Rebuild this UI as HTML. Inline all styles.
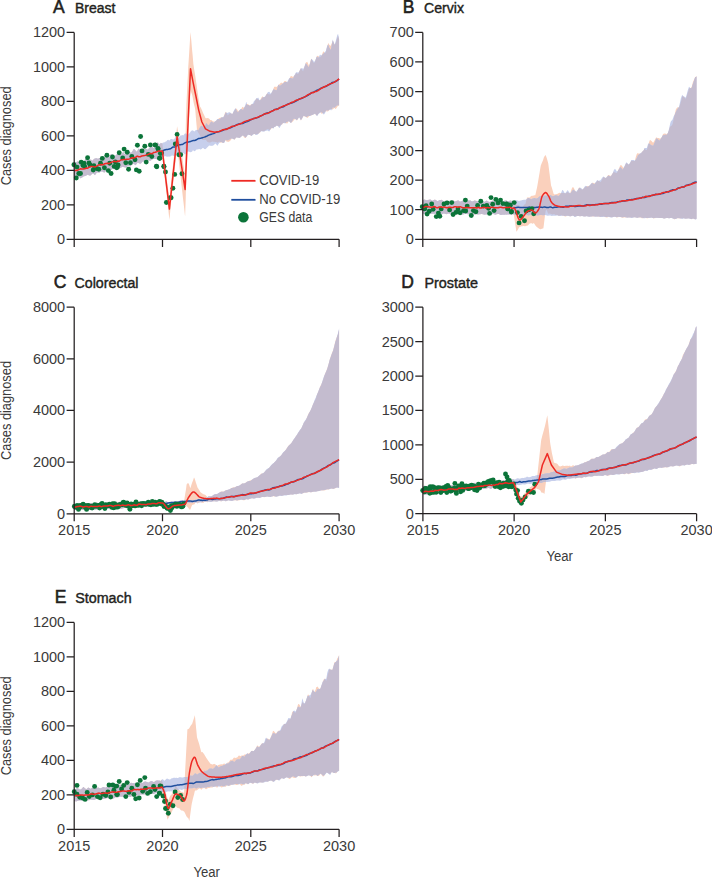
<!DOCTYPE html>
<html><head><meta charset="utf-8"><style>
html,body{margin:0;padding:0;background:#fff;}
svg{display:block;}
</style></head><body>
<svg width="712" height="878" viewBox="0 0 712 878">
<rect width="712" height="878" fill="#fff"/>
<clipPath id="cs0"><path d="M74.2,162.7 74.9,161.9 75.2,162.1 75.8,162.6 76.2,162.5 77.2,161.6 78.2,161.3 78.3,161.4 78.5,161.5 79.2,161.8 80.2,162.0 80.8,161.8 80.9,161.8 81.2,161.9 82.2,162.2 83.2,162.4 83.3,162.4 84.2,161.9 84.2,161.9 85.2,158.8 86.0,158.6 86.2,158.5 86.4,158.5 87.2,159.7 87.9,160.2 88.2,160.4 88.2,160.5 89.2,159.7 90.2,159.7 90.7,159.4 90.7,159.3 91.2,159.7 92.2,160.4 92.9,160.4 92.9,160.3 93.2,159.8 94.2,158.7 95.0,158.5 95.2,158.5 96.1,158.1 96.2,158.1 97.0,158.4 97.2,158.4 98.2,158.7 98.3,158.8 99.0,158.0 99.2,158.0 100.2,158.0 101.2,157.9 101.3,157.8 101.4,157.8 102.2,158.4 103.2,158.3 103.8,158.1 104.2,157.2 104.4,156.8 105.2,154.8 105.9,153.0 106.2,153.2 106.8,153.6 107.2,153.9 108.2,155.0 109.0,156.8 109.2,156.8 110.1,155.6 110.2,155.4 110.9,154.1 111.2,154.2 112.2,154.4 112.2,154.4 113.2,154.4 114.2,156.4 114.2,156.4 115.2,155.7 116.2,154.8 116.9,154.2 117.2,154.0 117.6,153.6 118.2,153.6 119.2,153.9 120.2,154.6 120.2,154.6 121.0,155.0 121.2,154.6 122.2,153.0 122.4,152.8 123.2,152.2 123.5,152.1 124.2,153.6 125.1,154.3 125.2,154.4 125.4,154.4 126.2,153.7 127.2,152.1 127.6,151.3 128.2,150.2 128.8,149.6 129.2,150.7 130.2,152.5 130.3,152.5 131.2,152.8 131.2,152.8 132.2,151.5 133.1,149.9 133.2,149.6 134.2,149.1 134.2,149.1 135.2,150.1 135.6,150.5 136.2,151.2 136.6,151.7 137.2,151.1 137.5,150.5 138.2,149.1 138.5,148.5 139.2,148.9 140.2,149.6 140.8,149.7 141.2,149.8 141.8,149.7 142.2,149.2 142.8,148.5 143.2,148.5 144.2,148.6 144.7,148.7 145.2,148.8 146.0,149.1 146.2,149.1 147.2,149.5 147.8,149.6 148.2,149.1 148.3,149.0 149.2,148.0 150.2,146.8 150.5,146.3 150.6,146.3 151.2,146.5 152.2,147.0 153.2,147.7 153.6,147.9 153.8,147.9 154.2,147.2 155.2,145.5 156.2,144.1 156.9,143.0 157.2,142.4 157.2,142.5 158.2,142.8 159.0,144.6 159.2,144.5 160.2,143.6 160.4,143.4 160.9,142.7 161.2,142.9 162.2,143.5 162.4,143.3 162.9,148.5 163.1,149.9 163.2,150.5 164.2,158.2 165.1,165.7 165.2,166.2 166.1,173.3 166.2,174.2 167.2,181.9 168.1,189.0 168.2,189.5 169.1,196.8 169.2,197.4 169.4,199.1 170.2,191.9 170.6,188.1 171.2,182.1 171.7,176.5 172.2,172.1 173.2,162.9 173.9,156.4 174.2,153.6 174.4,152.0 175.2,144.0 176.0,136.3 176.2,134.6 177.1,126.2 177.2,126.8 177.8,130.3 178.2,133.2 178.6,135.4 179.2,139.3 180.2,145.3 180.4,146.3 180.8,148.6 181.2,150.5 182.2,156.3 182.9,161.5 183.2,163.8 183.4,165.0 184.2,170.1 184.9,174.1 185.1,175.1 185.2,167.5 185.7,129.9 185.9,120.8 186.2,111.6 186.4,104.3 187.0,92.2 187.2,88.2 187.4,83.6 188.0,72.9 188.2,68.3 188.3,66.3 188.5,63.3 189.2,52.4 190.2,36.6 190.5,31.9 190.5,32.0 191.2,39.6 191.3,40.6 192.2,50.9 192.7,56.1 193.0,59.8 193.2,62.0 193.4,64.3 194.2,69.7 194.7,72.4 195.0,74.6 195.2,75.7 195.3,76.3 196.2,82.4 196.6,85.1 197.0,88.2 197.2,89.2 197.2,89.5 198.2,95.9 198.4,97.4 199.2,102.0 200.0,106.4 200.2,106.7 200.5,107.3 201.0,108.1 201.2,108.6 201.9,110.1 202.2,110.7 203.0,112.8 203.2,113.3 203.8,114.5 204.2,115.3 205.2,117.5 206.0,118.4 206.0,118.4 206.2,118.3 206.2,118.3 207.2,117.9 208.2,118.3 209.1,118.6 209.2,118.7 209.2,118.8 210.1,119.7 210.2,119.9 211.2,120.0 211.3,120.0 212.1,120.7 212.2,120.8 213.2,121.4 213.9,121.6 214.2,121.7 214.6,121.8 215.1,121.4 215.2,121.3 216.2,120.5 216.7,120.1 217.2,119.8 217.6,119.5 218.2,119.1 219.2,118.1 219.3,118.1 220.2,117.7 220.3,117.7 221.2,117.3 221.3,117.3 222.0,117.2 222.2,117.0 222.9,117.8 223.2,117.6 223.4,117.4 224.2,115.1 225.2,112.4 225.5,111.7 225.6,111.8 226.2,112.4 227.2,114.2 227.8,115.4 228.2,114.9 228.4,114.7 229.2,113.8 230.0,113.1 230.2,113.2 231.2,113.5 231.7,113.7 232.2,113.8 232.7,113.7 233.2,112.6 234.2,110.9 234.5,110.5 235.2,109.4 235.5,108.5 236.2,108.4 236.3,108.4 237.2,109.5 238.0,111.0 238.2,110.9 239.2,110.5 239.3,110.5 240.2,109.8 240.4,109.7 241.2,109.0 242.2,107.2 242.7,106.8 243.1,107.5 243.2,107.5 244.2,107.5 245.2,106.3 245.8,105.2 246.2,104.4 246.4,103.9 247.2,104.0 248.1,104.3 248.2,104.4 249.2,105.0 249.6,105.3 250.2,105.1 251.2,104.4 251.5,104.1 251.6,103.9 252.2,103.9 253.2,103.9 254.0,103.4 254.2,102.8 254.7,101.3 255.2,100.3 256.2,98.9 256.5,98.5 257.2,98.9 257.9,98.8 258.2,99.2 259.2,100.4 259.4,100.7 260.2,99.7 261.0,98.4 261.2,97.9 262.2,96.4 262.4,96.3 263.2,96.9 264.2,97.1 264.3,97.1 265.0,97.2 265.2,96.8 266.2,94.4 267.2,93.3 267.5,93.4 267.6,93.7 268.2,94.2 269.2,94.3 269.7,94.4 270.2,94.4 270.7,94.3 271.2,93.4 272.1,92.0 272.2,91.9 273.2,89.5 273.4,88.8 274.2,86.8 274.3,86.8 275.2,86.8 276.2,86.8 276.7,87.1 276.7,87.1 277.2,86.4 278.2,85.2 278.6,84.7 279.2,84.6 279.7,83.9 280.2,83.4 281.1,82.5 281.2,82.5 282.2,83.2 282.8,83.0 283.2,82.7 284.2,81.5 284.5,81.1 285.2,81.1 285.4,81.1 286.2,81.5 287.2,82.3 287.5,82.6 288.2,81.3 288.5,80.6 289.2,78.9 290.2,76.9 290.7,76.2 290.8,75.9 291.2,76.0 292.2,76.4 293.1,76.9 293.2,76.7 294.0,75.7 294.2,75.6 295.2,74.7 296.1,73.1 296.2,73.1 296.8,73.3 297.2,73.7 298.2,74.1 298.2,74.1 299.1,71.8 299.2,71.6 300.2,69.3 300.9,68.2 301.0,68.2 301.2,68.6 302.2,70.2 303.1,71.2 303.2,71.0 303.6,69.6 304.2,67.9 305.2,64.4 305.7,62.7 306.2,62.4 306.4,62.2 307.2,61.7 308.2,63.9 308.4,64.6 308.9,65.7 309.2,65.3 310.2,62.1 311.2,58.6 311.2,58.6 311.6,59.3 312.2,60.4 313.2,62.1 314.0,63.3 314.2,62.9 315.0,61.4 315.2,61.0 316.2,58.1 316.6,56.8 317.1,56.0 317.2,55.8 318.2,56.1 319.2,57.1 319.9,57.6 320.2,57.3 320.3,57.1 321.2,56.2 322.2,53.9 322.9,52.2 323.2,51.6 323.6,51.5 324.2,52.4 325.2,52.7 325.8,52.4 325.9,52.0 326.2,50.8 327.2,46.8 328.2,43.1 328.2,43.1 329.2,44.6 329.4,44.9 330.2,45.5 330.9,45.7 331.2,44.6 332.2,42.2 332.2,42.1 332.7,40.6 333.2,41.6 334.2,43.7 334.6,44.5 334.7,44.8 335.2,44.0 336.2,41.6 337.2,38.3 338.1,35.7 338.2,36.2 339.1,39.4 339.1,106.0 338.2,105.8 338.1,105.9 337.2,106.7 336.2,108.6 335.2,108.9 334.7,108.1 334.6,108.0 334.2,107.9 333.2,109.0 332.7,109.5 332.2,109.6 332.2,109.5 331.2,109.0 330.9,108.9 330.2,109.0 329.4,110.2 329.2,110.3 328.2,111.3 328.2,111.3 327.2,111.4 326.2,111.2 325.9,111.1 325.8,111.3 325.2,111.8 324.2,112.8 323.6,113.3 323.2,112.8 322.9,112.9 322.2,113.8 321.2,113.4 320.3,112.1 320.2,112.1 319.9,112.3 319.2,113.0 318.2,114.1 317.2,115.4 317.1,115.6 316.6,115.3 316.2,115.1 315.2,114.0 315.0,113.7 314.2,114.2 314.0,114.3 313.2,114.6 312.2,114.9 311.6,115.4 311.2,115.4 311.2,115.4 310.2,115.6 309.2,116.2 308.9,116.5 308.4,116.9 308.2,117.3 307.2,117.9 306.4,117.3 306.2,117.2 305.7,117.0 305.2,116.8 304.2,116.3 303.6,115.9 303.2,116.6 303.1,116.7 302.2,118.4 301.2,120.0 301.0,120.4 300.9,120.4 300.2,119.1 299.2,117.1 299.1,116.9 298.2,118.4 298.2,118.5 297.2,120.3 296.8,120.5 296.2,119.9 296.1,119.8 295.2,119.1 294.2,119.8 294.0,120.0 293.2,121.0 293.1,121.2 292.2,122.0 291.2,122.8 290.8,123.0 290.7,123.1 290.2,122.3 289.2,121.3 288.5,121.4 288.2,122.0 287.5,123.3 287.2,123.4 286.2,123.2 285.4,123.2 285.2,123.0 284.5,122.6 284.2,122.5 283.2,123.2 282.8,123.5 282.2,124.4 281.2,124.7 281.1,124.8 280.2,125.6 279.7,126.3 279.2,126.2 278.6,126.2 278.2,126.2 277.2,125.9 276.7,125.6 276.7,125.6 276.2,125.9 275.2,126.4 274.3,126.9 274.2,127.0 273.4,127.9 273.2,128.0 272.2,128.0 272.1,128.0 271.2,128.7 270.7,129.3 270.2,129.8 269.7,130.0 269.2,129.7 268.2,129.2 267.6,129.0 267.5,129.1 267.2,129.2 266.2,129.8 265.2,130.3 265.0,130.4 264.3,131.0 264.2,131.0 263.2,131.3 262.4,131.1 262.2,131.1 261.2,131.0 261.0,131.2 260.2,132.4 259.4,133.1 259.2,133.2 258.2,133.8 257.9,134.1 257.2,133.9 256.5,134.1 256.2,134.2 255.2,134.5 254.7,134.0 254.2,134.1 254.0,134.1 253.2,134.3 252.2,135.1 251.6,135.7 251.5,135.8 251.2,135.7 250.2,135.3 249.6,135.1 249.2,135.0 248.2,134.4 248.1,134.4 247.2,135.5 246.4,136.9 246.2,137.3 245.8,138.0 245.2,138.1 244.2,137.4 243.2,136.0 243.1,135.9 242.7,135.6 242.2,135.9 241.2,136.6 240.4,137.2 240.2,137.4 239.3,138.0 239.2,138.0 238.2,137.8 238.0,137.8 237.2,137.5 236.3,137.2 236.2,137.4 235.5,138.6 235.2,139.0 234.5,139.8 234.2,139.6 233.2,139.0 232.7,138.8 232.2,138.6 231.7,138.8 231.2,139.4 230.2,140.8 230.0,141.1 229.2,141.5 228.4,141.9 228.2,141.8 227.8,141.8 227.2,141.8 226.2,141.2 225.6,140.2 225.5,140.2 225.2,140.7 224.2,142.2 223.4,142.9 223.2,143.0 222.9,143.1 222.2,142.5 222.0,142.0 221.3,142.8 221.2,142.9 220.3,142.6 220.2,142.6 219.3,141.6 219.2,141.6 218.2,142.2 217.6,142.9 217.2,142.6 216.7,142.2 216.2,142.1 215.2,141.9 215.1,141.9 214.6,141.8 214.2,141.8 213.9,141.7 213.2,141.7 212.2,141.6 212.1,141.6 211.3,141.9 211.2,141.9 210.2,142.5 210.1,142.5 209.2,142.6 209.2,142.6 209.1,142.5 208.2,142.2 207.2,141.8 206.2,140.3 206.2,140.2 206.0,140.0 206.0,139.9 205.2,139.8 204.2,139.9 203.8,139.9 203.2,140.0 203.0,140.0 202.2,139.6 201.9,139.3 201.2,137.6 201.0,137.3 200.5,136.6 200.2,136.1 200.0,135.7 199.2,134.1 198.4,132.9 198.2,132.5 197.2,130.8 197.2,130.7 197.0,130.3 196.6,125.5 196.2,121.3 195.3,110.2 195.2,109.6 195.0,108.5 194.7,107.0 194.2,105.2 193.4,101.4 193.2,100.3 193.0,99.2 192.7,97.5 192.2,95.1 191.3,92.6 191.2,92.4 190.5,89.5 190.5,89.4 190.2,95.4 189.2,115.4 188.5,129.7 188.3,133.7 188.2,135.7 188.0,140.4 187.4,151.3 187.2,155.9 187.0,160.0 186.4,177.9 186.2,183.9 185.9,191.4 185.7,198.9 185.2,213.7 185.1,216.6 184.9,215.1 184.2,208.6 183.4,201.4 183.2,200.0 182.9,197.4 182.2,191.3 181.2,182.2 180.8,178.9 180.4,175.0 180.2,173.4 179.2,164.7 178.6,159.0 178.2,156.0 177.8,152.2 177.2,147.8 177.1,147.0 176.2,155.7 176.0,157.5 175.2,164.8 174.4,172.6 174.2,174.1 173.9,176.8 173.2,183.4 172.2,192.6 171.7,196.9 171.2,202.0 170.6,207.5 170.2,211.8 169.4,220.0 169.2,218.0 169.1,217.3 168.2,208.2 168.1,207.5 167.2,199.3 166.2,190.7 166.1,189.7 165.2,182.1 165.1,181.6 164.2,173.7 163.2,164.9 163.1,164.1 162.9,162.4 162.4,157.6 162.2,157.6 161.2,157.6 160.9,157.6 160.4,157.7 160.2,157.8 159.2,158.6 159.0,158.8 158.2,159.2 157.2,159.3 157.2,159.3 156.9,159.3 156.2,158.9 155.2,158.9 154.2,158.8 153.8,158.7 153.6,158.7 153.2,158.9 152.2,159.6 151.2,160.2 150.6,160.7 150.5,160.7 150.2,160.7 149.2,160.6 148.3,160.3 148.2,160.4 147.8,160.7 147.2,161.2 146.2,161.8 146.0,162.0 145.2,161.8 144.7,161.7 144.2,161.6 143.2,161.4 142.8,161.4 142.2,162.0 141.8,162.6 141.2,163.2 140.8,163.7 140.2,163.6 139.2,163.4 138.5,163.0 138.2,162.9 137.5,162.8 137.2,163.3 136.6,164.0 136.2,164.5 135.6,165.2 135.2,164.9 134.2,164.3 134.2,164.3 133.2,163.8 133.1,163.7 132.2,164.5 131.2,165.4 131.2,165.5 130.3,166.4 130.2,166.4 129.2,166.3 128.8,166.0 128.2,165.8 127.6,166.3 127.2,167.1 126.2,167.5 125.4,167.5 125.2,167.5 125.1,167.6 124.2,167.3 123.5,167.1 123.2,167.0 122.4,166.8 122.2,166.9 121.2,167.5 121.0,167.6 120.2,167.9 120.2,167.9 119.2,168.4 118.2,169.1 117.6,168.9 117.2,168.8 116.9,168.7 116.2,168.8 115.2,168.7 114.2,169.1 114.2,169.1 113.2,168.9 112.2,168.8 112.2,168.8 111.2,170.1 110.9,170.6 110.2,171.7 110.1,171.9 109.2,171.4 109.0,171.3 108.2,170.8 107.2,170.4 106.8,170.3 106.2,170.7 105.9,171.0 105.2,171.8 104.4,172.7 104.2,172.6 103.8,172.4 103.2,172.1 102.2,171.6 101.4,171.5 101.3,171.5 101.2,171.6 100.2,172.1 99.2,172.7 99.0,172.7 98.3,172.6 98.2,172.6 97.2,172.5 97.0,172.5 96.2,173.5 96.1,173.6 95.2,174.9 95.0,175.3 94.2,174.6 93.2,173.6 92.9,173.4 92.9,173.3 92.2,173.9 91.2,174.8 90.7,175.4 90.7,175.5 90.2,175.5 89.2,175.5 88.2,175.0 88.2,175.0 87.9,174.8 87.2,175.0 86.4,175.5 86.2,175.6 86.0,175.8 85.2,175.9 84.2,176.2 84.2,176.2 83.3,176.6 83.2,176.7 82.2,177.4 81.2,178.1 80.9,178.3 80.8,178.4 80.2,177.9 79.2,177.1 78.5,176.7 78.3,176.8 78.2,177.0 77.2,178.0 76.2,178.9 75.8,179.2 75.2,179.1 74.9,179.1 74.2,179.1Z"/></clipPath>
<path d="M74.2,162.7 74.9,161.9 75.2,162.1 75.8,162.6 76.2,162.5 77.2,161.6 78.2,161.3 78.3,161.4 78.5,161.5 79.2,161.8 80.2,162.0 80.8,161.8 80.9,161.8 81.2,161.9 82.2,162.2 83.2,162.4 83.3,162.4 84.2,161.9 84.2,161.9 85.2,158.8 86.0,158.6 86.2,158.5 86.4,158.5 87.2,159.7 87.9,160.2 88.2,160.4 88.2,160.5 89.2,159.7 90.2,159.7 90.7,159.4 90.7,159.3 91.2,159.7 92.2,160.4 92.9,160.4 92.9,160.3 93.2,159.8 94.2,158.7 95.0,158.5 95.2,158.5 96.1,158.1 96.2,158.1 97.0,158.4 97.2,158.4 98.2,158.7 98.3,158.8 99.0,158.0 99.2,158.0 100.2,158.0 101.2,157.9 101.3,157.8 101.4,157.8 102.2,158.4 103.2,158.3 103.8,158.1 104.2,157.2 104.4,156.8 105.2,154.8 105.9,153.0 106.2,153.2 106.8,153.6 107.2,153.9 108.2,155.0 109.0,156.8 109.2,156.8 110.1,155.6 110.2,155.4 110.9,154.1 111.2,154.2 112.2,154.4 112.2,154.4 113.2,154.4 114.2,156.4 114.2,156.4 115.2,155.7 116.2,154.8 116.9,154.2 117.2,154.0 117.6,153.6 118.2,153.6 119.2,153.9 120.2,154.6 120.2,154.6 121.0,155.0 121.2,154.6 122.2,153.0 122.4,152.8 123.2,152.2 123.5,152.1 124.2,153.6 125.1,154.3 125.2,154.4 125.4,154.4 126.2,153.7 127.2,152.1 127.6,151.3 128.2,150.2 128.8,149.6 129.2,150.7 130.2,152.5 130.3,152.5 131.2,152.8 131.2,152.8 132.2,151.5 133.1,149.9 133.2,149.6 134.2,149.1 134.2,149.1 135.2,150.1 135.6,150.5 136.2,151.2 136.6,151.7 137.2,151.1 137.5,150.5 138.2,149.1 138.5,148.5 139.2,148.9 140.2,149.6 140.8,149.7 141.2,149.8 141.8,149.7 142.2,149.2 142.8,148.5 143.2,148.5 144.2,148.6 144.7,148.7 145.2,148.8 146.0,149.1 146.2,149.1 147.2,149.5 147.8,149.6 148.2,149.1 148.3,149.0 149.2,148.0 150.2,146.8 150.5,146.3 150.6,146.3 151.2,146.5 152.2,147.0 153.2,147.7 153.6,147.9 153.8,147.9 154.2,147.2 155.2,145.5 156.2,144.1 156.9,143.0 157.2,142.4 157.2,142.5 158.2,142.8 159.0,144.6 159.2,144.5 160.2,143.6 160.4,143.4 160.9,142.7 161.2,142.9 162.2,143.5 162.4,143.3 162.9,148.5 163.1,149.9 163.2,150.5 164.2,158.2 165.1,165.7 165.2,166.2 166.1,173.3 166.2,174.2 167.2,181.9 168.1,189.0 168.2,189.5 169.1,196.8 169.2,197.4 169.4,199.1 170.2,191.9 170.6,188.1 171.2,182.1 171.7,176.5 172.2,172.1 173.2,162.9 173.9,156.4 174.2,153.6 174.4,152.0 175.2,144.0 176.0,136.3 176.2,134.6 177.1,126.2 177.2,126.8 177.8,130.3 178.2,133.2 178.6,135.4 179.2,139.3 180.2,145.3 180.4,146.3 180.8,148.6 181.2,150.5 182.2,156.3 182.9,161.5 183.2,163.8 183.4,165.0 184.2,170.1 184.9,174.1 185.1,175.1 185.2,167.5 185.7,129.9 185.9,120.8 186.2,111.6 186.4,104.3 187.0,92.2 187.2,88.2 187.4,83.6 188.0,72.9 188.2,68.3 188.3,66.3 188.5,63.3 189.2,52.4 190.2,36.6 190.5,31.9 190.5,32.0 191.2,39.6 191.3,40.6 192.2,50.9 192.7,56.1 193.0,59.8 193.2,62.0 193.4,64.3 194.2,69.7 194.7,72.4 195.0,74.6 195.2,75.7 195.3,76.3 196.2,82.4 196.6,85.1 197.0,88.2 197.2,89.2 197.2,89.5 198.2,95.9 198.4,97.4 199.2,102.0 200.0,106.4 200.2,106.7 200.5,107.3 201.0,108.1 201.2,108.6 201.9,110.1 202.2,110.7 203.0,112.8 203.2,113.3 203.8,114.5 204.2,115.3 205.2,117.5 206.0,118.4 206.0,118.4 206.2,118.3 206.2,118.3 207.2,117.9 208.2,118.3 209.1,118.6 209.2,118.7 209.2,118.8 210.1,119.7 210.2,119.9 211.2,120.0 211.3,120.0 212.1,120.7 212.2,120.8 213.2,121.4 213.9,121.6 214.2,121.7 214.6,121.8 215.1,121.4 215.2,121.3 216.2,120.5 216.7,120.1 217.2,119.8 217.6,119.5 218.2,119.1 219.2,118.1 219.3,118.1 220.2,117.7 220.3,117.7 221.2,117.3 221.3,117.3 222.0,117.2 222.2,117.0 222.9,117.8 223.2,117.6 223.4,117.4 224.2,115.1 225.2,112.4 225.5,111.7 225.6,111.8 226.2,112.4 227.2,114.2 227.8,115.4 228.2,114.9 228.4,114.7 229.2,113.8 230.0,113.1 230.2,113.2 231.2,113.5 231.7,113.7 232.2,113.8 232.7,113.7 233.2,112.6 234.2,110.9 234.5,110.5 235.2,109.4 235.5,108.5 236.2,108.4 236.3,108.4 237.2,109.5 238.0,111.0 238.2,110.9 239.2,110.5 239.3,110.5 240.2,109.8 240.4,109.7 241.2,109.0 242.2,107.2 242.7,106.8 243.1,107.5 243.2,107.5 244.2,107.5 245.2,106.3 245.8,105.2 246.2,104.4 246.4,103.9 247.2,104.0 248.1,104.3 248.2,104.4 249.2,105.0 249.6,105.3 250.2,105.1 251.2,104.4 251.5,104.1 251.6,103.9 252.2,103.9 253.2,103.9 254.0,103.4 254.2,102.8 254.7,101.3 255.2,100.3 256.2,98.9 256.5,98.5 257.2,98.9 257.9,98.8 258.2,99.2 259.2,100.4 259.4,100.7 260.2,99.7 261.0,98.4 261.2,97.9 262.2,96.4 262.4,96.3 263.2,96.9 264.2,97.1 264.3,97.1 265.0,97.2 265.2,96.8 266.2,94.4 267.2,93.3 267.5,93.4 267.6,93.7 268.2,94.2 269.2,94.3 269.7,94.4 270.2,94.4 270.7,94.3 271.2,93.4 272.1,92.0 272.2,91.9 273.2,89.5 273.4,88.8 274.2,86.8 274.3,86.8 275.2,86.8 276.2,86.8 276.7,87.1 276.7,87.1 277.2,86.4 278.2,85.2 278.6,84.7 279.2,84.6 279.7,83.9 280.2,83.4 281.1,82.5 281.2,82.5 282.2,83.2 282.8,83.0 283.2,82.7 284.2,81.5 284.5,81.1 285.2,81.1 285.4,81.1 286.2,81.5 287.2,82.3 287.5,82.6 288.2,81.3 288.5,80.6 289.2,78.9 290.2,76.9 290.7,76.2 290.8,75.9 291.2,76.0 292.2,76.4 293.1,76.9 293.2,76.7 294.0,75.7 294.2,75.6 295.2,74.7 296.1,73.1 296.2,73.1 296.8,73.3 297.2,73.7 298.2,74.1 298.2,74.1 299.1,71.8 299.2,71.6 300.2,69.3 300.9,68.2 301.0,68.2 301.2,68.6 302.2,70.2 303.1,71.2 303.2,71.0 303.6,69.6 304.2,67.9 305.2,64.4 305.7,62.7 306.2,62.4 306.4,62.2 307.2,61.7 308.2,63.9 308.4,64.6 308.9,65.7 309.2,65.3 310.2,62.1 311.2,58.6 311.2,58.6 311.6,59.3 312.2,60.4 313.2,62.1 314.0,63.3 314.2,62.9 315.0,61.4 315.2,61.0 316.2,58.1 316.6,56.8 317.1,56.0 317.2,55.8 318.2,56.1 319.2,57.1 319.9,57.6 320.2,57.3 320.3,57.1 321.2,56.2 322.2,53.9 322.9,52.2 323.2,51.6 323.6,51.5 324.2,52.4 325.2,52.7 325.8,52.4 325.9,52.0 326.2,50.8 327.2,46.8 328.2,43.1 328.2,43.1 329.2,44.6 329.4,44.9 330.2,45.5 330.9,45.7 331.2,44.6 332.2,42.2 332.2,42.1 332.7,40.6 333.2,41.6 334.2,43.7 334.6,44.5 334.7,44.8 335.2,44.0 336.2,41.6 337.2,38.3 338.1,35.7 338.2,36.2 339.1,39.4 339.1,106.0 338.2,105.8 338.1,105.9 337.2,106.7 336.2,108.6 335.2,108.9 334.7,108.1 334.6,108.0 334.2,107.9 333.2,109.0 332.7,109.5 332.2,109.6 332.2,109.5 331.2,109.0 330.9,108.9 330.2,109.0 329.4,110.2 329.2,110.3 328.2,111.3 328.2,111.3 327.2,111.4 326.2,111.2 325.9,111.1 325.8,111.3 325.2,111.8 324.2,112.8 323.6,113.3 323.2,112.8 322.9,112.9 322.2,113.8 321.2,113.4 320.3,112.1 320.2,112.1 319.9,112.3 319.2,113.0 318.2,114.1 317.2,115.4 317.1,115.6 316.6,115.3 316.2,115.1 315.2,114.0 315.0,113.7 314.2,114.2 314.0,114.3 313.2,114.6 312.2,114.9 311.6,115.4 311.2,115.4 311.2,115.4 310.2,115.6 309.2,116.2 308.9,116.5 308.4,116.9 308.2,117.3 307.2,117.9 306.4,117.3 306.2,117.2 305.7,117.0 305.2,116.8 304.2,116.3 303.6,115.9 303.2,116.6 303.1,116.7 302.2,118.4 301.2,120.0 301.0,120.4 300.9,120.4 300.2,119.1 299.2,117.1 299.1,116.9 298.2,118.4 298.2,118.5 297.2,120.3 296.8,120.5 296.2,119.9 296.1,119.8 295.2,119.1 294.2,119.8 294.0,120.0 293.2,121.0 293.1,121.2 292.2,122.0 291.2,122.8 290.8,123.0 290.7,123.1 290.2,122.3 289.2,121.3 288.5,121.4 288.2,122.0 287.5,123.3 287.2,123.4 286.2,123.2 285.4,123.2 285.2,123.0 284.5,122.6 284.2,122.5 283.2,123.2 282.8,123.5 282.2,124.4 281.2,124.7 281.1,124.8 280.2,125.6 279.7,126.3 279.2,126.2 278.6,126.2 278.2,126.2 277.2,125.9 276.7,125.6 276.7,125.6 276.2,125.9 275.2,126.4 274.3,126.9 274.2,127.0 273.4,127.9 273.2,128.0 272.2,128.0 272.1,128.0 271.2,128.7 270.7,129.3 270.2,129.8 269.7,130.0 269.2,129.7 268.2,129.2 267.6,129.0 267.5,129.1 267.2,129.2 266.2,129.8 265.2,130.3 265.0,130.4 264.3,131.0 264.2,131.0 263.2,131.3 262.4,131.1 262.2,131.1 261.2,131.0 261.0,131.2 260.2,132.4 259.4,133.1 259.2,133.2 258.2,133.8 257.9,134.1 257.2,133.9 256.5,134.1 256.2,134.2 255.2,134.5 254.7,134.0 254.2,134.1 254.0,134.1 253.2,134.3 252.2,135.1 251.6,135.7 251.5,135.8 251.2,135.7 250.2,135.3 249.6,135.1 249.2,135.0 248.2,134.4 248.1,134.4 247.2,135.5 246.4,136.9 246.2,137.3 245.8,138.0 245.2,138.1 244.2,137.4 243.2,136.0 243.1,135.9 242.7,135.6 242.2,135.9 241.2,136.6 240.4,137.2 240.2,137.4 239.3,138.0 239.2,138.0 238.2,137.8 238.0,137.8 237.2,137.5 236.3,137.2 236.2,137.4 235.5,138.6 235.2,139.0 234.5,139.8 234.2,139.6 233.2,139.0 232.7,138.8 232.2,138.6 231.7,138.8 231.2,139.4 230.2,140.8 230.0,141.1 229.2,141.5 228.4,141.9 228.2,141.8 227.8,141.8 227.2,141.8 226.2,141.2 225.6,140.2 225.5,140.2 225.2,140.7 224.2,142.2 223.4,142.9 223.2,143.0 222.9,143.1 222.2,142.5 222.0,142.0 221.3,142.8 221.2,142.9 220.3,142.6 220.2,142.6 219.3,141.6 219.2,141.6 218.2,142.2 217.6,142.9 217.2,142.6 216.7,142.2 216.2,142.1 215.2,141.9 215.1,141.9 214.6,141.8 214.2,141.8 213.9,141.7 213.2,141.7 212.2,141.6 212.1,141.6 211.3,141.9 211.2,141.9 210.2,142.5 210.1,142.5 209.2,142.6 209.2,142.6 209.1,142.5 208.2,142.2 207.2,141.8 206.2,140.3 206.2,140.2 206.0,140.0 206.0,139.9 205.2,139.8 204.2,139.9 203.8,139.9 203.2,140.0 203.0,140.0 202.2,139.6 201.9,139.3 201.2,137.6 201.0,137.3 200.5,136.6 200.2,136.1 200.0,135.7 199.2,134.1 198.4,132.9 198.2,132.5 197.2,130.8 197.2,130.7 197.0,130.3 196.6,125.5 196.2,121.3 195.3,110.2 195.2,109.6 195.0,108.5 194.7,107.0 194.2,105.2 193.4,101.4 193.2,100.3 193.0,99.2 192.7,97.5 192.2,95.1 191.3,92.6 191.2,92.4 190.5,89.5 190.5,89.4 190.2,95.4 189.2,115.4 188.5,129.7 188.3,133.7 188.2,135.7 188.0,140.4 187.4,151.3 187.2,155.9 187.0,160.0 186.4,177.9 186.2,183.9 185.9,191.4 185.7,198.9 185.2,213.7 185.1,216.6 184.9,215.1 184.2,208.6 183.4,201.4 183.2,200.0 182.9,197.4 182.2,191.3 181.2,182.2 180.8,178.9 180.4,175.0 180.2,173.4 179.2,164.7 178.6,159.0 178.2,156.0 177.8,152.2 177.2,147.8 177.1,147.0 176.2,155.7 176.0,157.5 175.2,164.8 174.4,172.6 174.2,174.1 173.9,176.8 173.2,183.4 172.2,192.6 171.7,196.9 171.2,202.0 170.6,207.5 170.2,211.8 169.4,220.0 169.2,218.0 169.1,217.3 168.2,208.2 168.1,207.5 167.2,199.3 166.2,190.7 166.1,189.7 165.2,182.1 165.1,181.6 164.2,173.7 163.2,164.9 163.1,164.1 162.9,162.4 162.4,157.6 162.2,157.6 161.2,157.6 160.9,157.6 160.4,157.7 160.2,157.8 159.2,158.6 159.0,158.8 158.2,159.2 157.2,159.3 157.2,159.3 156.9,159.3 156.2,158.9 155.2,158.9 154.2,158.8 153.8,158.7 153.6,158.7 153.2,158.9 152.2,159.6 151.2,160.2 150.6,160.7 150.5,160.7 150.2,160.7 149.2,160.6 148.3,160.3 148.2,160.4 147.8,160.7 147.2,161.2 146.2,161.8 146.0,162.0 145.2,161.8 144.7,161.7 144.2,161.6 143.2,161.4 142.8,161.4 142.2,162.0 141.8,162.6 141.2,163.2 140.8,163.7 140.2,163.6 139.2,163.4 138.5,163.0 138.2,162.9 137.5,162.8 137.2,163.3 136.6,164.0 136.2,164.5 135.6,165.2 135.2,164.9 134.2,164.3 134.2,164.3 133.2,163.8 133.1,163.7 132.2,164.5 131.2,165.4 131.2,165.5 130.3,166.4 130.2,166.4 129.2,166.3 128.8,166.0 128.2,165.8 127.6,166.3 127.2,167.1 126.2,167.5 125.4,167.5 125.2,167.5 125.1,167.6 124.2,167.3 123.5,167.1 123.2,167.0 122.4,166.8 122.2,166.9 121.2,167.5 121.0,167.6 120.2,167.9 120.2,167.9 119.2,168.4 118.2,169.1 117.6,168.9 117.2,168.8 116.9,168.7 116.2,168.8 115.2,168.7 114.2,169.1 114.2,169.1 113.2,168.9 112.2,168.8 112.2,168.8 111.2,170.1 110.9,170.6 110.2,171.7 110.1,171.9 109.2,171.4 109.0,171.3 108.2,170.8 107.2,170.4 106.8,170.3 106.2,170.7 105.9,171.0 105.2,171.8 104.4,172.7 104.2,172.6 103.8,172.4 103.2,172.1 102.2,171.6 101.4,171.5 101.3,171.5 101.2,171.6 100.2,172.1 99.2,172.7 99.0,172.7 98.3,172.6 98.2,172.6 97.2,172.5 97.0,172.5 96.2,173.5 96.1,173.6 95.2,174.9 95.0,175.3 94.2,174.6 93.2,173.6 92.9,173.4 92.9,173.3 92.2,173.9 91.2,174.8 90.7,175.4 90.7,175.5 90.2,175.5 89.2,175.5 88.2,175.0 88.2,175.0 87.9,174.8 87.2,175.0 86.4,175.5 86.2,175.6 86.0,175.8 85.2,175.9 84.2,176.2 84.2,176.2 83.3,176.6 83.2,176.7 82.2,177.4 81.2,178.1 80.9,178.3 80.8,178.4 80.2,177.9 79.2,177.1 78.5,176.7 78.3,176.8 78.2,177.0 77.2,178.0 76.2,178.9 75.8,179.2 75.2,179.1 74.9,179.1 74.2,179.1Z" fill="#fad0bc"/>
<path d="M74.2,162.7 74.9,161.9 75.2,162.1 75.8,162.6 76.2,162.5 77.2,161.6 78.2,161.3 78.3,161.4 78.5,161.5 79.2,161.8 80.2,162.0 80.8,161.8 80.9,161.8 81.2,161.9 82.2,162.2 83.2,162.4 83.3,162.4 84.2,161.9 84.2,161.9 85.2,158.8 86.0,158.6 86.2,158.5 86.4,158.5 87.2,159.7 87.9,160.2 88.2,160.4 88.2,160.5 89.2,159.7 90.2,159.7 90.7,159.4 90.7,159.3 91.2,159.7 92.2,160.4 92.9,160.4 92.9,160.3 93.2,159.8 94.2,158.7 95.0,158.5 95.2,158.5 96.1,158.1 96.2,158.1 97.0,158.4 97.2,158.4 98.2,158.7 98.3,158.8 99.0,158.0 99.2,158.0 100.2,158.0 101.2,157.9 101.3,157.8 101.4,157.8 102.2,158.4 103.2,158.3 103.8,158.1 104.2,157.2 104.4,156.8 105.2,154.8 105.9,153.0 106.2,153.2 106.8,153.6 107.2,153.9 108.2,155.0 109.0,156.8 109.2,156.8 110.1,155.6 110.2,155.4 110.9,154.1 111.2,154.2 112.2,154.4 112.2,154.4 113.2,154.4 114.2,156.4 114.2,156.4 115.2,155.7 116.2,154.8 116.9,154.2 117.2,154.0 117.6,153.6 118.2,153.6 119.2,153.9 120.2,154.6 120.2,154.6 121.0,155.0 121.2,154.6 122.2,153.0 122.4,152.8 123.2,152.2 123.5,152.1 124.2,153.6 125.1,154.3 125.2,154.4 125.4,154.4 126.2,153.7 127.2,152.1 127.6,151.3 128.2,150.2 128.8,149.6 129.2,150.7 130.2,152.5 130.3,152.5 131.2,152.8 131.2,152.8 132.2,151.5 133.1,149.9 133.2,149.6 134.2,149.1 134.2,149.1 135.2,150.1 135.6,150.5 136.2,151.2 136.6,151.7 137.2,151.1 137.5,150.5 138.2,149.1 138.5,148.5 139.2,148.9 140.2,149.6 140.8,149.7 141.2,149.8 141.8,149.7 142.2,149.2 142.8,148.5 143.2,148.5 144.2,148.6 144.7,148.7 145.2,148.8 146.0,149.1 146.2,149.1 147.2,149.5 147.8,149.6 148.2,149.1 148.3,149.0 149.2,148.0 150.2,146.8 150.5,146.3 150.6,146.3 151.2,146.5 152.2,147.0 153.2,147.7 153.6,147.9 153.8,147.9 154.2,147.2 155.2,145.5 156.2,144.1 156.9,143.0 157.2,142.4 157.2,142.5 158.2,142.8 159.0,144.6 159.2,144.5 160.2,143.6 160.4,143.4 160.9,142.7 161.2,142.9 162.2,143.5 162.4,143.3 162.9,142.6 163.1,142.4 163.2,142.4 164.2,142.4 165.1,141.7 165.2,141.7 166.1,141.6 166.2,141.5 167.2,140.3 168.1,139.8 168.2,139.8 169.1,140.4 169.2,140.5 169.4,140.6 170.2,139.8 170.6,139.1 171.2,138.9 171.7,139.1 172.2,139.3 173.2,139.5 173.9,139.3 174.2,138.9 174.4,138.7 175.2,137.5 176.0,136.5 176.2,136.7 177.1,137.2 177.2,137.2 177.8,137.5 178.2,137.7 178.6,137.9 179.2,137.0 180.2,135.7 180.4,135.5 180.8,135.5 181.2,135.4 182.2,134.9 182.9,135.2 183.2,135.3 183.4,135.4 184.2,134.3 184.9,133.4 185.1,133.4 185.2,133.4 185.7,133.4 185.9,133.5 186.2,133.7 186.4,133.9 187.0,134.4 187.2,134.5 187.4,134.6 188.0,134.7 188.2,134.5 188.3,134.5 188.5,134.3 189.2,133.6 190.2,132.2 190.5,131.7 190.5,131.7 191.2,130.8 191.3,130.7 192.2,130.4 192.7,130.2 193.0,130.5 193.2,130.6 193.4,130.8 194.2,131.4 194.7,131.2 195.0,130.8 195.2,130.6 195.3,130.5 196.2,130.0 196.6,129.8 197.0,129.9 197.2,130.0 197.2,130.0 198.2,130.2 198.4,130.2 199.2,128.6 200.0,127.2 200.2,126.9 200.5,126.4 201.0,125.7 201.2,125.7 201.9,126.0 202.2,126.2 203.0,126.6 203.2,126.6 203.8,127.4 204.2,127.2 205.2,125.7 206.0,123.4 206.0,123.3 206.2,122.9 206.2,122.9 207.2,124.2 208.2,125.3 209.1,125.3 209.2,125.1 209.2,125.0 210.1,123.0 210.2,122.9 211.2,121.4 211.3,121.4 212.1,122.0 212.2,122.1 213.2,122.8 213.9,122.7 214.2,122.3 214.6,121.7 215.1,121.2 215.2,121.2 216.2,121.0 216.7,119.8 217.2,119.0 217.6,118.9 218.2,118.9 219.2,119.4 219.3,119.4 220.2,118.8 220.3,118.8 221.2,117.7 221.3,117.6 222.0,117.6 222.2,117.5 222.9,117.1 223.2,117.0 223.4,117.0 224.2,115.7 225.2,113.8 225.5,112.8 225.6,112.7 226.2,112.6 227.2,112.8 227.8,113.1 228.2,112.4 228.4,112.4 229.2,112.3 230.0,112.2 230.2,112.4 231.2,113.4 231.7,113.8 232.2,114.0 232.7,113.5 233.2,112.1 234.2,109.9 234.5,109.5 235.2,108.5 235.5,108.3 236.2,109.8 236.3,110.0 237.2,111.6 238.0,112.4 238.2,112.2 239.2,110.8 239.3,110.6 240.2,109.2 240.4,108.9 241.2,109.1 242.2,109.6 242.7,109.9 243.1,109.9 243.2,109.8 244.2,107.7 245.2,105.5 245.8,103.5 246.2,102.1 246.4,102.0 247.2,104.9 248.1,104.9 248.2,104.8 249.2,105.5 249.6,106.1 250.2,105.9 251.2,104.8 251.5,104.4 251.6,104.2 252.2,104.1 253.2,102.9 254.0,101.0 254.2,100.7 254.7,100.4 255.2,100.2 256.2,98.4 256.5,97.9 257.2,98.3 257.9,97.7 258.2,97.5 259.2,99.5 259.4,100.1 260.2,100.3 261.0,99.4 261.2,99.2 262.2,97.9 262.4,97.6 263.2,97.4 264.2,97.0 264.3,96.9 265.0,96.6 265.2,96.3 266.2,95.1 267.2,93.5 267.5,92.7 267.6,92.5 268.2,92.1 269.2,91.8 269.7,92.2 270.2,93.0 270.7,93.7 271.2,93.2 272.1,91.5 272.2,91.3 273.2,89.6 273.4,89.4 274.2,89.5 274.3,89.6 275.2,90.0 276.2,90.2 276.7,90.2 276.7,90.2 277.2,88.9 278.2,85.0 278.6,84.6 279.2,85.5 279.7,85.8 280.2,85.6 281.1,85.2 281.2,85.0 282.2,84.0 282.8,83.8 283.2,83.5 284.2,82.4 284.5,82.0 285.2,82.0 285.4,82.0 286.2,82.1 287.2,81.8 287.5,81.6 288.2,80.0 288.5,79.4 289.2,78.3 290.2,78.0 290.7,77.9 290.8,77.8 291.2,78.2 292.2,78.4 293.1,78.6 293.2,78.4 294.0,76.3 294.2,75.8 295.2,73.8 296.1,72.2 296.2,72.2 296.8,72.2 297.2,72.3 298.2,72.8 298.2,72.8 299.1,71.7 299.2,71.6 300.2,69.7 300.9,68.2 301.0,68.3 301.2,68.5 302.2,67.9 303.1,69.2 303.2,69.1 303.6,68.2 304.2,67.0 305.2,64.6 305.7,63.2 306.2,63.8 306.4,64.1 307.2,65.2 308.2,66.5 308.4,66.7 308.9,67.2 309.2,66.1 310.2,63.0 311.2,58.9 311.2,58.9 311.6,58.9 312.2,59.4 313.2,60.6 314.0,62.0 314.2,61.8 315.0,60.9 315.2,60.6 316.2,57.9 316.6,56.8 317.1,56.7 317.2,56.8 318.2,58.0 319.2,56.2 319.9,54.7 320.2,54.6 320.3,54.8 321.2,55.6 322.2,54.9 322.9,54.0 323.2,53.8 323.6,53.4 324.2,53.0 325.2,51.6 325.8,50.9 325.9,50.5 326.2,49.3 327.2,45.8 328.2,44.6 328.2,44.7 329.2,47.4 329.4,47.7 330.2,49.1 330.9,50.1 331.2,48.2 332.2,42.6 332.2,42.5 332.7,39.6 333.2,40.8 334.2,43.6 334.6,44.6 334.7,44.8 335.2,43.0 336.2,39.3 337.2,35.2 338.1,33.8 338.2,34.4 339.1,38.9 339.1,105.3 338.2,105.2 338.1,105.2 337.2,105.2 336.2,106.1 335.2,107.0 334.7,107.5 334.6,107.6 334.2,107.6 333.2,107.3 332.7,107.2 332.2,108.5 332.2,108.5 331.2,110.6 330.9,110.3 330.2,109.7 329.4,109.5 329.2,109.7 328.2,110.5 328.2,110.5 327.2,110.3 326.2,110.2 325.9,110.7 325.8,111.1 325.2,112.8 324.2,114.3 323.6,114.6 323.2,113.9 322.9,113.4 322.2,112.4 321.2,112.1 320.3,112.6 320.2,112.9 319.9,113.4 319.2,113.1 318.2,114.4 317.2,116.1 317.1,116.3 316.6,115.7 316.2,115.3 315.2,113.8 315.0,113.5 314.2,114.0 314.0,114.1 313.2,114.7 312.2,114.9 311.6,115.1 311.2,115.3 311.2,115.3 310.2,116.0 309.2,116.0 308.9,115.9 308.4,115.8 308.2,115.9 307.2,116.6 306.4,117.0 306.2,116.9 305.7,116.6 305.2,116.3 304.2,115.9 303.6,115.8 303.2,116.5 303.1,116.6 302.2,118.2 301.2,119.8 301.0,120.2 300.9,120.2 300.2,119.0 299.2,117.5 299.1,117.4 298.2,118.4 298.2,118.5 297.2,119.8 296.8,120.0 296.2,119.5 296.1,119.4 295.2,119.0 294.2,118.6 294.0,118.5 293.2,119.3 293.1,119.5 292.2,121.0 291.2,122.7 290.8,122.9 290.7,123.0 290.2,122.3 289.2,121.4 288.5,121.1 288.2,121.4 287.5,121.7 287.2,121.8 286.2,122.2 285.4,123.2 285.2,123.2 284.5,123.3 284.2,123.2 283.2,123.1 282.8,123.0 282.2,123.8 281.2,125.1 281.1,125.2 280.2,126.8 279.7,127.8 279.2,128.1 278.6,127.0 278.2,126.2 277.2,125.6 276.7,125.5 276.7,125.5 276.2,126.1 275.2,126.9 274.3,127.1 274.2,127.3 273.4,128.5 273.2,128.8 272.2,128.0 272.1,127.9 271.2,127.9 270.7,128.9 270.2,129.8 269.7,130.9 269.2,131.4 268.2,130.9 267.6,130.5 267.5,130.5 267.2,130.6 266.2,130.8 265.2,131.1 265.0,131.2 264.3,131.6 264.2,131.7 263.2,131.5 262.4,131.4 262.2,131.4 261.2,131.3 261.0,131.2 260.2,131.8 259.4,132.4 259.2,132.7 258.2,134.1 257.9,134.5 257.2,134.7 256.5,135.0 256.2,135.1 255.2,134.4 254.7,133.9 254.2,133.9 254.0,133.9 253.2,134.5 252.2,135.5 251.6,135.9 251.5,136.0 251.2,135.7 250.2,134.9 249.6,134.9 249.2,134.9 248.2,134.7 248.1,134.7 247.2,135.8 246.4,136.7 246.2,137.0 245.8,137.4 245.2,137.0 244.2,136.3 243.2,135.5 243.1,135.5 242.7,135.2 242.2,135.7 241.2,136.7 240.4,137.4 240.2,137.5 239.3,138.0 239.2,138.0 238.2,137.5 238.0,137.5 237.2,137.4 236.3,137.4 236.2,137.5 235.5,138.3 235.2,138.6 234.5,139.6 234.2,139.4 233.2,138.9 232.7,138.7 232.2,138.5 231.7,138.3 231.2,138.6 230.2,139.1 230.0,139.2 229.2,139.6 228.4,140.1 228.2,140.2 227.8,140.2 227.2,140.3 226.2,140.0 225.6,139.8 225.5,139.9 225.2,140.4 224.2,142.9 223.4,142.8 223.2,142.7 222.9,142.9 222.2,142.4 222.0,142.3 221.3,142.1 221.2,142.1 220.3,142.1 220.2,142.2 219.3,143.0 219.2,143.1 218.2,144.6 217.6,145.7 217.2,145.5 216.7,144.9 216.2,144.3 215.2,143.6 215.1,143.6 214.6,144.2 214.2,144.7 213.9,144.9 213.2,145.4 212.2,145.8 212.1,145.9 211.3,145.7 211.2,145.7 210.2,145.8 210.1,145.7 209.2,145.5 209.2,145.6 209.1,145.6 208.2,146.5 207.2,147.5 206.2,148.5 206.2,148.6 206.0,148.8 206.0,148.8 205.2,149.3 204.2,149.0 203.8,148.6 203.2,147.9 203.0,147.8 202.2,148.4 201.9,148.7 201.2,149.2 201.0,149.2 200.5,149.5 200.2,149.4 200.0,149.3 199.2,149.1 198.4,149.3 198.2,149.3 197.2,149.5 197.2,149.5 197.0,149.5 196.6,149.6 196.2,149.7 195.3,150.8 195.2,150.9 195.0,151.2 194.7,151.3 194.2,151.1 193.4,150.5 193.2,150.4 193.0,150.3 192.7,150.5 192.2,151.5 191.3,152.0 191.2,152.0 190.5,152.3 190.5,152.3 190.2,152.2 189.2,151.7 188.5,151.5 188.3,151.6 188.2,151.6 188.0,151.6 187.4,151.7 187.2,152.0 187.0,152.2 186.4,153.0 186.2,153.2 185.9,153.5 185.7,153.8 185.2,154.2 185.1,154.3 184.9,154.4 184.2,153.7 183.4,153.1 183.2,153.0 182.9,152.8 182.2,153.4 181.2,154.3 180.8,154.6 180.4,154.6 180.2,154.6 179.2,154.1 178.6,153.8 178.2,153.7 177.8,153.5 177.2,153.8 177.1,153.8 176.2,154.3 176.0,154.5 175.2,155.3 174.4,156.1 174.2,156.1 173.9,156.0 173.2,155.7 172.2,155.5 171.7,155.5 171.2,156.1 170.6,156.3 170.2,156.4 169.4,156.6 169.2,156.8 169.1,156.8 168.2,156.5 168.1,156.4 167.2,156.8 166.2,156.6 166.1,156.5 165.2,156.0 165.1,156.0 164.2,156.4 163.2,157.2 163.1,157.2 162.9,157.4 162.4,157.6 162.2,157.6 161.2,157.6 160.9,157.6 160.4,157.7 160.2,157.8 159.2,158.6 159.0,158.8 158.2,159.2 157.2,159.3 157.2,159.3 156.9,159.3 156.2,158.9 155.2,158.9 154.2,158.8 153.8,158.7 153.6,158.7 153.2,158.9 152.2,159.6 151.2,160.2 150.6,160.7 150.5,160.7 150.2,160.7 149.2,160.6 148.3,160.3 148.2,160.4 147.8,160.7 147.2,161.2 146.2,161.8 146.0,162.0 145.2,161.8 144.7,161.7 144.2,161.6 143.2,161.4 142.8,161.4 142.2,162.0 141.8,162.6 141.2,163.2 140.8,163.7 140.2,163.6 139.2,163.4 138.5,163.0 138.2,162.9 137.5,162.8 137.2,163.3 136.6,164.0 136.2,164.5 135.6,165.2 135.2,164.9 134.2,164.3 134.2,164.3 133.2,163.8 133.1,163.7 132.2,164.5 131.2,165.4 131.2,165.5 130.3,166.4 130.2,166.4 129.2,166.3 128.8,166.0 128.2,165.8 127.6,166.3 127.2,167.1 126.2,167.5 125.4,167.5 125.2,167.5 125.1,167.6 124.2,167.3 123.5,167.1 123.2,167.0 122.4,166.8 122.2,166.9 121.2,167.5 121.0,167.6 120.2,167.9 120.2,167.9 119.2,168.4 118.2,169.1 117.6,168.9 117.2,168.8 116.9,168.7 116.2,168.8 115.2,168.7 114.2,169.1 114.2,169.1 113.2,168.9 112.2,168.8 112.2,168.8 111.2,170.1 110.9,170.6 110.2,171.7 110.1,171.9 109.2,171.4 109.0,171.3 108.2,170.8 107.2,170.4 106.8,170.3 106.2,170.7 105.9,171.0 105.2,171.8 104.4,172.7 104.2,172.6 103.8,172.4 103.2,172.1 102.2,171.6 101.4,171.5 101.3,171.5 101.2,171.6 100.2,172.1 99.2,172.7 99.0,172.7 98.3,172.6 98.2,172.6 97.2,172.5 97.0,172.5 96.2,173.5 96.1,173.6 95.2,174.9 95.0,175.3 94.2,174.6 93.2,173.6 92.9,173.4 92.9,173.3 92.2,173.9 91.2,174.8 90.7,175.4 90.7,175.5 90.2,175.5 89.2,175.5 88.2,175.0 88.2,175.0 87.9,174.8 87.2,175.0 86.4,175.5 86.2,175.6 86.0,175.8 85.2,175.9 84.2,176.2 84.2,176.2 83.3,176.6 83.2,176.7 82.2,177.4 81.2,178.1 80.9,178.3 80.8,178.4 80.2,177.9 79.2,177.1 78.5,176.7 78.3,176.8 78.2,177.0 77.2,178.0 76.2,178.9 75.8,179.2 75.2,179.1 74.9,179.1 74.2,179.1Z" fill="#c7cfec"/>
<path d="M74.2,162.7 74.9,161.9 75.2,162.1 75.8,162.6 76.2,162.5 77.2,161.6 78.2,161.3 78.3,161.4 78.5,161.5 79.2,161.8 80.2,162.0 80.8,161.8 80.9,161.8 81.2,161.9 82.2,162.2 83.2,162.4 83.3,162.4 84.2,161.9 84.2,161.9 85.2,158.8 86.0,158.6 86.2,158.5 86.4,158.5 87.2,159.7 87.9,160.2 88.2,160.4 88.2,160.5 89.2,159.7 90.2,159.7 90.7,159.4 90.7,159.3 91.2,159.7 92.2,160.4 92.9,160.4 92.9,160.3 93.2,159.8 94.2,158.7 95.0,158.5 95.2,158.5 96.1,158.1 96.2,158.1 97.0,158.4 97.2,158.4 98.2,158.7 98.3,158.8 99.0,158.0 99.2,158.0 100.2,158.0 101.2,157.9 101.3,157.8 101.4,157.8 102.2,158.4 103.2,158.3 103.8,158.1 104.2,157.2 104.4,156.8 105.2,154.8 105.9,153.0 106.2,153.2 106.8,153.6 107.2,153.9 108.2,155.0 109.0,156.8 109.2,156.8 110.1,155.6 110.2,155.4 110.9,154.1 111.2,154.2 112.2,154.4 112.2,154.4 113.2,154.4 114.2,156.4 114.2,156.4 115.2,155.7 116.2,154.8 116.9,154.2 117.2,154.0 117.6,153.6 118.2,153.6 119.2,153.9 120.2,154.6 120.2,154.6 121.0,155.0 121.2,154.6 122.2,153.0 122.4,152.8 123.2,152.2 123.5,152.1 124.2,153.6 125.1,154.3 125.2,154.4 125.4,154.4 126.2,153.7 127.2,152.1 127.6,151.3 128.2,150.2 128.8,149.6 129.2,150.7 130.2,152.5 130.3,152.5 131.2,152.8 131.2,152.8 132.2,151.5 133.1,149.9 133.2,149.6 134.2,149.1 134.2,149.1 135.2,150.1 135.6,150.5 136.2,151.2 136.6,151.7 137.2,151.1 137.5,150.5 138.2,149.1 138.5,148.5 139.2,148.9 140.2,149.6 140.8,149.7 141.2,149.8 141.8,149.7 142.2,149.2 142.8,148.5 143.2,148.5 144.2,148.6 144.7,148.7 145.2,148.8 146.0,149.1 146.2,149.1 147.2,149.5 147.8,149.6 148.2,149.1 148.3,149.0 149.2,148.0 150.2,146.8 150.5,146.3 150.6,146.3 151.2,146.5 152.2,147.0 153.2,147.7 153.6,147.9 153.8,147.9 154.2,147.2 155.2,145.5 156.2,144.1 156.9,143.0 157.2,142.4 157.2,142.5 158.2,142.8 159.0,144.6 159.2,144.5 160.2,143.6 160.4,143.4 160.9,142.7 161.2,142.9 162.2,143.5 162.4,143.3 162.9,142.6 163.1,142.4 163.2,142.4 164.2,142.4 165.1,141.7 165.2,141.7 166.1,141.6 166.2,141.5 167.2,140.3 168.1,139.8 168.2,139.8 169.1,140.4 169.2,140.5 169.4,140.6 170.2,139.8 170.6,139.1 171.2,138.9 171.7,139.1 172.2,139.3 173.2,139.5 173.9,139.3 174.2,138.9 174.4,138.7 175.2,137.5 176.0,136.5 176.2,136.7 177.1,137.2 177.2,137.2 177.8,137.5 178.2,137.7 178.6,137.9 179.2,137.0 180.2,135.7 180.4,135.5 180.8,135.5 181.2,135.4 182.2,134.9 182.9,135.2 183.2,135.3 183.4,135.4 184.2,134.3 184.9,133.4 185.1,133.4 185.2,133.4 185.7,133.4 185.9,133.5 186.2,133.7 186.4,133.9 187.0,134.4 187.2,134.5 187.4,134.6 188.0,134.7 188.2,134.5 188.3,134.5 188.5,134.3 189.2,133.6 190.2,132.2 190.5,131.7 190.5,131.7 191.2,130.8 191.3,130.7 192.2,130.4 192.7,130.2 193.0,130.5 193.2,130.6 193.4,130.8 194.2,131.4 194.7,131.2 195.0,130.8 195.2,130.6 195.3,130.5 196.2,130.0 196.6,129.8 197.0,129.9 197.2,130.0 197.2,130.0 198.2,130.2 198.4,130.2 199.2,128.6 200.0,127.2 200.2,126.9 200.5,126.4 201.0,125.7 201.2,125.7 201.9,126.0 202.2,126.2 203.0,126.6 203.2,126.6 203.8,127.4 204.2,127.2 205.2,125.7 206.0,123.4 206.0,123.3 206.2,122.9 206.2,122.9 207.2,124.2 208.2,125.3 209.1,125.3 209.2,125.1 209.2,125.0 210.1,123.0 210.2,122.9 211.2,121.4 211.3,121.4 212.1,122.0 212.2,122.1 213.2,122.8 213.9,122.7 214.2,122.3 214.6,121.7 215.1,121.2 215.2,121.2 216.2,121.0 216.7,119.8 217.2,119.0 217.6,118.9 218.2,118.9 219.2,119.4 219.3,119.4 220.2,118.8 220.3,118.8 221.2,117.7 221.3,117.6 222.0,117.6 222.2,117.5 222.9,117.1 223.2,117.0 223.4,117.0 224.2,115.7 225.2,113.8 225.5,112.8 225.6,112.7 226.2,112.6 227.2,112.8 227.8,113.1 228.2,112.4 228.4,112.4 229.2,112.3 230.0,112.2 230.2,112.4 231.2,113.4 231.7,113.8 232.2,114.0 232.7,113.5 233.2,112.1 234.2,109.9 234.5,109.5 235.2,108.5 235.5,108.3 236.2,109.8 236.3,110.0 237.2,111.6 238.0,112.4 238.2,112.2 239.2,110.8 239.3,110.6 240.2,109.2 240.4,108.9 241.2,109.1 242.2,109.6 242.7,109.9 243.1,109.9 243.2,109.8 244.2,107.7 245.2,105.5 245.8,103.5 246.2,102.1 246.4,102.0 247.2,104.9 248.1,104.9 248.2,104.8 249.2,105.5 249.6,106.1 250.2,105.9 251.2,104.8 251.5,104.4 251.6,104.2 252.2,104.1 253.2,102.9 254.0,101.0 254.2,100.7 254.7,100.4 255.2,100.2 256.2,98.4 256.5,97.9 257.2,98.3 257.9,97.7 258.2,97.5 259.2,99.5 259.4,100.1 260.2,100.3 261.0,99.4 261.2,99.2 262.2,97.9 262.4,97.6 263.2,97.4 264.2,97.0 264.3,96.9 265.0,96.6 265.2,96.3 266.2,95.1 267.2,93.5 267.5,92.7 267.6,92.5 268.2,92.1 269.2,91.8 269.7,92.2 270.2,93.0 270.7,93.7 271.2,93.2 272.1,91.5 272.2,91.3 273.2,89.6 273.4,89.4 274.2,89.5 274.3,89.6 275.2,90.0 276.2,90.2 276.7,90.2 276.7,90.2 277.2,88.9 278.2,85.0 278.6,84.6 279.2,85.5 279.7,85.8 280.2,85.6 281.1,85.2 281.2,85.0 282.2,84.0 282.8,83.8 283.2,83.5 284.2,82.4 284.5,82.0 285.2,82.0 285.4,82.0 286.2,82.1 287.2,81.8 287.5,81.6 288.2,80.0 288.5,79.4 289.2,78.3 290.2,78.0 290.7,77.9 290.8,77.8 291.2,78.2 292.2,78.4 293.1,78.6 293.2,78.4 294.0,76.3 294.2,75.8 295.2,73.8 296.1,72.2 296.2,72.2 296.8,72.2 297.2,72.3 298.2,72.8 298.2,72.8 299.1,71.7 299.2,71.6 300.2,69.7 300.9,68.2 301.0,68.3 301.2,68.5 302.2,67.9 303.1,69.2 303.2,69.1 303.6,68.2 304.2,67.0 305.2,64.6 305.7,63.2 306.2,63.8 306.4,64.1 307.2,65.2 308.2,66.5 308.4,66.7 308.9,67.2 309.2,66.1 310.2,63.0 311.2,58.9 311.2,58.9 311.6,58.9 312.2,59.4 313.2,60.6 314.0,62.0 314.2,61.8 315.0,60.9 315.2,60.6 316.2,57.9 316.6,56.8 317.1,56.7 317.2,56.8 318.2,58.0 319.2,56.2 319.9,54.7 320.2,54.6 320.3,54.8 321.2,55.6 322.2,54.9 322.9,54.0 323.2,53.8 323.6,53.4 324.2,53.0 325.2,51.6 325.8,50.9 325.9,50.5 326.2,49.3 327.2,45.8 328.2,44.6 328.2,44.7 329.2,47.4 329.4,47.7 330.2,49.1 330.9,50.1 331.2,48.2 332.2,42.6 332.2,42.5 332.7,39.6 333.2,40.8 334.2,43.6 334.6,44.6 334.7,44.8 335.2,43.0 336.2,39.3 337.2,35.2 338.1,33.8 338.2,34.4 339.1,38.9 339.1,105.3 338.2,105.2 338.1,105.2 337.2,105.2 336.2,106.1 335.2,107.0 334.7,107.5 334.6,107.6 334.2,107.6 333.2,107.3 332.7,107.2 332.2,108.5 332.2,108.5 331.2,110.6 330.9,110.3 330.2,109.7 329.4,109.5 329.2,109.7 328.2,110.5 328.2,110.5 327.2,110.3 326.2,110.2 325.9,110.7 325.8,111.1 325.2,112.8 324.2,114.3 323.6,114.6 323.2,113.9 322.9,113.4 322.2,112.4 321.2,112.1 320.3,112.6 320.2,112.9 319.9,113.4 319.2,113.1 318.2,114.4 317.2,116.1 317.1,116.3 316.6,115.7 316.2,115.3 315.2,113.8 315.0,113.5 314.2,114.0 314.0,114.1 313.2,114.7 312.2,114.9 311.6,115.1 311.2,115.3 311.2,115.3 310.2,116.0 309.2,116.0 308.9,115.9 308.4,115.8 308.2,115.9 307.2,116.6 306.4,117.0 306.2,116.9 305.7,116.6 305.2,116.3 304.2,115.9 303.6,115.8 303.2,116.5 303.1,116.6 302.2,118.2 301.2,119.8 301.0,120.2 300.9,120.2 300.2,119.0 299.2,117.5 299.1,117.4 298.2,118.4 298.2,118.5 297.2,119.8 296.8,120.0 296.2,119.5 296.1,119.4 295.2,119.0 294.2,118.6 294.0,118.5 293.2,119.3 293.1,119.5 292.2,121.0 291.2,122.7 290.8,122.9 290.7,123.0 290.2,122.3 289.2,121.4 288.5,121.1 288.2,121.4 287.5,121.7 287.2,121.8 286.2,122.2 285.4,123.2 285.2,123.2 284.5,123.3 284.2,123.2 283.2,123.1 282.8,123.0 282.2,123.8 281.2,125.1 281.1,125.2 280.2,126.8 279.7,127.8 279.2,128.1 278.6,127.0 278.2,126.2 277.2,125.6 276.7,125.5 276.7,125.5 276.2,126.1 275.2,126.9 274.3,127.1 274.2,127.3 273.4,128.5 273.2,128.8 272.2,128.0 272.1,127.9 271.2,127.9 270.7,128.9 270.2,129.8 269.7,130.9 269.2,131.4 268.2,130.9 267.6,130.5 267.5,130.5 267.2,130.6 266.2,130.8 265.2,131.1 265.0,131.2 264.3,131.6 264.2,131.7 263.2,131.5 262.4,131.4 262.2,131.4 261.2,131.3 261.0,131.2 260.2,131.8 259.4,132.4 259.2,132.7 258.2,134.1 257.9,134.5 257.2,134.7 256.5,135.0 256.2,135.1 255.2,134.4 254.7,133.9 254.2,133.9 254.0,133.9 253.2,134.5 252.2,135.5 251.6,135.9 251.5,136.0 251.2,135.7 250.2,134.9 249.6,134.9 249.2,134.9 248.2,134.7 248.1,134.7 247.2,135.8 246.4,136.7 246.2,137.0 245.8,137.4 245.2,137.0 244.2,136.3 243.2,135.5 243.1,135.5 242.7,135.2 242.2,135.7 241.2,136.7 240.4,137.4 240.2,137.5 239.3,138.0 239.2,138.0 238.2,137.5 238.0,137.5 237.2,137.4 236.3,137.4 236.2,137.5 235.5,138.3 235.2,138.6 234.5,139.6 234.2,139.4 233.2,138.9 232.7,138.7 232.2,138.5 231.7,138.3 231.2,138.6 230.2,139.1 230.0,139.2 229.2,139.6 228.4,140.1 228.2,140.2 227.8,140.2 227.2,140.3 226.2,140.0 225.6,139.8 225.5,139.9 225.2,140.4 224.2,142.9 223.4,142.8 223.2,142.7 222.9,142.9 222.2,142.4 222.0,142.3 221.3,142.1 221.2,142.1 220.3,142.1 220.2,142.2 219.3,143.0 219.2,143.1 218.2,144.6 217.6,145.7 217.2,145.5 216.7,144.9 216.2,144.3 215.2,143.6 215.1,143.6 214.6,144.2 214.2,144.7 213.9,144.9 213.2,145.4 212.2,145.8 212.1,145.9 211.3,145.7 211.2,145.7 210.2,145.8 210.1,145.7 209.2,145.5 209.2,145.6 209.1,145.6 208.2,146.5 207.2,147.5 206.2,148.5 206.2,148.6 206.0,148.8 206.0,148.8 205.2,149.3 204.2,149.0 203.8,148.6 203.2,147.9 203.0,147.8 202.2,148.4 201.9,148.7 201.2,149.2 201.0,149.2 200.5,149.5 200.2,149.4 200.0,149.3 199.2,149.1 198.4,149.3 198.2,149.3 197.2,149.5 197.2,149.5 197.0,149.5 196.6,149.6 196.2,149.7 195.3,150.8 195.2,150.9 195.0,151.2 194.7,151.3 194.2,151.1 193.4,150.5 193.2,150.4 193.0,150.3 192.7,150.5 192.2,151.5 191.3,152.0 191.2,152.0 190.5,152.3 190.5,152.3 190.2,152.2 189.2,151.7 188.5,151.5 188.3,151.6 188.2,151.6 188.0,151.6 187.4,151.7 187.2,152.0 187.0,152.2 186.4,153.0 186.2,153.2 185.9,153.5 185.7,153.8 185.2,154.2 185.1,154.3 184.9,154.4 184.2,153.7 183.4,153.1 183.2,153.0 182.9,152.8 182.2,153.4 181.2,154.3 180.8,154.6 180.4,154.6 180.2,154.6 179.2,154.1 178.6,153.8 178.2,153.7 177.8,153.5 177.2,153.8 177.1,153.8 176.2,154.3 176.0,154.5 175.2,155.3 174.4,156.1 174.2,156.1 173.9,156.0 173.2,155.7 172.2,155.5 171.7,155.5 171.2,156.1 170.6,156.3 170.2,156.4 169.4,156.6 169.2,156.8 169.1,156.8 168.2,156.5 168.1,156.4 167.2,156.8 166.2,156.6 166.1,156.5 165.2,156.0 165.1,156.0 164.2,156.4 163.2,157.2 163.1,157.2 162.9,157.4 162.4,157.6 162.2,157.6 161.2,157.6 160.9,157.6 160.4,157.7 160.2,157.8 159.2,158.6 159.0,158.8 158.2,159.2 157.2,159.3 157.2,159.3 156.9,159.3 156.2,158.9 155.2,158.9 154.2,158.8 153.8,158.7 153.6,158.7 153.2,158.9 152.2,159.6 151.2,160.2 150.6,160.7 150.5,160.7 150.2,160.7 149.2,160.6 148.3,160.3 148.2,160.4 147.8,160.7 147.2,161.2 146.2,161.8 146.0,162.0 145.2,161.8 144.7,161.7 144.2,161.6 143.2,161.4 142.8,161.4 142.2,162.0 141.8,162.6 141.2,163.2 140.8,163.7 140.2,163.6 139.2,163.4 138.5,163.0 138.2,162.9 137.5,162.8 137.2,163.3 136.6,164.0 136.2,164.5 135.6,165.2 135.2,164.9 134.2,164.3 134.2,164.3 133.2,163.8 133.1,163.7 132.2,164.5 131.2,165.4 131.2,165.5 130.3,166.4 130.2,166.4 129.2,166.3 128.8,166.0 128.2,165.8 127.6,166.3 127.2,167.1 126.2,167.5 125.4,167.5 125.2,167.5 125.1,167.6 124.2,167.3 123.5,167.1 123.2,167.0 122.4,166.8 122.2,166.9 121.2,167.5 121.0,167.6 120.2,167.9 120.2,167.9 119.2,168.4 118.2,169.1 117.6,168.9 117.2,168.8 116.9,168.7 116.2,168.8 115.2,168.7 114.2,169.1 114.2,169.1 113.2,168.9 112.2,168.8 112.2,168.8 111.2,170.1 110.9,170.6 110.2,171.7 110.1,171.9 109.2,171.4 109.0,171.3 108.2,170.8 107.2,170.4 106.8,170.3 106.2,170.7 105.9,171.0 105.2,171.8 104.4,172.7 104.2,172.6 103.8,172.4 103.2,172.1 102.2,171.6 101.4,171.5 101.3,171.5 101.2,171.6 100.2,172.1 99.2,172.7 99.0,172.7 98.3,172.6 98.2,172.6 97.2,172.5 97.0,172.5 96.2,173.5 96.1,173.6 95.2,174.9 95.0,175.3 94.2,174.6 93.2,173.6 92.9,173.4 92.9,173.3 92.2,173.9 91.2,174.8 90.7,175.4 90.7,175.5 90.2,175.5 89.2,175.5 88.2,175.0 88.2,175.0 87.9,174.8 87.2,175.0 86.4,175.5 86.2,175.6 86.0,175.8 85.2,175.9 84.2,176.2 84.2,176.2 83.3,176.6 83.2,176.7 82.2,177.4 81.2,178.1 80.9,178.3 80.8,178.4 80.2,177.9 79.2,177.1 78.5,176.7 78.3,176.8 78.2,177.0 77.2,178.0 76.2,178.9 75.8,179.2 75.2,179.1 74.9,179.1 74.2,179.1Z" fill="#c4bccf" clip-path="url(#cs0)"/>
<path d="M162.4,150.9 163.4,150.4 164.4,150.0 165.4,149.7 166.4,149.4 167.4,149.4 168.4,149.3 169.4,149.0 170.4,148.8 171.4,148.1 172.4,147.3 173.4,147.0 174.4,146.9 175.4,146.7 176.4,146.1 177.4,145.6 178.4,145.1 179.4,144.7 180.4,144.7 181.4,144.6 182.4,144.5 183.4,143.8 184.4,143.2 185.4,142.6 186.4,142.3 187.4,142.1 188.4,141.9 189.4,141.8 190.4,141.6 191.4,141.1 192.4,140.7 193.4,140.6 194.4,140.6 195.4,140.2 196.4,139.8 197.4,139.2 198.4,138.6 199.4,138.4 200.4,138.2 201.4,138.0 202.4,137.7 203.4,137.4 204.4,137.1 205.4,136.7 206.4,136.3 207.4,135.8 208.4,135.2 209.4,134.9 210.4,134.5 211.4,134.2 212.4,133.9 213.4,133.6 214.4,133.2 215.4,132.7 216.4,132.1 217.4,131.9 218.4,131.7 219.4,131.5 220.4,131.2 221.4,130.9 222.4,130.5 223.4,130.0 224.4,129.6 225.4,129.2 226.4,128.9 227.4,128.7 228.4,128.4 229.4,128.1 230.4,127.8 231.4,127.3 232.4,126.8 233.4,126.3 234.4,125.8 235.4,125.4 236.4,124.9 237.4,124.4 238.4,124.1 239.4,124.0 240.4,123.8 241.4,123.6 242.4,123.4 243.4,123.2 244.4,122.7 245.4,122.2 246.4,121.9 247.4,121.6 248.4,121.1 249.4,120.5 250.4,119.9 251.4,119.5 252.4,119.1 253.4,118.6 254.4,118.4 255.4,118.1 256.4,117.9 257.4,117.6 258.4,117.3 259.4,116.7 260.4,116.0 261.4,115.6 262.4,115.2 263.4,114.7 264.4,114.1 265.4,113.7 266.4,113.3 267.4,113.0 268.4,112.7 269.4,112.5 270.4,111.9 271.4,111.4 272.4,110.8 273.4,110.3 274.4,109.7 275.4,109.4 276.4,109.1 277.4,108.9 278.4,108.7 279.4,108.1 280.4,107.6 281.4,107.2 282.4,107.0 283.4,106.8 284.4,106.2 285.4,105.5 286.4,104.8 287.4,104.4 288.4,104.0 289.4,103.6 290.4,103.3 291.4,103.0 292.4,102.7 293.4,102.4 294.4,101.9 295.4,101.4 296.4,100.9 297.4,100.2 298.4,99.5 299.4,99.0 300.4,98.7 301.4,98.5 302.4,98.0 303.4,97.5 304.4,97.1 305.4,96.6 306.4,96.1 307.4,95.6 308.4,95.0 309.4,94.3 310.4,93.6 311.4,92.9 312.4,92.4 313.4,92.1 314.4,91.7 315.4,91.1 316.4,90.6 317.4,90.0 318.4,89.7 319.4,89.3 320.4,88.6 321.4,88.0 322.4,87.6 323.4,87.1 324.4,86.9 325.4,86.6 326.4,86.2 327.4,85.5 328.4,84.9 329.4,84.5 330.4,83.9 331.4,83.2 332.4,82.4 333.4,82.2 334.4,82.2 335.4,81.6 336.4,81.0 337.4,80.4 338.4,79.7 339.1,79.2" stroke="#1f4e9e" stroke-width="1.5" fill="none" stroke-linejoin="round"/>
<g fill="#0b7439"><circle cx="73.9" cy="164.7" r="2.45"/><circle cx="77.0" cy="167.1" r="2.45"/><circle cx="76.3" cy="178.0" r="2.45"/><circle cx="78.8" cy="173.5" r="2.45"/><circle cx="80.5" cy="173.5" r="2.45"/><circle cx="81.2" cy="162.2" r="2.45"/><circle cx="83.0" cy="165.4" r="2.45"/><circle cx="84.0" cy="163.3" r="2.45"/><circle cx="84.7" cy="166.4" r="2.45"/><circle cx="87.6" cy="157.7" r="2.45"/><circle cx="89.0" cy="162.9" r="2.45"/><circle cx="90.0" cy="165.0" r="2.45"/><circle cx="93.2" cy="170.0" r="2.45"/><circle cx="93.9" cy="165.7" r="2.45"/><circle cx="96.7" cy="168.5" r="2.45"/><circle cx="98.8" cy="169.2" r="2.45"/><circle cx="100.5" cy="163.3" r="2.45"/><circle cx="102.3" cy="158.4" r="2.45"/><circle cx="104.4" cy="167.8" r="2.45"/><circle cx="106.9" cy="155.2" r="2.45"/><circle cx="108.3" cy="170.6" r="2.45"/><circle cx="109.7" cy="163.3" r="2.45"/><circle cx="111.1" cy="173.5" r="2.45"/><circle cx="112.5" cy="157.0" r="2.45"/><circle cx="114.2" cy="166.4" r="2.45"/><circle cx="115.3" cy="161.9" r="2.45"/><circle cx="117.4" cy="167.1" r="2.45"/><circle cx="119.2" cy="152.7" r="2.45"/><circle cx="116.7" cy="167.8" r="2.45"/><circle cx="118.1" cy="164.9" r="2.45"/><circle cx="122.7" cy="157.9" r="2.45"/><circle cx="124.1" cy="149.1" r="2.45"/><circle cx="125.8" cy="162.8" r="2.45"/><circle cx="127.2" cy="152.3" r="2.45"/><circle cx="128.6" cy="169.2" r="2.45"/><circle cx="130.4" cy="162.8" r="2.45"/><circle cx="131.8" cy="156.5" r="2.45"/><circle cx="135.0" cy="159.7" r="2.45"/><circle cx="136.4" cy="169.9" r="2.45"/><circle cx="137.4" cy="145.3" r="2.45"/><circle cx="139.2" cy="171.3" r="2.45"/><circle cx="140.6" cy="136.5" r="2.45"/><circle cx="142.0" cy="150.9" r="2.45"/><circle cx="144.8" cy="146.3" r="2.45"/><circle cx="146.2" cy="162.1" r="2.45"/><circle cx="148.3" cy="154.4" r="2.45"/><circle cx="150.4" cy="144.9" r="2.45"/><circle cx="151.8" cy="156.5" r="2.45"/><circle cx="155.0" cy="144.9" r="2.45"/><circle cx="156.4" cy="166.3" r="2.45"/><circle cx="158.1" cy="148.8" r="2.45"/><circle cx="159.5" cy="158.3" r="2.45"/><circle cx="161.6" cy="153.0" r="2.45"/><circle cx="163.8" cy="166.3" r="2.45"/><circle cx="155.6" cy="145.1" r="2.45"/><circle cx="158.0" cy="148.7" r="2.45"/><circle cx="160.4" cy="153.5" r="2.45"/><circle cx="159.8" cy="158.3" r="2.45"/><circle cx="156.8" cy="166.7" r="2.45"/><circle cx="164.0" cy="166.7" r="2.45"/><circle cx="165.5" cy="172.0" r="2.45"/><circle cx="174.7" cy="174.4" r="2.45"/><circle cx="181.9" cy="173.8" r="2.45"/><circle cx="172.9" cy="188.2" r="2.45"/><circle cx="171.1" cy="197.8" r="2.45"/><circle cx="166.4" cy="202.5" r="2.45"/><circle cx="177.1" cy="134.4" r="2.45"/><circle cx="175.3" cy="143.9" r="2.45"/><circle cx="178.9" cy="154.7" r="2.45"/><circle cx="180.7" cy="154.7" r="2.45"/><circle cx="170.3" cy="197.7" r="2.45"/></g>
<path d="M74.2,170.6 75.7,170.2 77.2,170.4 78.7,169.6 80.2,168.8 81.7,169.1 83.2,169.1 84.7,168.8 86.2,168.0 87.7,168.2 89.2,167.1 90.7,166.4 92.2,166.4 93.7,166.8 95.2,166.9 96.7,166.1 98.2,165.1 99.7,164.7 101.2,164.5 102.7,164.9 104.2,164.0 105.7,163.5 107.2,163.3 108.7,163.6 110.2,162.9 111.7,162.1 113.2,161.6 114.7,161.2 116.2,161.9 117.7,161.0 119.2,161.3 120.7,160.0 122.2,159.8 123.7,159.5 125.2,159.5 126.7,159.3 128.2,159.3 129.7,158.9 131.2,158.1 132.7,157.8 134.2,157.9 135.7,157.2 137.2,156.1 138.7,156.8 140.2,156.7 141.7,156.0 143.2,155.8 144.7,155.6 146.2,155.1 147.7,154.6 149.2,153.9 150.7,153.4 152.2,153.7 153.7,152.4 155.2,152.2 156.7,151.7 158.2,151.1 159.7,151.0 161.2,151.2 162.4,150.9 169.4,209.1 177.1,136.7 185.1,189.4 190.5,68.7 193.2,82.8 196.0,96.5 198.7,110.1 201.9,122.0 205.5,128.8 210.1,131.3 215.0,132.2 219.0,131.5 220.0,131.3 221.0,130.7 222.0,130.2 223.0,129.8 224.0,129.6 225.0,129.6 226.0,129.5 227.0,129.0 228.0,128.5 229.0,128.0 230.0,127.5 231.0,126.9 232.0,126.3 233.0,126.3 234.0,126.3 235.0,125.9 236.0,125.4 237.0,125.0 238.0,124.6 239.0,124.3 240.0,123.9 241.0,123.5 242.0,123.1 243.0,122.5 244.0,121.9 245.0,121.4 246.0,121.1 247.0,120.8 248.0,120.5 249.0,120.1 250.0,119.8 251.0,119.5 252.0,119.2 253.0,118.9 254.0,118.5 255.0,118.1 256.0,117.8 257.0,117.5 258.0,117.1 259.0,116.7 260.0,116.2 261.0,115.8 262.0,115.3 263.0,114.8 264.0,114.2 265.0,113.7 266.0,113.5 267.0,113.4 268.0,113.2 269.0,112.6 270.0,112.1 271.0,111.5 272.0,111.1 273.0,110.8 274.0,110.2 275.0,109.4 276.0,109.4 277.0,109.4 278.0,108.8 279.0,108.1 280.0,107.5 281.0,107.1 282.0,106.6 283.0,106.2 284.0,105.8 285.0,105.5 286.0,105.1 287.0,104.7 288.0,104.3 289.0,103.9 290.0,103.3 291.0,102.7 292.0,102.3 293.0,102.1 294.0,101.8 295.0,100.8 296.0,100.3 297.0,100.1 298.0,99.9 299.0,99.4 300.0,98.8 301.0,98.4 302.0,98.0 303.0,97.6 304.0,97.1 305.0,96.7 306.0,96.2 307.0,95.3 308.0,94.6 309.0,94.3 310.0,93.8 311.0,93.2 312.0,92.6 313.0,92.7 314.0,92.3 315.0,91.7 316.0,91.4 317.0,91.2 318.0,90.6 319.0,89.8 320.0,89.2 321.0,88.5 322.0,88.0 323.0,87.5 324.0,87.0 325.0,86.5 326.0,86.0 327.0,85.6 328.0,85.0 329.0,84.4 330.0,83.9 331.0,83.6 332.0,83.3 333.0,82.8 334.0,82.3 335.0,81.7 336.0,81.1 337.0,80.4 338.0,79.6 339.0,79.0 339.1,78.9" stroke="#ee2a24" stroke-width="1.5" fill="none" stroke-linejoin="round"/>
<path d="M74.20,32.40V246.90M66.60,239.30H339.10M66.60,239.30H74.20M66.60,204.82H74.20M66.60,170.33H74.20M66.60,135.85H74.20M66.60,101.37H74.20M66.60,66.88H74.20M66.60,32.40H74.20M162.50,239.30V246.90M250.80,239.30V246.90M339.10,239.30V246.90" stroke="#231f20" stroke-width="1.25" fill="none"/>
<g font-family="Liberation Sans, sans-serif" font-size="14" fill="#3a3a3a"><text x="65.20" y="244.30" text-anchor="end" font-size="14.5">0</text><text x="65.20" y="209.82" text-anchor="end" font-size="14.5">200</text><text x="65.20" y="175.33" text-anchor="end" font-size="14.5">400</text><text x="65.20" y="140.85" text-anchor="end" font-size="14.5">600</text><text x="65.20" y="106.37" text-anchor="end" font-size="14.5">800</text><text x="65.20" y="71.88" text-anchor="end" font-size="14.5">1000</text><text x="65.20" y="37.40" text-anchor="end" font-size="14.5">1200</text><text transform="translate(11.2,135.85) rotate(-90)" x="0" y="0" text-anchor="middle" textLength="99" lengthAdjust="spacingAndGlyphs">Cases diagnosed</text></g>
<text x="64.80" y="13.10" font-family="Liberation Sans, sans-serif" font-size="17.5" fill="#231f20" text-anchor="end" stroke="#231f20" stroke-width="0.55">A</text>
<text x="75.00" y="13.10" font-family="Liberation Sans, sans-serif" font-size="14" fill="#231f20" stroke="#231f20" stroke-width="0.4" textLength="40.5" lengthAdjust="spacingAndGlyphs">Breast</text>
<clipPath id="cs1"><path d="M422.8,200.0 423.8,199.8 424.4,199.6 424.8,199.5 424.8,199.5 425.8,200.0 426.8,200.2 427.2,200.3 427.8,200.0 427.8,200.0 428.8,199.7 429.8,199.4 430.0,199.3 430.8,199.8 431.2,200.1 431.8,200.4 432.3,200.7 432.8,200.4 433.8,200.0 434.1,199.9 434.7,199.6 434.8,199.6 435.8,200.1 436.6,200.6 436.8,200.7 437.4,201.0 437.8,200.9 438.8,200.4 439.6,200.1 439.8,200.0 439.9,199.9 440.8,199.9 441.8,199.7 441.8,199.7 442.8,200.7 443.0,200.9 443.8,201.2 444.2,201.3 444.8,201.1 445.8,200.8 446.0,200.7 446.3,200.7 446.8,200.8 447.8,201.0 448.4,201.2 448.8,201.3 449.4,201.5 449.8,201.4 450.8,201.2 451.7,200.6 451.8,200.6 451.8,200.6 452.8,200.6 453.8,200.7 454.6,201.3 454.6,201.3 454.8,201.3 455.8,201.2 456.8,200.7 456.8,200.7 457.8,200.4 458.1,200.3 458.8,200.8 459.4,201.2 459.8,201.4 460.4,201.6 460.8,201.4 461.8,201.0 462.8,200.5 462.8,200.5 463.2,200.3 463.8,200.4 464.8,200.8 465.8,201.3 465.8,201.3 466.0,201.4 466.8,201.1 467.8,200.6 468.4,200.3 468.5,200.4 468.8,200.6 469.8,200.4 470.8,200.6 471.2,200.9 471.8,201.3 472.0,201.5 472.8,201.2 473.6,200.9 473.8,200.8 474.2,200.5 474.8,200.6 475.8,200.7 476.8,200.9 476.8,200.9 477.4,201.3 477.8,201.3 478.8,201.4 478.8,201.4 479.8,201.1 480.8,200.6 480.9,200.6 481.7,200.7 481.8,200.8 482.8,201.5 483.6,202.0 483.8,202.0 484.6,201.7 484.8,201.6 485.8,200.9 486.7,200.5 486.8,200.6 487.8,201.2 487.9,201.2 488.8,201.8 489.2,202.1 489.8,201.8 490.8,201.4 491.1,201.3 491.8,201.0 492.8,200.4 492.8,200.4 493.4,200.4 493.8,200.4 494.8,200.6 495.8,200.9 495.9,200.9 495.9,200.9 496.8,200.9 497.8,201.1 498.5,201.2 498.8,201.3 499.1,201.3 499.8,201.1 500.6,200.9 500.8,200.8 501.5,201.0 501.8,201.0 502.8,201.0 503.1,201.0 503.8,201.0 504.8,200.4 504.9,200.4 505.0,200.4 505.8,200.4 506.8,200.6 507.4,201.2 507.8,201.1 507.9,201.1 508.8,201.1 509.8,200.8 510.5,200.5 510.8,200.6 510.8,200.6 511.8,201.0 512.7,201.2 512.8,201.2 513.7,201.3 513.8,202.5 513.8,202.6 514.8,203.4 515.6,204.2 515.8,204.4 516.0,204.7 516.4,204.8 516.6,204.9 516.8,204.9 517.6,204.9 517.8,204.8 518.8,205.0 518.9,205.1 519.8,205.9 520.1,206.2 520.3,206.5 520.8,207.3 521.0,207.6 521.8,207.5 522.4,207.1 522.7,206.9 522.8,206.8 523.8,205.3 524.7,204.2 524.8,204.2 525.5,203.9 525.6,203.4 525.8,202.6 526.7,198.9 526.8,198.3 527.0,197.5 527.7,197.5 527.8,197.5 528.3,197.6 528.8,197.5 529.0,197.5 529.8,197.4 530.8,196.3 531.1,196.0 531.1,195.9 531.8,195.8 532.0,195.8 532.8,195.8 533.7,195.5 533.8,195.4 534.5,195.2 534.8,195.2 535.3,195.3 535.6,194.0 535.8,193.1 536.8,188.6 536.9,188.3 536.9,188.2 537.5,184.9 537.6,184.3 537.8,183.3 538.8,177.3 539.7,171.9 539.8,171.2 540.3,168.2 540.7,165.9 540.8,165.6 541.8,163.0 542.7,161.1 542.8,160.8 543.1,160.0 543.4,159.0 543.8,157.7 544.0,157.1 544.8,156.0 544.9,155.8 545.0,155.7 545.1,155.6 545.6,154.9 545.8,155.5 546.1,156.3 546.8,158.2 547.6,161.1 547.8,161.8 548.2,163.2 548.3,163.7 548.8,167.7 549.8,175.6 550.0,177.2 550.5,181.0 550.8,183.5 550.9,184.3 551.0,185.2 551.8,187.6 552.8,190.9 553.0,191.7 553.7,194.0 553.8,194.1 554.1,194.2 554.8,194.4 555.8,194.3 556.0,194.2 556.8,194.0 557.5,193.8 557.8,193.7 558.8,192.9 559.8,192.7 559.8,192.7 560.8,193.3 561.8,193.1 562.3,193.0 562.7,192.9 562.8,192.9 563.8,193.0 564.6,193.0 564.8,193.0 564.9,193.0 565.0,193.0 565.8,193.6 566.8,192.6 567.7,191.9 567.8,192.0 568.0,192.2 568.8,193.1 569.8,193.2 570.3,192.9 570.4,192.6 570.8,191.4 571.8,188.5 572.8,187.1 572.9,187.0 573.1,186.9 573.8,188.1 574.7,189.7 574.8,189.9 575.8,191.4 576.1,191.9 576.8,191.7 577.2,191.4 577.8,190.0 578.8,187.7 579.4,187.6 579.8,188.0 579.9,188.1 580.8,188.8 581.8,189.5 581.8,189.5 582.6,189.5 582.8,189.3 583.8,188.4 584.5,187.7 584.8,187.4 585.8,186.4 586.8,186.3 586.9,186.3 587.8,186.1 588.8,186.0 589.0,186.1 589.7,185.5 589.8,185.5 590.8,184.6 591.8,182.9 592.0,182.7 592.8,182.7 592.9,182.7 593.8,182.9 594.5,183.5 594.8,183.3 595.8,182.6 596.2,182.2 596.8,181.5 597.8,180.4 597.8,180.4 598.5,180.9 598.8,181.1 599.8,181.6 600.4,181.9 600.7,182.1 600.8,181.9 601.8,180.0 602.8,178.2 603.4,177.1 603.8,177.3 603.9,177.3 604.8,177.8 605.8,178.0 605.9,178.0 606.7,176.9 606.8,176.8 607.8,175.5 608.3,174.9 608.7,175.0 608.8,175.1 609.8,175.5 610.7,175.9 610.8,175.7 611.8,174.4 612.0,174.1 612.8,173.2 613.8,171.8 613.9,171.7 614.8,172.4 614.8,172.4 615.8,172.7 616.8,173.0 616.9,173.0 617.8,171.1 618.8,168.8 619.0,168.3 619.8,166.4 620.3,165.2 620.8,165.3 621.8,165.4 622.4,166.5 622.8,167.6 623.8,167.8 624.3,167.0 624.8,166.0 625.8,164.0 626.2,163.1 626.8,163.4 627.2,163.7 627.8,164.0 628.5,164.8 628.8,164.5 629.8,163.4 630.2,162.8 630.8,161.7 631.3,160.8 631.8,160.7 632.3,160.7 632.8,160.7 633.8,161.1 634.8,161.1 634.8,161.0 634.9,160.7 635.8,157.1 636.8,153.9 637.3,153.5 637.8,153.1 637.9,153.0 638.8,153.8 639.8,153.6 640.4,153.5 640.8,153.4 641.3,153.3 641.8,152.0 642.8,151.1 643.0,150.9 643.8,150.0 644.4,148.7 644.8,149.1 645.8,149.8 646.1,149.9 646.8,149.9 646.8,149.9 647.8,146.9 648.0,146.1 648.8,143.0 649.8,140.2 650.0,139.8 650.8,140.5 651.2,140.8 651.8,141.3 652.8,142.5 653.1,142.8 653.3,142.5 653.8,141.7 654.8,139.9 655.8,138.0 656.2,137.2 656.5,137.5 656.8,137.7 657.8,138.1 658.8,137.9 659.5,138.3 659.7,138.7 659.8,138.7 660.8,138.2 661.8,137.1 662.1,136.3 662.8,134.7 663.0,134.1 663.8,133.7 664.7,133.6 664.8,133.6 665.8,133.7 666.6,134.0 666.8,133.9 666.8,133.9 667.8,133.1 668.8,130.8 669.0,130.1 669.8,127.6 670.2,126.5 670.8,126.3 671.7,125.6 671.8,125.6 672.6,123.9 672.8,122.9 673.8,118.4 674.3,116.1 674.8,113.8 675.8,109.7 675.8,109.6 676.8,107.9 677.7,107.2 677.8,107.3 678.8,107.4 679.1,107.5 679.8,105.5 680.8,102.3 680.8,102.2 681.8,98.4 682.4,96.1 682.8,96.2 683.0,96.4 683.8,97.0 684.8,97.9 685.8,98.7 686.0,98.7 686.1,98.1 686.8,96.0 687.8,92.8 688.7,90.0 688.8,89.6 689.2,88.3 689.8,88.2 690.8,87.9 691.1,87.6 691.6,87.0 691.8,86.3 692.8,82.4 693.5,80.8 693.8,80.1 694.8,77.8 695.1,77.1 695.3,77.0 695.8,76.7 696.6,76.1 696.6,218.8 695.8,219.1 695.3,219.3 695.1,219.3 694.8,219.2 693.8,218.8 693.5,218.7 692.8,218.8 691.8,219.0 691.6,219.1 691.1,219.2 690.8,219.0 689.8,218.6 689.2,218.4 688.8,218.3 688.7,218.2 687.8,218.4 686.8,218.6 686.1,218.8 686.0,218.7 685.8,218.7 684.8,218.6 683.8,218.3 683.0,218.1 682.8,218.2 682.4,218.2 681.8,218.3 680.8,218.4 680.8,218.4 679.8,218.4 679.1,218.3 678.8,218.3 677.8,218.2 677.7,218.2 676.8,218.4 675.8,218.7 675.8,218.7 674.8,219.2 674.3,219.4 673.8,219.0 672.8,218.3 672.6,218.2 671.8,217.9 671.7,217.8 670.8,217.9 670.2,218.0 669.8,218.1 669.0,218.3 668.8,218.3 667.8,218.1 666.8,217.9 666.8,217.9 666.6,217.9 665.8,218.1 664.8,218.5 664.7,218.6 663.8,218.4 663.0,218.2 662.8,218.1 662.1,217.9 661.8,217.9 660.8,217.9 659.8,218.1 659.7,218.1 659.5,218.1 658.8,218.1 657.8,218.0 656.8,218.0 656.5,217.9 656.2,218.0 655.8,218.1 654.8,218.2 653.8,218.3 653.3,218.4 653.1,218.3 652.8,218.1 651.8,217.8 651.2,217.6 650.8,217.7 650.0,217.7 649.8,217.7 648.8,217.8 648.0,218.2 647.8,218.2 646.8,218.2 646.8,218.2 646.1,217.9 645.8,217.8 644.8,217.7 644.4,217.8 643.8,218.0 643.0,218.2 642.8,218.2 641.8,218.2 641.3,217.9 640.8,217.7 640.4,217.5 639.8,217.5 638.8,217.4 637.9,217.7 637.8,217.7 637.3,217.9 636.8,217.8 635.8,217.5 634.9,217.2 634.8,217.2 634.8,217.2 633.8,217.3 632.8,217.4 632.3,217.6 631.8,217.6 631.3,217.6 630.8,217.6 630.2,217.4 629.8,217.4 628.8,217.4 628.5,217.4 627.8,217.6 627.2,217.8 626.8,217.6 626.2,217.5 625.8,217.5 624.8,217.4 624.3,217.3 623.8,217.4 622.8,217.7 622.4,217.7 621.8,217.6 620.8,217.2 620.3,217.1 619.8,217.0 619.0,217.0 618.8,217.1 617.8,217.3 616.9,217.4 616.8,217.4 615.8,217.0 614.8,216.8 614.8,216.8 613.9,216.9 613.8,217.0 612.8,217.1 612.0,217.3 611.8,217.2 610.8,217.1 610.7,217.1 609.8,217.0 608.8,216.8 608.7,216.8 608.3,217.0 607.8,217.2 606.8,217.6 606.7,217.6 605.9,217.3 605.8,217.3 604.8,216.9 603.9,216.5 603.8,216.5 603.4,216.5 602.8,216.6 601.8,216.6 600.8,216.7 600.7,216.7 600.4,216.8 599.8,216.8 598.8,216.7 598.5,216.7 597.8,216.7 597.8,216.7 596.8,216.6 596.2,216.5 595.8,216.5 594.8,216.6 594.5,216.6 593.8,216.6 592.9,216.5 592.8,216.5 592.0,216.6 591.8,216.6 590.8,216.6 589.8,216.7 589.7,216.7 589.0,216.5 588.8,216.4 587.8,216.4 586.9,216.1 586.8,216.1 585.8,216.3 584.8,216.5 584.5,216.6 583.8,216.4 582.8,216.1 582.6,216.1 581.8,216.0 581.8,216.0 580.8,216.2 579.9,216.3 579.8,216.3 579.4,216.2 578.8,216.1 577.8,216.0 577.2,215.9 576.8,216.1 576.1,216.2 575.8,216.3 574.8,216.5 574.7,216.5 573.8,216.0 573.1,215.7 572.9,215.6 572.8,215.6 571.8,215.9 570.8,216.2 570.4,216.3 570.3,216.3 569.8,216.2 568.8,215.9 568.0,215.7 567.8,215.7 567.7,215.7 566.8,216.0 565.8,216.4 565.0,216.6 564.9,216.6 564.8,216.5 564.6,216.3 563.8,215.8 562.8,216.0 562.7,216.0 562.3,215.7 561.8,215.2 560.8,215.2 559.8,215.6 559.8,215.6 558.8,215.9 557.8,215.2 557.5,215.0 556.8,214.8 556.0,215.0 555.8,215.1 554.8,214.5 554.1,214.1 553.8,214.1 553.7,214.1 553.0,214.4 552.8,214.5 551.8,214.3 551.0,214.1 550.9,214.0 550.8,214.0 550.5,213.8 550.0,213.5 549.8,213.4 548.8,213.8 548.3,213.7 548.2,213.4 547.8,212.7 547.6,212.3 546.8,210.6 546.1,209.2 545.8,210.4 545.6,211.4 545.1,214.6 545.0,215.2 544.9,216.0 544.8,217.1 544.0,223.6 543.8,225.2 543.4,228.3 543.1,228.4 542.8,228.4 542.7,228.4 541.8,228.8 540.8,229.2 540.7,229.3 540.3,229.2 539.8,229.0 539.7,228.9 538.8,228.4 537.8,227.7 537.6,227.6 537.5,227.5 536.9,227.0 536.9,227.0 536.8,226.9 535.8,225.9 535.6,225.7 535.3,225.3 534.8,224.5 534.5,224.0 533.8,223.0 533.7,223.1 532.8,224.1 532.0,223.2 531.8,223.2 531.1,223.2 531.1,223.3 530.8,223.3 529.8,223.5 529.0,224.2 528.8,224.5 528.3,225.1 527.8,225.4 527.7,225.4 527.0,225.7 526.8,225.7 526.7,225.8 525.8,226.1 525.6,226.1 525.5,226.2 524.8,226.2 524.7,226.2 523.8,226.1 522.8,226.1 522.7,226.2 522.4,226.2 521.8,226.3 521.0,226.5 520.8,226.6 520.3,226.7 520.1,226.7 519.8,226.9 518.9,227.6 518.8,227.8 517.8,229.7 517.6,230.1 516.8,231.3 516.6,231.5 516.4,231.8 516.0,229.1 515.8,227.8 515.6,226.5 514.8,221.1 513.8,214.8 513.8,214.6 513.7,214.4 512.8,214.2 512.7,214.2 511.8,214.4 510.8,214.6 510.8,214.6 510.5,214.6 509.8,214.5 508.8,214.4 507.9,214.5 507.8,214.5 507.4,214.6 506.8,214.7 505.8,214.5 505.0,214.7 504.9,214.7 504.8,214.7 503.8,214.7 503.1,214.7 502.8,214.8 501.8,214.8 501.5,214.9 500.8,214.9 500.6,214.9 499.8,214.5 499.1,214.2 498.8,214.1 498.5,214.0 497.8,214.1 496.8,214.3 495.9,214.6 495.9,214.7 495.8,214.7 494.8,214.6 493.8,214.3 493.4,214.1 492.8,214.1 492.8,214.1 491.8,214.2 491.1,214.3 490.8,214.3 489.8,214.3 489.2,214.3 488.8,214.4 487.9,214.3 487.8,214.3 486.8,214.4 486.7,214.4 485.8,214.5 484.8,214.7 484.6,214.8 483.8,214.6 483.6,214.5 482.8,214.3 481.8,214.0 481.7,214.0 480.9,214.1 480.8,214.2 479.8,214.3 478.8,214.5 478.8,214.5 477.8,214.4 477.4,214.4 476.8,214.3 476.8,214.3 475.8,214.3 474.8,214.4 474.2,214.4 473.8,214.5 473.6,214.5 472.8,214.2 472.0,214.0 471.8,213.9 471.2,213.8 470.8,213.9 469.8,214.1 468.8,214.3 468.5,214.4 468.4,214.4 467.8,214.2 466.8,213.9 466.0,213.7 465.8,213.6 465.8,213.6 464.8,213.9 463.8,214.3 463.2,214.5 462.8,214.6 462.8,214.6 461.8,214.5 460.8,214.3 460.4,214.1 459.8,213.9 459.4,213.7 458.8,213.8 458.1,213.9 457.8,214.0 456.8,214.3 456.8,214.3 455.8,213.9 454.8,213.7 454.6,213.7 454.6,213.7 453.8,214.0 452.8,214.3 451.8,214.3 451.8,214.3 451.7,214.3 450.8,214.0 449.8,213.8 449.4,213.7 448.8,213.6 448.4,213.5 447.8,213.7 446.8,214.1 446.3,214.3 446.0,214.2 445.8,214.1 444.8,213.7 444.2,213.5 443.8,213.6 443.0,213.8 442.8,213.9 441.8,214.2 441.8,214.2 440.8,213.9 439.9,213.7 439.8,213.7 439.6,213.7 438.8,214.1 437.8,214.4 437.4,214.3 436.8,214.3 436.6,214.2 435.8,214.1 434.8,214.0 434.7,214.0 434.1,213.7 433.8,213.7 432.8,213.7 432.3,213.7 431.8,213.7 431.2,213.8 430.8,213.7 430.0,213.7 429.8,213.7 428.8,213.8 427.8,213.9 427.8,213.9 427.2,214.0 426.8,214.0 425.8,214.0 424.8,214.0 424.8,214.0 424.4,214.1 423.8,213.9 422.8,213.5Z"/></clipPath>
<path d="M422.8,200.0 423.8,199.8 424.4,199.6 424.8,199.5 424.8,199.5 425.8,200.0 426.8,200.2 427.2,200.3 427.8,200.0 427.8,200.0 428.8,199.7 429.8,199.4 430.0,199.3 430.8,199.8 431.2,200.1 431.8,200.4 432.3,200.7 432.8,200.4 433.8,200.0 434.1,199.9 434.7,199.6 434.8,199.6 435.8,200.1 436.6,200.6 436.8,200.7 437.4,201.0 437.8,200.9 438.8,200.4 439.6,200.1 439.8,200.0 439.9,199.9 440.8,199.9 441.8,199.7 441.8,199.7 442.8,200.7 443.0,200.9 443.8,201.2 444.2,201.3 444.8,201.1 445.8,200.8 446.0,200.7 446.3,200.7 446.8,200.8 447.8,201.0 448.4,201.2 448.8,201.3 449.4,201.5 449.8,201.4 450.8,201.2 451.7,200.6 451.8,200.6 451.8,200.6 452.8,200.6 453.8,200.7 454.6,201.3 454.6,201.3 454.8,201.3 455.8,201.2 456.8,200.7 456.8,200.7 457.8,200.4 458.1,200.3 458.8,200.8 459.4,201.2 459.8,201.4 460.4,201.6 460.8,201.4 461.8,201.0 462.8,200.5 462.8,200.5 463.2,200.3 463.8,200.4 464.8,200.8 465.8,201.3 465.8,201.3 466.0,201.4 466.8,201.1 467.8,200.6 468.4,200.3 468.5,200.4 468.8,200.6 469.8,200.4 470.8,200.6 471.2,200.9 471.8,201.3 472.0,201.5 472.8,201.2 473.6,200.9 473.8,200.8 474.2,200.5 474.8,200.6 475.8,200.7 476.8,200.9 476.8,200.9 477.4,201.3 477.8,201.3 478.8,201.4 478.8,201.4 479.8,201.1 480.8,200.6 480.9,200.6 481.7,200.7 481.8,200.8 482.8,201.5 483.6,202.0 483.8,202.0 484.6,201.7 484.8,201.6 485.8,200.9 486.7,200.5 486.8,200.6 487.8,201.2 487.9,201.2 488.8,201.8 489.2,202.1 489.8,201.8 490.8,201.4 491.1,201.3 491.8,201.0 492.8,200.4 492.8,200.4 493.4,200.4 493.8,200.4 494.8,200.6 495.8,200.9 495.9,200.9 495.9,200.9 496.8,200.9 497.8,201.1 498.5,201.2 498.8,201.3 499.1,201.3 499.8,201.1 500.6,200.9 500.8,200.8 501.5,201.0 501.8,201.0 502.8,201.0 503.1,201.0 503.8,201.0 504.8,200.4 504.9,200.4 505.0,200.4 505.8,200.4 506.8,200.6 507.4,201.2 507.8,201.1 507.9,201.1 508.8,201.1 509.8,200.8 510.5,200.5 510.8,200.6 510.8,200.6 511.8,201.0 512.7,201.2 512.8,201.2 513.7,201.3 513.8,202.5 513.8,202.6 514.8,203.4 515.6,204.2 515.8,204.4 516.0,204.7 516.4,204.8 516.6,204.9 516.8,204.9 517.6,204.9 517.8,204.8 518.8,205.0 518.9,205.1 519.8,205.9 520.1,206.2 520.3,206.5 520.8,207.3 521.0,207.6 521.8,207.5 522.4,207.1 522.7,206.9 522.8,206.8 523.8,205.3 524.7,204.2 524.8,204.2 525.5,203.9 525.6,203.4 525.8,202.6 526.7,198.9 526.8,198.3 527.0,197.5 527.7,197.5 527.8,197.5 528.3,197.6 528.8,197.5 529.0,197.5 529.8,197.4 530.8,196.3 531.1,196.0 531.1,195.9 531.8,195.8 532.0,195.8 532.8,195.8 533.7,195.5 533.8,195.4 534.5,195.2 534.8,195.2 535.3,195.3 535.6,194.0 535.8,193.1 536.8,188.6 536.9,188.3 536.9,188.2 537.5,184.9 537.6,184.3 537.8,183.3 538.8,177.3 539.7,171.9 539.8,171.2 540.3,168.2 540.7,165.9 540.8,165.6 541.8,163.0 542.7,161.1 542.8,160.8 543.1,160.0 543.4,159.0 543.8,157.7 544.0,157.1 544.8,156.0 544.9,155.8 545.0,155.7 545.1,155.6 545.6,154.9 545.8,155.5 546.1,156.3 546.8,158.2 547.6,161.1 547.8,161.8 548.2,163.2 548.3,163.7 548.8,167.7 549.8,175.6 550.0,177.2 550.5,181.0 550.8,183.5 550.9,184.3 551.0,185.2 551.8,187.6 552.8,190.9 553.0,191.7 553.7,194.0 553.8,194.1 554.1,194.2 554.8,194.4 555.8,194.3 556.0,194.2 556.8,194.0 557.5,193.8 557.8,193.7 558.8,192.9 559.8,192.7 559.8,192.7 560.8,193.3 561.8,193.1 562.3,193.0 562.7,192.9 562.8,192.9 563.8,193.0 564.6,193.0 564.8,193.0 564.9,193.0 565.0,193.0 565.8,193.6 566.8,192.6 567.7,191.9 567.8,192.0 568.0,192.2 568.8,193.1 569.8,193.2 570.3,192.9 570.4,192.6 570.8,191.4 571.8,188.5 572.8,187.1 572.9,187.0 573.1,186.9 573.8,188.1 574.7,189.7 574.8,189.9 575.8,191.4 576.1,191.9 576.8,191.7 577.2,191.4 577.8,190.0 578.8,187.7 579.4,187.6 579.8,188.0 579.9,188.1 580.8,188.8 581.8,189.5 581.8,189.5 582.6,189.5 582.8,189.3 583.8,188.4 584.5,187.7 584.8,187.4 585.8,186.4 586.8,186.3 586.9,186.3 587.8,186.1 588.8,186.0 589.0,186.1 589.7,185.5 589.8,185.5 590.8,184.6 591.8,182.9 592.0,182.7 592.8,182.7 592.9,182.7 593.8,182.9 594.5,183.5 594.8,183.3 595.8,182.6 596.2,182.2 596.8,181.5 597.8,180.4 597.8,180.4 598.5,180.9 598.8,181.1 599.8,181.6 600.4,181.9 600.7,182.1 600.8,181.9 601.8,180.0 602.8,178.2 603.4,177.1 603.8,177.3 603.9,177.3 604.8,177.8 605.8,178.0 605.9,178.0 606.7,176.9 606.8,176.8 607.8,175.5 608.3,174.9 608.7,175.0 608.8,175.1 609.8,175.5 610.7,175.9 610.8,175.7 611.8,174.4 612.0,174.1 612.8,173.2 613.8,171.8 613.9,171.7 614.8,172.4 614.8,172.4 615.8,172.7 616.8,173.0 616.9,173.0 617.8,171.1 618.8,168.8 619.0,168.3 619.8,166.4 620.3,165.2 620.8,165.3 621.8,165.4 622.4,166.5 622.8,167.6 623.8,167.8 624.3,167.0 624.8,166.0 625.8,164.0 626.2,163.1 626.8,163.4 627.2,163.7 627.8,164.0 628.5,164.8 628.8,164.5 629.8,163.4 630.2,162.8 630.8,161.7 631.3,160.8 631.8,160.7 632.3,160.7 632.8,160.7 633.8,161.1 634.8,161.1 634.8,161.0 634.9,160.7 635.8,157.1 636.8,153.9 637.3,153.5 637.8,153.1 637.9,153.0 638.8,153.8 639.8,153.6 640.4,153.5 640.8,153.4 641.3,153.3 641.8,152.0 642.8,151.1 643.0,150.9 643.8,150.0 644.4,148.7 644.8,149.1 645.8,149.8 646.1,149.9 646.8,149.9 646.8,149.9 647.8,146.9 648.0,146.1 648.8,143.0 649.8,140.2 650.0,139.8 650.8,140.5 651.2,140.8 651.8,141.3 652.8,142.5 653.1,142.8 653.3,142.5 653.8,141.7 654.8,139.9 655.8,138.0 656.2,137.2 656.5,137.5 656.8,137.7 657.8,138.1 658.8,137.9 659.5,138.3 659.7,138.7 659.8,138.7 660.8,138.2 661.8,137.1 662.1,136.3 662.8,134.7 663.0,134.1 663.8,133.7 664.7,133.6 664.8,133.6 665.8,133.7 666.6,134.0 666.8,133.9 666.8,133.9 667.8,133.1 668.8,130.8 669.0,130.1 669.8,127.6 670.2,126.5 670.8,126.3 671.7,125.6 671.8,125.6 672.6,123.9 672.8,122.9 673.8,118.4 674.3,116.1 674.8,113.8 675.8,109.7 675.8,109.6 676.8,107.9 677.7,107.2 677.8,107.3 678.8,107.4 679.1,107.5 679.8,105.5 680.8,102.3 680.8,102.2 681.8,98.4 682.4,96.1 682.8,96.2 683.0,96.4 683.8,97.0 684.8,97.9 685.8,98.7 686.0,98.7 686.1,98.1 686.8,96.0 687.8,92.8 688.7,90.0 688.8,89.6 689.2,88.3 689.8,88.2 690.8,87.9 691.1,87.6 691.6,87.0 691.8,86.3 692.8,82.4 693.5,80.8 693.8,80.1 694.8,77.8 695.1,77.1 695.3,77.0 695.8,76.7 696.6,76.1 696.6,218.8 695.8,219.1 695.3,219.3 695.1,219.3 694.8,219.2 693.8,218.8 693.5,218.7 692.8,218.8 691.8,219.0 691.6,219.1 691.1,219.2 690.8,219.0 689.8,218.6 689.2,218.4 688.8,218.3 688.7,218.2 687.8,218.4 686.8,218.6 686.1,218.8 686.0,218.7 685.8,218.7 684.8,218.6 683.8,218.3 683.0,218.1 682.8,218.2 682.4,218.2 681.8,218.3 680.8,218.4 680.8,218.4 679.8,218.4 679.1,218.3 678.8,218.3 677.8,218.2 677.7,218.2 676.8,218.4 675.8,218.7 675.8,218.7 674.8,219.2 674.3,219.4 673.8,219.0 672.8,218.3 672.6,218.2 671.8,217.9 671.7,217.8 670.8,217.9 670.2,218.0 669.8,218.1 669.0,218.3 668.8,218.3 667.8,218.1 666.8,217.9 666.8,217.9 666.6,217.9 665.8,218.1 664.8,218.5 664.7,218.6 663.8,218.4 663.0,218.2 662.8,218.1 662.1,217.9 661.8,217.9 660.8,217.9 659.8,218.1 659.7,218.1 659.5,218.1 658.8,218.1 657.8,218.0 656.8,218.0 656.5,217.9 656.2,218.0 655.8,218.1 654.8,218.2 653.8,218.3 653.3,218.4 653.1,218.3 652.8,218.1 651.8,217.8 651.2,217.6 650.8,217.7 650.0,217.7 649.8,217.7 648.8,217.8 648.0,218.2 647.8,218.2 646.8,218.2 646.8,218.2 646.1,217.9 645.8,217.8 644.8,217.7 644.4,217.8 643.8,218.0 643.0,218.2 642.8,218.2 641.8,218.2 641.3,217.9 640.8,217.7 640.4,217.5 639.8,217.5 638.8,217.4 637.9,217.7 637.8,217.7 637.3,217.9 636.8,217.8 635.8,217.5 634.9,217.2 634.8,217.2 634.8,217.2 633.8,217.3 632.8,217.4 632.3,217.6 631.8,217.6 631.3,217.6 630.8,217.6 630.2,217.4 629.8,217.4 628.8,217.4 628.5,217.4 627.8,217.6 627.2,217.8 626.8,217.6 626.2,217.5 625.8,217.5 624.8,217.4 624.3,217.3 623.8,217.4 622.8,217.7 622.4,217.7 621.8,217.6 620.8,217.2 620.3,217.1 619.8,217.0 619.0,217.0 618.8,217.1 617.8,217.3 616.9,217.4 616.8,217.4 615.8,217.0 614.8,216.8 614.8,216.8 613.9,216.9 613.8,217.0 612.8,217.1 612.0,217.3 611.8,217.2 610.8,217.1 610.7,217.1 609.8,217.0 608.8,216.8 608.7,216.8 608.3,217.0 607.8,217.2 606.8,217.6 606.7,217.6 605.9,217.3 605.8,217.3 604.8,216.9 603.9,216.5 603.8,216.5 603.4,216.5 602.8,216.6 601.8,216.6 600.8,216.7 600.7,216.7 600.4,216.8 599.8,216.8 598.8,216.7 598.5,216.7 597.8,216.7 597.8,216.7 596.8,216.6 596.2,216.5 595.8,216.5 594.8,216.6 594.5,216.6 593.8,216.6 592.9,216.5 592.8,216.5 592.0,216.6 591.8,216.6 590.8,216.6 589.8,216.7 589.7,216.7 589.0,216.5 588.8,216.4 587.8,216.4 586.9,216.1 586.8,216.1 585.8,216.3 584.8,216.5 584.5,216.6 583.8,216.4 582.8,216.1 582.6,216.1 581.8,216.0 581.8,216.0 580.8,216.2 579.9,216.3 579.8,216.3 579.4,216.2 578.8,216.1 577.8,216.0 577.2,215.9 576.8,216.1 576.1,216.2 575.8,216.3 574.8,216.5 574.7,216.5 573.8,216.0 573.1,215.7 572.9,215.6 572.8,215.6 571.8,215.9 570.8,216.2 570.4,216.3 570.3,216.3 569.8,216.2 568.8,215.9 568.0,215.7 567.8,215.7 567.7,215.7 566.8,216.0 565.8,216.4 565.0,216.6 564.9,216.6 564.8,216.5 564.6,216.3 563.8,215.8 562.8,216.0 562.7,216.0 562.3,215.7 561.8,215.2 560.8,215.2 559.8,215.6 559.8,215.6 558.8,215.9 557.8,215.2 557.5,215.0 556.8,214.8 556.0,215.0 555.8,215.1 554.8,214.5 554.1,214.1 553.8,214.1 553.7,214.1 553.0,214.4 552.8,214.5 551.8,214.3 551.0,214.1 550.9,214.0 550.8,214.0 550.5,213.8 550.0,213.5 549.8,213.4 548.8,213.8 548.3,213.7 548.2,213.4 547.8,212.7 547.6,212.3 546.8,210.6 546.1,209.2 545.8,210.4 545.6,211.4 545.1,214.6 545.0,215.2 544.9,216.0 544.8,217.1 544.0,223.6 543.8,225.2 543.4,228.3 543.1,228.4 542.8,228.4 542.7,228.4 541.8,228.8 540.8,229.2 540.7,229.3 540.3,229.2 539.8,229.0 539.7,228.9 538.8,228.4 537.8,227.7 537.6,227.6 537.5,227.5 536.9,227.0 536.9,227.0 536.8,226.9 535.8,225.9 535.6,225.7 535.3,225.3 534.8,224.5 534.5,224.0 533.8,223.0 533.7,223.1 532.8,224.1 532.0,223.2 531.8,223.2 531.1,223.2 531.1,223.3 530.8,223.3 529.8,223.5 529.0,224.2 528.8,224.5 528.3,225.1 527.8,225.4 527.7,225.4 527.0,225.7 526.8,225.7 526.7,225.8 525.8,226.1 525.6,226.1 525.5,226.2 524.8,226.2 524.7,226.2 523.8,226.1 522.8,226.1 522.7,226.2 522.4,226.2 521.8,226.3 521.0,226.5 520.8,226.6 520.3,226.7 520.1,226.7 519.8,226.9 518.9,227.6 518.8,227.8 517.8,229.7 517.6,230.1 516.8,231.3 516.6,231.5 516.4,231.8 516.0,229.1 515.8,227.8 515.6,226.5 514.8,221.1 513.8,214.8 513.8,214.6 513.7,214.4 512.8,214.2 512.7,214.2 511.8,214.4 510.8,214.6 510.8,214.6 510.5,214.6 509.8,214.5 508.8,214.4 507.9,214.5 507.8,214.5 507.4,214.6 506.8,214.7 505.8,214.5 505.0,214.7 504.9,214.7 504.8,214.7 503.8,214.7 503.1,214.7 502.8,214.8 501.8,214.8 501.5,214.9 500.8,214.9 500.6,214.9 499.8,214.5 499.1,214.2 498.8,214.1 498.5,214.0 497.8,214.1 496.8,214.3 495.9,214.6 495.9,214.7 495.8,214.7 494.8,214.6 493.8,214.3 493.4,214.1 492.8,214.1 492.8,214.1 491.8,214.2 491.1,214.3 490.8,214.3 489.8,214.3 489.2,214.3 488.8,214.4 487.9,214.3 487.8,214.3 486.8,214.4 486.7,214.4 485.8,214.5 484.8,214.7 484.6,214.8 483.8,214.6 483.6,214.5 482.8,214.3 481.8,214.0 481.7,214.0 480.9,214.1 480.8,214.2 479.8,214.3 478.8,214.5 478.8,214.5 477.8,214.4 477.4,214.4 476.8,214.3 476.8,214.3 475.8,214.3 474.8,214.4 474.2,214.4 473.8,214.5 473.6,214.5 472.8,214.2 472.0,214.0 471.8,213.9 471.2,213.8 470.8,213.9 469.8,214.1 468.8,214.3 468.5,214.4 468.4,214.4 467.8,214.2 466.8,213.9 466.0,213.7 465.8,213.6 465.8,213.6 464.8,213.9 463.8,214.3 463.2,214.5 462.8,214.6 462.8,214.6 461.8,214.5 460.8,214.3 460.4,214.1 459.8,213.9 459.4,213.7 458.8,213.8 458.1,213.9 457.8,214.0 456.8,214.3 456.8,214.3 455.8,213.9 454.8,213.7 454.6,213.7 454.6,213.7 453.8,214.0 452.8,214.3 451.8,214.3 451.8,214.3 451.7,214.3 450.8,214.0 449.8,213.8 449.4,213.7 448.8,213.6 448.4,213.5 447.8,213.7 446.8,214.1 446.3,214.3 446.0,214.2 445.8,214.1 444.8,213.7 444.2,213.5 443.8,213.6 443.0,213.8 442.8,213.9 441.8,214.2 441.8,214.2 440.8,213.9 439.9,213.7 439.8,213.7 439.6,213.7 438.8,214.1 437.8,214.4 437.4,214.3 436.8,214.3 436.6,214.2 435.8,214.1 434.8,214.0 434.7,214.0 434.1,213.7 433.8,213.7 432.8,213.7 432.3,213.7 431.8,213.7 431.2,213.8 430.8,213.7 430.0,213.7 429.8,213.7 428.8,213.8 427.8,213.9 427.8,213.9 427.2,214.0 426.8,214.0 425.8,214.0 424.8,214.0 424.8,214.0 424.4,214.1 423.8,213.9 422.8,213.5Z" fill="#fad0bc"/>
<path d="M422.8,200.0 423.8,199.8 424.4,199.6 424.8,199.5 424.8,199.5 425.8,200.0 426.8,200.2 427.2,200.3 427.8,200.0 427.8,200.0 428.8,199.7 429.8,199.4 430.0,199.3 430.8,199.8 431.2,200.1 431.8,200.4 432.3,200.7 432.8,200.4 433.8,200.0 434.1,199.9 434.7,199.6 434.8,199.6 435.8,200.1 436.6,200.6 436.8,200.7 437.4,201.0 437.8,200.9 438.8,200.4 439.6,200.1 439.8,200.0 439.9,199.9 440.8,199.9 441.8,199.7 441.8,199.7 442.8,200.7 443.0,200.9 443.8,201.2 444.2,201.3 444.8,201.1 445.8,200.8 446.0,200.7 446.3,200.7 446.8,200.8 447.8,201.0 448.4,201.2 448.8,201.3 449.4,201.5 449.8,201.4 450.8,201.2 451.7,200.6 451.8,200.6 451.8,200.6 452.8,200.6 453.8,200.7 454.6,201.3 454.6,201.3 454.8,201.3 455.8,201.2 456.8,200.7 456.8,200.7 457.8,200.4 458.1,200.3 458.8,200.8 459.4,201.2 459.8,201.4 460.4,201.6 460.8,201.4 461.8,201.0 462.8,200.5 462.8,200.5 463.2,200.3 463.8,200.4 464.8,200.8 465.8,201.3 465.8,201.3 466.0,201.4 466.8,201.1 467.8,200.6 468.4,200.3 468.5,200.4 468.8,200.6 469.8,200.4 470.8,200.6 471.2,200.9 471.8,201.3 472.0,201.5 472.8,201.2 473.6,200.9 473.8,200.8 474.2,200.5 474.8,200.6 475.8,200.7 476.8,200.9 476.8,200.9 477.4,201.3 477.8,201.3 478.8,201.4 478.8,201.4 479.8,201.1 480.8,200.6 480.9,200.6 481.7,200.7 481.8,200.8 482.8,201.5 483.6,202.0 483.8,202.0 484.6,201.7 484.8,201.6 485.8,200.9 486.7,200.5 486.8,200.6 487.8,201.2 487.9,201.2 488.8,201.8 489.2,202.1 489.8,201.8 490.8,201.4 491.1,201.3 491.8,201.0 492.8,200.4 492.8,200.4 493.4,200.4 493.8,200.4 494.8,200.6 495.8,200.9 495.9,200.9 495.9,200.9 496.8,200.9 497.8,201.1 498.5,201.2 498.8,201.3 499.1,201.3 499.8,201.1 500.6,200.9 500.8,200.8 501.5,201.0 501.8,201.0 502.8,201.0 503.1,201.0 503.8,201.0 504.8,200.4 504.9,200.4 505.0,200.4 505.8,200.4 506.8,200.6 507.4,201.2 507.8,201.1 507.9,201.1 508.8,201.1 509.8,200.8 510.5,200.5 510.8,200.6 510.8,200.6 511.8,201.0 512.7,201.2 512.8,201.2 513.7,201.3 513.8,201.4 513.8,201.4 514.8,201.1 515.6,200.7 515.8,200.6 516.0,200.5 516.4,200.3 516.6,200.2 516.8,200.2 517.6,200.5 517.8,200.5 518.8,201.0 518.9,201.0 519.8,200.7 520.1,200.7 520.3,200.6 520.8,200.5 521.0,200.4 521.8,200.3 522.4,200.1 522.7,200.0 522.8,200.0 523.8,199.8 524.7,199.8 524.8,199.8 525.5,199.8 525.6,199.8 525.8,199.7 526.7,199.1 526.8,199.0 527.0,198.9 527.7,198.3 527.8,198.3 528.3,197.9 528.8,198.1 529.0,198.2 529.8,198.6 530.8,199.1 531.1,199.3 531.1,199.2 531.8,198.9 532.0,198.8 532.8,198.5 533.7,198.2 533.8,198.2 534.5,198.0 534.8,198.1 535.3,198.3 535.6,198.4 535.8,198.4 536.8,198.5 536.9,198.5 536.9,198.5 537.5,198.1 537.6,198.0 537.8,197.9 538.8,197.0 539.7,196.2 539.8,196.2 540.3,196.3 540.7,196.3 540.8,196.3 541.8,196.4 542.7,196.6 542.8,196.5 543.1,196.3 543.4,196.1 543.8,195.8 544.0,195.7 544.8,195.4 544.9,195.3 545.0,195.4 545.1,195.4 545.6,195.6 545.8,195.6 546.1,195.6 546.8,195.5 547.6,195.4 547.8,195.3 548.2,195.4 548.3,195.4 548.8,195.5 549.8,195.4 550.0,195.3 550.5,195.0 550.8,195.2 550.9,195.3 551.0,195.4 551.8,195.7 552.8,196.2 553.0,196.3 553.7,196.1 553.8,196.0 554.1,195.9 554.8,195.6 555.8,195.3 556.0,195.2 556.8,195.5 557.5,195.7 557.8,195.8 558.8,195.9 559.8,194.8 559.8,194.8 560.8,193.5 561.8,191.2 562.3,189.9 562.7,189.9 562.8,189.9 563.8,191.5 564.6,193.0 564.8,193.4 564.9,193.6 565.0,193.6 565.8,192.6 566.8,191.2 567.7,190.1 567.8,190.2 568.0,190.5 568.8,191.7 569.8,193.1 570.3,193.5 570.4,193.3 570.8,192.7 571.8,191.3 572.8,189.9 572.9,189.7 573.1,189.4 573.8,190.0 574.7,190.7 574.8,190.8 575.8,191.5 576.1,191.7 576.8,190.9 577.2,190.4 577.8,189.7 578.8,188.5 579.4,187.8 579.8,187.7 579.9,187.7 580.8,187.8 581.8,188.7 581.8,188.7 582.6,189.4 582.8,189.4 583.8,188.0 584.5,186.8 584.8,186.4 585.8,185.8 586.8,186.6 586.9,186.6 587.8,187.0 588.8,186.3 589.0,186.2 589.7,185.2 589.8,185.1 590.8,184.1 591.8,183.1 592.0,182.9 592.8,183.5 592.9,183.5 593.8,184.1 594.5,184.3 594.8,183.8 595.8,182.1 596.2,181.5 596.8,180.5 597.8,180.0 597.8,180.0 598.5,180.9 598.8,180.8 599.8,180.4 600.4,180.2 600.7,180.1 600.8,179.8 601.8,178.3 602.8,177.1 603.4,176.4 603.8,176.8 603.9,176.8 604.8,177.4 605.8,178.1 605.9,178.1 606.7,177.3 606.8,177.2 607.8,176.1 608.3,175.5 608.7,175.7 608.8,175.7 609.8,176.2 610.7,176.6 610.8,176.4 611.8,174.9 612.0,174.4 612.8,173.1 613.8,170.3 613.9,170.0 614.8,168.9 614.8,168.8 615.8,169.7 616.8,171.6 616.9,171.7 617.8,170.8 618.8,169.6 619.0,169.2 619.8,167.9 620.3,167.0 620.8,167.4 621.8,168.5 622.4,169.2 622.8,169.8 623.8,167.7 624.3,166.6 624.8,165.4 625.8,163.2 626.2,162.3 626.8,162.8 627.2,163.1 627.8,163.5 628.5,164.5 628.8,164.2 629.8,163.2 630.2,162.6 630.8,161.2 631.3,160.1 631.8,160.0 632.3,160.1 632.8,160.1 633.8,160.1 634.8,160.7 634.8,160.7 634.9,160.6 635.8,159.8 636.8,158.1 637.3,156.9 637.8,155.7 637.9,155.4 638.8,154.7 639.8,153.8 640.4,153.3 640.8,153.0 641.3,152.7 641.8,152.2 642.8,151.2 643.0,151.1 643.8,150.1 644.4,148.1 644.8,148.0 645.8,148.0 646.1,148.0 646.8,147.9 646.8,147.9 647.8,144.7 648.0,144.0 648.8,143.4 649.8,143.8 650.0,143.9 650.8,145.1 651.2,145.2 651.8,145.3 652.8,145.8 653.1,146.0 653.3,145.6 653.8,144.4 654.8,142.2 655.8,139.7 656.2,138.6 656.5,138.6 656.8,138.6 657.8,139.3 658.8,140.3 659.5,140.6 659.7,140.7 659.8,140.6 660.8,138.8 661.8,137.2 662.1,136.6 662.8,135.6 663.0,135.2 663.8,135.2 664.7,134.9 664.8,134.8 665.8,134.7 666.6,135.0 666.8,134.8 666.8,134.7 667.8,133.3 668.8,129.8 669.0,128.9 669.8,125.3 670.2,123.6 670.8,121.6 671.7,120.4 671.8,120.3 672.6,119.5 672.8,118.8 673.8,116.1 674.3,115.2 674.8,114.4 675.8,112.3 675.8,112.3 676.8,110.3 677.7,108.8 677.8,108.7 678.8,107.0 679.1,106.6 679.8,103.2 680.8,98.7 680.8,98.6 681.8,95.8 682.4,94.7 682.8,95.5 683.0,95.9 683.8,96.3 684.8,96.9 685.8,97.4 686.0,97.3 686.1,96.6 686.8,94.1 687.8,90.2 688.7,87.5 688.8,87.3 689.2,86.7 689.8,87.5 690.8,88.3 691.1,88.2 691.6,88.0 691.8,87.5 692.8,84.3 693.5,82.3 693.8,81.3 694.8,78.3 695.1,77.2 695.3,77.1 695.8,76.9 696.6,76.4 696.6,219.0 695.8,219.4 695.3,219.6 695.1,219.5 694.8,219.3 693.8,218.8 693.5,218.6 692.8,218.6 691.8,218.9 691.6,219.0 691.1,219.2 690.8,219.1 689.8,218.8 689.2,218.6 688.8,218.5 688.7,218.5 687.8,218.5 686.8,218.6 686.1,218.7 686.0,218.7 685.8,218.7 684.8,218.5 683.8,218.4 683.0,218.6 682.8,218.7 682.4,218.9 681.8,218.7 680.8,218.5 680.8,218.5 679.8,218.3 679.1,218.2 678.8,218.2 677.8,218.1 677.7,218.1 676.8,218.6 675.8,218.9 675.8,218.9 674.8,218.8 674.3,218.8 673.8,218.7 672.8,218.5 672.6,218.4 671.8,218.0 671.7,218.0 670.8,218.0 670.2,218.1 669.8,218.2 669.0,218.4 668.8,218.3 667.8,218.1 666.8,218.0 666.8,218.0 666.6,218.0 665.8,218.2 664.8,218.5 664.7,218.5 663.8,218.4 663.0,218.3 662.8,218.2 662.1,217.9 661.8,217.9 660.8,217.9 659.8,218.0 659.7,218.0 659.5,218.0 658.8,217.9 657.8,217.8 656.8,217.7 656.5,217.7 656.2,217.7 655.8,217.8 654.8,218.0 653.8,218.1 653.3,218.3 653.1,218.2 652.8,218.1 651.8,217.8 651.2,217.6 650.8,217.7 650.0,217.8 649.8,217.9 648.8,218.1 648.0,218.1 647.8,218.0 646.8,217.9 646.8,217.9 646.1,217.9 645.8,218.0 644.8,218.3 644.4,218.3 643.8,218.2 643.0,218.1 642.8,218.0 641.8,217.5 641.3,217.4 640.8,217.3 640.4,217.2 639.8,217.3 638.8,217.5 637.9,217.6 637.8,217.7 637.3,217.8 636.8,217.7 635.8,217.4 634.9,217.2 634.8,217.2 634.8,217.2 633.8,217.4 632.8,217.6 632.3,217.9 631.8,217.9 631.3,217.9 630.8,217.7 630.2,217.4 629.8,217.4 628.8,217.4 628.5,217.4 627.8,217.5 627.2,217.7 626.8,217.5 626.2,217.4 625.8,217.3 624.8,217.0 624.3,216.9 623.8,217.0 622.8,217.2 622.4,217.3 621.8,217.2 620.8,217.1 620.3,217.0 619.8,216.9 619.0,216.8 618.8,216.8 617.8,217.1 616.9,217.3 616.8,217.3 615.8,217.0 614.8,216.7 614.8,216.7 613.9,216.8 613.8,216.8 612.8,217.2 612.0,217.4 611.8,217.4 610.8,217.4 610.7,217.4 609.8,217.3 608.8,216.8 608.7,216.8 608.3,216.8 607.8,216.8 606.8,217.1 606.7,217.1 605.9,216.9 605.8,216.9 604.8,216.8 603.9,216.7 603.8,216.7 603.4,216.8 602.8,216.9 601.8,217.0 600.8,216.9 600.7,216.9 600.4,216.9 599.8,216.7 598.8,216.4 598.5,216.3 597.8,216.4 597.8,216.4 596.8,216.6 596.2,216.7 595.8,216.7 594.8,216.4 594.5,216.4 593.8,216.3 592.9,216.2 592.8,216.2 592.0,216.3 591.8,216.4 590.8,216.6 589.8,216.8 589.7,216.8 589.0,216.7 588.8,216.7 587.8,216.5 586.9,216.2 586.8,216.2 585.8,216.4 584.8,216.5 584.5,216.6 583.8,216.4 582.8,216.3 582.6,216.2 581.8,216.0 581.8,216.0 580.8,216.2 579.9,216.3 579.8,216.3 579.4,216.2 578.8,216.1 577.8,215.9 577.2,216.0 576.8,216.2 576.1,216.6 575.8,216.8 574.8,216.9 574.7,216.9 573.8,216.2 573.1,215.7 572.9,215.6 572.8,215.7 571.8,216.0 570.8,216.3 570.4,216.4 570.3,216.4 569.8,216.3 568.8,216.1 568.0,215.7 567.8,215.7 567.7,215.7 566.8,215.7 565.8,215.8 565.0,215.9 564.9,215.9 564.8,215.9 564.6,215.9 563.8,215.7 562.8,215.5 562.7,215.5 562.3,215.6 561.8,215.8 560.8,215.9 559.8,216.1 559.8,216.1 558.8,215.7 557.8,215.4 557.5,215.4 556.8,215.5 556.0,215.7 555.8,215.7 554.8,215.7 554.1,215.8 553.8,215.7 553.7,215.7 553.0,215.8 552.8,215.8 551.8,215.9 551.0,215.8 550.9,215.7 550.8,215.7 550.5,215.6 550.0,215.6 549.8,215.5 548.8,215.6 548.3,215.8 548.2,215.8 547.8,215.8 547.6,215.8 546.8,215.5 546.1,215.3 545.8,215.2 545.6,215.2 545.1,215.0 545.0,215.0 544.9,215.0 544.8,215.0 544.0,215.1 543.8,215.2 543.4,215.2 543.1,215.3 542.8,215.2 542.7,215.2 541.8,215.1 540.8,215.1 540.7,215.1 540.3,215.0 539.8,215.1 539.7,215.1 538.8,215.3 537.8,215.5 537.6,215.6 537.5,215.5 536.9,215.3 536.9,215.3 536.8,215.3 535.8,214.9 535.6,214.8 535.3,214.9 534.8,215.0 534.5,215.1 533.8,215.5 533.7,215.5 532.8,215.3 532.0,215.0 531.8,214.9 531.1,214.7 531.1,214.7 530.8,214.7 529.8,215.1 529.0,215.5 528.8,215.5 528.3,215.5 527.8,215.3 527.7,215.2 527.0,215.0 526.8,214.9 526.7,214.8 525.8,215.0 525.6,215.0 525.5,215.0 524.8,215.1 524.7,215.1 523.8,214.7 522.8,214.4 522.7,214.4 522.4,214.5 521.8,214.8 521.0,215.0 520.8,215.1 520.3,215.1 520.1,215.1 519.8,214.9 518.9,214.6 518.8,214.5 517.8,214.3 517.6,214.2 516.8,214.4 516.6,214.5 516.4,214.5 516.0,214.6 515.8,214.7 515.6,214.8 514.8,214.6 513.8,214.4 513.8,214.4 513.7,214.4 512.8,214.2 512.7,214.2 511.8,214.4 510.8,214.6 510.8,214.6 510.5,214.6 509.8,214.5 508.8,214.4 507.9,214.5 507.8,214.5 507.4,214.6 506.8,214.7 505.8,214.5 505.0,214.7 504.9,214.7 504.8,214.7 503.8,214.7 503.1,214.7 502.8,214.8 501.8,214.8 501.5,214.9 500.8,214.9 500.6,214.9 499.8,214.5 499.1,214.2 498.8,214.1 498.5,214.0 497.8,214.1 496.8,214.3 495.9,214.6 495.9,214.7 495.8,214.7 494.8,214.6 493.8,214.3 493.4,214.1 492.8,214.1 492.8,214.1 491.8,214.2 491.1,214.3 490.8,214.3 489.8,214.3 489.2,214.3 488.8,214.4 487.9,214.3 487.8,214.3 486.8,214.4 486.7,214.4 485.8,214.5 484.8,214.7 484.6,214.8 483.8,214.6 483.6,214.5 482.8,214.3 481.8,214.0 481.7,214.0 480.9,214.1 480.8,214.2 479.8,214.3 478.8,214.5 478.8,214.5 477.8,214.4 477.4,214.4 476.8,214.3 476.8,214.3 475.8,214.3 474.8,214.4 474.2,214.4 473.8,214.5 473.6,214.5 472.8,214.2 472.0,214.0 471.8,213.9 471.2,213.8 470.8,213.9 469.8,214.1 468.8,214.3 468.5,214.4 468.4,214.4 467.8,214.2 466.8,213.9 466.0,213.7 465.8,213.6 465.8,213.6 464.8,213.9 463.8,214.3 463.2,214.5 462.8,214.6 462.8,214.6 461.8,214.5 460.8,214.3 460.4,214.1 459.8,213.9 459.4,213.7 458.8,213.8 458.1,213.9 457.8,214.0 456.8,214.3 456.8,214.3 455.8,213.9 454.8,213.7 454.6,213.7 454.6,213.7 453.8,214.0 452.8,214.3 451.8,214.3 451.8,214.3 451.7,214.3 450.8,214.0 449.8,213.8 449.4,213.7 448.8,213.6 448.4,213.5 447.8,213.7 446.8,214.1 446.3,214.3 446.0,214.2 445.8,214.1 444.8,213.7 444.2,213.5 443.8,213.6 443.0,213.8 442.8,213.9 441.8,214.2 441.8,214.2 440.8,213.9 439.9,213.7 439.8,213.7 439.6,213.7 438.8,214.1 437.8,214.4 437.4,214.3 436.8,214.3 436.6,214.2 435.8,214.1 434.8,214.0 434.7,214.0 434.1,213.7 433.8,213.7 432.8,213.7 432.3,213.7 431.8,213.7 431.2,213.8 430.8,213.7 430.0,213.7 429.8,213.7 428.8,213.8 427.8,213.9 427.8,213.9 427.2,214.0 426.8,214.0 425.8,214.0 424.8,214.0 424.8,214.0 424.4,214.1 423.8,213.9 422.8,213.5Z" fill="#c7cfec"/>
<path d="M422.8,200.0 423.8,199.8 424.4,199.6 424.8,199.5 424.8,199.5 425.8,200.0 426.8,200.2 427.2,200.3 427.8,200.0 427.8,200.0 428.8,199.7 429.8,199.4 430.0,199.3 430.8,199.8 431.2,200.1 431.8,200.4 432.3,200.7 432.8,200.4 433.8,200.0 434.1,199.9 434.7,199.6 434.8,199.6 435.8,200.1 436.6,200.6 436.8,200.7 437.4,201.0 437.8,200.9 438.8,200.4 439.6,200.1 439.8,200.0 439.9,199.9 440.8,199.9 441.8,199.7 441.8,199.7 442.8,200.7 443.0,200.9 443.8,201.2 444.2,201.3 444.8,201.1 445.8,200.8 446.0,200.7 446.3,200.7 446.8,200.8 447.8,201.0 448.4,201.2 448.8,201.3 449.4,201.5 449.8,201.4 450.8,201.2 451.7,200.6 451.8,200.6 451.8,200.6 452.8,200.6 453.8,200.7 454.6,201.3 454.6,201.3 454.8,201.3 455.8,201.2 456.8,200.7 456.8,200.7 457.8,200.4 458.1,200.3 458.8,200.8 459.4,201.2 459.8,201.4 460.4,201.6 460.8,201.4 461.8,201.0 462.8,200.5 462.8,200.5 463.2,200.3 463.8,200.4 464.8,200.8 465.8,201.3 465.8,201.3 466.0,201.4 466.8,201.1 467.8,200.6 468.4,200.3 468.5,200.4 468.8,200.6 469.8,200.4 470.8,200.6 471.2,200.9 471.8,201.3 472.0,201.5 472.8,201.2 473.6,200.9 473.8,200.8 474.2,200.5 474.8,200.6 475.8,200.7 476.8,200.9 476.8,200.9 477.4,201.3 477.8,201.3 478.8,201.4 478.8,201.4 479.8,201.1 480.8,200.6 480.9,200.6 481.7,200.7 481.8,200.8 482.8,201.5 483.6,202.0 483.8,202.0 484.6,201.7 484.8,201.6 485.8,200.9 486.7,200.5 486.8,200.6 487.8,201.2 487.9,201.2 488.8,201.8 489.2,202.1 489.8,201.8 490.8,201.4 491.1,201.3 491.8,201.0 492.8,200.4 492.8,200.4 493.4,200.4 493.8,200.4 494.8,200.6 495.8,200.9 495.9,200.9 495.9,200.9 496.8,200.9 497.8,201.1 498.5,201.2 498.8,201.3 499.1,201.3 499.8,201.1 500.6,200.9 500.8,200.8 501.5,201.0 501.8,201.0 502.8,201.0 503.1,201.0 503.8,201.0 504.8,200.4 504.9,200.4 505.0,200.4 505.8,200.4 506.8,200.6 507.4,201.2 507.8,201.1 507.9,201.1 508.8,201.1 509.8,200.8 510.5,200.5 510.8,200.6 510.8,200.6 511.8,201.0 512.7,201.2 512.8,201.2 513.7,201.3 513.8,201.4 513.8,201.4 514.8,201.1 515.6,200.7 515.8,200.6 516.0,200.5 516.4,200.3 516.6,200.2 516.8,200.2 517.6,200.5 517.8,200.5 518.8,201.0 518.9,201.0 519.8,200.7 520.1,200.7 520.3,200.6 520.8,200.5 521.0,200.4 521.8,200.3 522.4,200.1 522.7,200.0 522.8,200.0 523.8,199.8 524.7,199.8 524.8,199.8 525.5,199.8 525.6,199.8 525.8,199.7 526.7,199.1 526.8,199.0 527.0,198.9 527.7,198.3 527.8,198.3 528.3,197.9 528.8,198.1 529.0,198.2 529.8,198.6 530.8,199.1 531.1,199.3 531.1,199.2 531.8,198.9 532.0,198.8 532.8,198.5 533.7,198.2 533.8,198.2 534.5,198.0 534.8,198.1 535.3,198.3 535.6,198.4 535.8,198.4 536.8,198.5 536.9,198.5 536.9,198.5 537.5,198.1 537.6,198.0 537.8,197.9 538.8,197.0 539.7,196.2 539.8,196.2 540.3,196.3 540.7,196.3 540.8,196.3 541.8,196.4 542.7,196.6 542.8,196.5 543.1,196.3 543.4,196.1 543.8,195.8 544.0,195.7 544.8,195.4 544.9,195.3 545.0,195.4 545.1,195.4 545.6,195.6 545.8,195.6 546.1,195.6 546.8,195.5 547.6,195.4 547.8,195.3 548.2,195.4 548.3,195.4 548.8,195.5 549.8,195.4 550.0,195.3 550.5,195.0 550.8,195.2 550.9,195.3 551.0,195.4 551.8,195.7 552.8,196.2 553.0,196.3 553.7,196.1 553.8,196.0 554.1,195.9 554.8,195.6 555.8,195.3 556.0,195.2 556.8,195.5 557.5,195.7 557.8,195.8 558.8,195.9 559.8,194.8 559.8,194.8 560.8,193.5 561.8,191.2 562.3,189.9 562.7,189.9 562.8,189.9 563.8,191.5 564.6,193.0 564.8,193.4 564.9,193.6 565.0,193.6 565.8,192.6 566.8,191.2 567.7,190.1 567.8,190.2 568.0,190.5 568.8,191.7 569.8,193.1 570.3,193.5 570.4,193.3 570.8,192.7 571.8,191.3 572.8,189.9 572.9,189.7 573.1,189.4 573.8,190.0 574.7,190.7 574.8,190.8 575.8,191.5 576.1,191.7 576.8,190.9 577.2,190.4 577.8,189.7 578.8,188.5 579.4,187.8 579.8,187.7 579.9,187.7 580.8,187.8 581.8,188.7 581.8,188.7 582.6,189.4 582.8,189.4 583.8,188.0 584.5,186.8 584.8,186.4 585.8,185.8 586.8,186.6 586.9,186.6 587.8,187.0 588.8,186.3 589.0,186.2 589.7,185.2 589.8,185.1 590.8,184.1 591.8,183.1 592.0,182.9 592.8,183.5 592.9,183.5 593.8,184.1 594.5,184.3 594.8,183.8 595.8,182.1 596.2,181.5 596.8,180.5 597.8,180.0 597.8,180.0 598.5,180.9 598.8,180.8 599.8,180.4 600.4,180.2 600.7,180.1 600.8,179.8 601.8,178.3 602.8,177.1 603.4,176.4 603.8,176.8 603.9,176.8 604.8,177.4 605.8,178.1 605.9,178.1 606.7,177.3 606.8,177.2 607.8,176.1 608.3,175.5 608.7,175.7 608.8,175.7 609.8,176.2 610.7,176.6 610.8,176.4 611.8,174.9 612.0,174.4 612.8,173.1 613.8,170.3 613.9,170.0 614.8,168.9 614.8,168.8 615.8,169.7 616.8,171.6 616.9,171.7 617.8,170.8 618.8,169.6 619.0,169.2 619.8,167.9 620.3,167.0 620.8,167.4 621.8,168.5 622.4,169.2 622.8,169.8 623.8,167.7 624.3,166.6 624.8,165.4 625.8,163.2 626.2,162.3 626.8,162.8 627.2,163.1 627.8,163.5 628.5,164.5 628.8,164.2 629.8,163.2 630.2,162.6 630.8,161.2 631.3,160.1 631.8,160.0 632.3,160.1 632.8,160.1 633.8,160.1 634.8,160.7 634.8,160.7 634.9,160.6 635.8,159.8 636.8,158.1 637.3,156.9 637.8,155.7 637.9,155.4 638.8,154.7 639.8,153.8 640.4,153.3 640.8,153.0 641.3,152.7 641.8,152.2 642.8,151.2 643.0,151.1 643.8,150.1 644.4,148.1 644.8,148.0 645.8,148.0 646.1,148.0 646.8,147.9 646.8,147.9 647.8,144.7 648.0,144.0 648.8,143.4 649.8,143.8 650.0,143.9 650.8,145.1 651.2,145.2 651.8,145.3 652.8,145.8 653.1,146.0 653.3,145.6 653.8,144.4 654.8,142.2 655.8,139.7 656.2,138.6 656.5,138.6 656.8,138.6 657.8,139.3 658.8,140.3 659.5,140.6 659.7,140.7 659.8,140.6 660.8,138.8 661.8,137.2 662.1,136.6 662.8,135.6 663.0,135.2 663.8,135.2 664.7,134.9 664.8,134.8 665.8,134.7 666.6,135.0 666.8,134.8 666.8,134.7 667.8,133.3 668.8,129.8 669.0,128.9 669.8,125.3 670.2,123.6 670.8,121.6 671.7,120.4 671.8,120.3 672.6,119.5 672.8,118.8 673.8,116.1 674.3,115.2 674.8,114.4 675.8,112.3 675.8,112.3 676.8,110.3 677.7,108.8 677.8,108.7 678.8,107.0 679.1,106.6 679.8,103.2 680.8,98.7 680.8,98.6 681.8,95.8 682.4,94.7 682.8,95.5 683.0,95.9 683.8,96.3 684.8,96.9 685.8,97.4 686.0,97.3 686.1,96.6 686.8,94.1 687.8,90.2 688.7,87.5 688.8,87.3 689.2,86.7 689.8,87.5 690.8,88.3 691.1,88.2 691.6,88.0 691.8,87.5 692.8,84.3 693.5,82.3 693.8,81.3 694.8,78.3 695.1,77.2 695.3,77.1 695.8,76.9 696.6,76.4 696.6,219.0 695.8,219.4 695.3,219.6 695.1,219.5 694.8,219.3 693.8,218.8 693.5,218.6 692.8,218.6 691.8,218.9 691.6,219.0 691.1,219.2 690.8,219.1 689.8,218.8 689.2,218.6 688.8,218.5 688.7,218.5 687.8,218.5 686.8,218.6 686.1,218.7 686.0,218.7 685.8,218.7 684.8,218.5 683.8,218.4 683.0,218.6 682.8,218.7 682.4,218.9 681.8,218.7 680.8,218.5 680.8,218.5 679.8,218.3 679.1,218.2 678.8,218.2 677.8,218.1 677.7,218.1 676.8,218.6 675.8,218.9 675.8,218.9 674.8,218.8 674.3,218.8 673.8,218.7 672.8,218.5 672.6,218.4 671.8,218.0 671.7,218.0 670.8,218.0 670.2,218.1 669.8,218.2 669.0,218.4 668.8,218.3 667.8,218.1 666.8,218.0 666.8,218.0 666.6,218.0 665.8,218.2 664.8,218.5 664.7,218.5 663.8,218.4 663.0,218.3 662.8,218.2 662.1,217.9 661.8,217.9 660.8,217.9 659.8,218.0 659.7,218.0 659.5,218.0 658.8,217.9 657.8,217.8 656.8,217.7 656.5,217.7 656.2,217.7 655.8,217.8 654.8,218.0 653.8,218.1 653.3,218.3 653.1,218.2 652.8,218.1 651.8,217.8 651.2,217.6 650.8,217.7 650.0,217.8 649.8,217.9 648.8,218.1 648.0,218.1 647.8,218.0 646.8,217.9 646.8,217.9 646.1,217.9 645.8,218.0 644.8,218.3 644.4,218.3 643.8,218.2 643.0,218.1 642.8,218.0 641.8,217.5 641.3,217.4 640.8,217.3 640.4,217.2 639.8,217.3 638.8,217.5 637.9,217.6 637.8,217.7 637.3,217.8 636.8,217.7 635.8,217.4 634.9,217.2 634.8,217.2 634.8,217.2 633.8,217.4 632.8,217.6 632.3,217.9 631.8,217.9 631.3,217.9 630.8,217.7 630.2,217.4 629.8,217.4 628.8,217.4 628.5,217.4 627.8,217.5 627.2,217.7 626.8,217.5 626.2,217.4 625.8,217.3 624.8,217.0 624.3,216.9 623.8,217.0 622.8,217.2 622.4,217.3 621.8,217.2 620.8,217.1 620.3,217.0 619.8,216.9 619.0,216.8 618.8,216.8 617.8,217.1 616.9,217.3 616.8,217.3 615.8,217.0 614.8,216.7 614.8,216.7 613.9,216.8 613.8,216.8 612.8,217.2 612.0,217.4 611.8,217.4 610.8,217.4 610.7,217.4 609.8,217.3 608.8,216.8 608.7,216.8 608.3,216.8 607.8,216.8 606.8,217.1 606.7,217.1 605.9,216.9 605.8,216.9 604.8,216.8 603.9,216.7 603.8,216.7 603.4,216.8 602.8,216.9 601.8,217.0 600.8,216.9 600.7,216.9 600.4,216.9 599.8,216.7 598.8,216.4 598.5,216.3 597.8,216.4 597.8,216.4 596.8,216.6 596.2,216.7 595.8,216.7 594.8,216.4 594.5,216.4 593.8,216.3 592.9,216.2 592.8,216.2 592.0,216.3 591.8,216.4 590.8,216.6 589.8,216.8 589.7,216.8 589.0,216.7 588.8,216.7 587.8,216.5 586.9,216.2 586.8,216.2 585.8,216.4 584.8,216.5 584.5,216.6 583.8,216.4 582.8,216.3 582.6,216.2 581.8,216.0 581.8,216.0 580.8,216.2 579.9,216.3 579.8,216.3 579.4,216.2 578.8,216.1 577.8,215.9 577.2,216.0 576.8,216.2 576.1,216.6 575.8,216.8 574.8,216.9 574.7,216.9 573.8,216.2 573.1,215.7 572.9,215.6 572.8,215.7 571.8,216.0 570.8,216.3 570.4,216.4 570.3,216.4 569.8,216.3 568.8,216.1 568.0,215.7 567.8,215.7 567.7,215.7 566.8,215.7 565.8,215.8 565.0,215.9 564.9,215.9 564.8,215.9 564.6,215.9 563.8,215.7 562.8,215.5 562.7,215.5 562.3,215.6 561.8,215.8 560.8,215.9 559.8,216.1 559.8,216.1 558.8,215.7 557.8,215.4 557.5,215.4 556.8,215.5 556.0,215.7 555.8,215.7 554.8,215.7 554.1,215.8 553.8,215.7 553.7,215.7 553.0,215.8 552.8,215.8 551.8,215.9 551.0,215.8 550.9,215.7 550.8,215.7 550.5,215.6 550.0,215.6 549.8,215.5 548.8,215.6 548.3,215.8 548.2,215.8 547.8,215.8 547.6,215.8 546.8,215.5 546.1,215.3 545.8,215.2 545.6,215.2 545.1,215.0 545.0,215.0 544.9,215.0 544.8,215.0 544.0,215.1 543.8,215.2 543.4,215.2 543.1,215.3 542.8,215.2 542.7,215.2 541.8,215.1 540.8,215.1 540.7,215.1 540.3,215.0 539.8,215.1 539.7,215.1 538.8,215.3 537.8,215.5 537.6,215.6 537.5,215.5 536.9,215.3 536.9,215.3 536.8,215.3 535.8,214.9 535.6,214.8 535.3,214.9 534.8,215.0 534.5,215.1 533.8,215.5 533.7,215.5 532.8,215.3 532.0,215.0 531.8,214.9 531.1,214.7 531.1,214.7 530.8,214.7 529.8,215.1 529.0,215.5 528.8,215.5 528.3,215.5 527.8,215.3 527.7,215.2 527.0,215.0 526.8,214.9 526.7,214.8 525.8,215.0 525.6,215.0 525.5,215.0 524.8,215.1 524.7,215.1 523.8,214.7 522.8,214.4 522.7,214.4 522.4,214.5 521.8,214.8 521.0,215.0 520.8,215.1 520.3,215.1 520.1,215.1 519.8,214.9 518.9,214.6 518.8,214.5 517.8,214.3 517.6,214.2 516.8,214.4 516.6,214.5 516.4,214.5 516.0,214.6 515.8,214.7 515.6,214.8 514.8,214.6 513.8,214.4 513.8,214.4 513.7,214.4 512.8,214.2 512.7,214.2 511.8,214.4 510.8,214.6 510.8,214.6 510.5,214.6 509.8,214.5 508.8,214.4 507.9,214.5 507.8,214.5 507.4,214.6 506.8,214.7 505.8,214.5 505.0,214.7 504.9,214.7 504.8,214.7 503.8,214.7 503.1,214.7 502.8,214.8 501.8,214.8 501.5,214.9 500.8,214.9 500.6,214.9 499.8,214.5 499.1,214.2 498.8,214.1 498.5,214.0 497.8,214.1 496.8,214.3 495.9,214.6 495.9,214.7 495.8,214.7 494.8,214.6 493.8,214.3 493.4,214.1 492.8,214.1 492.8,214.1 491.8,214.2 491.1,214.3 490.8,214.3 489.8,214.3 489.2,214.3 488.8,214.4 487.9,214.3 487.8,214.3 486.8,214.4 486.7,214.4 485.8,214.5 484.8,214.7 484.6,214.8 483.8,214.6 483.6,214.5 482.8,214.3 481.8,214.0 481.7,214.0 480.9,214.1 480.8,214.2 479.8,214.3 478.8,214.5 478.8,214.5 477.8,214.4 477.4,214.4 476.8,214.3 476.8,214.3 475.8,214.3 474.8,214.4 474.2,214.4 473.8,214.5 473.6,214.5 472.8,214.2 472.0,214.0 471.8,213.9 471.2,213.8 470.8,213.9 469.8,214.1 468.8,214.3 468.5,214.4 468.4,214.4 467.8,214.2 466.8,213.9 466.0,213.7 465.8,213.6 465.8,213.6 464.8,213.9 463.8,214.3 463.2,214.5 462.8,214.6 462.8,214.6 461.8,214.5 460.8,214.3 460.4,214.1 459.8,213.9 459.4,213.7 458.8,213.8 458.1,213.9 457.8,214.0 456.8,214.3 456.8,214.3 455.8,213.9 454.8,213.7 454.6,213.7 454.6,213.7 453.8,214.0 452.8,214.3 451.8,214.3 451.8,214.3 451.7,214.3 450.8,214.0 449.8,213.8 449.4,213.7 448.8,213.6 448.4,213.5 447.8,213.7 446.8,214.1 446.3,214.3 446.0,214.2 445.8,214.1 444.8,213.7 444.2,213.5 443.8,213.6 443.0,213.8 442.8,213.9 441.8,214.2 441.8,214.2 440.8,213.9 439.9,213.7 439.8,213.7 439.6,213.7 438.8,214.1 437.8,214.4 437.4,214.3 436.8,214.3 436.6,214.2 435.8,214.1 434.8,214.0 434.7,214.0 434.1,213.7 433.8,213.7 432.8,213.7 432.3,213.7 431.8,213.7 431.2,213.8 430.8,213.7 430.0,213.7 429.8,213.7 428.8,213.8 427.8,213.9 427.8,213.9 427.2,214.0 426.8,214.0 425.8,214.0 424.8,214.0 424.8,214.0 424.4,214.1 423.8,213.9 422.8,213.5Z" fill="#c4bccf" clip-path="url(#cs1)"/>
<path d="M513.7,207.5 514.7,207.7 515.7,207.7 516.7,207.4 517.7,207.2 518.7,207.3 519.7,207.4 520.7,207.4 521.7,207.4 522.7,207.4 523.7,207.5 524.7,207.6 525.7,207.5 526.7,207.5 527.7,207.4 528.7,207.2 529.7,207.1 530.7,207.6 531.7,208.2 532.7,207.9 533.7,207.6 534.7,207.5 535.7,207.4 536.7,207.3 537.7,207.2 538.7,207.1 539.7,207.1 540.7,207.2 541.7,207.3 542.7,207.4 543.7,207.1 544.7,207.1 545.7,207.3 546.7,207.5 547.7,207.5 548.7,207.4 549.7,207.1 550.7,207.0 551.7,207.4 552.7,207.7 553.7,207.5 554.7,207.3 555.7,207.2 556.7,207.3 557.7,207.1 558.7,206.8 559.7,206.7 560.7,206.9 561.7,207.0 562.7,207.2 563.7,207.2 564.7,206.6 565.7,206.3 566.7,206.3 567.7,206.3 568.7,206.2 569.7,206.0 570.7,205.9 571.7,206.0 572.7,206.2 573.7,206.3 574.7,206.4 575.7,206.5 576.7,206.3 577.7,206.2 578.7,206.1 579.7,206.1 580.7,206.0 581.7,206.1 582.7,206.1 583.7,205.9 584.7,205.5 585.7,205.1 586.7,204.8 587.7,204.8 588.7,204.9 589.7,204.9 590.7,204.9 591.7,204.9 592.7,204.8 593.7,204.7 594.7,204.7 595.7,204.6 596.7,204.6 597.7,204.4 598.7,204.2 599.7,204.1 600.7,204.3 601.7,204.3 602.7,203.8 603.7,203.6 604.7,203.5 605.7,203.4 606.7,203.5 607.7,203.5 608.7,203.4 609.7,203.0 610.7,202.7 611.7,202.6 612.7,202.5 613.7,202.5 614.7,202.5 615.7,202.4 616.7,202.1 617.7,201.8 618.7,201.7 619.7,201.5 620.7,201.4 621.7,201.2 622.7,201.0 623.7,201.0 624.7,201.0 625.7,200.8 626.7,200.1 627.7,199.9 628.7,199.9 629.7,199.8 630.7,199.7 631.7,199.5 632.7,199.4 633.7,199.3 634.7,199.1 635.7,198.8 636.7,198.6 637.7,198.5 638.7,198.4 639.7,198.2 640.7,198.1 641.7,197.7 642.7,197.2 643.7,197.4 644.7,197.5 645.7,197.1 646.7,196.7 647.7,196.4 648.7,196.1 649.7,195.9 650.7,195.7 651.7,195.6 652.7,195.4 653.7,195.0 654.7,194.7 655.7,194.3 656.7,194.5 657.7,194.6 658.7,194.3 659.7,194.1 660.7,193.9 661.7,193.6 662.7,193.4 663.7,193.2 664.7,192.7 665.7,192.0 666.7,191.8 667.7,191.8 668.7,191.9 669.7,191.1 670.7,190.5 671.7,190.1 672.7,189.8 673.7,189.8 674.7,189.8 675.7,189.8 676.7,189.1 677.7,188.3 678.7,187.9 679.7,187.7 680.7,187.5 681.7,187.1 682.7,187.0 683.7,187.1 684.7,186.4 685.7,185.5 686.7,185.2 687.7,185.0 688.7,184.7 689.7,184.4 690.7,184.1 691.7,183.7 692.7,183.2 693.7,182.7 694.7,182.3 695.7,182.0 696.6,181.7" stroke="#1f4e9e" stroke-width="1.5" fill="none" stroke-linejoin="round"/>
<g fill="#0b7439"><circle cx="422.2" cy="206.8" r="2.45"/><circle cx="424.7" cy="208.9" r="2.45"/><circle cx="426.1" cy="205.7" r="2.45"/><circle cx="427.1" cy="214.1" r="2.45"/><circle cx="429.2" cy="211.3" r="2.45"/><circle cx="431.7" cy="204.0" r="2.45"/><circle cx="433.1" cy="209.2" r="2.45"/><circle cx="436.3" cy="216.6" r="2.45"/><circle cx="438.4" cy="213.1" r="2.45"/><circle cx="439.8" cy="216.3" r="2.45"/><circle cx="441.2" cy="208.9" r="2.45"/><circle cx="444.0" cy="204.0" r="2.45"/><circle cx="447.1" cy="202.9" r="2.45"/><circle cx="449.6" cy="209.9" r="2.45"/><circle cx="451.7" cy="202.6" r="2.45"/><circle cx="453.1" cy="214.5" r="2.45"/><circle cx="455.9" cy="212.4" r="2.45"/><circle cx="458.0" cy="208.9" r="2.45"/><circle cx="460.1" cy="212.7" r="2.45"/><circle cx="463.6" cy="210.6" r="2.45"/><circle cx="465.4" cy="200.1" r="2.45"/><circle cx="467.2" cy="206.1" r="2.45"/><circle cx="465.7" cy="211.0" r="2.45"/><circle cx="471.3" cy="215.5" r="2.45"/><circle cx="473.4" cy="210.6" r="2.45"/><circle cx="475.9" cy="211.7" r="2.45"/><circle cx="477.6" cy="205.4" r="2.45"/><circle cx="480.8" cy="201.2" r="2.45"/><circle cx="483.3" cy="206.1" r="2.45"/><circle cx="486.8" cy="205.4" r="2.45"/><circle cx="488.5" cy="208.2" r="2.45"/><circle cx="489.6" cy="213.4" r="2.45"/><circle cx="491.0" cy="197.6" r="2.45"/><circle cx="492.7" cy="204.3" r="2.45"/><circle cx="494.1" cy="210.6" r="2.45"/><circle cx="495.9" cy="199.4" r="2.45"/><circle cx="498.0" cy="202.9" r="2.45"/><circle cx="500.5" cy="200.1" r="2.45"/><circle cx="502.9" cy="203.6" r="2.45"/><circle cx="506.4" cy="204.3" r="2.45"/><circle cx="507.8" cy="208.9" r="2.45"/><circle cx="510.3" cy="205.4" r="2.45"/><circle cx="511.3" cy="212.0" r="2.45"/><circle cx="514.2" cy="202.6" r="2.45"/><circle cx="506.6" cy="204.0" r="2.45"/><circle cx="509.9" cy="205.0" r="2.45"/><circle cx="507.7" cy="208.8" r="2.45"/><circle cx="511.5" cy="211.5" r="2.45"/><circle cx="517.4" cy="212.6" r="2.45"/><circle cx="521.2" cy="216.4" r="2.45"/><circle cx="519.1" cy="222.9" r="2.45"/><circle cx="524.5" cy="220.7" r="2.45"/><circle cx="526.1" cy="211.0" r="2.45"/><circle cx="528.8" cy="209.9" r="2.45"/><circle cx="532.0" cy="208.8" r="2.45"/><circle cx="533.7" cy="213.7" r="2.45"/></g>
<path d="M422.8,207.6 423.3,207.5 423.8,207.3 424.3,207.1 424.8,206.9 425.3,206.6 425.8,206.5 426.3,206.5 426.8,206.6 427.3,206.7 427.8,206.8 428.3,206.8 428.8,206.9 429.3,206.9 429.8,207.0 430.3,207.1 430.8,207.2 431.3,207.4 431.8,207.4 432.3,207.3 432.8,207.0 433.3,206.8 433.8,206.7 434.3,206.7 434.8,206.6 435.3,206.9 435.8,207.3 436.3,207.6 436.8,207.7 437.3,207.7 437.8,207.7 438.3,207.5 438.8,207.1 439.3,206.9 439.8,206.9 440.3,206.9 440.8,206.9 441.3,207.0 441.8,207.3 442.3,207.4 442.8,207.3 443.3,207.1 443.8,207.0 444.3,207.0 444.8,207.2 445.3,207.3 445.8,207.5 446.3,207.7 446.8,207.8 447.3,207.7 447.8,207.6 448.3,207.4 448.8,207.3 449.3,207.2 449.8,207.2 450.3,207.3 450.8,207.5 451.3,207.6 451.8,207.6 452.3,207.6 452.8,207.6 453.3,207.4 453.8,207.0 454.3,206.8 454.8,206.8 455.3,206.7 455.8,206.7 456.3,206.8 456.8,207.1 457.3,207.2 457.8,207.2 458.3,207.1 458.8,207.0 459.3,206.9 459.8,206.8 460.3,206.8 460.8,206.9 461.3,207.1 461.8,207.4 462.3,207.5 462.8,207.7 463.3,207.8 463.8,207.8 464.3,207.7 464.8,207.7 465.3,207.7 465.8,207.6 466.3,207.6 466.8,207.5 467.3,207.4 467.8,207.4 468.3,207.5 468.8,207.7 469.3,207.8 469.8,207.8 470.3,207.7 470.8,207.7 471.3,207.8 471.8,207.8 472.3,207.8 472.8,207.8 473.3,207.7 473.8,207.7 474.3,207.7 474.8,207.7 475.3,207.7 475.8,207.8 476.3,208.0 476.8,208.1 477.3,207.8 477.8,207.4 478.3,207.2 478.8,207.4 479.3,207.8 479.8,208.1 480.3,208.0 480.8,208.0 481.3,208.0 481.8,207.8 482.3,207.6 482.8,207.4 483.3,207.4 483.8,207.3 484.3,207.3 484.8,207.5 485.3,207.9 485.8,208.2 486.3,208.0 486.8,207.6 487.3,207.4 487.8,207.5 488.3,207.7 488.8,207.8 489.3,207.8 489.8,207.7 490.3,207.6 490.8,207.5 491.3,207.3 491.8,207.2 492.3,207.3 492.8,207.3 493.3,207.4 493.8,207.6 494.3,207.7 494.8,207.8 495.3,207.8 495.8,207.8 496.3,207.8 496.8,207.8 497.3,207.8 497.8,207.7 498.3,207.7 498.8,207.5 499.3,207.4 499.8,207.3 500.3,207.2 500.8,207.2 501.3,207.3 501.8,207.5 502.3,207.6 502.8,207.7 503.3,207.8 503.8,207.8 504.3,207.7 504.8,207.6 505.3,207.5 505.8,207.5 506.3,207.4 506.8,207.4 507.3,207.4 507.8,207.5 508.3,207.5 508.8,207.4 509.3,207.3 509.8,207.2 510.3,207.4 510.8,207.7 511.3,208.0 511.8,208.2 512.3,208.5 512.8,208.6 513.3,208.1 513.8,207.8 514.3,208.1 514.8,208.8 515.3,209.9 515.8,211.1 516.3,212.6 516.8,214.0 517.3,215.5 517.8,216.9 518.3,218.1 518.8,219.1 519.3,219.8 519.8,220.0 520.3,219.9 520.8,219.5 521.3,218.9 521.8,218.3 522.3,217.7 522.8,217.2 523.3,216.6 523.8,215.9 524.3,215.2 524.8,214.5 525.3,213.7 525.8,213.1 526.3,212.5 526.8,211.9 527.3,211.5 527.8,211.2 528.3,211.0 528.8,210.8 529.3,210.6 529.8,210.4 530.3,210.3 530.8,210.2 531.3,210.1 531.8,210.1 532.3,210.3 532.8,210.7 533.3,211.3 533.8,211.9 534.3,212.4 534.8,212.8 535.3,212.9 535.8,212.8 536.3,212.4 536.8,212.0 537.3,211.4 537.8,210.7 538.3,210.0 538.8,209.1 539.3,207.7 539.8,205.7 540.3,203.4 540.8,201.1 541.3,198.9 541.8,197.1 542.3,195.9 542.8,195.1 543.3,194.4 543.8,193.8 544.3,193.3 544.8,192.9 545.3,192.6 545.8,192.6 546.3,192.9 546.8,193.4 547.3,194.0 547.8,194.8 548.3,195.6 548.8,196.4 549.3,197.4 549.8,198.6 550.3,199.9 550.8,201.1 551.3,202.0 551.8,202.6 552.3,203.2 552.8,203.7 553.3,204.1 553.8,204.5 554.3,204.8 554.8,205.1 555.3,205.4 555.8,205.6 556.3,205.7 556.8,205.9 557.3,206.0 557.8,206.2 558.3,206.3 558.8,206.4 559.3,206.5 559.8,206.6 560.3,206.7 560.8,206.7 561.3,206.7 561.8,206.7 562.3,206.7 562.8,206.7 563.3,206.7 563.8,206.7 564.3,206.7 564.8,206.7 565.0,206.7 566.0,206.9 567.0,206.9 568.0,207.0 569.0,206.7 570.0,206.3 571.0,206.3 572.0,206.3 573.0,206.2 574.0,206.0 575.0,205.9 576.0,205.8 577.0,205.7 578.0,205.6 579.0,205.5 580.0,205.5 581.0,205.7 582.0,205.9 583.0,206.0 584.0,206.0 585.0,206.0 586.0,205.7 587.0,205.3 588.0,204.9 589.0,205.4 590.0,205.5 591.0,205.3 592.0,205.0 593.0,205.0 594.0,205.0 595.0,204.9 596.0,204.8 597.0,204.7 598.0,204.5 599.0,204.3 600.0,203.9 601.0,203.8 602.0,203.8 603.0,203.7 604.0,203.7 605.0,203.6 606.0,203.6 607.0,203.5 608.0,203.5 609.0,203.4 610.0,203.2 611.0,203.1 612.0,203.0 613.0,202.9 614.0,202.7 615.0,202.6 616.0,202.7 617.0,202.4 618.0,201.9 619.0,201.6 620.0,201.5 621.0,201.3 622.0,201.0 623.0,200.7 624.0,200.7 625.0,200.8 626.0,200.8 627.0,200.7 628.0,200.5 629.0,200.1 630.0,199.8 631.0,199.9 632.0,199.9 633.0,199.8 634.0,199.6 635.0,199.3 636.0,199.0 637.0,198.7 638.0,198.4 639.0,198.2 640.0,198.0 641.0,197.9 642.0,197.7 643.0,197.4 644.0,197.2 645.0,196.7 646.0,196.3 647.0,196.5 648.0,196.6 649.0,196.5 650.0,196.3 651.0,195.7 652.0,195.2 653.0,195.0 654.0,194.9 655.0,194.7 656.0,194.5 657.0,194.3 658.0,194.2 659.0,194.0 660.0,193.9 661.0,193.5 662.0,193.0 663.0,192.6 664.0,192.6 665.0,192.5 666.0,192.3 667.0,192.0 668.0,191.7 669.0,191.5 670.0,191.3 671.0,191.1 672.0,190.8 673.0,190.3 674.0,190.0 675.0,189.7 676.0,189.4 677.0,188.9 678.0,188.4 679.0,188.1 680.0,187.7 681.0,187.4 682.0,187.1 683.0,186.9 684.0,186.8 685.0,186.3 686.0,185.7 687.0,185.4 688.0,185.2 689.0,185.0 690.0,184.7 691.0,184.4 692.0,184.0 693.0,183.5 694.0,183.1 695.0,182.9 696.0,182.6 696.6,182.4" stroke="#ee2a24" stroke-width="1.5" fill="none" stroke-linejoin="round"/>
<path d="M422.80,32.40V246.90M415.20,239.30H696.60M415.20,239.30H422.80M415.20,209.74H422.80M415.20,180.19H422.80M415.20,150.63H422.80M415.20,121.07H422.80M415.20,91.51H422.80M415.20,61.96H422.80M415.20,32.40H422.80M514.07,239.30V246.90M605.33,239.30V246.90M696.60,239.30V246.90" stroke="#231f20" stroke-width="1.25" fill="none"/>
<g font-family="Liberation Sans, sans-serif" font-size="14" fill="#3a3a3a"><text x="413.80" y="244.30" text-anchor="end" font-size="14.5">0</text><text x="413.80" y="214.74" text-anchor="end" font-size="14.5">100</text><text x="413.80" y="185.19" text-anchor="end" font-size="14.5">200</text><text x="413.80" y="155.63" text-anchor="end" font-size="14.5">300</text><text x="413.80" y="126.07" text-anchor="end" font-size="14.5">400</text><text x="413.80" y="96.51" text-anchor="end" font-size="14.5">500</text><text x="413.80" y="66.96" text-anchor="end" font-size="14.5">600</text><text x="413.80" y="37.40" text-anchor="end" font-size="14.5">700</text></g>
<text x="414.50" y="12.90" font-family="Liberation Sans, sans-serif" font-size="17.5" fill="#231f20" text-anchor="end" stroke="#231f20" stroke-width="0.55">B</text>
<text x="424.00" y="12.90" font-family="Liberation Sans, sans-serif" font-size="14" fill="#231f20" stroke="#231f20" stroke-width="0.4" textLength="40" lengthAdjust="spacingAndGlyphs">Cervix</text>
<clipPath id="cs2"><path d="M74.2,504.2 75.2,504.0 76.2,503.9 76.5,503.8 77.2,503.9 77.9,503.9 78.2,503.9 79.0,503.8 79.2,503.7 80.2,503.5 80.6,503.5 81.2,503.5 81.9,503.5 82.2,503.6 83.2,503.8 83.5,503.7 84.0,503.7 84.2,503.6 85.2,503.6 85.5,503.6 86.2,503.3 86.5,503.2 87.2,503.0 88.2,503.3 88.5,503.4 88.5,503.4 89.2,503.3 90.2,503.2 90.5,503.1 91.2,503.0 91.4,503.0 92.2,503.1 92.3,503.2 93.2,503.3 94.2,503.4 94.3,503.4 94.6,503.4 95.2,503.1 96.2,502.7 96.6,502.6 96.8,502.6 97.2,502.7 98.2,503.0 98.9,503.1 99.0,503.1 99.2,503.0 100.2,502.7 101.2,502.9 101.5,502.8 101.9,502.6 102.2,502.6 103.2,502.5 104.2,502.6 104.5,502.9 104.6,503.0 105.2,503.0 106.2,502.8 106.9,502.6 107.2,502.6 107.6,502.5 108.2,502.7 109.2,502.8 109.3,502.8 109.5,502.8 110.2,502.5 111.2,502.1 111.9,502.2 112.1,502.3 112.2,502.4 113.2,502.7 113.7,502.7 114.2,502.5 114.4,502.5 115.2,502.3 115.8,502.4 116.2,502.5 117.2,502.8 117.9,502.8 118.2,502.8 118.2,502.8 119.2,502.0 120.2,501.6 120.2,501.5 121.2,501.9 121.3,502.0 122.2,502.3 123.2,502.6 123.3,502.6 124.2,502.4 124.2,502.4 125.2,502.2 125.7,502.0 126.2,502.1 126.8,502.3 127.2,502.3 128.0,502.5 128.2,502.4 129.2,502.1 129.4,502.1 130.1,501.9 130.2,502.0 131.2,502.0 131.6,502.0 132.2,501.9 133.2,502.2 133.4,502.3 133.7,502.3 134.2,502.1 135.2,501.7 135.6,501.5 135.6,501.5 136.2,501.7 137.2,502.0 138.0,502.2 138.2,502.2 138.5,502.1 139.2,502.1 140.2,501.8 140.4,501.8 140.7,501.9 141.2,502.1 142.2,502.5 142.3,502.5 143.2,502.3 143.9,502.1 144.2,502.0 145.2,501.8 145.6,501.8 146.2,501.9 146.8,502.0 147.2,502.1 148.2,502.2 148.5,502.2 149.2,502.0 149.8,501.8 150.2,501.7 151.2,501.4 151.8,501.4 152.2,501.6 152.5,501.8 153.2,502.1 153.6,502.2 154.2,502.0 155.2,501.8 155.9,501.7 156.2,501.7 156.7,501.6 157.2,501.6 157.7,501.6 158.2,501.7 159.2,502.0 159.2,502.0 160.2,501.8 161.0,501.6 161.2,501.5 161.8,501.4 162.2,501.6 162.8,501.9 163.2,502.1 164.0,502.3 164.2,502.2 165.2,501.7 165.7,501.4 166.2,501.1 166.3,501.2 167.2,501.8 168.2,502.3 168.2,502.3 168.3,502.3 169.2,502.1 170.2,501.8 171.0,501.7 171.2,501.7 171.3,501.7 172.2,501.8 173.2,501.9 173.3,501.9 173.4,501.9 174.2,501.5 175.2,501.4 176.2,501.5 176.6,501.4 176.8,501.4 177.2,501.3 178.2,501.2 178.9,501.2 179.2,501.0 179.8,500.7 180.2,500.6 181.2,500.2 181.3,500.2 182.2,500.2 183.1,500.6 183.2,500.7 184.0,500.8 184.2,500.5 184.5,498.6 185.2,494.1 186.0,489.2 186.2,487.8 186.6,484.6 186.8,484.3 187.0,483.8 187.2,483.4 188.2,483.2 188.5,483.2 188.5,483.3 189.2,484.7 189.6,486.0 190.0,487.2 190.2,487.8 190.5,487.9 190.9,486.6 191.2,485.5 192.0,483.0 192.2,482.6 192.2,482.5 193.2,479.9 193.3,479.5 194.0,477.4 194.2,477.8 194.7,478.7 195.2,480.3 195.5,481.3 196.0,483.0 196.2,483.6 196.9,485.6 197.0,485.9 197.2,486.5 197.5,487.4 198.2,488.5 198.8,489.5 199.2,490.0 200.0,491.6 200.2,491.8 200.3,491.9 201.2,492.7 201.9,493.2 202.2,493.4 203.2,494.1 203.5,494.3 204.0,494.5 204.2,494.5 205.2,494.8 205.2,494.9 205.5,495.1 206.2,495.8 207.2,496.7 208.0,497.4 208.1,496.4 208.2,496.4 208.4,496.3 209.2,496.4 210.2,496.5 211.0,496.5 211.2,496.5 211.6,496.5 212.2,496.0 213.2,495.3 214.0,494.7 214.2,494.6 214.2,494.5 215.2,494.3 216.2,494.2 217.0,494.1 217.2,494.1 217.5,494.1 218.2,493.6 219.2,492.8 219.5,492.6 220.2,492.0 220.5,491.8 221.2,491.6 221.4,491.6 222.2,491.5 223.2,491.4 223.7,491.4 224.0,491.2 224.2,491.1 225.2,490.5 225.9,490.1 226.1,490.1 226.2,490.1 227.2,490.0 228.2,489.8 228.3,489.8 228.4,489.8 229.2,489.3 230.2,488.8 231.2,488.1 231.4,488.0 231.6,487.9 232.2,487.7 233.2,487.3 234.2,487.3 234.6,487.3 235.1,487.1 235.2,487.0 236.2,486.5 237.0,486.0 237.2,486.0 237.8,486.0 238.2,486.0 239.0,485.9 239.2,485.8 240.2,485.1 241.0,484.3 241.2,484.1 242.2,483.4 242.3,483.3 243.2,483.4 243.9,483.3 244.2,483.2 245.0,483.1 245.2,482.9 246.2,482.2 246.3,482.1 247.2,481.5 247.5,481.4 248.2,481.2 248.3,481.2 249.2,480.8 250.2,480.4 250.8,480.3 251.2,479.9 251.7,479.7 252.2,479.5 253.2,478.9 254.1,478.3 254.2,478.2 254.2,478.2 255.2,477.9 256.2,477.5 256.5,477.4 257.2,477.2 257.5,477.2 258.2,476.6 259.2,475.7 259.4,475.5 260.2,474.7 260.9,473.8 261.2,473.6 261.8,473.5 262.2,473.5 263.2,473.2 263.3,473.2 264.0,472.6 264.2,472.3 265.2,471.2 266.1,470.3 266.2,470.2 267.1,469.5 267.2,469.4 268.2,468.7 268.3,468.6 269.2,467.8 270.2,466.7 270.4,466.4 271.2,465.5 271.6,465.1 272.2,464.4 273.2,463.4 273.8,462.9 274.2,462.5 274.7,462.0 275.2,461.5 276.2,460.5 276.4,460.3 277.2,459.3 278.1,458.1 278.2,458.0 279.0,457.2 279.2,457.0 280.2,456.2 280.7,455.7 281.2,455.2 282.2,453.9 282.3,453.8 283.2,452.7 283.2,452.6 284.2,451.6 285.1,450.6 285.2,450.5 285.9,449.5 286.2,449.0 287.2,447.4 287.5,447.0 288.2,446.0 288.2,446.0 289.2,445.1 290.2,444.2 290.6,443.8 291.2,443.1 291.4,442.9 292.2,441.7 292.5,441.3 293.2,440.2 293.7,439.5 294.2,438.9 294.5,438.5 295.2,437.2 296.2,435.8 296.3,435.7 296.5,435.4 297.2,434.4 298.2,432.8 298.3,432.7 299.2,431.5 299.6,430.9 300.2,430.0 301.2,428.5 301.2,428.5 301.7,427.5 302.2,426.6 303.2,424.3 303.8,422.8 304.2,422.3 304.4,422.1 305.2,421.1 305.8,420.2 306.2,419.3 306.2,419.3 307.2,416.7 308.1,414.4 308.2,414.2 309.1,412.6 309.2,412.5 310.2,410.9 310.8,409.8 311.2,408.8 311.8,407.4 312.2,406.4 312.9,404.6 313.2,404.0 314.2,401.9 314.4,401.5 315.2,399.9 315.8,398.8 316.2,397.6 316.7,395.8 317.2,394.1 318.2,391.8 319.0,389.8 319.2,389.2 320.1,386.6 320.2,386.3 321.2,384.6 321.2,384.6 322.2,382.2 323.2,379.4 323.4,379.0 324.1,376.5 324.2,376.2 325.2,373.3 326.2,370.9 326.9,369.3 327.2,368.4 327.5,367.6 328.2,365.3 329.0,362.5 329.2,361.6 329.7,359.5 330.2,358.0 331.2,355.1 331.2,355.0 332.2,352.2 333.2,350.1 333.2,350.1 333.6,348.3 334.2,345.9 335.2,341.6 335.5,340.5 336.2,338.6 336.9,336.8 337.2,335.9 337.9,334.3 338.2,333.1 339.0,330.1 339.1,329.5 339.1,487.6 339.0,487.6 338.2,487.5 337.9,487.4 337.2,487.5 336.9,487.5 336.2,487.9 335.5,488.2 335.2,488.3 334.2,488.8 333.6,489.0 333.2,489.0 333.2,489.0 332.2,488.9 331.2,488.6 331.2,488.6 330.2,488.8 329.7,489.0 329.2,489.3 329.0,489.4 328.2,489.5 327.5,489.5 327.2,489.5 326.9,489.5 326.2,489.7 325.2,490.2 324.2,490.4 324.1,490.4 323.4,490.4 323.2,490.3 322.2,490.5 321.2,490.4 321.2,490.4 320.2,490.5 320.1,490.5 319.2,491.1 319.0,491.1 318.2,491.1 317.2,491.3 316.7,491.5 316.2,491.4 315.8,491.4 315.2,491.6 314.4,491.7 314.2,491.8 313.2,491.9 312.9,491.9 312.2,492.1 311.8,492.3 311.2,492.2 310.8,492.2 310.2,492.2 309.2,492.1 309.1,492.1 308.2,492.2 308.1,492.2 307.2,492.5 306.2,492.8 306.2,492.8 305.8,492.8 305.2,492.8 304.4,492.8 304.2,492.8 303.8,493.0 303.2,493.2 302.2,493.4 301.7,493.6 301.2,493.5 301.2,493.5 300.2,493.3 299.6,493.2 299.2,493.3 298.3,493.7 298.2,493.7 297.2,494.0 296.5,494.3 296.3,494.3 296.2,494.3 295.2,494.1 294.5,494.0 294.2,494.1 293.7,494.3 293.2,494.5 292.5,494.7 292.2,494.7 291.4,494.6 291.2,494.6 290.6,494.5 290.2,494.6 289.2,494.7 288.2,494.9 288.2,494.9 287.5,495.1 287.2,495.1 286.2,495.0 285.9,495.0 285.2,494.9 285.1,494.9 284.2,495.1 283.2,495.4 283.2,495.4 282.3,495.7 282.2,495.7 281.2,495.7 280.7,495.6 280.2,495.6 279.2,495.8 279.0,495.8 278.2,496.2 278.1,496.3 277.2,496.3 276.4,496.4 276.2,496.4 275.2,496.5 274.7,496.5 274.2,496.4 273.8,496.3 273.2,496.3 272.2,496.4 271.6,496.6 271.2,496.7 270.4,496.9 270.2,496.9 269.2,496.8 268.3,496.7 268.2,496.7 267.2,496.5 267.1,496.5 266.2,496.7 266.1,496.7 265.2,497.0 264.2,497.2 264.0,497.2 263.3,497.1 263.2,497.1 262.2,497.1 261.8,497.1 261.2,497.3 260.9,497.5 260.2,497.6 259.4,497.9 259.2,497.9 258.2,497.8 257.5,497.7 257.2,497.7 256.5,497.6 256.2,497.7 255.2,498.0 254.2,498.3 254.2,498.3 254.1,498.3 253.2,498.4 252.2,498.3 251.7,498.3 251.2,498.4 250.8,498.6 250.2,498.8 249.2,499.3 248.3,499.5 248.2,499.4 247.5,499.2 247.2,499.2 246.3,499.1 246.2,499.2 245.2,499.8 245.0,499.9 244.2,500.2 243.9,500.3 243.2,500.3 242.3,500.0 242.2,500.0 241.2,499.8 241.0,499.8 240.2,499.9 239.2,500.2 239.0,500.2 238.2,500.4 237.8,500.5 237.2,500.4 237.0,500.4 236.2,500.4 235.2,500.3 235.1,500.2 234.6,500.3 234.2,500.3 233.2,500.5 232.2,500.7 231.6,500.8 231.4,500.8 231.2,500.7 230.2,500.6 229.2,500.4 228.4,500.3 228.3,500.3 228.2,500.3 227.2,500.7 226.2,501.2 226.1,501.2 225.9,501.2 225.2,500.9 224.2,500.6 224.0,500.6 223.7,500.7 223.2,500.9 222.2,501.0 221.4,501.3 221.2,501.3 220.5,501.3 220.2,501.3 219.5,501.1 219.2,501.1 218.2,501.0 217.5,501.3 217.2,501.5 217.0,501.6 216.2,501.5 215.2,501.2 214.2,501.2 214.2,501.2 214.0,501.2 213.2,501.4 212.2,501.5 211.6,501.6 211.2,501.7 211.0,501.8 210.2,501.6 209.2,501.5 208.4,501.4 208.2,501.4 208.1,501.4 208.0,502.5 207.2,502.1 206.2,501.9 205.5,501.8 205.2,501.7 205.2,501.7 204.2,502.1 204.0,502.3 203.5,502.8 203.2,502.9 202.2,502.8 201.9,502.8 201.2,502.5 200.3,501.7 200.2,501.7 200.0,501.8 199.2,502.5 198.8,502.7 198.2,503.1 197.5,503.4 197.2,503.5 197.0,503.3 196.9,503.1 196.2,502.2 196.0,502.0 195.5,502.7 195.2,503.1 194.7,503.7 194.2,504.4 194.0,504.5 193.3,504.6 193.2,504.6 192.2,505.0 192.2,505.0 192.0,505.2 191.2,507.3 190.9,508.2 190.5,509.1 190.2,509.6 190.0,509.9 189.6,509.4 189.2,509.0 188.5,508.2 188.5,508.2 188.2,507.8 187.2,506.7 187.0,506.6 186.8,506.4 186.6,506.2 186.2,505.8 186.0,505.6 185.2,505.2 184.5,505.5 184.2,505.6 184.0,503.0 183.2,502.9 183.1,502.9 182.2,503.3 181.3,503.5 181.2,503.5 180.2,503.6 179.8,503.6 179.2,503.6 178.9,503.6 178.2,503.7 177.2,503.7 176.8,503.6 176.6,503.6 176.2,503.7 175.2,503.8 174.2,503.8 173.4,503.9 173.3,503.9 173.2,503.9 172.2,503.7 171.3,503.6 171.2,503.6 171.0,503.6 170.2,503.7 169.2,503.8 168.3,504.0 168.2,504.0 168.2,504.0 167.2,504.0 166.3,503.9 166.2,503.9 165.7,504.0 165.2,504.1 164.2,504.3 164.0,504.3 163.2,504.4 162.8,504.5 162.2,504.5 161.8,504.5 161.2,504.6 161.0,504.6 160.2,504.6 159.2,504.6 159.2,504.6 158.2,504.9 157.7,505.0 157.2,505.1 156.7,505.2 156.2,505.3 155.9,505.3 155.2,505.4 154.2,505.6 153.6,505.6 153.2,505.6 152.5,505.7 152.2,505.7 151.8,505.7 151.2,505.7 150.2,505.7 149.8,505.8 149.2,506.0 148.5,506.3 148.2,506.4 147.2,506.7 146.8,506.7 146.2,506.5 145.6,506.3 145.2,506.2 144.2,506.2 143.9,506.1 143.2,506.3 142.3,506.6 142.2,506.7 141.2,507.0 140.7,507.1 140.4,507.0 140.2,507.0 139.2,506.8 138.5,506.6 138.2,506.7 138.0,506.7 137.2,506.8 136.2,507.1 135.6,507.2 135.6,507.2 135.2,507.2 134.2,507.0 133.7,506.9 133.4,507.0 133.2,507.1 132.2,507.4 131.6,507.5 131.2,507.5 130.2,507.6 130.1,507.5 129.4,507.4 129.2,507.4 128.2,507.7 128.0,507.8 127.2,508.1 126.8,508.2 126.2,508.1 125.7,507.9 125.2,507.9 124.2,508.0 124.2,508.0 123.3,508.2 123.2,508.3 122.2,508.5 121.3,508.7 121.2,508.7 120.2,508.5 120.2,508.5 119.2,508.4 118.2,508.2 118.2,508.2 117.9,508.1 117.2,508.2 116.2,508.3 115.8,508.4 115.2,508.5 114.4,508.6 114.2,508.6 113.7,508.6 113.2,508.7 112.2,508.8 112.1,508.8 111.9,508.8 111.2,508.9 110.2,509.1 109.5,509.2 109.3,509.2 109.2,509.2 108.2,508.9 107.6,508.8 107.2,508.8 106.9,508.7 106.2,508.9 105.2,509.1 104.6,509.3 104.5,509.3 104.2,509.3 103.2,509.2 102.2,509.0 101.9,509.0 101.5,508.9 101.2,509.0 100.2,509.3 99.2,509.6 99.0,509.6 98.9,509.7 98.2,509.7 97.2,509.6 96.8,509.5 96.6,509.5 96.2,509.6 95.2,509.9 94.6,510.1 94.3,510.2 94.2,510.1 93.2,509.7 92.3,509.6 92.2,509.7 91.4,510.0 91.2,510.0 90.5,510.2 90.2,510.1 89.2,509.7 88.5,509.6 88.5,509.6 88.2,509.7 87.2,510.1 86.5,510.4 86.2,510.5 85.5,510.5 85.2,510.4 84.2,510.1 84.0,510.0 83.5,509.9 83.2,509.9 82.2,509.9 81.9,509.9 81.2,509.9 80.6,510.0 80.2,510.0 79.2,510.0 79.0,510.0 78.2,509.8 77.9,509.7 77.2,509.7 76.5,509.8 76.2,509.8 75.2,510.0 74.2,510.2Z"/></clipPath>
<path d="M74.2,504.2 75.2,504.0 76.2,503.9 76.5,503.8 77.2,503.9 77.9,503.9 78.2,503.9 79.0,503.8 79.2,503.7 80.2,503.5 80.6,503.5 81.2,503.5 81.9,503.5 82.2,503.6 83.2,503.8 83.5,503.7 84.0,503.7 84.2,503.6 85.2,503.6 85.5,503.6 86.2,503.3 86.5,503.2 87.2,503.0 88.2,503.3 88.5,503.4 88.5,503.4 89.2,503.3 90.2,503.2 90.5,503.1 91.2,503.0 91.4,503.0 92.2,503.1 92.3,503.2 93.2,503.3 94.2,503.4 94.3,503.4 94.6,503.4 95.2,503.1 96.2,502.7 96.6,502.6 96.8,502.6 97.2,502.7 98.2,503.0 98.9,503.1 99.0,503.1 99.2,503.0 100.2,502.7 101.2,502.9 101.5,502.8 101.9,502.6 102.2,502.6 103.2,502.5 104.2,502.6 104.5,502.9 104.6,503.0 105.2,503.0 106.2,502.8 106.9,502.6 107.2,502.6 107.6,502.5 108.2,502.7 109.2,502.8 109.3,502.8 109.5,502.8 110.2,502.5 111.2,502.1 111.9,502.2 112.1,502.3 112.2,502.4 113.2,502.7 113.7,502.7 114.2,502.5 114.4,502.5 115.2,502.3 115.8,502.4 116.2,502.5 117.2,502.8 117.9,502.8 118.2,502.8 118.2,502.8 119.2,502.0 120.2,501.6 120.2,501.5 121.2,501.9 121.3,502.0 122.2,502.3 123.2,502.6 123.3,502.6 124.2,502.4 124.2,502.4 125.2,502.2 125.7,502.0 126.2,502.1 126.8,502.3 127.2,502.3 128.0,502.5 128.2,502.4 129.2,502.1 129.4,502.1 130.1,501.9 130.2,502.0 131.2,502.0 131.6,502.0 132.2,501.9 133.2,502.2 133.4,502.3 133.7,502.3 134.2,502.1 135.2,501.7 135.6,501.5 135.6,501.5 136.2,501.7 137.2,502.0 138.0,502.2 138.2,502.2 138.5,502.1 139.2,502.1 140.2,501.8 140.4,501.8 140.7,501.9 141.2,502.1 142.2,502.5 142.3,502.5 143.2,502.3 143.9,502.1 144.2,502.0 145.2,501.8 145.6,501.8 146.2,501.9 146.8,502.0 147.2,502.1 148.2,502.2 148.5,502.2 149.2,502.0 149.8,501.8 150.2,501.7 151.2,501.4 151.8,501.4 152.2,501.6 152.5,501.8 153.2,502.1 153.6,502.2 154.2,502.0 155.2,501.8 155.9,501.7 156.2,501.7 156.7,501.6 157.2,501.6 157.7,501.6 158.2,501.7 159.2,502.0 159.2,502.0 160.2,501.8 161.0,501.6 161.2,501.5 161.8,501.4 162.2,501.6 162.8,501.9 163.2,502.1 164.0,502.3 164.2,502.2 165.2,501.7 165.7,501.4 166.2,501.1 166.3,501.2 167.2,501.8 168.2,502.3 168.2,502.3 168.3,502.3 169.2,502.1 170.2,501.8 171.0,501.7 171.2,501.7 171.3,501.7 172.2,501.8 173.2,501.9 173.3,501.9 173.4,501.9 174.2,501.5 175.2,501.4 176.2,501.5 176.6,501.4 176.8,501.4 177.2,501.3 178.2,501.2 178.9,501.2 179.2,501.0 179.8,500.7 180.2,500.6 181.2,500.2 181.3,500.2 182.2,500.2 183.1,500.6 183.2,500.7 184.0,500.8 184.2,500.5 184.5,498.6 185.2,494.1 186.0,489.2 186.2,487.8 186.6,484.6 186.8,484.3 187.0,483.8 187.2,483.4 188.2,483.2 188.5,483.2 188.5,483.3 189.2,484.7 189.6,486.0 190.0,487.2 190.2,487.8 190.5,487.9 190.9,486.6 191.2,485.5 192.0,483.0 192.2,482.6 192.2,482.5 193.2,479.9 193.3,479.5 194.0,477.4 194.2,477.8 194.7,478.7 195.2,480.3 195.5,481.3 196.0,483.0 196.2,483.6 196.9,485.6 197.0,485.9 197.2,486.5 197.5,487.4 198.2,488.5 198.8,489.5 199.2,490.0 200.0,491.6 200.2,491.8 200.3,491.9 201.2,492.7 201.9,493.2 202.2,493.4 203.2,494.1 203.5,494.3 204.0,494.5 204.2,494.5 205.2,494.8 205.2,494.9 205.5,495.1 206.2,495.8 207.2,496.7 208.0,497.4 208.1,496.4 208.2,496.4 208.4,496.3 209.2,496.4 210.2,496.5 211.0,496.5 211.2,496.5 211.6,496.5 212.2,496.0 213.2,495.3 214.0,494.7 214.2,494.6 214.2,494.5 215.2,494.3 216.2,494.2 217.0,494.1 217.2,494.1 217.5,494.1 218.2,493.6 219.2,492.8 219.5,492.6 220.2,492.0 220.5,491.8 221.2,491.6 221.4,491.6 222.2,491.5 223.2,491.4 223.7,491.4 224.0,491.2 224.2,491.1 225.2,490.5 225.9,490.1 226.1,490.1 226.2,490.1 227.2,490.0 228.2,489.8 228.3,489.8 228.4,489.8 229.2,489.3 230.2,488.8 231.2,488.1 231.4,488.0 231.6,487.9 232.2,487.7 233.2,487.3 234.2,487.3 234.6,487.3 235.1,487.1 235.2,487.0 236.2,486.5 237.0,486.0 237.2,486.0 237.8,486.0 238.2,486.0 239.0,485.9 239.2,485.8 240.2,485.1 241.0,484.3 241.2,484.1 242.2,483.4 242.3,483.3 243.2,483.4 243.9,483.3 244.2,483.2 245.0,483.1 245.2,482.9 246.2,482.2 246.3,482.1 247.2,481.5 247.5,481.4 248.2,481.2 248.3,481.2 249.2,480.8 250.2,480.4 250.8,480.3 251.2,479.9 251.7,479.7 252.2,479.5 253.2,478.9 254.1,478.3 254.2,478.2 254.2,478.2 255.2,477.9 256.2,477.5 256.5,477.4 257.2,477.2 257.5,477.2 258.2,476.6 259.2,475.7 259.4,475.5 260.2,474.7 260.9,473.8 261.2,473.6 261.8,473.5 262.2,473.5 263.2,473.2 263.3,473.2 264.0,472.6 264.2,472.3 265.2,471.2 266.1,470.3 266.2,470.2 267.1,469.5 267.2,469.4 268.2,468.7 268.3,468.6 269.2,467.8 270.2,466.7 270.4,466.4 271.2,465.5 271.6,465.1 272.2,464.4 273.2,463.4 273.8,462.9 274.2,462.5 274.7,462.0 275.2,461.5 276.2,460.5 276.4,460.3 277.2,459.3 278.1,458.1 278.2,458.0 279.0,457.2 279.2,457.0 280.2,456.2 280.7,455.7 281.2,455.2 282.2,453.9 282.3,453.8 283.2,452.7 283.2,452.6 284.2,451.6 285.1,450.6 285.2,450.5 285.9,449.5 286.2,449.0 287.2,447.4 287.5,447.0 288.2,446.0 288.2,446.0 289.2,445.1 290.2,444.2 290.6,443.8 291.2,443.1 291.4,442.9 292.2,441.7 292.5,441.3 293.2,440.2 293.7,439.5 294.2,438.9 294.5,438.5 295.2,437.2 296.2,435.8 296.3,435.7 296.5,435.4 297.2,434.4 298.2,432.8 298.3,432.7 299.2,431.5 299.6,430.9 300.2,430.0 301.2,428.5 301.2,428.5 301.7,427.5 302.2,426.6 303.2,424.3 303.8,422.8 304.2,422.3 304.4,422.1 305.2,421.1 305.8,420.2 306.2,419.3 306.2,419.3 307.2,416.7 308.1,414.4 308.2,414.2 309.1,412.6 309.2,412.5 310.2,410.9 310.8,409.8 311.2,408.8 311.8,407.4 312.2,406.4 312.9,404.6 313.2,404.0 314.2,401.9 314.4,401.5 315.2,399.9 315.8,398.8 316.2,397.6 316.7,395.8 317.2,394.1 318.2,391.8 319.0,389.8 319.2,389.2 320.1,386.6 320.2,386.3 321.2,384.6 321.2,384.6 322.2,382.2 323.2,379.4 323.4,379.0 324.1,376.5 324.2,376.2 325.2,373.3 326.2,370.9 326.9,369.3 327.2,368.4 327.5,367.6 328.2,365.3 329.0,362.5 329.2,361.6 329.7,359.5 330.2,358.0 331.2,355.1 331.2,355.0 332.2,352.2 333.2,350.1 333.2,350.1 333.6,348.3 334.2,345.9 335.2,341.6 335.5,340.5 336.2,338.6 336.9,336.8 337.2,335.9 337.9,334.3 338.2,333.1 339.0,330.1 339.1,329.5 339.1,487.6 339.0,487.6 338.2,487.5 337.9,487.4 337.2,487.5 336.9,487.5 336.2,487.9 335.5,488.2 335.2,488.3 334.2,488.8 333.6,489.0 333.2,489.0 333.2,489.0 332.2,488.9 331.2,488.6 331.2,488.6 330.2,488.8 329.7,489.0 329.2,489.3 329.0,489.4 328.2,489.5 327.5,489.5 327.2,489.5 326.9,489.5 326.2,489.7 325.2,490.2 324.2,490.4 324.1,490.4 323.4,490.4 323.2,490.3 322.2,490.5 321.2,490.4 321.2,490.4 320.2,490.5 320.1,490.5 319.2,491.1 319.0,491.1 318.2,491.1 317.2,491.3 316.7,491.5 316.2,491.4 315.8,491.4 315.2,491.6 314.4,491.7 314.2,491.8 313.2,491.9 312.9,491.9 312.2,492.1 311.8,492.3 311.2,492.2 310.8,492.2 310.2,492.2 309.2,492.1 309.1,492.1 308.2,492.2 308.1,492.2 307.2,492.5 306.2,492.8 306.2,492.8 305.8,492.8 305.2,492.8 304.4,492.8 304.2,492.8 303.8,493.0 303.2,493.2 302.2,493.4 301.7,493.6 301.2,493.5 301.2,493.5 300.2,493.3 299.6,493.2 299.2,493.3 298.3,493.7 298.2,493.7 297.2,494.0 296.5,494.3 296.3,494.3 296.2,494.3 295.2,494.1 294.5,494.0 294.2,494.1 293.7,494.3 293.2,494.5 292.5,494.7 292.2,494.7 291.4,494.6 291.2,494.6 290.6,494.5 290.2,494.6 289.2,494.7 288.2,494.9 288.2,494.9 287.5,495.1 287.2,495.1 286.2,495.0 285.9,495.0 285.2,494.9 285.1,494.9 284.2,495.1 283.2,495.4 283.2,495.4 282.3,495.7 282.2,495.7 281.2,495.7 280.7,495.6 280.2,495.6 279.2,495.8 279.0,495.8 278.2,496.2 278.1,496.3 277.2,496.3 276.4,496.4 276.2,496.4 275.2,496.5 274.7,496.5 274.2,496.4 273.8,496.3 273.2,496.3 272.2,496.4 271.6,496.6 271.2,496.7 270.4,496.9 270.2,496.9 269.2,496.8 268.3,496.7 268.2,496.7 267.2,496.5 267.1,496.5 266.2,496.7 266.1,496.7 265.2,497.0 264.2,497.2 264.0,497.2 263.3,497.1 263.2,497.1 262.2,497.1 261.8,497.1 261.2,497.3 260.9,497.5 260.2,497.6 259.4,497.9 259.2,497.9 258.2,497.8 257.5,497.7 257.2,497.7 256.5,497.6 256.2,497.7 255.2,498.0 254.2,498.3 254.2,498.3 254.1,498.3 253.2,498.4 252.2,498.3 251.7,498.3 251.2,498.4 250.8,498.6 250.2,498.8 249.2,499.3 248.3,499.5 248.2,499.4 247.5,499.2 247.2,499.2 246.3,499.1 246.2,499.2 245.2,499.8 245.0,499.9 244.2,500.2 243.9,500.3 243.2,500.3 242.3,500.0 242.2,500.0 241.2,499.8 241.0,499.8 240.2,499.9 239.2,500.2 239.0,500.2 238.2,500.4 237.8,500.5 237.2,500.4 237.0,500.4 236.2,500.4 235.2,500.3 235.1,500.2 234.6,500.3 234.2,500.3 233.2,500.5 232.2,500.7 231.6,500.8 231.4,500.8 231.2,500.7 230.2,500.6 229.2,500.4 228.4,500.3 228.3,500.3 228.2,500.3 227.2,500.7 226.2,501.2 226.1,501.2 225.9,501.2 225.2,500.9 224.2,500.6 224.0,500.6 223.7,500.7 223.2,500.9 222.2,501.0 221.4,501.3 221.2,501.3 220.5,501.3 220.2,501.3 219.5,501.1 219.2,501.1 218.2,501.0 217.5,501.3 217.2,501.5 217.0,501.6 216.2,501.5 215.2,501.2 214.2,501.2 214.2,501.2 214.0,501.2 213.2,501.4 212.2,501.5 211.6,501.6 211.2,501.7 211.0,501.8 210.2,501.6 209.2,501.5 208.4,501.4 208.2,501.4 208.1,501.4 208.0,502.5 207.2,502.1 206.2,501.9 205.5,501.8 205.2,501.7 205.2,501.7 204.2,502.1 204.0,502.3 203.5,502.8 203.2,502.9 202.2,502.8 201.9,502.8 201.2,502.5 200.3,501.7 200.2,501.7 200.0,501.8 199.2,502.5 198.8,502.7 198.2,503.1 197.5,503.4 197.2,503.5 197.0,503.3 196.9,503.1 196.2,502.2 196.0,502.0 195.5,502.7 195.2,503.1 194.7,503.7 194.2,504.4 194.0,504.5 193.3,504.6 193.2,504.6 192.2,505.0 192.2,505.0 192.0,505.2 191.2,507.3 190.9,508.2 190.5,509.1 190.2,509.6 190.0,509.9 189.6,509.4 189.2,509.0 188.5,508.2 188.5,508.2 188.2,507.8 187.2,506.7 187.0,506.6 186.8,506.4 186.6,506.2 186.2,505.8 186.0,505.6 185.2,505.2 184.5,505.5 184.2,505.6 184.0,503.0 183.2,502.9 183.1,502.9 182.2,503.3 181.3,503.5 181.2,503.5 180.2,503.6 179.8,503.6 179.2,503.6 178.9,503.6 178.2,503.7 177.2,503.7 176.8,503.6 176.6,503.6 176.2,503.7 175.2,503.8 174.2,503.8 173.4,503.9 173.3,503.9 173.2,503.9 172.2,503.7 171.3,503.6 171.2,503.6 171.0,503.6 170.2,503.7 169.2,503.8 168.3,504.0 168.2,504.0 168.2,504.0 167.2,504.0 166.3,503.9 166.2,503.9 165.7,504.0 165.2,504.1 164.2,504.3 164.0,504.3 163.2,504.4 162.8,504.5 162.2,504.5 161.8,504.5 161.2,504.6 161.0,504.6 160.2,504.6 159.2,504.6 159.2,504.6 158.2,504.9 157.7,505.0 157.2,505.1 156.7,505.2 156.2,505.3 155.9,505.3 155.2,505.4 154.2,505.6 153.6,505.6 153.2,505.6 152.5,505.7 152.2,505.7 151.8,505.7 151.2,505.7 150.2,505.7 149.8,505.8 149.2,506.0 148.5,506.3 148.2,506.4 147.2,506.7 146.8,506.7 146.2,506.5 145.6,506.3 145.2,506.2 144.2,506.2 143.9,506.1 143.2,506.3 142.3,506.6 142.2,506.7 141.2,507.0 140.7,507.1 140.4,507.0 140.2,507.0 139.2,506.8 138.5,506.6 138.2,506.7 138.0,506.7 137.2,506.8 136.2,507.1 135.6,507.2 135.6,507.2 135.2,507.2 134.2,507.0 133.7,506.9 133.4,507.0 133.2,507.1 132.2,507.4 131.6,507.5 131.2,507.5 130.2,507.6 130.1,507.5 129.4,507.4 129.2,507.4 128.2,507.7 128.0,507.8 127.2,508.1 126.8,508.2 126.2,508.1 125.7,507.9 125.2,507.9 124.2,508.0 124.2,508.0 123.3,508.2 123.2,508.3 122.2,508.5 121.3,508.7 121.2,508.7 120.2,508.5 120.2,508.5 119.2,508.4 118.2,508.2 118.2,508.2 117.9,508.1 117.2,508.2 116.2,508.3 115.8,508.4 115.2,508.5 114.4,508.6 114.2,508.6 113.7,508.6 113.2,508.7 112.2,508.8 112.1,508.8 111.9,508.8 111.2,508.9 110.2,509.1 109.5,509.2 109.3,509.2 109.2,509.2 108.2,508.9 107.6,508.8 107.2,508.8 106.9,508.7 106.2,508.9 105.2,509.1 104.6,509.3 104.5,509.3 104.2,509.3 103.2,509.2 102.2,509.0 101.9,509.0 101.5,508.9 101.2,509.0 100.2,509.3 99.2,509.6 99.0,509.6 98.9,509.7 98.2,509.7 97.2,509.6 96.8,509.5 96.6,509.5 96.2,509.6 95.2,509.9 94.6,510.1 94.3,510.2 94.2,510.1 93.2,509.7 92.3,509.6 92.2,509.7 91.4,510.0 91.2,510.0 90.5,510.2 90.2,510.1 89.2,509.7 88.5,509.6 88.5,509.6 88.2,509.7 87.2,510.1 86.5,510.4 86.2,510.5 85.5,510.5 85.2,510.4 84.2,510.1 84.0,510.0 83.5,509.9 83.2,509.9 82.2,509.9 81.9,509.9 81.2,509.9 80.6,510.0 80.2,510.0 79.2,510.0 79.0,510.0 78.2,509.8 77.9,509.7 77.2,509.7 76.5,509.8 76.2,509.8 75.2,510.0 74.2,510.2Z" fill="#fad0bc"/>
<path d="M74.2,504.2 75.2,504.0 76.2,503.9 76.5,503.8 77.2,503.9 77.9,503.9 78.2,503.9 79.0,503.8 79.2,503.7 80.2,503.5 80.6,503.5 81.2,503.5 81.9,503.5 82.2,503.6 83.2,503.8 83.5,503.7 84.0,503.7 84.2,503.6 85.2,503.6 85.5,503.6 86.2,503.3 86.5,503.2 87.2,503.0 88.2,503.3 88.5,503.4 88.5,503.4 89.2,503.3 90.2,503.2 90.5,503.1 91.2,503.0 91.4,503.0 92.2,503.1 92.3,503.2 93.2,503.3 94.2,503.4 94.3,503.4 94.6,503.4 95.2,503.1 96.2,502.7 96.6,502.6 96.8,502.6 97.2,502.7 98.2,503.0 98.9,503.1 99.0,503.1 99.2,503.0 100.2,502.7 101.2,502.9 101.5,502.8 101.9,502.6 102.2,502.6 103.2,502.5 104.2,502.6 104.5,502.9 104.6,503.0 105.2,503.0 106.2,502.8 106.9,502.6 107.2,502.6 107.6,502.5 108.2,502.7 109.2,502.8 109.3,502.8 109.5,502.8 110.2,502.5 111.2,502.1 111.9,502.2 112.1,502.3 112.2,502.4 113.2,502.7 113.7,502.7 114.2,502.5 114.4,502.5 115.2,502.3 115.8,502.4 116.2,502.5 117.2,502.8 117.9,502.8 118.2,502.8 118.2,502.8 119.2,502.0 120.2,501.6 120.2,501.5 121.2,501.9 121.3,502.0 122.2,502.3 123.2,502.6 123.3,502.6 124.2,502.4 124.2,502.4 125.2,502.2 125.7,502.0 126.2,502.1 126.8,502.3 127.2,502.3 128.0,502.5 128.2,502.4 129.2,502.1 129.4,502.1 130.1,501.9 130.2,502.0 131.2,502.0 131.6,502.0 132.2,501.9 133.2,502.2 133.4,502.3 133.7,502.3 134.2,502.1 135.2,501.7 135.6,501.5 135.6,501.5 136.2,501.7 137.2,502.0 138.0,502.2 138.2,502.2 138.5,502.1 139.2,502.1 140.2,501.8 140.4,501.8 140.7,501.9 141.2,502.1 142.2,502.5 142.3,502.5 143.2,502.3 143.9,502.1 144.2,502.0 145.2,501.8 145.6,501.8 146.2,501.9 146.8,502.0 147.2,502.1 148.2,502.2 148.5,502.2 149.2,502.0 149.8,501.8 150.2,501.7 151.2,501.4 151.8,501.4 152.2,501.6 152.5,501.8 153.2,502.1 153.6,502.2 154.2,502.0 155.2,501.8 155.9,501.7 156.2,501.7 156.7,501.6 157.2,501.6 157.7,501.6 158.2,501.7 159.2,502.0 159.2,502.0 160.2,501.8 161.0,501.6 161.2,501.5 161.8,501.4 162.2,501.6 162.8,501.9 163.2,502.1 164.0,502.3 164.2,502.2 165.2,501.7 165.7,501.4 166.2,501.1 166.3,501.2 167.2,501.8 168.2,502.3 168.2,502.3 168.3,502.3 169.2,502.1 170.2,501.8 171.0,501.7 171.2,501.7 171.3,501.7 172.2,501.8 173.2,501.9 173.3,501.9 173.4,501.9 174.2,501.5 175.2,501.4 176.2,501.5 176.6,501.4 176.8,501.4 177.2,501.3 178.2,501.2 178.9,501.2 179.2,501.0 179.8,500.7 180.2,500.6 181.2,500.2 181.3,500.2 182.2,500.2 183.1,500.6 183.2,500.7 184.0,500.8 184.2,500.7 184.5,500.6 185.2,500.3 186.0,500.4 186.2,500.4 186.6,500.4 186.8,500.3 187.0,500.3 187.2,500.3 188.2,500.4 188.5,500.5 188.5,500.5 189.2,500.6 189.6,500.6 190.0,500.5 190.2,500.4 190.5,500.3 190.9,500.2 191.2,500.1 192.0,500.1 192.2,500.1 192.2,500.1 193.2,500.1 193.3,500.1 194.0,500.0 194.2,500.0 194.7,500.0 195.2,499.8 195.5,499.7 196.0,499.5 196.2,499.4 196.9,499.2 197.0,499.2 197.2,499.3 197.5,499.4 198.2,499.6 198.8,499.5 199.2,499.4 200.0,499.2 200.2,499.1 200.3,499.1 201.2,498.9 201.9,498.7 202.2,498.6 203.2,498.5 203.5,498.4 204.0,498.3 204.2,498.3 205.2,498.2 205.2,498.2 205.5,498.1 206.2,497.8 207.2,497.3 208.0,496.8 208.1,496.7 208.2,496.6 208.4,496.5 209.2,496.3 210.2,496.2 211.0,496.2 211.2,496.1 211.6,496.1 212.2,495.8 213.2,495.1 214.0,494.6 214.2,494.5 214.2,494.5 215.2,494.1 216.2,494.0 217.0,494.0 217.2,493.8 217.5,493.7 218.2,493.1 219.2,492.7 219.5,492.6 220.2,492.2 220.5,491.9 221.2,491.8 221.4,491.7 222.2,491.7 223.2,491.7 223.7,491.7 224.0,491.5 224.2,491.4 225.2,490.8 225.9,490.4 226.1,490.3 226.2,490.3 227.2,490.1 228.2,489.6 228.3,489.5 228.4,489.5 229.2,489.4 230.2,488.9 231.2,488.2 231.4,488.1 231.6,488.0 232.2,487.9 233.2,487.7 234.2,487.7 234.6,487.6 235.1,487.3 235.2,487.3 236.2,486.6 237.0,486.2 237.2,486.1 237.8,485.9 238.2,485.8 239.0,485.7 239.2,485.6 240.2,485.0 241.0,484.4 241.2,484.2 242.2,483.6 242.3,483.5 243.2,483.5 243.9,483.4 244.2,483.4 245.0,483.3 245.2,483.1 246.2,482.4 246.3,482.3 247.2,481.7 247.5,481.5 248.2,481.3 248.3,481.2 249.2,481.0 250.2,480.9 250.8,480.8 251.2,480.5 251.7,480.1 252.2,479.6 253.2,478.7 254.1,478.0 254.2,477.9 254.2,477.9 255.2,477.7 256.2,477.6 256.5,477.5 257.2,477.3 257.5,477.1 258.2,476.5 259.2,475.6 259.4,475.4 260.2,474.8 260.9,474.4 261.2,474.1 261.8,473.7 262.2,473.4 263.2,472.9 263.3,472.9 264.0,472.4 264.2,472.2 265.2,471.1 266.1,469.8 266.2,469.6 267.1,468.9 267.2,468.8 268.2,468.3 268.3,468.2 269.2,467.7 270.2,466.3 270.4,465.9 271.2,465.1 271.6,464.7 272.2,464.1 273.2,463.3 273.8,462.9 274.2,462.5 274.7,462.1 275.2,461.6 276.2,460.2 276.4,459.9 277.2,458.4 278.1,457.6 278.2,457.5 279.0,457.1 279.2,456.9 280.2,456.2 280.7,455.8 281.2,455.2 282.2,453.8 282.3,453.6 283.2,452.3 283.2,452.3 284.2,451.4 285.1,450.7 285.2,450.6 285.9,449.8 286.2,449.4 287.2,447.8 287.5,447.4 288.2,446.2 288.2,446.2 289.2,445.2 290.2,444.2 290.6,443.9 291.2,443.2 291.4,443.1 292.2,441.7 292.5,441.3 293.2,440.1 293.7,439.2 294.2,438.6 294.5,438.2 295.2,437.2 296.2,435.8 296.3,435.7 296.5,435.3 297.2,434.2 298.2,432.4 298.3,432.3 299.2,430.9 299.6,430.3 300.2,429.6 301.2,428.4 301.2,428.4 301.7,427.4 302.2,426.3 303.2,424.0 303.8,422.6 304.2,422.0 304.4,421.6 305.2,420.3 305.8,419.6 306.2,419.0 306.2,419.0 307.2,417.0 308.1,414.9 308.2,414.7 309.1,413.0 309.2,412.8 310.2,410.9 310.8,409.8 311.2,408.8 311.8,407.4 312.2,406.3 312.9,404.4 313.2,403.7 314.2,401.2 314.4,400.6 315.2,398.8 315.8,397.5 316.2,396.3 316.7,395.0 317.2,393.9 318.2,391.7 319.0,389.4 319.2,388.9 320.1,387.1 320.2,387.0 321.2,385.2 321.2,385.1 322.2,381.8 323.2,378.5 323.4,378.0 324.1,376.0 324.2,375.7 325.2,373.7 326.2,371.4 326.9,369.8 327.2,368.9 327.5,368.0 328.2,365.5 329.0,362.5 329.2,361.7 329.7,359.7 330.2,358.4 331.2,355.7 331.2,355.6 332.2,353.0 333.2,350.4 333.2,350.3 333.6,348.7 334.2,346.4 335.2,342.5 335.5,341.4 336.2,339.4 336.9,337.0 337.2,335.8 337.9,333.4 338.2,331.8 339.0,328.9 339.1,328.3 339.1,488.0 339.0,488.1 338.2,488.0 337.9,487.8 337.2,487.6 336.9,487.5 336.2,487.6 335.5,487.9 335.2,488.1 334.2,488.5 333.6,488.7 333.2,488.6 333.2,488.6 332.2,488.6 331.2,488.6 331.2,488.6 330.2,489.1 329.7,489.1 329.2,489.2 329.0,489.3 328.2,489.3 327.5,489.3 327.2,489.3 326.9,489.3 326.2,489.5 325.2,489.7 324.2,490.0 324.1,490.0 323.4,490.2 323.2,490.2 322.2,490.2 321.2,490.3 321.2,490.3 320.2,490.8 320.1,490.8 319.2,491.0 319.0,491.0 318.2,491.2 317.2,491.3 316.7,491.4 316.2,491.5 315.8,491.7 315.2,491.8 314.4,491.5 314.2,491.5 313.2,491.5 312.9,491.6 312.2,491.9 311.8,492.1 311.2,492.2 310.8,492.3 310.2,492.2 309.2,492.0 309.1,492.0 308.2,492.1 308.1,492.2 307.2,492.3 306.2,492.6 306.2,492.6 305.8,492.6 305.2,492.6 304.4,492.6 304.2,492.6 303.8,492.8 303.2,493.0 302.2,493.6 301.7,493.9 301.2,494.0 301.2,494.0 300.2,493.6 299.6,493.4 299.2,493.5 298.3,493.7 298.2,493.7 297.2,493.9 296.5,494.2 296.3,494.2 296.2,494.2 295.2,494.3 294.5,494.2 294.2,494.3 293.7,494.4 293.2,494.5 292.5,494.6 292.2,494.5 291.4,494.4 291.2,494.4 290.6,494.4 290.2,494.5 289.2,494.9 288.2,495.0 288.2,495.1 287.5,495.1 287.2,495.2 286.2,495.4 285.9,495.5 285.2,495.4 285.1,495.4 284.2,495.5 283.2,495.5 283.2,495.5 282.3,495.8 282.2,495.8 281.2,496.0 280.7,495.9 280.2,495.7 279.2,495.8 279.0,495.9 278.2,496.2 278.1,496.2 277.2,496.6 276.4,496.8 276.2,496.8 275.2,496.5 274.7,496.3 274.2,496.1 273.8,496.0 273.2,496.1 272.2,496.4 271.6,496.6 271.2,496.7 270.4,496.9 270.2,496.9 269.2,496.8 268.3,496.7 268.2,496.7 267.2,496.6 267.1,496.6 266.2,496.8 266.1,496.8 265.2,497.0 264.2,497.0 264.0,497.0 263.3,497.0 263.2,497.0 262.2,497.1 261.8,497.1 261.2,497.4 260.9,497.6 260.2,497.7 259.4,497.9 259.2,497.8 258.2,497.8 257.5,497.7 257.2,497.7 256.5,497.9 256.2,498.1 255.2,498.6 254.2,498.8 254.2,498.8 254.1,498.8 253.2,498.6 252.2,498.2 251.7,498.3 251.2,498.6 250.8,498.7 250.2,498.8 249.2,499.1 248.3,499.4 248.2,499.4 247.5,499.4 247.2,499.4 246.3,499.3 246.2,499.3 245.2,499.6 245.0,499.7 244.2,499.9 243.9,500.0 243.2,499.9 242.3,499.7 242.2,499.7 241.2,499.6 241.0,499.6 240.2,499.8 239.2,500.0 239.0,500.0 238.2,500.1 237.8,500.3 237.2,500.4 237.0,500.4 236.2,500.2 235.2,500.1 235.1,500.1 234.6,500.2 234.2,500.3 233.2,500.6 232.2,500.9 231.6,501.1 231.4,501.1 231.2,501.0 230.2,500.7 229.2,500.5 228.4,500.3 228.3,500.3 228.2,500.4 227.2,500.7 226.2,501.1 226.1,501.2 225.9,501.2 225.2,501.2 224.2,500.7 224.0,500.6 223.7,500.6 223.2,500.6 222.2,501.0 221.4,501.3 221.2,501.2 220.5,501.0 220.2,500.9 219.5,500.8 219.2,500.9 218.2,501.2 217.5,501.4 217.2,501.5 217.0,501.5 216.2,501.5 215.2,501.5 214.2,501.2 214.2,501.2 214.0,501.2 213.2,501.2 212.2,501.6 211.6,501.9 211.2,502.1 211.0,502.1 210.2,502.0 209.2,501.8 208.4,501.5 208.2,501.4 208.1,501.4 208.0,501.4 207.2,501.4 206.2,501.6 205.5,501.7 205.2,501.7 205.2,501.7 204.2,501.6 204.0,501.6 203.5,501.5 203.2,501.6 202.2,501.9 201.9,502.0 201.2,502.2 200.3,502.5 200.2,502.5 200.0,502.5 199.2,502.4 198.8,502.4 198.2,502.3 197.5,502.2 197.2,502.3 197.0,502.3 196.9,502.4 196.2,502.5 196.0,502.5 195.5,502.6 195.2,502.5 194.7,502.4 194.2,502.3 194.0,502.3 193.3,502.3 193.2,502.3 192.2,502.6 192.2,502.6 192.0,502.6 191.2,502.9 190.9,503.1 190.5,503.1 190.2,503.1 190.0,503.1 189.6,503.0 189.2,502.9 188.5,502.5 188.5,502.5 188.2,502.6 187.2,503.0 187.0,503.1 186.8,503.1 186.6,503.1 186.2,503.2 186.0,503.2 185.2,503.1 184.5,503.0 184.2,503.0 184.0,503.0 183.2,502.9 183.1,502.9 182.2,503.3 181.3,503.5 181.2,503.5 180.2,503.6 179.8,503.6 179.2,503.6 178.9,503.6 178.2,503.7 177.2,503.7 176.8,503.6 176.6,503.6 176.2,503.7 175.2,503.8 174.2,503.8 173.4,503.9 173.3,503.9 173.2,503.9 172.2,503.7 171.3,503.6 171.2,503.6 171.0,503.6 170.2,503.7 169.2,503.8 168.3,504.0 168.2,504.0 168.2,504.0 167.2,504.0 166.3,503.9 166.2,503.9 165.7,504.0 165.2,504.1 164.2,504.3 164.0,504.3 163.2,504.4 162.8,504.5 162.2,504.5 161.8,504.5 161.2,504.6 161.0,504.6 160.2,504.6 159.2,504.6 159.2,504.6 158.2,504.9 157.7,505.0 157.2,505.1 156.7,505.2 156.2,505.3 155.9,505.3 155.2,505.4 154.2,505.6 153.6,505.6 153.2,505.6 152.5,505.7 152.2,505.7 151.8,505.7 151.2,505.7 150.2,505.7 149.8,505.8 149.2,506.0 148.5,506.3 148.2,506.4 147.2,506.7 146.8,506.7 146.2,506.5 145.6,506.3 145.2,506.2 144.2,506.2 143.9,506.1 143.2,506.3 142.3,506.6 142.2,506.7 141.2,507.0 140.7,507.1 140.4,507.0 140.2,507.0 139.2,506.8 138.5,506.6 138.2,506.7 138.0,506.7 137.2,506.8 136.2,507.1 135.6,507.2 135.6,507.2 135.2,507.2 134.2,507.0 133.7,506.9 133.4,507.0 133.2,507.1 132.2,507.4 131.6,507.5 131.2,507.5 130.2,507.6 130.1,507.5 129.4,507.4 129.2,507.4 128.2,507.7 128.0,507.8 127.2,508.1 126.8,508.2 126.2,508.1 125.7,507.9 125.2,507.9 124.2,508.0 124.2,508.0 123.3,508.2 123.2,508.3 122.2,508.5 121.3,508.7 121.2,508.7 120.2,508.5 120.2,508.5 119.2,508.4 118.2,508.2 118.2,508.2 117.9,508.1 117.2,508.2 116.2,508.3 115.8,508.4 115.2,508.5 114.4,508.6 114.2,508.6 113.7,508.6 113.2,508.7 112.2,508.8 112.1,508.8 111.9,508.8 111.2,508.9 110.2,509.1 109.5,509.2 109.3,509.2 109.2,509.2 108.2,508.9 107.6,508.8 107.2,508.8 106.9,508.7 106.2,508.9 105.2,509.1 104.6,509.3 104.5,509.3 104.2,509.3 103.2,509.2 102.2,509.0 101.9,509.0 101.5,508.9 101.2,509.0 100.2,509.3 99.2,509.6 99.0,509.6 98.9,509.7 98.2,509.7 97.2,509.6 96.8,509.5 96.6,509.5 96.2,509.6 95.2,509.9 94.6,510.1 94.3,510.2 94.2,510.1 93.2,509.7 92.3,509.6 92.2,509.7 91.4,510.0 91.2,510.0 90.5,510.2 90.2,510.1 89.2,509.7 88.5,509.6 88.5,509.6 88.2,509.7 87.2,510.1 86.5,510.4 86.2,510.5 85.5,510.5 85.2,510.4 84.2,510.1 84.0,510.0 83.5,509.9 83.2,509.9 82.2,509.9 81.9,509.9 81.2,509.9 80.6,510.0 80.2,510.0 79.2,510.0 79.0,510.0 78.2,509.8 77.9,509.7 77.2,509.7 76.5,509.8 76.2,509.8 75.2,510.0 74.2,510.2Z" fill="#c7cfec"/>
<path d="M74.2,504.2 75.2,504.0 76.2,503.9 76.5,503.8 77.2,503.9 77.9,503.9 78.2,503.9 79.0,503.8 79.2,503.7 80.2,503.5 80.6,503.5 81.2,503.5 81.9,503.5 82.2,503.6 83.2,503.8 83.5,503.7 84.0,503.7 84.2,503.6 85.2,503.6 85.5,503.6 86.2,503.3 86.5,503.2 87.2,503.0 88.2,503.3 88.5,503.4 88.5,503.4 89.2,503.3 90.2,503.2 90.5,503.1 91.2,503.0 91.4,503.0 92.2,503.1 92.3,503.2 93.2,503.3 94.2,503.4 94.3,503.4 94.6,503.4 95.2,503.1 96.2,502.7 96.6,502.6 96.8,502.6 97.2,502.7 98.2,503.0 98.9,503.1 99.0,503.1 99.2,503.0 100.2,502.7 101.2,502.9 101.5,502.8 101.9,502.6 102.2,502.6 103.2,502.5 104.2,502.6 104.5,502.9 104.6,503.0 105.2,503.0 106.2,502.8 106.9,502.6 107.2,502.6 107.6,502.5 108.2,502.7 109.2,502.8 109.3,502.8 109.5,502.8 110.2,502.5 111.2,502.1 111.9,502.2 112.1,502.3 112.2,502.4 113.2,502.7 113.7,502.7 114.2,502.5 114.4,502.5 115.2,502.3 115.8,502.4 116.2,502.5 117.2,502.8 117.9,502.8 118.2,502.8 118.2,502.8 119.2,502.0 120.2,501.6 120.2,501.5 121.2,501.9 121.3,502.0 122.2,502.3 123.2,502.6 123.3,502.6 124.2,502.4 124.2,502.4 125.2,502.2 125.7,502.0 126.2,502.1 126.8,502.3 127.2,502.3 128.0,502.5 128.2,502.4 129.2,502.1 129.4,502.1 130.1,501.9 130.2,502.0 131.2,502.0 131.6,502.0 132.2,501.9 133.2,502.2 133.4,502.3 133.7,502.3 134.2,502.1 135.2,501.7 135.6,501.5 135.6,501.5 136.2,501.7 137.2,502.0 138.0,502.2 138.2,502.2 138.5,502.1 139.2,502.1 140.2,501.8 140.4,501.8 140.7,501.9 141.2,502.1 142.2,502.5 142.3,502.5 143.2,502.3 143.9,502.1 144.2,502.0 145.2,501.8 145.6,501.8 146.2,501.9 146.8,502.0 147.2,502.1 148.2,502.2 148.5,502.2 149.2,502.0 149.8,501.8 150.2,501.7 151.2,501.4 151.8,501.4 152.2,501.6 152.5,501.8 153.2,502.1 153.6,502.2 154.2,502.0 155.2,501.8 155.9,501.7 156.2,501.7 156.7,501.6 157.2,501.6 157.7,501.6 158.2,501.7 159.2,502.0 159.2,502.0 160.2,501.8 161.0,501.6 161.2,501.5 161.8,501.4 162.2,501.6 162.8,501.9 163.2,502.1 164.0,502.3 164.2,502.2 165.2,501.7 165.7,501.4 166.2,501.1 166.3,501.2 167.2,501.8 168.2,502.3 168.2,502.3 168.3,502.3 169.2,502.1 170.2,501.8 171.0,501.7 171.2,501.7 171.3,501.7 172.2,501.8 173.2,501.9 173.3,501.9 173.4,501.9 174.2,501.5 175.2,501.4 176.2,501.5 176.6,501.4 176.8,501.4 177.2,501.3 178.2,501.2 178.9,501.2 179.2,501.0 179.8,500.7 180.2,500.6 181.2,500.2 181.3,500.2 182.2,500.2 183.1,500.6 183.2,500.7 184.0,500.8 184.2,500.7 184.5,500.6 185.2,500.3 186.0,500.4 186.2,500.4 186.6,500.4 186.8,500.3 187.0,500.3 187.2,500.3 188.2,500.4 188.5,500.5 188.5,500.5 189.2,500.6 189.6,500.6 190.0,500.5 190.2,500.4 190.5,500.3 190.9,500.2 191.2,500.1 192.0,500.1 192.2,500.1 192.2,500.1 193.2,500.1 193.3,500.1 194.0,500.0 194.2,500.0 194.7,500.0 195.2,499.8 195.5,499.7 196.0,499.5 196.2,499.4 196.9,499.2 197.0,499.2 197.2,499.3 197.5,499.4 198.2,499.6 198.8,499.5 199.2,499.4 200.0,499.2 200.2,499.1 200.3,499.1 201.2,498.9 201.9,498.7 202.2,498.6 203.2,498.5 203.5,498.4 204.0,498.3 204.2,498.3 205.2,498.2 205.2,498.2 205.5,498.1 206.2,497.8 207.2,497.3 208.0,496.8 208.1,496.7 208.2,496.6 208.4,496.5 209.2,496.3 210.2,496.2 211.0,496.2 211.2,496.1 211.6,496.1 212.2,495.8 213.2,495.1 214.0,494.6 214.2,494.5 214.2,494.5 215.2,494.1 216.2,494.0 217.0,494.0 217.2,493.8 217.5,493.7 218.2,493.1 219.2,492.7 219.5,492.6 220.2,492.2 220.5,491.9 221.2,491.8 221.4,491.7 222.2,491.7 223.2,491.7 223.7,491.7 224.0,491.5 224.2,491.4 225.2,490.8 225.9,490.4 226.1,490.3 226.2,490.3 227.2,490.1 228.2,489.6 228.3,489.5 228.4,489.5 229.2,489.4 230.2,488.9 231.2,488.2 231.4,488.1 231.6,488.0 232.2,487.9 233.2,487.7 234.2,487.7 234.6,487.6 235.1,487.3 235.2,487.3 236.2,486.6 237.0,486.2 237.2,486.1 237.8,485.9 238.2,485.8 239.0,485.7 239.2,485.6 240.2,485.0 241.0,484.4 241.2,484.2 242.2,483.6 242.3,483.5 243.2,483.5 243.9,483.4 244.2,483.4 245.0,483.3 245.2,483.1 246.2,482.4 246.3,482.3 247.2,481.7 247.5,481.5 248.2,481.3 248.3,481.2 249.2,481.0 250.2,480.9 250.8,480.8 251.2,480.5 251.7,480.1 252.2,479.6 253.2,478.7 254.1,478.0 254.2,477.9 254.2,477.9 255.2,477.7 256.2,477.6 256.5,477.5 257.2,477.3 257.5,477.1 258.2,476.5 259.2,475.6 259.4,475.4 260.2,474.8 260.9,474.4 261.2,474.1 261.8,473.7 262.2,473.4 263.2,472.9 263.3,472.9 264.0,472.4 264.2,472.2 265.2,471.1 266.1,469.8 266.2,469.6 267.1,468.9 267.2,468.8 268.2,468.3 268.3,468.2 269.2,467.7 270.2,466.3 270.4,465.9 271.2,465.1 271.6,464.7 272.2,464.1 273.2,463.3 273.8,462.9 274.2,462.5 274.7,462.1 275.2,461.6 276.2,460.2 276.4,459.9 277.2,458.4 278.1,457.6 278.2,457.5 279.0,457.1 279.2,456.9 280.2,456.2 280.7,455.8 281.2,455.2 282.2,453.8 282.3,453.6 283.2,452.3 283.2,452.3 284.2,451.4 285.1,450.7 285.2,450.6 285.9,449.8 286.2,449.4 287.2,447.8 287.5,447.4 288.2,446.2 288.2,446.2 289.2,445.2 290.2,444.2 290.6,443.9 291.2,443.2 291.4,443.1 292.2,441.7 292.5,441.3 293.2,440.1 293.7,439.2 294.2,438.6 294.5,438.2 295.2,437.2 296.2,435.8 296.3,435.7 296.5,435.3 297.2,434.2 298.2,432.4 298.3,432.3 299.2,430.9 299.6,430.3 300.2,429.6 301.2,428.4 301.2,428.4 301.7,427.4 302.2,426.3 303.2,424.0 303.8,422.6 304.2,422.0 304.4,421.6 305.2,420.3 305.8,419.6 306.2,419.0 306.2,419.0 307.2,417.0 308.1,414.9 308.2,414.7 309.1,413.0 309.2,412.8 310.2,410.9 310.8,409.8 311.2,408.8 311.8,407.4 312.2,406.3 312.9,404.4 313.2,403.7 314.2,401.2 314.4,400.6 315.2,398.8 315.8,397.5 316.2,396.3 316.7,395.0 317.2,393.9 318.2,391.7 319.0,389.4 319.2,388.9 320.1,387.1 320.2,387.0 321.2,385.2 321.2,385.1 322.2,381.8 323.2,378.5 323.4,378.0 324.1,376.0 324.2,375.7 325.2,373.7 326.2,371.4 326.9,369.8 327.2,368.9 327.5,368.0 328.2,365.5 329.0,362.5 329.2,361.7 329.7,359.7 330.2,358.4 331.2,355.7 331.2,355.6 332.2,353.0 333.2,350.4 333.2,350.3 333.6,348.7 334.2,346.4 335.2,342.5 335.5,341.4 336.2,339.4 336.9,337.0 337.2,335.8 337.9,333.4 338.2,331.8 339.0,328.9 339.1,328.3 339.1,488.0 339.0,488.1 338.2,488.0 337.9,487.8 337.2,487.6 336.9,487.5 336.2,487.6 335.5,487.9 335.2,488.1 334.2,488.5 333.6,488.7 333.2,488.6 333.2,488.6 332.2,488.6 331.2,488.6 331.2,488.6 330.2,489.1 329.7,489.1 329.2,489.2 329.0,489.3 328.2,489.3 327.5,489.3 327.2,489.3 326.9,489.3 326.2,489.5 325.2,489.7 324.2,490.0 324.1,490.0 323.4,490.2 323.2,490.2 322.2,490.2 321.2,490.3 321.2,490.3 320.2,490.8 320.1,490.8 319.2,491.0 319.0,491.0 318.2,491.2 317.2,491.3 316.7,491.4 316.2,491.5 315.8,491.7 315.2,491.8 314.4,491.5 314.2,491.5 313.2,491.5 312.9,491.6 312.2,491.9 311.8,492.1 311.2,492.2 310.8,492.3 310.2,492.2 309.2,492.0 309.1,492.0 308.2,492.1 308.1,492.2 307.2,492.3 306.2,492.6 306.2,492.6 305.8,492.6 305.2,492.6 304.4,492.6 304.2,492.6 303.8,492.8 303.2,493.0 302.2,493.6 301.7,493.9 301.2,494.0 301.2,494.0 300.2,493.6 299.6,493.4 299.2,493.5 298.3,493.7 298.2,493.7 297.2,493.9 296.5,494.2 296.3,494.2 296.2,494.2 295.2,494.3 294.5,494.2 294.2,494.3 293.7,494.4 293.2,494.5 292.5,494.6 292.2,494.5 291.4,494.4 291.2,494.4 290.6,494.4 290.2,494.5 289.2,494.9 288.2,495.0 288.2,495.1 287.5,495.1 287.2,495.2 286.2,495.4 285.9,495.5 285.2,495.4 285.1,495.4 284.2,495.5 283.2,495.5 283.2,495.5 282.3,495.8 282.2,495.8 281.2,496.0 280.7,495.9 280.2,495.7 279.2,495.8 279.0,495.9 278.2,496.2 278.1,496.2 277.2,496.6 276.4,496.8 276.2,496.8 275.2,496.5 274.7,496.3 274.2,496.1 273.8,496.0 273.2,496.1 272.2,496.4 271.6,496.6 271.2,496.7 270.4,496.9 270.2,496.9 269.2,496.8 268.3,496.7 268.2,496.7 267.2,496.6 267.1,496.6 266.2,496.8 266.1,496.8 265.2,497.0 264.2,497.0 264.0,497.0 263.3,497.0 263.2,497.0 262.2,497.1 261.8,497.1 261.2,497.4 260.9,497.6 260.2,497.7 259.4,497.9 259.2,497.8 258.2,497.8 257.5,497.7 257.2,497.7 256.5,497.9 256.2,498.1 255.2,498.6 254.2,498.8 254.2,498.8 254.1,498.8 253.2,498.6 252.2,498.2 251.7,498.3 251.2,498.6 250.8,498.7 250.2,498.8 249.2,499.1 248.3,499.4 248.2,499.4 247.5,499.4 247.2,499.4 246.3,499.3 246.2,499.3 245.2,499.6 245.0,499.7 244.2,499.9 243.9,500.0 243.2,499.9 242.3,499.7 242.2,499.7 241.2,499.6 241.0,499.6 240.2,499.8 239.2,500.0 239.0,500.0 238.2,500.1 237.8,500.3 237.2,500.4 237.0,500.4 236.2,500.2 235.2,500.1 235.1,500.1 234.6,500.2 234.2,500.3 233.2,500.6 232.2,500.9 231.6,501.1 231.4,501.1 231.2,501.0 230.2,500.7 229.2,500.5 228.4,500.3 228.3,500.3 228.2,500.4 227.2,500.7 226.2,501.1 226.1,501.2 225.9,501.2 225.2,501.2 224.2,500.7 224.0,500.6 223.7,500.6 223.2,500.6 222.2,501.0 221.4,501.3 221.2,501.2 220.5,501.0 220.2,500.9 219.5,500.8 219.2,500.9 218.2,501.2 217.5,501.4 217.2,501.5 217.0,501.5 216.2,501.5 215.2,501.5 214.2,501.2 214.2,501.2 214.0,501.2 213.2,501.2 212.2,501.6 211.6,501.9 211.2,502.1 211.0,502.1 210.2,502.0 209.2,501.8 208.4,501.5 208.2,501.4 208.1,501.4 208.0,501.4 207.2,501.4 206.2,501.6 205.5,501.7 205.2,501.7 205.2,501.7 204.2,501.6 204.0,501.6 203.5,501.5 203.2,501.6 202.2,501.9 201.9,502.0 201.2,502.2 200.3,502.5 200.2,502.5 200.0,502.5 199.2,502.4 198.8,502.4 198.2,502.3 197.5,502.2 197.2,502.3 197.0,502.3 196.9,502.4 196.2,502.5 196.0,502.5 195.5,502.6 195.2,502.5 194.7,502.4 194.2,502.3 194.0,502.3 193.3,502.3 193.2,502.3 192.2,502.6 192.2,502.6 192.0,502.6 191.2,502.9 190.9,503.1 190.5,503.1 190.2,503.1 190.0,503.1 189.6,503.0 189.2,502.9 188.5,502.5 188.5,502.5 188.2,502.6 187.2,503.0 187.0,503.1 186.8,503.1 186.6,503.1 186.2,503.2 186.0,503.2 185.2,503.1 184.5,503.0 184.2,503.0 184.0,503.0 183.2,502.9 183.1,502.9 182.2,503.3 181.3,503.5 181.2,503.5 180.2,503.6 179.8,503.6 179.2,503.6 178.9,503.6 178.2,503.7 177.2,503.7 176.8,503.6 176.6,503.6 176.2,503.7 175.2,503.8 174.2,503.8 173.4,503.9 173.3,503.9 173.2,503.9 172.2,503.7 171.3,503.6 171.2,503.6 171.0,503.6 170.2,503.7 169.2,503.8 168.3,504.0 168.2,504.0 168.2,504.0 167.2,504.0 166.3,503.9 166.2,503.9 165.7,504.0 165.2,504.1 164.2,504.3 164.0,504.3 163.2,504.4 162.8,504.5 162.2,504.5 161.8,504.5 161.2,504.6 161.0,504.6 160.2,504.6 159.2,504.6 159.2,504.6 158.2,504.9 157.7,505.0 157.2,505.1 156.7,505.2 156.2,505.3 155.9,505.3 155.2,505.4 154.2,505.6 153.6,505.6 153.2,505.6 152.5,505.7 152.2,505.7 151.8,505.7 151.2,505.7 150.2,505.7 149.8,505.8 149.2,506.0 148.5,506.3 148.2,506.4 147.2,506.7 146.8,506.7 146.2,506.5 145.6,506.3 145.2,506.2 144.2,506.2 143.9,506.1 143.2,506.3 142.3,506.6 142.2,506.7 141.2,507.0 140.7,507.1 140.4,507.0 140.2,507.0 139.2,506.8 138.5,506.6 138.2,506.7 138.0,506.7 137.2,506.8 136.2,507.1 135.6,507.2 135.6,507.2 135.2,507.2 134.2,507.0 133.7,506.9 133.4,507.0 133.2,507.1 132.2,507.4 131.6,507.5 131.2,507.5 130.2,507.6 130.1,507.5 129.4,507.4 129.2,507.4 128.2,507.7 128.0,507.8 127.2,508.1 126.8,508.2 126.2,508.1 125.7,507.9 125.2,507.9 124.2,508.0 124.2,508.0 123.3,508.2 123.2,508.3 122.2,508.5 121.3,508.7 121.2,508.7 120.2,508.5 120.2,508.5 119.2,508.4 118.2,508.2 118.2,508.2 117.9,508.1 117.2,508.2 116.2,508.3 115.8,508.4 115.2,508.5 114.4,508.6 114.2,508.6 113.7,508.6 113.2,508.7 112.2,508.8 112.1,508.8 111.9,508.8 111.2,508.9 110.2,509.1 109.5,509.2 109.3,509.2 109.2,509.2 108.2,508.9 107.6,508.8 107.2,508.8 106.9,508.7 106.2,508.9 105.2,509.1 104.6,509.3 104.5,509.3 104.2,509.3 103.2,509.2 102.2,509.0 101.9,509.0 101.5,508.9 101.2,509.0 100.2,509.3 99.2,509.6 99.0,509.6 98.9,509.7 98.2,509.7 97.2,509.6 96.8,509.5 96.6,509.5 96.2,509.6 95.2,509.9 94.6,510.1 94.3,510.2 94.2,510.1 93.2,509.7 92.3,509.6 92.2,509.7 91.4,510.0 91.2,510.0 90.5,510.2 90.2,510.1 89.2,509.7 88.5,509.6 88.5,509.6 88.2,509.7 87.2,510.1 86.5,510.4 86.2,510.5 85.5,510.5 85.2,510.4 84.2,510.1 84.0,510.0 83.5,509.9 83.2,509.9 82.2,509.9 81.9,509.9 81.2,509.9 80.6,510.0 80.2,510.0 79.2,510.0 79.0,510.0 78.2,509.8 77.9,509.7 77.2,509.7 76.5,509.8 76.2,509.8 75.2,510.0 74.2,510.2Z" fill="#c4bccf" clip-path="url(#cs2)"/>
<path d="M162.4,503.1 163.4,503.1 164.4,503.2 165.4,503.5 166.4,503.5 167.4,503.2 168.4,502.9 169.4,502.8 170.4,502.7 171.4,502.6 172.4,502.5 173.4,502.4 174.4,502.3 175.4,502.2 176.4,502.2 177.4,502.4 178.4,502.3 179.4,501.9 180.4,501.7 181.4,501.7 182.4,501.6 183.4,501.6 184.4,501.6 185.4,501.6 186.4,501.4 187.4,501.1 188.4,500.9 189.4,500.9 190.4,501.1 191.4,501.2 192.4,501.4 193.4,501.2 194.4,501.1 195.4,500.9 196.4,500.7 197.4,500.4 198.4,500.0 199.4,500.1 200.4,500.2 201.4,500.3 202.4,500.4 203.4,500.3 204.4,500.3 205.4,500.2 206.4,500.1 207.4,499.9 208.4,499.4 209.4,499.0 210.4,499.1 211.4,499.2 212.4,499.4 213.4,499.2 214.4,499.1 215.4,498.9 216.4,498.8 217.4,498.8 218.4,498.8 219.4,498.7 220.4,498.6 221.4,498.5 222.4,498.4 223.4,498.2 224.4,497.8 225.4,497.4 226.4,497.0 227.4,497.2 228.4,497.2 229.4,497.0 230.4,496.8 231.4,496.6 232.4,496.4 233.4,496.5 234.4,496.4 235.4,496.2 236.4,496.0 237.4,495.8 238.4,495.6 239.4,495.5 240.4,495.3 241.4,494.9 242.4,494.6 243.4,494.7 244.4,494.8 245.4,495.0 246.4,494.6 247.4,494.3 248.4,494.0 249.4,493.7 250.4,493.7 251.4,493.7 252.4,493.6 253.4,493.4 254.4,493.2 255.4,492.9 256.4,492.7 257.4,492.4 258.4,492.1 259.4,491.8 260.4,491.4 261.4,491.1 262.4,490.8 263.4,490.6 264.4,490.3 265.4,490.0 266.4,489.7 267.4,489.8 268.4,489.9 269.4,489.8 270.4,489.5 271.4,488.7 272.4,488.0 273.4,487.8 274.4,487.6 275.4,487.4 276.4,487.2 277.4,487.0 278.4,486.6 279.4,486.3 280.4,486.0 281.4,485.9 282.4,485.9 283.4,485.6 284.4,485.2 285.4,484.8 286.4,484.4 287.4,484.1 288.4,483.8 289.4,483.2 290.4,482.5 291.4,482.1 292.4,482.0 293.4,481.9 294.4,481.5 295.4,481.0 296.4,480.4 297.4,479.8 298.4,479.6 299.4,479.4 300.4,479.1 301.4,479.0 302.4,478.8 303.4,478.3 304.4,477.7 305.4,477.2 306.4,476.5 307.4,475.9 308.4,475.5 309.4,475.1 310.4,474.6 311.4,474.1 312.4,473.7 313.4,473.5 314.4,473.5 315.4,472.9 316.4,472.3 317.4,471.7 318.4,471.3 319.4,470.9 320.4,470.3 321.4,469.6 322.4,468.8 323.4,468.3 324.4,467.9 325.4,467.4 326.4,466.8 327.4,466.1 328.4,465.4 329.4,465.1 330.4,464.8 331.4,464.2 332.4,463.3 333.4,463.0 334.4,462.8 335.4,462.1 336.4,461.4 337.4,460.8 338.4,460.2 339.1,459.8" stroke="#1f4e9e" stroke-width="1.5" fill="none" stroke-linejoin="round"/>
<g fill="#0b7439"><circle cx="74.4" cy="506.4" r="2.45"/><circle cx="74.8" cy="506.5" r="2.45"/><circle cx="75.8" cy="507.1" r="2.45"/><circle cx="76.8" cy="505.8" r="2.45"/><circle cx="77.5" cy="505.8" r="2.45"/><circle cx="78.5" cy="509.4" r="2.45"/><circle cx="79.5" cy="505.8" r="2.45"/><circle cx="80.8" cy="506.7" r="2.45"/><circle cx="81.3" cy="505.4" r="2.45"/><circle cx="82.5" cy="505.5" r="2.45"/><circle cx="83.1" cy="504.2" r="2.45"/><circle cx="84.4" cy="506.8" r="2.45"/><circle cx="85.1" cy="505.9" r="2.45"/><circle cx="85.8" cy="505.6" r="2.45"/><circle cx="86.6" cy="509.4" r="2.45"/><circle cx="87.5" cy="506.0" r="2.45"/><circle cx="88.4" cy="505.5" r="2.45"/><circle cx="89.3" cy="506.6" r="2.45"/><circle cx="90.6" cy="507.3" r="2.45"/><circle cx="91.5" cy="506.1" r="2.45"/><circle cx="92.1" cy="508.0" r="2.45"/><circle cx="92.8" cy="506.3" r="2.45"/><circle cx="93.9" cy="506.3" r="2.45"/><circle cx="94.8" cy="504.7" r="2.45"/><circle cx="95.9" cy="506.3" r="2.45"/><circle cx="96.6" cy="506.1" r="2.45"/><circle cx="97.8" cy="505.6" r="2.45"/><circle cx="98.4" cy="505.5" r="2.45"/><circle cx="99.6" cy="508.1" r="2.45"/><circle cx="100.4" cy="505.3" r="2.45"/><circle cx="101.2" cy="504.1" r="2.45"/><circle cx="102.1" cy="503.5" r="2.45"/><circle cx="102.7" cy="506.4" r="2.45"/><circle cx="103.8" cy="506.4" r="2.45"/><circle cx="104.9" cy="508.6" r="2.45"/><circle cx="105.7" cy="504.7" r="2.45"/><circle cx="106.3" cy="505.4" r="2.45"/><circle cx="107.7" cy="505.8" r="2.45"/><circle cx="108.6" cy="505.4" r="2.45"/><circle cx="109.3" cy="504.2" r="2.45"/><circle cx="110.2" cy="505.4" r="2.45"/><circle cx="111.1" cy="505.9" r="2.45"/><circle cx="111.8" cy="507.2" r="2.45"/><circle cx="112.7" cy="503.6" r="2.45"/><circle cx="113.7" cy="507.8" r="2.45"/><circle cx="114.7" cy="503.8" r="2.45"/><circle cx="115.8" cy="506.6" r="2.45"/><circle cx="116.7" cy="507.1" r="2.45"/><circle cx="117.4" cy="505.8" r="2.45"/><circle cx="118.3" cy="506.8" r="2.45"/><circle cx="119.1" cy="504.7" r="2.45"/><circle cx="119.8" cy="505.2" r="2.45"/><circle cx="121.2" cy="504.3" r="2.45"/><circle cx="122.1" cy="504.8" r="2.45"/><circle cx="123.1" cy="502.7" r="2.45"/><circle cx="123.6" cy="502.1" r="2.45"/><circle cx="124.5" cy="503.1" r="2.45"/><circle cx="125.5" cy="505.4" r="2.45"/><circle cx="126.1" cy="504.9" r="2.45"/><circle cx="127.1" cy="502.9" r="2.45"/><circle cx="127.9" cy="506.1" r="2.45"/><circle cx="129.2" cy="504.5" r="2.45"/><circle cx="129.9" cy="509.3" r="2.45"/><circle cx="131.1" cy="503.9" r="2.45"/><circle cx="131.9" cy="504.6" r="2.45"/><circle cx="132.5" cy="505.8" r="2.45"/><circle cx="133.7" cy="504.2" r="2.45"/><circle cx="134.8" cy="505.8" r="2.45"/><circle cx="135.4" cy="505.8" r="2.45"/><circle cx="136.0" cy="501.9" r="2.45"/><circle cx="137.5" cy="503.9" r="2.45"/><circle cx="137.8" cy="505.4" r="2.45"/><circle cx="139.0" cy="505.1" r="2.45"/><circle cx="140.2" cy="504.2" r="2.45"/><circle cx="141.0" cy="503.7" r="2.45"/><circle cx="141.6" cy="505.8" r="2.45"/><circle cx="142.9" cy="503.6" r="2.45"/><circle cx="143.2" cy="503.7" r="2.45"/><circle cx="144.4" cy="503.7" r="2.45"/><circle cx="145.2" cy="504.4" r="2.45"/><circle cx="146.1" cy="503.9" r="2.45"/><circle cx="146.8" cy="503.7" r="2.45"/><circle cx="148.3" cy="502.3" r="2.45"/><circle cx="148.9" cy="504.2" r="2.45"/><circle cx="149.6" cy="503.9" r="2.45"/><circle cx="150.9" cy="504.7" r="2.45"/><circle cx="151.6" cy="504.1" r="2.45"/><circle cx="152.3" cy="501.5" r="2.45"/><circle cx="153.6" cy="504.4" r="2.45"/><circle cx="154.3" cy="503.5" r="2.45"/><circle cx="155.2" cy="502.2" r="2.45"/><circle cx="156.0" cy="504.3" r="2.45"/><circle cx="157.1" cy="504.4" r="2.45"/><circle cx="157.8" cy="503.6" r="2.45"/><circle cx="159.1" cy="502.0" r="2.45"/><circle cx="159.8" cy="501.5" r="2.45"/><circle cx="160.6" cy="503.8" r="2.45"/><circle cx="161.8" cy="502.3" r="2.45"/><circle cx="162.6" cy="503.8" r="2.45"/><circle cx="163.5" cy="504.9" r="2.45"/><circle cx="164.0" cy="506.5" r="2.45"/><circle cx="165.0" cy="505.9" r="2.45"/><circle cx="165.8" cy="506.3" r="2.45"/><circle cx="167.0" cy="508.0" r="2.45"/><circle cx="167.6" cy="508.4" r="2.45"/><circle cx="168.9" cy="507.1" r="2.45"/><circle cx="169.7" cy="507.0" r="2.45"/><circle cx="170.4" cy="510.5" r="2.45"/><circle cx="171.5" cy="505.7" r="2.45"/><circle cx="172.0" cy="507.7" r="2.45"/><circle cx="173.2" cy="505.6" r="2.45"/><circle cx="174.2" cy="505.6" r="2.45"/><circle cx="175.1" cy="504.7" r="2.45"/><circle cx="175.8" cy="504.3" r="2.45"/><circle cx="176.9" cy="506.4" r="2.45"/><circle cx="177.7" cy="504.3" r="2.45"/><circle cx="178.6" cy="505.1" r="2.45"/><circle cx="179.6" cy="504.4" r="2.45"/><circle cx="180.6" cy="505.1" r="2.45"/><circle cx="181.1" cy="506.7" r="2.45"/><circle cx="182.0" cy="506.7" r="2.45"/><circle cx="182.9" cy="506.2" r="2.45"/><circle cx="183.8" cy="503.6" r="2.45"/></g>
<path d="M74.2,507.0 74.7,507.0 75.2,507.0 75.7,507.0 76.2,506.9 76.7,506.7 77.2,506.6 77.7,506.5 78.2,506.5 78.7,506.4 79.2,506.3 79.7,506.2 80.2,506.1 80.7,506.2 81.2,506.3 81.7,506.4 82.2,506.7 82.7,507.0 83.2,507.1 83.7,507.0 84.2,506.8 84.7,506.6 85.2,506.5 85.7,506.5 86.2,506.4 86.7,506.5 87.2,506.6 87.7,506.7 88.2,506.9 88.7,507.1 89.2,507.2 89.7,506.9 90.2,506.4 90.7,506.2 91.2,506.2 91.7,506.3 92.2,506.4 92.7,506.5 93.2,506.5 93.7,506.5 94.2,506.5 94.7,506.5 95.2,506.4 95.7,506.4 96.2,506.5 96.7,506.5 97.2,506.5 97.7,506.4 98.2,506.3 98.7,506.2 99.2,506.1 99.7,506.1 100.2,506.2 100.7,506.5 101.2,506.7 101.7,506.6 102.2,506.4 102.7,506.3 103.2,506.2 103.7,506.1 104.2,506.0 104.7,506.0 105.2,506.0 105.7,506.0 106.2,506.0 106.7,506.1 107.2,506.1 107.7,506.0 108.2,505.8 108.7,505.7 109.2,505.6 109.7,505.5 110.2,505.5 110.7,505.5 111.2,505.6 111.7,505.8 112.2,506.0 112.7,506.3 113.2,506.4 113.7,506.2 114.2,505.9 114.7,505.7 115.2,505.7 115.7,505.6 116.2,505.6 116.7,505.5 117.2,505.4 117.7,505.3 118.2,505.3 118.7,505.3 119.2,505.3 119.7,505.4 120.2,505.6 120.7,505.7 121.2,505.6 121.7,505.3 122.2,505.1 122.7,505.2 123.2,505.2 123.7,505.3 124.2,505.4 124.7,505.5 125.2,505.5 125.7,505.5 126.2,505.4 126.7,505.3 127.2,505.1 127.7,504.9 128.2,504.8 128.7,504.8 129.2,504.9 129.7,505.1 130.2,505.3 130.7,505.5 131.2,505.6 131.7,505.5 132.2,505.4 132.7,505.3 133.2,505.1 133.7,504.9 134.2,504.8 134.7,504.9 135.2,505.1 135.7,505.2 136.2,505.2 136.7,505.2 137.2,505.3 137.7,505.0 138.2,504.4 138.7,504.1 139.2,504.1 139.7,504.2 140.2,504.3 140.7,504.3 141.2,504.4 141.7,504.4 142.2,504.4 142.7,504.4 143.2,504.4 143.7,504.4 144.2,504.5 144.7,504.6 145.2,504.6 145.7,504.7 146.2,504.7 146.7,504.5 147.2,504.2 147.7,504.1 148.2,504.1 148.7,504.1 149.2,504.1 149.7,504.1 150.2,504.1 150.7,504.0 151.2,503.8 151.7,503.6 152.2,503.5 152.7,503.4 153.2,503.4 153.7,503.4 154.2,503.5 154.7,503.6 155.2,503.7 155.7,503.7 156.2,503.8 156.7,503.8 157.2,503.6 157.7,503.2 158.2,502.9 158.7,502.8 159.2,502.7 159.7,502.7 160.2,502.8 160.7,503.0 161.2,503.1 161.7,503.1 162.2,503.1 162.7,503.1 163.2,503.4 163.7,503.8 164.2,504.3 164.7,505.0 165.2,505.7 165.7,506.4 166.2,507.1 166.7,507.7 167.2,508.2 167.7,508.6 168.2,508.8 168.7,508.8 169.2,508.6 169.7,508.4 170.2,508.0 170.7,507.7 171.2,507.2 171.7,506.8 172.2,506.5 172.7,506.1 173.2,505.9 173.7,505.8 174.2,505.6 174.7,505.6 175.2,505.5 175.7,505.4 176.2,505.4 176.7,505.3 177.2,505.3 177.7,505.2 178.2,505.2 178.7,505.1 179.2,505.1 179.7,505.1 180.2,505.0 180.7,505.0 181.2,504.9 181.7,504.9 182.2,504.8 182.7,504.7 183.2,504.6 183.7,504.5 184.2,504.4 184.7,504.3 185.2,503.9 185.7,503.2 186.2,502.2 186.7,501.2 187.2,500.1 187.7,499.0 188.2,498.0 188.7,497.2 189.2,496.5 189.7,495.8 190.2,495.0 190.7,494.3 191.2,493.7 191.7,493.1 192.2,492.6 192.7,492.2 193.2,492.0 193.7,492.0 194.2,492.1 194.7,492.4 195.2,492.8 195.7,493.2 196.2,493.7 196.7,494.3 197.2,494.8 197.7,495.4 198.2,495.9 198.7,496.4 199.2,496.8 199.7,497.1 200.2,497.3 200.7,497.4 201.2,497.6 201.7,497.8 202.2,497.9 202.7,498.1 203.2,498.2 203.7,498.3 204.2,498.4 204.7,498.5 205.2,498.6 205.7,498.6 206.2,498.7 206.7,498.7 207.2,498.7 207.7,498.7 208.2,498.7 208.7,498.7 209.2,498.7 209.7,498.7 210.2,498.7 210.7,498.6 211.2,498.6 211.7,498.6 212.2,498.5 212.7,498.5 213.2,498.4 213.7,498.3 214.0,498.3 215.0,498.5 216.0,498.3 217.0,498.1 218.0,498.4 219.0,498.7 220.0,498.8 221.0,498.5 222.0,498.3 223.0,498.2 224.0,498.0 225.0,497.9 226.0,497.6 227.0,497.3 228.0,497.2 229.0,497.1 230.0,496.8 231.0,496.6 232.0,496.6 233.0,496.8 234.0,496.9 235.0,496.5 236.0,496.1 237.0,495.9 238.0,495.7 239.0,495.6 240.0,495.4 241.0,495.2 242.0,495.0 243.0,495.2 244.0,495.3 245.0,494.9 246.0,494.6 247.0,494.4 248.0,494.3 249.0,493.7 250.0,493.1 251.0,493.1 252.0,493.1 253.0,493.2 254.0,493.1 255.0,493.1 256.0,492.9 257.0,492.5 258.0,492.1 259.0,491.8 260.0,491.6 261.0,491.3 262.0,491.1 263.0,490.9 264.0,490.6 265.0,490.4 266.0,490.1 267.0,489.8 268.0,489.4 269.0,489.4 270.0,489.4 271.0,489.0 272.0,488.6 273.0,488.3 274.0,488.2 275.0,488.0 276.0,487.5 277.0,487.1 278.0,486.9 279.0,486.7 280.0,486.3 281.0,485.8 282.0,485.6 283.0,485.3 284.0,484.7 285.0,484.1 286.0,484.1 287.0,483.9 288.0,483.5 289.0,483.0 290.0,482.7 291.0,482.3 292.0,482.0 293.0,481.7 294.0,481.4 295.0,481.2 296.0,480.9 297.0,480.4 298.0,480.0 299.0,479.6 300.0,479.2 301.0,478.8 302.0,478.3 303.0,477.7 304.0,477.2 305.0,476.9 306.0,476.6 307.0,476.2 308.0,475.8 309.0,475.4 310.0,474.9 311.0,474.5 312.0,474.1 313.0,473.7 314.0,473.4 315.0,473.0 316.0,472.5 317.0,472.0 318.0,471.5 319.0,471.0 320.0,470.5 321.0,470.0 322.0,469.5 323.0,468.9 324.0,468.3 325.0,467.8 326.0,467.3 327.0,466.8 328.0,466.1 329.0,465.4 330.0,464.8 331.0,464.2 332.0,463.5 333.0,462.7 334.0,462.1 335.0,461.6 336.0,461.1 337.0,460.6 338.0,460.2 339.0,459.7 339.1,459.7" stroke="#ee2a24" stroke-width="1.5" fill="none" stroke-linejoin="round"/>
<path d="M74.20,307.20V521.35M66.60,513.75H339.10M66.60,513.75H74.20M66.60,462.11H74.20M66.60,410.48H74.20M66.60,358.84H74.20M66.60,307.20H74.20M162.50,513.75V521.35M250.80,513.75V521.35M339.10,513.75V521.35" stroke="#231f20" stroke-width="1.25" fill="none"/>
<g font-family="Liberation Sans, sans-serif" font-size="14" fill="#3a3a3a"><text x="65.20" y="518.75" text-anchor="end" font-size="14.5">0</text><text x="65.20" y="467.11" text-anchor="end" font-size="14.5">2000</text><text x="65.20" y="415.48" text-anchor="end" font-size="14.5">4000</text><text x="65.20" y="363.84" text-anchor="end" font-size="14.5">6000</text><text x="65.20" y="312.20" text-anchor="end" font-size="14.5">8000</text><text x="74.20" y="535.15" text-anchor="middle" font-size="14.5">2015</text><text x="162.50" y="535.15" text-anchor="middle" font-size="14.5">2020</text><text x="250.80" y="535.15" text-anchor="middle" font-size="14.5">2025</text><text x="339.10" y="535.15" text-anchor="middle" font-size="14.5">2030</text><text transform="translate(11.2,410.48) rotate(-90)" x="0" y="0" text-anchor="middle" textLength="99" lengthAdjust="spacingAndGlyphs">Cases diagnosed</text></g>
<text x="66.30" y="287.60" font-family="Liberation Sans, sans-serif" font-size="17.5" fill="#231f20" text-anchor="end" stroke="#231f20" stroke-width="0.55">C</text>
<text x="74.50" y="287.60" font-family="Liberation Sans, sans-serif" font-size="14" fill="#231f20" stroke="#231f20" stroke-width="0.4" textLength="64" lengthAdjust="spacingAndGlyphs">Colorectal</text>
<clipPath id="cs3"><path d="M422.9,486.3 423.9,485.9 424.2,485.7 424.5,485.7 424.9,485.8 425.9,486.1 426.1,486.2 426.9,486.0 427.0,486.0 427.9,485.6 428.9,485.3 428.9,485.3 429.4,485.5 429.9,485.7 430.9,486.0 431.9,486.3 432.2,486.3 432.6,486.2 432.9,486.1 433.9,485.9 434.7,485.6 434.9,485.6 434.9,485.6 435.9,485.8 436.7,486.1 436.9,486.2 437.9,486.1 438.2,486.0 438.9,485.8 439.9,485.6 440.1,485.5 440.9,485.7 441.4,485.8 441.9,485.9 442.9,486.0 443.1,486.0 443.9,485.8 444.7,485.5 444.9,485.4 445.2,485.3 445.9,485.4 446.9,485.4 447.0,485.4 447.9,485.4 448.3,485.4 448.9,485.3 449.9,485.3 450.2,485.3 450.7,485.3 450.9,485.2 451.9,485.1 452.1,485.0 452.8,484.9 452.9,484.9 453.9,485.0 454.9,485.0 455.1,485.0 455.4,484.8 455.9,484.8 456.9,484.9 457.6,485.1 457.7,485.2 457.9,485.1 458.9,484.9 459.6,484.7 459.9,484.6 460.2,484.5 460.9,484.5 461.9,484.5 462.6,484.4 462.7,484.4 462.9,484.3 463.9,484.1 464.8,483.8 464.9,483.8 465.9,484.1 466.0,484.1 466.9,484.2 467.1,484.2 467.9,484.0 468.7,483.9 468.9,483.8 469.2,483.7 469.9,483.8 470.9,483.8 471.7,483.7 471.9,483.6 471.9,483.6 472.9,482.9 473.9,483.2 474.4,482.9 474.9,482.8 475.0,482.8 475.9,483.0 476.9,483.5 476.9,483.5 477.8,483.2 477.9,483.1 478.9,482.7 479.2,482.5 479.9,482.6 480.4,482.7 480.9,482.9 481.8,483.1 481.9,483.0 482.2,482.8 482.9,482.4 483.9,482.2 484.4,482.2 484.9,482.3 485.3,482.3 485.9,482.3 486.6,482.4 486.9,482.3 487.9,482.0 488.3,481.9 488.9,481.7 489.4,481.6 489.9,481.7 490.9,482.0 490.9,482.0 491.6,482.0 491.9,481.9 492.9,481.4 493.9,481.2 494.3,481.1 494.9,481.0 495.1,481.0 495.9,481.1 496.9,481.2 497.7,481.3 497.9,481.4 498.3,481.4 498.9,481.2 499.9,480.9 500.7,480.7 500.9,480.6 501.6,480.4 501.9,480.4 502.9,480.4 503.9,480.4 503.9,480.4 503.9,480.4 504.9,480.2 505.9,479.7 506.1,479.6 506.4,479.5 506.9,479.6 507.9,480.0 508.2,479.9 508.9,479.9 509.2,479.9 509.9,479.3 510.3,479.4 510.9,479.5 511.8,479.2 511.9,479.2 512.9,479.2 513.7,479.2 513.8,479.6 513.9,479.9 514.9,481.6 515.0,481.8 515.9,483.7 516.7,485.2 516.9,485.6 517.0,485.8 517.3,486.7 517.9,488.3 518.9,491.6 519.1,492.2 519.9,495.1 519.9,495.2 520.8,497.3 520.9,497.1 521.9,496.2 522.2,496.0 522.5,495.9 522.9,495.7 523.9,494.3 524.5,493.4 524.8,493.1 524.9,493.0 525.9,491.9 526.8,490.6 526.9,490.4 527.0,490.3 527.9,490.1 527.9,490.1 528.9,489.3 529.4,488.2 529.9,487.3 530.2,487.1 530.9,486.9 531.9,485.7 532.5,484.9 532.9,484.6 533.7,485.1 533.9,485.3 534.8,484.2 534.9,483.9 535.0,483.5 535.9,480.2 536.0,479.9 536.1,479.5 536.9,476.8 536.9,476.7 537.3,475.4 537.9,470.0 538.1,468.1 538.9,460.8 539.9,451.6 540.0,451.0 540.9,442.6 541.2,440.2 541.2,440.0 541.9,437.3 542.4,435.3 542.9,433.6 543.9,429.9 544.4,428.1 544.7,427.1 544.9,426.3 545.2,425.1 545.9,421.8 546.3,419.9 546.9,417.1 547.3,415.3 547.3,415.2 547.5,417.1 547.9,420.4 548.9,429.9 549.5,436.2 549.9,440.2 550.1,442.3 550.5,444.9 550.9,447.2 551.9,452.9 551.9,453.0 552.0,453.6 552.9,457.6 553.8,461.9 553.9,462.2 553.9,462.4 554.9,462.9 555.9,463.2 556.6,463.4 556.8,463.4 556.9,463.5 557.9,464.5 558.9,465.9 559.2,466.1 559.9,466.5 560.1,466.5 560.9,466.2 561.6,466.1 561.9,465.9 562.6,465.4 562.9,465.4 563.1,465.5 563.9,466.0 564.9,466.0 565.7,465.8 565.9,465.8 566.2,465.7 566.9,465.7 567.9,465.8 568.1,465.8 568.9,465.9 569.4,465.7 569.9,465.5 569.9,465.6 570.9,466.4 571.9,466.0 572.5,465.5 572.7,465.3 572.9,465.2 573.9,465.5 574.9,466.2 575.0,466.3 575.1,465.4 575.9,465.4 575.9,465.4 576.9,465.4 577.9,465.3 578.3,465.2 578.9,464.9 579.1,464.8 579.9,464.4 580.9,463.9 581.0,463.9 581.8,463.7 581.9,463.7 582.9,463.4 583.9,462.7 584.1,462.5 584.5,462.2 584.9,462.1 585.9,462.0 586.7,461.5 586.9,461.4 587.3,461.1 587.9,461.0 588.9,460.9 589.0,460.9 589.8,460.4 589.9,460.3 590.9,459.0 591.7,458.4 591.9,458.5 592.5,458.7 592.9,458.8 593.9,458.7 594.3,458.7 594.9,458.1 594.9,458.1 595.9,457.4 596.5,457.1 596.9,457.2 597.0,457.2 597.9,457.1 598.9,456.9 599.0,456.8 599.9,456.0 600.9,455.5 601.9,455.1 602.0,455.0 602.2,454.8 602.9,454.6 603.9,454.2 604.6,454.2 604.9,454.1 605.0,454.0 605.9,453.6 606.9,452.5 607.1,452.3 607.9,451.7 607.9,451.7 608.9,452.1 609.7,451.6 609.9,451.3 610.9,449.8 610.9,449.8 611.9,449.0 612.8,449.0 612.9,449.0 613.9,449.0 614.9,448.9 615.4,448.7 615.9,448.2 616.2,447.9 616.9,447.2 617.9,446.3 618.9,445.3 618.9,445.3 619.0,445.1 619.9,444.3 620.9,443.5 621.9,443.3 622.3,443.2 622.9,442.6 623.9,441.6 624.2,441.3 624.9,440.7 625.5,440.1 625.9,439.7 626.3,439.4 626.9,438.8 627.9,438.2 628.7,437.8 628.8,437.7 628.9,437.6 629.9,435.7 630.8,434.5 630.9,434.4 631.1,434.3 631.9,433.9 632.9,432.8 633.5,432.4 633.9,432.2 633.9,432.2 634.9,430.9 635.9,429.1 636.6,427.9 636.6,427.8 636.9,427.7 637.9,427.2 638.4,427.0 638.6,426.9 638.9,426.6 639.9,425.4 640.5,424.6 640.9,424.0 641.2,423.7 641.9,423.3 642.6,423.0 642.9,422.9 643.2,422.8 643.9,421.5 644.9,419.7 645.0,419.6 645.2,419.4 645.9,419.2 646.9,418.9 647.0,418.9 647.2,418.9 647.9,418.1 648.9,416.5 649.1,416.1 649.2,416.0 649.9,415.4 650.9,414.5 651.6,414.2 651.9,413.7 652.0,413.5 652.9,412.2 653.9,410.2 654.1,409.7 654.9,408.1 655.0,407.9 655.9,406.8 656.6,405.9 656.9,405.7 657.9,404.6 658.3,404.2 658.9,403.2 659.9,401.2 660.0,400.9 660.9,399.2 661.7,398.0 661.9,397.7 662.6,396.2 662.9,395.7 663.9,393.8 664.9,392.5 664.9,392.4 665.5,391.3 665.9,390.4 666.9,388.2 667.3,387.3 667.9,386.4 668.1,386.1 668.9,384.9 669.9,383.2 670.2,382.8 670.3,382.6 670.9,381.4 671.9,379.2 672.9,376.7 673.1,376.0 673.6,374.7 673.9,374.2 674.9,372.5 675.9,371.0 676.2,370.6 676.7,369.3 676.9,368.5 677.9,366.0 678.9,364.5 679.3,364.0 679.9,362.5 680.0,362.3 680.9,360.7 681.9,358.3 682.0,358.2 682.1,357.8 682.9,355.0 683.9,353.3 684.7,352.1 684.9,351.7 685.0,351.4 685.9,349.6 686.9,347.9 686.9,347.9 687.9,346.3 688.5,345.0 688.9,343.8 689.9,340.7 690.3,339.6 690.9,338.9 691.8,337.9 691.9,337.8 692.2,337.5 692.9,335.9 693.8,333.7 693.9,333.4 694.9,330.2 695.5,328.2 695.9,327.0 696.0,327.0 696.6,326.8 696.6,463.8 696.0,463.7 695.9,463.7 695.5,463.8 694.9,463.9 693.9,464.2 693.8,464.2 692.9,464.1 692.2,464.0 691.9,464.0 691.8,464.0 690.9,464.4 690.3,464.6 689.9,464.7 688.9,464.9 688.5,464.8 687.9,464.6 686.9,464.4 686.9,464.4 685.9,464.9 685.0,465.3 684.9,465.4 684.7,465.4 683.9,465.1 682.9,465.1 682.1,465.2 682.0,465.2 681.9,465.3 680.9,465.9 680.0,466.2 679.9,466.2 679.3,466.5 678.9,466.3 677.9,465.8 676.9,465.5 676.7,465.5 676.2,465.5 675.9,465.6 674.9,465.9 673.9,466.2 673.6,466.2 673.1,466.4 672.9,466.4 671.9,466.3 670.9,466.2 670.3,466.2 670.2,466.2 669.9,466.3 668.9,466.8 668.1,467.2 667.9,467.2 667.3,467.3 666.9,467.4 665.9,467.3 665.5,467.2 664.9,467.3 664.9,467.3 663.9,467.4 662.9,467.7 662.6,467.8 661.9,467.8 661.7,467.8 660.9,467.8 660.0,467.7 659.9,467.7 658.9,467.8 658.3,468.1 657.9,468.2 656.9,468.6 656.6,468.7 655.9,468.7 655.0,468.6 654.9,468.6 654.1,468.6 653.9,468.7 652.9,469.2 652.0,469.6 651.9,469.6 651.6,469.6 650.9,469.6 649.9,469.5 649.2,469.5 649.1,469.6 648.9,469.7 647.9,470.2 647.2,470.4 647.0,470.5 646.9,470.5 645.9,470.6 645.2,470.6 645.0,470.6 644.9,470.7 643.9,471.2 643.2,471.5 642.9,471.7 642.6,471.8 641.9,471.8 641.2,471.9 640.9,471.9 640.5,471.9 639.9,472.0 638.9,472.1 638.6,472.2 638.4,472.2 637.9,472.2 636.9,472.2 636.6,472.2 636.6,472.2 635.9,472.4 634.9,472.6 633.9,472.8 633.9,472.8 633.5,472.9 632.9,472.9 631.9,473.1 631.1,473.3 630.9,473.4 630.8,473.4 629.9,473.8 628.9,474.2 628.8,474.2 628.7,474.2 627.9,473.9 626.9,473.4 626.3,473.3 625.9,473.7 625.5,474.0 624.9,474.2 624.2,474.3 623.9,474.2 622.9,473.7 622.3,473.6 621.9,473.7 620.9,473.9 619.9,474.2 619.0,474.3 618.9,474.3 618.9,474.3 617.9,474.1 616.9,474.1 616.2,474.0 615.9,474.1 615.4,474.3 614.9,474.5 613.9,474.8 612.9,475.0 612.8,475.0 611.9,474.9 610.9,474.8 610.9,474.8 609.9,475.2 609.7,475.3 608.9,475.5 607.9,475.8 607.9,475.9 607.1,475.7 606.9,475.6 605.9,475.2 605.0,475.0 604.9,475.1 604.6,475.2 603.9,475.5 602.9,475.7 602.2,475.8 602.0,475.9 601.9,475.9 600.9,475.8 599.9,475.6 599.0,475.6 598.9,475.6 597.9,475.7 597.0,475.9 596.9,475.9 596.5,475.9 595.9,475.9 594.9,475.8 594.9,475.8 594.3,476.0 593.9,476.1 592.9,476.3 592.5,476.4 591.9,476.4 591.7,476.4 590.9,476.4 589.9,476.3 589.8,476.3 589.0,476.3 588.9,476.3 587.9,476.5 587.3,476.7 586.9,476.8 586.7,477.0 585.9,477.3 584.9,477.0 584.5,476.9 584.1,477.0 583.9,477.1 582.9,477.4 581.9,478.1 581.8,478.3 581.0,478.2 580.9,478.2 579.9,477.8 579.1,477.5 578.9,477.6 578.3,477.7 577.9,477.8 576.9,478.1 575.9,478.4 575.9,478.4 575.1,478.7 575.0,477.4 574.9,477.3 573.9,477.7 572.9,478.0 572.7,478.0 572.5,477.9 571.9,477.9 570.9,477.9 569.9,477.8 569.9,477.8 569.4,477.8 568.9,477.9 568.1,478.0 567.9,478.0 566.9,477.5 566.2,477.1 565.9,477.4 565.7,477.8 564.9,479.0 563.9,478.4 563.1,477.7 562.9,477.7 562.6,477.7 561.9,477.6 561.6,477.6 560.9,478.1 560.1,478.6 559.9,478.6 559.2,478.4 558.9,478.4 557.9,478.0 556.9,477.4 556.8,477.4 556.6,477.3 555.9,477.0 554.9,478.8 553.9,477.8 553.9,477.8 553.8,477.7 552.9,477.7 552.0,478.1 551.9,478.1 551.9,478.1 550.9,478.9 550.5,478.9 550.1,478.7 549.9,478.6 549.5,478.4 548.9,479.1 547.9,479.7 547.5,479.6 547.3,479.6 547.3,479.6 546.9,479.5 546.3,479.3 545.9,482.4 545.2,487.8 544.9,490.2 544.7,491.9 544.4,494.1 543.9,493.5 542.9,492.6 542.4,492.7 541.9,492.9 541.2,492.0 541.2,492.0 540.9,491.5 540.0,490.0 539.9,490.0 538.9,489.6 538.1,489.3 537.9,489.3 537.3,489.1 536.9,488.9 536.9,488.9 536.1,488.3 536.0,488.6 535.9,488.9 535.0,491.2 534.9,491.5 534.8,491.7 533.9,492.5 533.7,492.7 532.9,493.3 532.5,493.6 531.9,494.0 530.9,494.2 530.2,494.1 529.9,494.6 529.4,495.3 528.9,495.9 527.9,497.3 527.9,497.4 527.0,498.3 526.9,498.5 526.8,498.6 525.9,499.6 524.9,500.8 524.8,500.9 524.5,501.2 523.9,501.9 522.9,502.9 522.5,503.3 522.2,503.7 521.9,504.0 520.9,504.6 520.8,504.7 519.9,501.9 519.9,501.9 519.1,499.7 518.9,499.2 517.9,496.5 517.3,495.0 517.0,494.2 516.9,494.0 516.7,493.4 515.9,491.4 515.0,488.9 514.9,488.7 513.9,486.3 513.8,486.0 513.7,485.8 512.9,485.8 511.9,485.8 511.8,485.7 510.9,485.6 510.3,485.6 509.9,485.7 509.2,486.0 508.9,486.0 508.2,486.2 507.9,486.2 506.9,486.0 506.4,485.9 506.1,485.9 505.9,485.9 504.9,486.3 503.9,486.6 503.9,486.6 503.9,486.6 502.9,486.7 501.9,486.9 501.6,487.0 500.9,487.2 500.7,487.2 499.9,487.3 498.9,487.3 498.3,487.5 497.9,487.6 497.7,487.7 496.9,487.7 495.9,487.4 495.1,487.4 494.9,487.4 494.3,487.4 493.9,487.5 492.9,487.7 491.9,488.2 491.6,488.4 490.9,488.9 490.9,488.9 489.9,488.5 489.4,488.3 488.9,488.0 488.3,487.9 487.9,488.1 486.9,488.4 486.6,488.5 485.9,488.6 485.3,488.8 484.9,488.7 484.4,488.8 483.9,489.0 482.9,489.0 482.2,488.5 481.9,488.7 481.8,488.8 480.9,489.7 480.4,490.0 479.9,489.8 479.2,489.5 478.9,489.3 477.9,489.1 477.8,489.1 476.9,489.4 476.9,489.4 475.9,489.9 475.0,490.3 474.9,490.3 474.4,490.3 473.9,490.0 472.9,489.6 471.9,489.6 471.9,489.6 471.7,489.7 470.9,489.9 469.9,490.2 469.2,490.5 468.9,490.6 468.7,490.7 467.9,490.7 467.1,490.5 466.9,490.5 466.0,490.3 465.9,490.4 464.9,491.0 464.8,491.0 463.9,491.1 462.9,491.3 462.7,491.4 462.6,491.4 461.9,491.3 460.9,491.1 460.2,491.2 459.9,491.2 459.6,491.2 458.9,491.3 457.9,491.8 457.7,492.0 457.6,492.1 456.9,492.3 455.9,492.0 455.4,491.8 455.1,491.7 454.9,491.8 453.9,492.0 452.9,492.3 452.8,492.3 452.1,492.4 451.9,492.3 450.9,492.1 450.7,492.1 450.2,492.0 449.9,492.1 448.9,492.4 448.3,492.5 447.9,492.5 447.0,492.5 446.9,492.5 445.9,492.6 445.2,492.7 444.9,492.7 444.7,492.7 443.9,492.9 443.1,493.1 442.9,493.1 441.9,493.4 441.4,493.5 440.9,493.4 440.1,493.2 439.9,493.2 438.9,493.4 438.2,493.6 437.9,493.7 436.9,493.9 436.7,494.0 435.9,494.1 434.9,494.4 434.9,494.4 434.7,494.5 433.9,494.2 432.9,493.9 432.6,493.8 432.2,493.8 431.9,493.9 430.9,494.0 429.9,494.3 429.4,494.5 428.9,494.5 428.9,494.5 427.9,494.5 427.0,494.4 426.9,494.4 426.1,494.5 425.9,494.5 424.9,494.6 424.5,494.7 424.2,494.7 423.9,494.7 422.9,495.2Z"/></clipPath>
<path d="M422.9,486.3 423.9,485.9 424.2,485.7 424.5,485.7 424.9,485.8 425.9,486.1 426.1,486.2 426.9,486.0 427.0,486.0 427.9,485.6 428.9,485.3 428.9,485.3 429.4,485.5 429.9,485.7 430.9,486.0 431.9,486.3 432.2,486.3 432.6,486.2 432.9,486.1 433.9,485.9 434.7,485.6 434.9,485.6 434.9,485.6 435.9,485.8 436.7,486.1 436.9,486.2 437.9,486.1 438.2,486.0 438.9,485.8 439.9,485.6 440.1,485.5 440.9,485.7 441.4,485.8 441.9,485.9 442.9,486.0 443.1,486.0 443.9,485.8 444.7,485.5 444.9,485.4 445.2,485.3 445.9,485.4 446.9,485.4 447.0,485.4 447.9,485.4 448.3,485.4 448.9,485.3 449.9,485.3 450.2,485.3 450.7,485.3 450.9,485.2 451.9,485.1 452.1,485.0 452.8,484.9 452.9,484.9 453.9,485.0 454.9,485.0 455.1,485.0 455.4,484.8 455.9,484.8 456.9,484.9 457.6,485.1 457.7,485.2 457.9,485.1 458.9,484.9 459.6,484.7 459.9,484.6 460.2,484.5 460.9,484.5 461.9,484.5 462.6,484.4 462.7,484.4 462.9,484.3 463.9,484.1 464.8,483.8 464.9,483.8 465.9,484.1 466.0,484.1 466.9,484.2 467.1,484.2 467.9,484.0 468.7,483.9 468.9,483.8 469.2,483.7 469.9,483.8 470.9,483.8 471.7,483.7 471.9,483.6 471.9,483.6 472.9,482.9 473.9,483.2 474.4,482.9 474.9,482.8 475.0,482.8 475.9,483.0 476.9,483.5 476.9,483.5 477.8,483.2 477.9,483.1 478.9,482.7 479.2,482.5 479.9,482.6 480.4,482.7 480.9,482.9 481.8,483.1 481.9,483.0 482.2,482.8 482.9,482.4 483.9,482.2 484.4,482.2 484.9,482.3 485.3,482.3 485.9,482.3 486.6,482.4 486.9,482.3 487.9,482.0 488.3,481.9 488.9,481.7 489.4,481.6 489.9,481.7 490.9,482.0 490.9,482.0 491.6,482.0 491.9,481.9 492.9,481.4 493.9,481.2 494.3,481.1 494.9,481.0 495.1,481.0 495.9,481.1 496.9,481.2 497.7,481.3 497.9,481.4 498.3,481.4 498.9,481.2 499.9,480.9 500.7,480.7 500.9,480.6 501.6,480.4 501.9,480.4 502.9,480.4 503.9,480.4 503.9,480.4 503.9,480.4 504.9,480.2 505.9,479.7 506.1,479.6 506.4,479.5 506.9,479.6 507.9,480.0 508.2,479.9 508.9,479.9 509.2,479.9 509.9,479.3 510.3,479.4 510.9,479.5 511.8,479.2 511.9,479.2 512.9,479.2 513.7,479.2 513.8,479.6 513.9,479.9 514.9,481.6 515.0,481.8 515.9,483.7 516.7,485.2 516.9,485.6 517.0,485.8 517.3,486.7 517.9,488.3 518.9,491.6 519.1,492.2 519.9,495.1 519.9,495.2 520.8,497.3 520.9,497.1 521.9,496.2 522.2,496.0 522.5,495.9 522.9,495.7 523.9,494.3 524.5,493.4 524.8,493.1 524.9,493.0 525.9,491.9 526.8,490.6 526.9,490.4 527.0,490.3 527.9,490.1 527.9,490.1 528.9,489.3 529.4,488.2 529.9,487.3 530.2,487.1 530.9,486.9 531.9,485.7 532.5,484.9 532.9,484.6 533.7,485.1 533.9,485.3 534.8,484.2 534.9,483.9 535.0,483.5 535.9,480.2 536.0,479.9 536.1,479.5 536.9,476.8 536.9,476.7 537.3,475.4 537.9,470.0 538.1,468.1 538.9,460.8 539.9,451.6 540.0,451.0 540.9,442.6 541.2,440.2 541.2,440.0 541.9,437.3 542.4,435.3 542.9,433.6 543.9,429.9 544.4,428.1 544.7,427.1 544.9,426.3 545.2,425.1 545.9,421.8 546.3,419.9 546.9,417.1 547.3,415.3 547.3,415.2 547.5,417.1 547.9,420.4 548.9,429.9 549.5,436.2 549.9,440.2 550.1,442.3 550.5,444.9 550.9,447.2 551.9,452.9 551.9,453.0 552.0,453.6 552.9,457.6 553.8,461.9 553.9,462.2 553.9,462.4 554.9,462.9 555.9,463.2 556.6,463.4 556.8,463.4 556.9,463.5 557.9,464.5 558.9,465.9 559.2,466.1 559.9,466.5 560.1,466.5 560.9,466.2 561.6,466.1 561.9,465.9 562.6,465.4 562.9,465.4 563.1,465.5 563.9,466.0 564.9,466.0 565.7,465.8 565.9,465.8 566.2,465.7 566.9,465.7 567.9,465.8 568.1,465.8 568.9,465.9 569.4,465.7 569.9,465.5 569.9,465.6 570.9,466.4 571.9,466.0 572.5,465.5 572.7,465.3 572.9,465.2 573.9,465.5 574.9,466.2 575.0,466.3 575.1,465.4 575.9,465.4 575.9,465.4 576.9,465.4 577.9,465.3 578.3,465.2 578.9,464.9 579.1,464.8 579.9,464.4 580.9,463.9 581.0,463.9 581.8,463.7 581.9,463.7 582.9,463.4 583.9,462.7 584.1,462.5 584.5,462.2 584.9,462.1 585.9,462.0 586.7,461.5 586.9,461.4 587.3,461.1 587.9,461.0 588.9,460.9 589.0,460.9 589.8,460.4 589.9,460.3 590.9,459.0 591.7,458.4 591.9,458.5 592.5,458.7 592.9,458.8 593.9,458.7 594.3,458.7 594.9,458.1 594.9,458.1 595.9,457.4 596.5,457.1 596.9,457.2 597.0,457.2 597.9,457.1 598.9,456.9 599.0,456.8 599.9,456.0 600.9,455.5 601.9,455.1 602.0,455.0 602.2,454.8 602.9,454.6 603.9,454.2 604.6,454.2 604.9,454.1 605.0,454.0 605.9,453.6 606.9,452.5 607.1,452.3 607.9,451.7 607.9,451.7 608.9,452.1 609.7,451.6 609.9,451.3 610.9,449.8 610.9,449.8 611.9,449.0 612.8,449.0 612.9,449.0 613.9,449.0 614.9,448.9 615.4,448.7 615.9,448.2 616.2,447.9 616.9,447.2 617.9,446.3 618.9,445.3 618.9,445.3 619.0,445.1 619.9,444.3 620.9,443.5 621.9,443.3 622.3,443.2 622.9,442.6 623.9,441.6 624.2,441.3 624.9,440.7 625.5,440.1 625.9,439.7 626.3,439.4 626.9,438.8 627.9,438.2 628.7,437.8 628.8,437.7 628.9,437.6 629.9,435.7 630.8,434.5 630.9,434.4 631.1,434.3 631.9,433.9 632.9,432.8 633.5,432.4 633.9,432.2 633.9,432.2 634.9,430.9 635.9,429.1 636.6,427.9 636.6,427.8 636.9,427.7 637.9,427.2 638.4,427.0 638.6,426.9 638.9,426.6 639.9,425.4 640.5,424.6 640.9,424.0 641.2,423.7 641.9,423.3 642.6,423.0 642.9,422.9 643.2,422.8 643.9,421.5 644.9,419.7 645.0,419.6 645.2,419.4 645.9,419.2 646.9,418.9 647.0,418.9 647.2,418.9 647.9,418.1 648.9,416.5 649.1,416.1 649.2,416.0 649.9,415.4 650.9,414.5 651.6,414.2 651.9,413.7 652.0,413.5 652.9,412.2 653.9,410.2 654.1,409.7 654.9,408.1 655.0,407.9 655.9,406.8 656.6,405.9 656.9,405.7 657.9,404.6 658.3,404.2 658.9,403.2 659.9,401.2 660.0,400.9 660.9,399.2 661.7,398.0 661.9,397.7 662.6,396.2 662.9,395.7 663.9,393.8 664.9,392.5 664.9,392.4 665.5,391.3 665.9,390.4 666.9,388.2 667.3,387.3 667.9,386.4 668.1,386.1 668.9,384.9 669.9,383.2 670.2,382.8 670.3,382.6 670.9,381.4 671.9,379.2 672.9,376.7 673.1,376.0 673.6,374.7 673.9,374.2 674.9,372.5 675.9,371.0 676.2,370.6 676.7,369.3 676.9,368.5 677.9,366.0 678.9,364.5 679.3,364.0 679.9,362.5 680.0,362.3 680.9,360.7 681.9,358.3 682.0,358.2 682.1,357.8 682.9,355.0 683.9,353.3 684.7,352.1 684.9,351.7 685.0,351.4 685.9,349.6 686.9,347.9 686.9,347.9 687.9,346.3 688.5,345.0 688.9,343.8 689.9,340.7 690.3,339.6 690.9,338.9 691.8,337.9 691.9,337.8 692.2,337.5 692.9,335.9 693.8,333.7 693.9,333.4 694.9,330.2 695.5,328.2 695.9,327.0 696.0,327.0 696.6,326.8 696.6,463.8 696.0,463.7 695.9,463.7 695.5,463.8 694.9,463.9 693.9,464.2 693.8,464.2 692.9,464.1 692.2,464.0 691.9,464.0 691.8,464.0 690.9,464.4 690.3,464.6 689.9,464.7 688.9,464.9 688.5,464.8 687.9,464.6 686.9,464.4 686.9,464.4 685.9,464.9 685.0,465.3 684.9,465.4 684.7,465.4 683.9,465.1 682.9,465.1 682.1,465.2 682.0,465.2 681.9,465.3 680.9,465.9 680.0,466.2 679.9,466.2 679.3,466.5 678.9,466.3 677.9,465.8 676.9,465.5 676.7,465.5 676.2,465.5 675.9,465.6 674.9,465.9 673.9,466.2 673.6,466.2 673.1,466.4 672.9,466.4 671.9,466.3 670.9,466.2 670.3,466.2 670.2,466.2 669.9,466.3 668.9,466.8 668.1,467.2 667.9,467.2 667.3,467.3 666.9,467.4 665.9,467.3 665.5,467.2 664.9,467.3 664.9,467.3 663.9,467.4 662.9,467.7 662.6,467.8 661.9,467.8 661.7,467.8 660.9,467.8 660.0,467.7 659.9,467.7 658.9,467.8 658.3,468.1 657.9,468.2 656.9,468.6 656.6,468.7 655.9,468.7 655.0,468.6 654.9,468.6 654.1,468.6 653.9,468.7 652.9,469.2 652.0,469.6 651.9,469.6 651.6,469.6 650.9,469.6 649.9,469.5 649.2,469.5 649.1,469.6 648.9,469.7 647.9,470.2 647.2,470.4 647.0,470.5 646.9,470.5 645.9,470.6 645.2,470.6 645.0,470.6 644.9,470.7 643.9,471.2 643.2,471.5 642.9,471.7 642.6,471.8 641.9,471.8 641.2,471.9 640.9,471.9 640.5,471.9 639.9,472.0 638.9,472.1 638.6,472.2 638.4,472.2 637.9,472.2 636.9,472.2 636.6,472.2 636.6,472.2 635.9,472.4 634.9,472.6 633.9,472.8 633.9,472.8 633.5,472.9 632.9,472.9 631.9,473.1 631.1,473.3 630.9,473.4 630.8,473.4 629.9,473.8 628.9,474.2 628.8,474.2 628.7,474.2 627.9,473.9 626.9,473.4 626.3,473.3 625.9,473.7 625.5,474.0 624.9,474.2 624.2,474.3 623.9,474.2 622.9,473.7 622.3,473.6 621.9,473.7 620.9,473.9 619.9,474.2 619.0,474.3 618.9,474.3 618.9,474.3 617.9,474.1 616.9,474.1 616.2,474.0 615.9,474.1 615.4,474.3 614.9,474.5 613.9,474.8 612.9,475.0 612.8,475.0 611.9,474.9 610.9,474.8 610.9,474.8 609.9,475.2 609.7,475.3 608.9,475.5 607.9,475.8 607.9,475.9 607.1,475.7 606.9,475.6 605.9,475.2 605.0,475.0 604.9,475.1 604.6,475.2 603.9,475.5 602.9,475.7 602.2,475.8 602.0,475.9 601.9,475.9 600.9,475.8 599.9,475.6 599.0,475.6 598.9,475.6 597.9,475.7 597.0,475.9 596.9,475.9 596.5,475.9 595.9,475.9 594.9,475.8 594.9,475.8 594.3,476.0 593.9,476.1 592.9,476.3 592.5,476.4 591.9,476.4 591.7,476.4 590.9,476.4 589.9,476.3 589.8,476.3 589.0,476.3 588.9,476.3 587.9,476.5 587.3,476.7 586.9,476.8 586.7,477.0 585.9,477.3 584.9,477.0 584.5,476.9 584.1,477.0 583.9,477.1 582.9,477.4 581.9,478.1 581.8,478.3 581.0,478.2 580.9,478.2 579.9,477.8 579.1,477.5 578.9,477.6 578.3,477.7 577.9,477.8 576.9,478.1 575.9,478.4 575.9,478.4 575.1,478.7 575.0,477.4 574.9,477.3 573.9,477.7 572.9,478.0 572.7,478.0 572.5,477.9 571.9,477.9 570.9,477.9 569.9,477.8 569.9,477.8 569.4,477.8 568.9,477.9 568.1,478.0 567.9,478.0 566.9,477.5 566.2,477.1 565.9,477.4 565.7,477.8 564.9,479.0 563.9,478.4 563.1,477.7 562.9,477.7 562.6,477.7 561.9,477.6 561.6,477.6 560.9,478.1 560.1,478.6 559.9,478.6 559.2,478.4 558.9,478.4 557.9,478.0 556.9,477.4 556.8,477.4 556.6,477.3 555.9,477.0 554.9,478.8 553.9,477.8 553.9,477.8 553.8,477.7 552.9,477.7 552.0,478.1 551.9,478.1 551.9,478.1 550.9,478.9 550.5,478.9 550.1,478.7 549.9,478.6 549.5,478.4 548.9,479.1 547.9,479.7 547.5,479.6 547.3,479.6 547.3,479.6 546.9,479.5 546.3,479.3 545.9,482.4 545.2,487.8 544.9,490.2 544.7,491.9 544.4,494.1 543.9,493.5 542.9,492.6 542.4,492.7 541.9,492.9 541.2,492.0 541.2,492.0 540.9,491.5 540.0,490.0 539.9,490.0 538.9,489.6 538.1,489.3 537.9,489.3 537.3,489.1 536.9,488.9 536.9,488.9 536.1,488.3 536.0,488.6 535.9,488.9 535.0,491.2 534.9,491.5 534.8,491.7 533.9,492.5 533.7,492.7 532.9,493.3 532.5,493.6 531.9,494.0 530.9,494.2 530.2,494.1 529.9,494.6 529.4,495.3 528.9,495.9 527.9,497.3 527.9,497.4 527.0,498.3 526.9,498.5 526.8,498.6 525.9,499.6 524.9,500.8 524.8,500.9 524.5,501.2 523.9,501.9 522.9,502.9 522.5,503.3 522.2,503.7 521.9,504.0 520.9,504.6 520.8,504.7 519.9,501.9 519.9,501.9 519.1,499.7 518.9,499.2 517.9,496.5 517.3,495.0 517.0,494.2 516.9,494.0 516.7,493.4 515.9,491.4 515.0,488.9 514.9,488.7 513.9,486.3 513.8,486.0 513.7,485.8 512.9,485.8 511.9,485.8 511.8,485.7 510.9,485.6 510.3,485.6 509.9,485.7 509.2,486.0 508.9,486.0 508.2,486.2 507.9,486.2 506.9,486.0 506.4,485.9 506.1,485.9 505.9,485.9 504.9,486.3 503.9,486.6 503.9,486.6 503.9,486.6 502.9,486.7 501.9,486.9 501.6,487.0 500.9,487.2 500.7,487.2 499.9,487.3 498.9,487.3 498.3,487.5 497.9,487.6 497.7,487.7 496.9,487.7 495.9,487.4 495.1,487.4 494.9,487.4 494.3,487.4 493.9,487.5 492.9,487.7 491.9,488.2 491.6,488.4 490.9,488.9 490.9,488.9 489.9,488.5 489.4,488.3 488.9,488.0 488.3,487.9 487.9,488.1 486.9,488.4 486.6,488.5 485.9,488.6 485.3,488.8 484.9,488.7 484.4,488.8 483.9,489.0 482.9,489.0 482.2,488.5 481.9,488.7 481.8,488.8 480.9,489.7 480.4,490.0 479.9,489.8 479.2,489.5 478.9,489.3 477.9,489.1 477.8,489.1 476.9,489.4 476.9,489.4 475.9,489.9 475.0,490.3 474.9,490.3 474.4,490.3 473.9,490.0 472.9,489.6 471.9,489.6 471.9,489.6 471.7,489.7 470.9,489.9 469.9,490.2 469.2,490.5 468.9,490.6 468.7,490.7 467.9,490.7 467.1,490.5 466.9,490.5 466.0,490.3 465.9,490.4 464.9,491.0 464.8,491.0 463.9,491.1 462.9,491.3 462.7,491.4 462.6,491.4 461.9,491.3 460.9,491.1 460.2,491.2 459.9,491.2 459.6,491.2 458.9,491.3 457.9,491.8 457.7,492.0 457.6,492.1 456.9,492.3 455.9,492.0 455.4,491.8 455.1,491.7 454.9,491.8 453.9,492.0 452.9,492.3 452.8,492.3 452.1,492.4 451.9,492.3 450.9,492.1 450.7,492.1 450.2,492.0 449.9,492.1 448.9,492.4 448.3,492.5 447.9,492.5 447.0,492.5 446.9,492.5 445.9,492.6 445.2,492.7 444.9,492.7 444.7,492.7 443.9,492.9 443.1,493.1 442.9,493.1 441.9,493.4 441.4,493.5 440.9,493.4 440.1,493.2 439.9,493.2 438.9,493.4 438.2,493.6 437.9,493.7 436.9,493.9 436.7,494.0 435.9,494.1 434.9,494.4 434.9,494.4 434.7,494.5 433.9,494.2 432.9,493.9 432.6,493.8 432.2,493.8 431.9,493.9 430.9,494.0 429.9,494.3 429.4,494.5 428.9,494.5 428.9,494.5 427.9,494.5 427.0,494.4 426.9,494.4 426.1,494.5 425.9,494.5 424.9,494.6 424.5,494.7 424.2,494.7 423.9,494.7 422.9,495.2Z" fill="#fad0bc"/>
<path d="M422.9,486.3 423.9,485.9 424.2,485.7 424.5,485.7 424.9,485.8 425.9,486.1 426.1,486.2 426.9,486.0 427.0,486.0 427.9,485.6 428.9,485.3 428.9,485.3 429.4,485.5 429.9,485.7 430.9,486.0 431.9,486.3 432.2,486.3 432.6,486.2 432.9,486.1 433.9,485.9 434.7,485.6 434.9,485.6 434.9,485.6 435.9,485.8 436.7,486.1 436.9,486.2 437.9,486.1 438.2,486.0 438.9,485.8 439.9,485.6 440.1,485.5 440.9,485.7 441.4,485.8 441.9,485.9 442.9,486.0 443.1,486.0 443.9,485.8 444.7,485.5 444.9,485.4 445.2,485.3 445.9,485.4 446.9,485.4 447.0,485.4 447.9,485.4 448.3,485.4 448.9,485.3 449.9,485.3 450.2,485.3 450.7,485.3 450.9,485.2 451.9,485.1 452.1,485.0 452.8,484.9 452.9,484.9 453.9,485.0 454.9,485.0 455.1,485.0 455.4,484.8 455.9,484.8 456.9,484.9 457.6,485.1 457.7,485.2 457.9,485.1 458.9,484.9 459.6,484.7 459.9,484.6 460.2,484.5 460.9,484.5 461.9,484.5 462.6,484.4 462.7,484.4 462.9,484.3 463.9,484.1 464.8,483.8 464.9,483.8 465.9,484.1 466.0,484.1 466.9,484.2 467.1,484.2 467.9,484.0 468.7,483.9 468.9,483.8 469.2,483.7 469.9,483.8 470.9,483.8 471.7,483.7 471.9,483.6 471.9,483.6 472.9,482.9 473.9,483.2 474.4,482.9 474.9,482.8 475.0,482.8 475.9,483.0 476.9,483.5 476.9,483.5 477.8,483.2 477.9,483.1 478.9,482.7 479.2,482.5 479.9,482.6 480.4,482.7 480.9,482.9 481.8,483.1 481.9,483.0 482.2,482.8 482.9,482.4 483.9,482.2 484.4,482.2 484.9,482.3 485.3,482.3 485.9,482.3 486.6,482.4 486.9,482.3 487.9,482.0 488.3,481.9 488.9,481.7 489.4,481.6 489.9,481.7 490.9,482.0 490.9,482.0 491.6,482.0 491.9,481.9 492.9,481.4 493.9,481.2 494.3,481.1 494.9,481.0 495.1,481.0 495.9,481.1 496.9,481.2 497.7,481.3 497.9,481.4 498.3,481.4 498.9,481.2 499.9,480.9 500.7,480.7 500.9,480.6 501.6,480.4 501.9,480.4 502.9,480.4 503.9,480.4 503.9,480.4 503.9,480.4 504.9,480.2 505.9,479.7 506.1,479.6 506.4,479.5 506.9,479.6 507.9,480.0 508.2,479.9 508.9,479.9 509.2,479.9 509.9,479.3 510.3,479.4 510.9,479.5 511.8,479.2 511.9,479.2 512.9,479.2 513.7,479.2 513.8,479.2 513.9,479.2 514.9,479.4 515.0,479.4 515.9,479.1 516.7,478.6 516.9,478.5 517.0,478.4 517.3,478.3 517.9,478.3 518.9,478.5 519.1,478.5 519.9,478.7 519.9,478.7 520.8,478.3 520.9,478.3 521.9,477.9 522.2,477.8 522.5,477.9 522.9,477.9 523.9,477.9 524.5,477.7 524.8,477.5 524.9,477.5 525.9,477.5 526.8,476.7 526.9,476.6 527.0,476.6 527.9,477.0 527.9,477.0 528.9,477.3 529.4,477.3 529.9,477.1 530.2,477.0 530.9,476.7 531.9,476.3 532.5,476.0 532.9,476.0 533.7,476.0 533.9,476.0 534.8,475.9 534.9,475.9 535.0,475.9 535.9,475.3 536.0,475.3 536.1,475.3 536.9,475.2 536.9,475.2 537.3,475.2 537.9,475.1 538.1,475.1 538.9,475.2 539.9,475.2 540.0,475.2 540.9,474.9 541.2,474.8 541.2,474.7 541.9,474.4 542.4,474.1 542.9,474.1 543.9,474.0 544.4,473.8 544.7,473.7 544.9,473.6 545.2,473.5 545.9,473.4 546.3,473.4 546.9,473.3 547.3,473.3 547.3,473.3 547.5,473.2 547.9,473.2 548.9,473.3 549.5,473.2 549.9,472.9 550.1,472.8 550.5,472.5 550.9,472.3 551.9,472.0 551.9,472.0 552.0,472.0 552.9,472.0 553.8,471.5 553.9,471.5 553.9,471.5 554.9,471.3 555.9,471.0 556.6,470.6 556.8,470.5 556.9,470.5 557.9,470.5 558.9,470.6 559.2,470.6 559.9,470.6 560.1,470.6 560.9,469.9 561.6,469.4 561.9,469.3 562.6,469.1 562.9,469.0 563.1,468.8 563.9,468.5 564.9,468.4 565.7,468.7 565.9,468.8 566.2,468.9 566.9,468.7 567.9,468.3 568.1,468.2 568.9,467.8 569.4,467.5 569.9,467.5 569.9,467.5 570.9,467.5 571.9,467.5 572.5,467.4 572.7,467.3 572.9,467.2 573.9,466.5 574.9,465.8 575.0,465.7 575.1,465.7 575.9,465.6 575.9,465.6 576.9,465.4 577.9,465.0 578.3,465.0 578.9,464.8 579.1,464.7 579.9,464.3 580.9,463.7 581.0,463.6 581.8,463.6 581.9,463.6 582.9,463.3 583.9,462.7 584.1,462.7 584.5,462.6 584.9,462.5 585.9,462.3 586.7,461.8 586.9,461.7 587.3,461.5 587.9,461.2 588.9,460.6 589.0,460.5 589.8,460.2 589.9,460.1 590.9,459.6 591.7,458.9 591.9,458.9 592.5,458.8 592.9,458.8 593.9,458.8 594.3,458.8 594.9,458.4 594.9,458.4 595.9,457.6 596.5,457.1 596.9,457.1 597.0,457.1 597.9,457.0 598.9,456.8 599.0,456.8 599.9,456.3 600.9,455.8 601.9,455.0 602.0,454.9 602.2,454.7 602.9,454.6 603.9,454.5 604.6,454.4 604.9,454.3 605.0,454.2 605.9,453.7 606.9,452.8 607.1,452.6 607.9,452.3 607.9,452.3 608.9,452.2 609.7,452.0 609.9,451.7 610.9,450.7 610.9,450.6 611.9,449.6 612.8,449.4 612.9,449.4 613.9,449.1 614.9,448.8 615.4,448.5 615.9,447.6 616.2,447.1 616.9,446.4 617.9,445.6 618.9,444.7 618.9,444.7 619.0,444.6 619.9,444.1 620.9,443.7 621.9,443.4 622.3,443.2 622.9,442.7 623.9,441.9 624.2,441.5 624.9,440.4 625.5,439.4 625.9,439.0 626.3,438.9 626.9,438.7 627.9,438.1 628.7,437.4 628.8,437.3 628.9,437.2 629.9,435.5 630.8,434.2 630.9,434.1 631.1,434.0 631.9,433.8 632.9,433.2 633.5,432.8 633.9,432.5 633.9,432.4 634.9,430.8 635.9,429.3 636.6,428.3 636.6,428.2 636.9,428.1 637.9,427.5 638.4,427.2 638.6,427.1 638.9,426.7 639.9,425.3 640.5,424.5 640.9,423.9 641.2,423.5 641.9,423.1 642.6,422.8 642.9,422.7 643.2,422.5 643.9,421.6 644.9,420.5 645.0,420.3 645.2,420.1 645.9,419.9 646.9,419.4 647.0,419.3 647.2,419.2 647.9,418.0 648.9,416.3 649.1,416.0 649.2,415.8 649.9,415.5 650.9,414.9 651.6,414.5 651.9,413.9 652.0,413.7 652.9,412.2 653.9,410.3 654.1,409.8 654.9,408.2 655.0,407.9 655.9,406.9 656.6,406.1 656.9,405.7 657.9,403.9 658.3,403.5 658.9,402.6 659.9,401.0 660.0,400.7 660.9,399.5 661.7,398.3 661.9,398.0 662.6,396.7 662.9,396.2 663.9,394.1 664.9,392.1 664.9,392.0 665.5,390.5 665.9,389.6 666.9,388.0 667.3,387.4 667.9,386.2 668.1,385.7 668.9,384.1 669.9,382.4 670.2,382.0 670.3,381.8 670.9,380.5 671.9,378.5 672.9,376.3 673.1,375.7 673.6,374.6 673.9,374.2 674.9,373.0 675.9,371.5 676.2,370.7 676.7,369.5 676.9,368.8 677.9,366.2 678.9,364.5 679.3,363.6 679.9,362.3 680.0,362.1 680.9,360.6 681.9,359.1 682.0,359.0 682.1,358.7 682.9,356.5 683.9,354.0 684.7,352.2 684.9,351.6 685.0,351.4 685.9,349.7 686.9,347.7 686.9,347.7 687.9,346.3 688.5,345.3 688.9,344.2 689.9,341.4 690.3,340.0 690.9,338.8 691.8,337.0 691.9,336.8 692.2,336.2 692.9,334.2 693.8,332.8 693.9,332.5 694.9,330.1 695.5,328.1 695.9,327.0 696.0,326.7 696.6,326.1 696.6,463.9 696.0,463.9 695.9,463.9 695.5,464.0 694.9,464.1 693.9,464.3 693.8,464.3 692.9,464.1 692.2,463.9 691.9,463.9 691.8,463.8 690.9,464.2 690.3,464.4 689.9,464.6 688.9,464.9 688.5,464.8 687.9,464.7 686.9,464.6 686.9,464.6 685.9,465.0 685.0,465.3 684.9,465.4 684.7,465.5 683.9,465.4 682.9,465.4 682.1,465.2 682.0,465.2 681.9,465.2 680.9,465.4 680.0,465.7 679.9,465.7 679.3,465.9 678.9,465.8 677.9,465.7 676.9,465.5 676.7,465.4 676.2,465.4 675.9,465.5 674.9,465.9 673.9,466.2 673.6,466.3 673.1,466.5 672.9,466.5 671.9,466.3 670.9,466.2 670.3,466.2 670.2,466.2 669.9,466.4 668.9,467.0 668.1,467.3 667.9,467.3 667.3,467.3 666.9,467.2 665.9,467.2 665.5,467.1 664.9,467.2 664.9,467.2 663.9,467.2 662.9,467.5 662.6,467.6 661.9,467.8 661.7,467.9 660.9,467.8 660.0,467.6 659.9,467.6 658.9,467.9 658.3,468.1 657.9,468.3 656.9,469.1 656.6,469.1 655.9,468.9 655.0,468.6 654.9,468.6 654.1,468.6 653.9,468.7 652.9,469.1 652.0,469.6 651.9,469.6 651.6,469.7 650.9,470.0 649.9,469.9 649.2,469.7 649.1,469.7 648.9,469.7 647.9,470.4 647.2,470.9 647.0,471.0 646.9,471.1 645.9,470.7 645.2,470.7 645.0,470.7 644.9,470.8 643.9,471.4 643.2,471.6 642.9,471.7 642.6,471.8 641.9,471.9 641.2,472.0 640.9,472.1 640.5,472.2 639.9,472.4 638.9,472.7 638.6,472.7 638.4,472.8 637.9,472.6 636.9,472.5 636.6,472.6 636.6,472.6 635.9,472.8 634.9,473.2 633.9,472.9 633.9,472.9 633.5,472.9 632.9,472.9 631.9,472.9 631.1,472.8 630.9,472.7 630.8,472.7 629.9,473.2 628.9,473.6 628.8,473.7 628.7,473.7 627.9,473.5 626.9,473.3 626.3,473.2 625.9,473.3 625.5,473.5 624.9,473.7 624.2,474.1 623.9,474.0 622.9,473.9 622.3,473.8 621.9,473.9 620.9,474.1 619.9,474.3 619.0,474.4 618.9,474.4 618.9,474.4 617.9,474.4 616.9,474.4 616.2,474.3 615.9,474.4 615.4,474.4 614.9,474.6 613.9,474.9 612.9,475.0 612.8,475.0 611.9,474.7 610.9,474.5 610.9,474.5 609.9,474.8 609.7,474.8 608.9,475.1 607.9,475.5 607.9,475.5 607.1,475.5 606.9,475.5 605.9,475.3 605.0,475.0 604.9,475.0 604.6,475.1 603.9,475.5 602.9,475.9 602.2,475.9 602.0,475.9 601.9,475.8 600.9,475.7 599.9,476.0 599.0,475.8 598.9,475.7 597.9,475.7 597.0,475.8 596.9,475.8 596.5,475.8 595.9,475.7 594.9,475.6 594.9,475.6 594.3,475.8 593.9,475.9 592.9,476.3 592.5,476.4 591.9,476.5 591.7,476.6 590.9,476.7 589.9,476.6 589.8,476.5 589.0,476.4 588.9,476.4 587.9,476.6 587.3,476.7 586.9,476.8 586.7,477.0 585.9,477.3 584.9,477.2 584.5,477.0 584.1,477.0 583.9,477.1 582.9,477.4 581.9,477.7 581.8,477.8 581.0,477.6 580.9,477.6 579.9,477.6 579.1,477.6 578.9,477.6 578.3,477.7 577.9,477.8 576.9,478.0 575.9,478.1 575.9,478.1 575.1,478.2 575.0,478.2 574.9,478.2 573.9,478.3 572.9,478.3 572.7,478.3 572.5,478.4 571.9,478.5 570.9,478.7 569.9,479.0 569.9,479.0 569.4,479.0 568.9,478.9 568.1,478.7 567.9,478.8 566.9,479.3 566.2,479.5 565.9,479.6 565.7,479.7 564.9,479.7 563.9,479.6 563.1,479.6 562.9,479.6 562.6,479.6 561.9,479.9 561.6,480.1 560.9,480.4 560.1,480.6 559.9,480.6 559.2,480.7 558.9,480.6 557.9,480.5 556.9,480.4 556.8,480.4 556.6,480.4 555.9,480.7 554.9,480.9 553.9,481.1 553.9,481.1 553.8,481.1 552.9,481.0 552.0,481.0 551.9,481.0 551.9,481.0 550.9,481.3 550.5,481.5 550.1,481.6 549.9,481.7 549.5,481.7 548.9,481.8 547.9,481.9 547.5,481.9 547.3,481.9 547.3,481.9 546.9,481.9 546.3,481.9 545.9,482.0 545.2,482.0 544.9,482.0 544.7,481.9 544.4,482.0 543.9,482.0 542.9,482.3 542.4,482.5 541.9,482.8 541.2,483.1 541.2,483.1 540.9,483.0 540.0,482.9 539.9,482.9 538.9,482.7 538.1,482.6 537.9,482.7 537.3,482.9 536.9,483.0 536.9,483.0 536.1,483.4 536.0,483.5 535.9,483.5 535.0,483.5 534.9,483.4 534.8,483.4 533.9,483.3 533.7,483.2 532.9,483.3 532.5,483.4 531.9,483.5 530.9,483.7 530.2,483.9 529.9,483.9 529.4,483.8 528.9,483.7 527.9,483.5 527.9,483.5 527.0,483.9 526.9,483.9 526.8,484.0 525.9,484.3 524.9,484.6 524.8,484.6 524.5,484.6 523.9,484.5 522.9,484.3 522.5,484.3 522.2,484.4 521.9,484.4 520.9,484.7 520.8,484.8 519.9,485.0 519.9,485.1 519.1,485.3 518.9,485.3 517.9,485.1 517.3,485.0 517.0,484.9 516.9,484.9 516.7,484.9 515.9,485.1 515.0,485.4 514.9,485.4 513.9,485.7 513.8,485.8 513.7,485.8 512.9,485.8 511.9,485.8 511.8,485.7 510.9,485.6 510.3,485.6 509.9,485.7 509.2,486.0 508.9,486.0 508.2,486.2 507.9,486.2 506.9,486.0 506.4,485.9 506.1,485.9 505.9,485.9 504.9,486.3 503.9,486.6 503.9,486.6 503.9,486.6 502.9,486.7 501.9,486.9 501.6,487.0 500.9,487.2 500.7,487.2 499.9,487.3 498.9,487.3 498.3,487.5 497.9,487.6 497.7,487.7 496.9,487.7 495.9,487.4 495.1,487.4 494.9,487.4 494.3,487.4 493.9,487.5 492.9,487.7 491.9,488.2 491.6,488.4 490.9,488.9 490.9,488.9 489.9,488.5 489.4,488.3 488.9,488.0 488.3,487.9 487.9,488.1 486.9,488.4 486.6,488.5 485.9,488.6 485.3,488.8 484.9,488.7 484.4,488.8 483.9,489.0 482.9,489.0 482.2,488.5 481.9,488.7 481.8,488.8 480.9,489.7 480.4,490.0 479.9,489.8 479.2,489.5 478.9,489.3 477.9,489.1 477.8,489.1 476.9,489.4 476.9,489.4 475.9,489.9 475.0,490.3 474.9,490.3 474.4,490.3 473.9,490.0 472.9,489.6 471.9,489.6 471.9,489.6 471.7,489.7 470.9,489.9 469.9,490.2 469.2,490.5 468.9,490.6 468.7,490.7 467.9,490.7 467.1,490.5 466.9,490.5 466.0,490.3 465.9,490.4 464.9,491.0 464.8,491.0 463.9,491.1 462.9,491.3 462.7,491.4 462.6,491.4 461.9,491.3 460.9,491.1 460.2,491.2 459.9,491.2 459.6,491.2 458.9,491.3 457.9,491.8 457.7,492.0 457.6,492.1 456.9,492.3 455.9,492.0 455.4,491.8 455.1,491.7 454.9,491.8 453.9,492.0 452.9,492.3 452.8,492.3 452.1,492.4 451.9,492.3 450.9,492.1 450.7,492.1 450.2,492.0 449.9,492.1 448.9,492.4 448.3,492.5 447.9,492.5 447.0,492.5 446.9,492.5 445.9,492.6 445.2,492.7 444.9,492.7 444.7,492.7 443.9,492.9 443.1,493.1 442.9,493.1 441.9,493.4 441.4,493.5 440.9,493.4 440.1,493.2 439.9,493.2 438.9,493.4 438.2,493.6 437.9,493.7 436.9,493.9 436.7,494.0 435.9,494.1 434.9,494.4 434.9,494.4 434.7,494.5 433.9,494.2 432.9,493.9 432.6,493.8 432.2,493.8 431.9,493.9 430.9,494.0 429.9,494.3 429.4,494.5 428.9,494.5 428.9,494.5 427.9,494.5 427.0,494.4 426.9,494.4 426.1,494.5 425.9,494.5 424.9,494.6 424.5,494.7 424.2,494.7 423.9,494.7 422.9,495.2Z" fill="#c7cfec"/>
<path d="M422.9,486.3 423.9,485.9 424.2,485.7 424.5,485.7 424.9,485.8 425.9,486.1 426.1,486.2 426.9,486.0 427.0,486.0 427.9,485.6 428.9,485.3 428.9,485.3 429.4,485.5 429.9,485.7 430.9,486.0 431.9,486.3 432.2,486.3 432.6,486.2 432.9,486.1 433.9,485.9 434.7,485.6 434.9,485.6 434.9,485.6 435.9,485.8 436.7,486.1 436.9,486.2 437.9,486.1 438.2,486.0 438.9,485.8 439.9,485.6 440.1,485.5 440.9,485.7 441.4,485.8 441.9,485.9 442.9,486.0 443.1,486.0 443.9,485.8 444.7,485.5 444.9,485.4 445.2,485.3 445.9,485.4 446.9,485.4 447.0,485.4 447.9,485.4 448.3,485.4 448.9,485.3 449.9,485.3 450.2,485.3 450.7,485.3 450.9,485.2 451.9,485.1 452.1,485.0 452.8,484.9 452.9,484.9 453.9,485.0 454.9,485.0 455.1,485.0 455.4,484.8 455.9,484.8 456.9,484.9 457.6,485.1 457.7,485.2 457.9,485.1 458.9,484.9 459.6,484.7 459.9,484.6 460.2,484.5 460.9,484.5 461.9,484.5 462.6,484.4 462.7,484.4 462.9,484.3 463.9,484.1 464.8,483.8 464.9,483.8 465.9,484.1 466.0,484.1 466.9,484.2 467.1,484.2 467.9,484.0 468.7,483.9 468.9,483.8 469.2,483.7 469.9,483.8 470.9,483.8 471.7,483.7 471.9,483.6 471.9,483.6 472.9,482.9 473.9,483.2 474.4,482.9 474.9,482.8 475.0,482.8 475.9,483.0 476.9,483.5 476.9,483.5 477.8,483.2 477.9,483.1 478.9,482.7 479.2,482.5 479.9,482.6 480.4,482.7 480.9,482.9 481.8,483.1 481.9,483.0 482.2,482.8 482.9,482.4 483.9,482.2 484.4,482.2 484.9,482.3 485.3,482.3 485.9,482.3 486.6,482.4 486.9,482.3 487.9,482.0 488.3,481.9 488.9,481.7 489.4,481.6 489.9,481.7 490.9,482.0 490.9,482.0 491.6,482.0 491.9,481.9 492.9,481.4 493.9,481.2 494.3,481.1 494.9,481.0 495.1,481.0 495.9,481.1 496.9,481.2 497.7,481.3 497.9,481.4 498.3,481.4 498.9,481.2 499.9,480.9 500.7,480.7 500.9,480.6 501.6,480.4 501.9,480.4 502.9,480.4 503.9,480.4 503.9,480.4 503.9,480.4 504.9,480.2 505.9,479.7 506.1,479.6 506.4,479.5 506.9,479.6 507.9,480.0 508.2,479.9 508.9,479.9 509.2,479.9 509.9,479.3 510.3,479.4 510.9,479.5 511.8,479.2 511.9,479.2 512.9,479.2 513.7,479.2 513.8,479.2 513.9,479.2 514.9,479.4 515.0,479.4 515.9,479.1 516.7,478.6 516.9,478.5 517.0,478.4 517.3,478.3 517.9,478.3 518.9,478.5 519.1,478.5 519.9,478.7 519.9,478.7 520.8,478.3 520.9,478.3 521.9,477.9 522.2,477.8 522.5,477.9 522.9,477.9 523.9,477.9 524.5,477.7 524.8,477.5 524.9,477.5 525.9,477.5 526.8,476.7 526.9,476.6 527.0,476.6 527.9,477.0 527.9,477.0 528.9,477.3 529.4,477.3 529.9,477.1 530.2,477.0 530.9,476.7 531.9,476.3 532.5,476.0 532.9,476.0 533.7,476.0 533.9,476.0 534.8,475.9 534.9,475.9 535.0,475.9 535.9,475.3 536.0,475.3 536.1,475.3 536.9,475.2 536.9,475.2 537.3,475.2 537.9,475.1 538.1,475.1 538.9,475.2 539.9,475.2 540.0,475.2 540.9,474.9 541.2,474.8 541.2,474.7 541.9,474.4 542.4,474.1 542.9,474.1 543.9,474.0 544.4,473.8 544.7,473.7 544.9,473.6 545.2,473.5 545.9,473.4 546.3,473.4 546.9,473.3 547.3,473.3 547.3,473.3 547.5,473.2 547.9,473.2 548.9,473.3 549.5,473.2 549.9,472.9 550.1,472.8 550.5,472.5 550.9,472.3 551.9,472.0 551.9,472.0 552.0,472.0 552.9,472.0 553.8,471.5 553.9,471.5 553.9,471.5 554.9,471.3 555.9,471.0 556.6,470.6 556.8,470.5 556.9,470.5 557.9,470.5 558.9,470.6 559.2,470.6 559.9,470.6 560.1,470.6 560.9,469.9 561.6,469.4 561.9,469.3 562.6,469.1 562.9,469.0 563.1,468.8 563.9,468.5 564.9,468.4 565.7,468.7 565.9,468.8 566.2,468.9 566.9,468.7 567.9,468.3 568.1,468.2 568.9,467.8 569.4,467.5 569.9,467.5 569.9,467.5 570.9,467.5 571.9,467.5 572.5,467.4 572.7,467.3 572.9,467.2 573.9,466.5 574.9,465.8 575.0,465.7 575.1,465.7 575.9,465.6 575.9,465.6 576.9,465.4 577.9,465.0 578.3,465.0 578.9,464.8 579.1,464.7 579.9,464.3 580.9,463.7 581.0,463.6 581.8,463.6 581.9,463.6 582.9,463.3 583.9,462.7 584.1,462.7 584.5,462.6 584.9,462.5 585.9,462.3 586.7,461.8 586.9,461.7 587.3,461.5 587.9,461.2 588.9,460.6 589.0,460.5 589.8,460.2 589.9,460.1 590.9,459.6 591.7,458.9 591.9,458.9 592.5,458.8 592.9,458.8 593.9,458.8 594.3,458.8 594.9,458.4 594.9,458.4 595.9,457.6 596.5,457.1 596.9,457.1 597.0,457.1 597.9,457.0 598.9,456.8 599.0,456.8 599.9,456.3 600.9,455.8 601.9,455.0 602.0,454.9 602.2,454.7 602.9,454.6 603.9,454.5 604.6,454.4 604.9,454.3 605.0,454.2 605.9,453.7 606.9,452.8 607.1,452.6 607.9,452.3 607.9,452.3 608.9,452.2 609.7,452.0 609.9,451.7 610.9,450.7 610.9,450.6 611.9,449.6 612.8,449.4 612.9,449.4 613.9,449.1 614.9,448.8 615.4,448.5 615.9,447.6 616.2,447.1 616.9,446.4 617.9,445.6 618.9,444.7 618.9,444.7 619.0,444.6 619.9,444.1 620.9,443.7 621.9,443.4 622.3,443.2 622.9,442.7 623.9,441.9 624.2,441.5 624.9,440.4 625.5,439.4 625.9,439.0 626.3,438.9 626.9,438.7 627.9,438.1 628.7,437.4 628.8,437.3 628.9,437.2 629.9,435.5 630.8,434.2 630.9,434.1 631.1,434.0 631.9,433.8 632.9,433.2 633.5,432.8 633.9,432.5 633.9,432.4 634.9,430.8 635.9,429.3 636.6,428.3 636.6,428.2 636.9,428.1 637.9,427.5 638.4,427.2 638.6,427.1 638.9,426.7 639.9,425.3 640.5,424.5 640.9,423.9 641.2,423.5 641.9,423.1 642.6,422.8 642.9,422.7 643.2,422.5 643.9,421.6 644.9,420.5 645.0,420.3 645.2,420.1 645.9,419.9 646.9,419.4 647.0,419.3 647.2,419.2 647.9,418.0 648.9,416.3 649.1,416.0 649.2,415.8 649.9,415.5 650.9,414.9 651.6,414.5 651.9,413.9 652.0,413.7 652.9,412.2 653.9,410.3 654.1,409.8 654.9,408.2 655.0,407.9 655.9,406.9 656.6,406.1 656.9,405.7 657.9,403.9 658.3,403.5 658.9,402.6 659.9,401.0 660.0,400.7 660.9,399.5 661.7,398.3 661.9,398.0 662.6,396.7 662.9,396.2 663.9,394.1 664.9,392.1 664.9,392.0 665.5,390.5 665.9,389.6 666.9,388.0 667.3,387.4 667.9,386.2 668.1,385.7 668.9,384.1 669.9,382.4 670.2,382.0 670.3,381.8 670.9,380.5 671.9,378.5 672.9,376.3 673.1,375.7 673.6,374.6 673.9,374.2 674.9,373.0 675.9,371.5 676.2,370.7 676.7,369.5 676.9,368.8 677.9,366.2 678.9,364.5 679.3,363.6 679.9,362.3 680.0,362.1 680.9,360.6 681.9,359.1 682.0,359.0 682.1,358.7 682.9,356.5 683.9,354.0 684.7,352.2 684.9,351.6 685.0,351.4 685.9,349.7 686.9,347.7 686.9,347.7 687.9,346.3 688.5,345.3 688.9,344.2 689.9,341.4 690.3,340.0 690.9,338.8 691.8,337.0 691.9,336.8 692.2,336.2 692.9,334.2 693.8,332.8 693.9,332.5 694.9,330.1 695.5,328.1 695.9,327.0 696.0,326.7 696.6,326.1 696.6,463.9 696.0,463.9 695.9,463.9 695.5,464.0 694.9,464.1 693.9,464.3 693.8,464.3 692.9,464.1 692.2,463.9 691.9,463.9 691.8,463.8 690.9,464.2 690.3,464.4 689.9,464.6 688.9,464.9 688.5,464.8 687.9,464.7 686.9,464.6 686.9,464.6 685.9,465.0 685.0,465.3 684.9,465.4 684.7,465.5 683.9,465.4 682.9,465.4 682.1,465.2 682.0,465.2 681.9,465.2 680.9,465.4 680.0,465.7 679.9,465.7 679.3,465.9 678.9,465.8 677.9,465.7 676.9,465.5 676.7,465.4 676.2,465.4 675.9,465.5 674.9,465.9 673.9,466.2 673.6,466.3 673.1,466.5 672.9,466.5 671.9,466.3 670.9,466.2 670.3,466.2 670.2,466.2 669.9,466.4 668.9,467.0 668.1,467.3 667.9,467.3 667.3,467.3 666.9,467.2 665.9,467.2 665.5,467.1 664.9,467.2 664.9,467.2 663.9,467.2 662.9,467.5 662.6,467.6 661.9,467.8 661.7,467.9 660.9,467.8 660.0,467.6 659.9,467.6 658.9,467.9 658.3,468.1 657.9,468.3 656.9,469.1 656.6,469.1 655.9,468.9 655.0,468.6 654.9,468.6 654.1,468.6 653.9,468.7 652.9,469.1 652.0,469.6 651.9,469.6 651.6,469.7 650.9,470.0 649.9,469.9 649.2,469.7 649.1,469.7 648.9,469.7 647.9,470.4 647.2,470.9 647.0,471.0 646.9,471.1 645.9,470.7 645.2,470.7 645.0,470.7 644.9,470.8 643.9,471.4 643.2,471.6 642.9,471.7 642.6,471.8 641.9,471.9 641.2,472.0 640.9,472.1 640.5,472.2 639.9,472.4 638.9,472.7 638.6,472.7 638.4,472.8 637.9,472.6 636.9,472.5 636.6,472.6 636.6,472.6 635.9,472.8 634.9,473.2 633.9,472.9 633.9,472.9 633.5,472.9 632.9,472.9 631.9,472.9 631.1,472.8 630.9,472.7 630.8,472.7 629.9,473.2 628.9,473.6 628.8,473.7 628.7,473.7 627.9,473.5 626.9,473.3 626.3,473.2 625.9,473.3 625.5,473.5 624.9,473.7 624.2,474.1 623.9,474.0 622.9,473.9 622.3,473.8 621.9,473.9 620.9,474.1 619.9,474.3 619.0,474.4 618.9,474.4 618.9,474.4 617.9,474.4 616.9,474.4 616.2,474.3 615.9,474.4 615.4,474.4 614.9,474.6 613.9,474.9 612.9,475.0 612.8,475.0 611.9,474.7 610.9,474.5 610.9,474.5 609.9,474.8 609.7,474.8 608.9,475.1 607.9,475.5 607.9,475.5 607.1,475.5 606.9,475.5 605.9,475.3 605.0,475.0 604.9,475.0 604.6,475.1 603.9,475.5 602.9,475.9 602.2,475.9 602.0,475.9 601.9,475.8 600.9,475.7 599.9,476.0 599.0,475.8 598.9,475.7 597.9,475.7 597.0,475.8 596.9,475.8 596.5,475.8 595.9,475.7 594.9,475.6 594.9,475.6 594.3,475.8 593.9,475.9 592.9,476.3 592.5,476.4 591.9,476.5 591.7,476.6 590.9,476.7 589.9,476.6 589.8,476.5 589.0,476.4 588.9,476.4 587.9,476.6 587.3,476.7 586.9,476.8 586.7,477.0 585.9,477.3 584.9,477.2 584.5,477.0 584.1,477.0 583.9,477.1 582.9,477.4 581.9,477.7 581.8,477.8 581.0,477.6 580.9,477.6 579.9,477.6 579.1,477.6 578.9,477.6 578.3,477.7 577.9,477.8 576.9,478.0 575.9,478.1 575.9,478.1 575.1,478.2 575.0,478.2 574.9,478.2 573.9,478.3 572.9,478.3 572.7,478.3 572.5,478.4 571.9,478.5 570.9,478.7 569.9,479.0 569.9,479.0 569.4,479.0 568.9,478.9 568.1,478.7 567.9,478.8 566.9,479.3 566.2,479.5 565.9,479.6 565.7,479.7 564.9,479.7 563.9,479.6 563.1,479.6 562.9,479.6 562.6,479.6 561.9,479.9 561.6,480.1 560.9,480.4 560.1,480.6 559.9,480.6 559.2,480.7 558.9,480.6 557.9,480.5 556.9,480.4 556.8,480.4 556.6,480.4 555.9,480.7 554.9,480.9 553.9,481.1 553.9,481.1 553.8,481.1 552.9,481.0 552.0,481.0 551.9,481.0 551.9,481.0 550.9,481.3 550.5,481.5 550.1,481.6 549.9,481.7 549.5,481.7 548.9,481.8 547.9,481.9 547.5,481.9 547.3,481.9 547.3,481.9 546.9,481.9 546.3,481.9 545.9,482.0 545.2,482.0 544.9,482.0 544.7,481.9 544.4,482.0 543.9,482.0 542.9,482.3 542.4,482.5 541.9,482.8 541.2,483.1 541.2,483.1 540.9,483.0 540.0,482.9 539.9,482.9 538.9,482.7 538.1,482.6 537.9,482.7 537.3,482.9 536.9,483.0 536.9,483.0 536.1,483.4 536.0,483.5 535.9,483.5 535.0,483.5 534.9,483.4 534.8,483.4 533.9,483.3 533.7,483.2 532.9,483.3 532.5,483.4 531.9,483.5 530.9,483.7 530.2,483.9 529.9,483.9 529.4,483.8 528.9,483.7 527.9,483.5 527.9,483.5 527.0,483.9 526.9,483.9 526.8,484.0 525.9,484.3 524.9,484.6 524.8,484.6 524.5,484.6 523.9,484.5 522.9,484.3 522.5,484.3 522.2,484.4 521.9,484.4 520.9,484.7 520.8,484.8 519.9,485.0 519.9,485.1 519.1,485.3 518.9,485.3 517.9,485.1 517.3,485.0 517.0,484.9 516.9,484.9 516.7,484.9 515.9,485.1 515.0,485.4 514.9,485.4 513.9,485.7 513.8,485.8 513.7,485.8 512.9,485.8 511.9,485.8 511.8,485.7 510.9,485.6 510.3,485.6 509.9,485.7 509.2,486.0 508.9,486.0 508.2,486.2 507.9,486.2 506.9,486.0 506.4,485.9 506.1,485.9 505.9,485.9 504.9,486.3 503.9,486.6 503.9,486.6 503.9,486.6 502.9,486.7 501.9,486.9 501.6,487.0 500.9,487.2 500.7,487.2 499.9,487.3 498.9,487.3 498.3,487.5 497.9,487.6 497.7,487.7 496.9,487.7 495.9,487.4 495.1,487.4 494.9,487.4 494.3,487.4 493.9,487.5 492.9,487.7 491.9,488.2 491.6,488.4 490.9,488.9 490.9,488.9 489.9,488.5 489.4,488.3 488.9,488.0 488.3,487.9 487.9,488.1 486.9,488.4 486.6,488.5 485.9,488.6 485.3,488.8 484.9,488.7 484.4,488.8 483.9,489.0 482.9,489.0 482.2,488.5 481.9,488.7 481.8,488.8 480.9,489.7 480.4,490.0 479.9,489.8 479.2,489.5 478.9,489.3 477.9,489.1 477.8,489.1 476.9,489.4 476.9,489.4 475.9,489.9 475.0,490.3 474.9,490.3 474.4,490.3 473.9,490.0 472.9,489.6 471.9,489.6 471.9,489.6 471.7,489.7 470.9,489.9 469.9,490.2 469.2,490.5 468.9,490.6 468.7,490.7 467.9,490.7 467.1,490.5 466.9,490.5 466.0,490.3 465.9,490.4 464.9,491.0 464.8,491.0 463.9,491.1 462.9,491.3 462.7,491.4 462.6,491.4 461.9,491.3 460.9,491.1 460.2,491.2 459.9,491.2 459.6,491.2 458.9,491.3 457.9,491.8 457.7,492.0 457.6,492.1 456.9,492.3 455.9,492.0 455.4,491.8 455.1,491.7 454.9,491.8 453.9,492.0 452.9,492.3 452.8,492.3 452.1,492.4 451.9,492.3 450.9,492.1 450.7,492.1 450.2,492.0 449.9,492.1 448.9,492.4 448.3,492.5 447.9,492.5 447.0,492.5 446.9,492.5 445.9,492.6 445.2,492.7 444.9,492.7 444.7,492.7 443.9,492.9 443.1,493.1 442.9,493.1 441.9,493.4 441.4,493.5 440.9,493.4 440.1,493.2 439.9,493.2 438.9,493.4 438.2,493.6 437.9,493.7 436.9,493.9 436.7,494.0 435.9,494.1 434.9,494.4 434.9,494.4 434.7,494.5 433.9,494.2 432.9,493.9 432.6,493.8 432.2,493.8 431.9,493.9 430.9,494.0 429.9,494.3 429.4,494.5 428.9,494.5 428.9,494.5 427.9,494.5 427.0,494.4 426.9,494.4 426.1,494.5 425.9,494.5 424.9,494.6 424.5,494.7 424.2,494.7 423.9,494.7 422.9,495.2Z" fill="#c4bccf" clip-path="url(#cs3)"/>
<path d="M513.7,482.4 514.7,482.5 515.7,482.6 516.7,482.6 517.7,482.4 518.7,482.0 519.7,481.5 520.7,482.0 521.7,482.3 522.7,482.0 523.7,481.7 524.7,481.8 525.7,481.7 526.7,481.4 527.7,481.2 528.7,481.1 529.7,481.0 530.7,480.9 531.7,480.8 532.7,480.6 533.7,480.4 534.7,480.3 535.7,480.2 536.7,480.1 537.7,479.9 538.7,479.7 539.7,479.7 540.7,479.6 541.7,479.4 542.7,479.0 543.7,478.9 544.7,479.0 545.7,479.0 546.7,478.9 547.7,478.7 548.7,478.5 549.7,478.3 550.7,478.2 551.7,478.2 552.7,478.2 553.7,477.9 554.7,477.7 555.7,477.4 556.7,477.2 557.7,477.0 558.7,476.9 559.7,476.7 560.7,476.6 561.7,476.6 562.7,476.6 563.7,476.5 564.7,476.4 565.7,476.3 566.7,475.9 567.7,475.6 568.7,475.3 569.7,475.4 570.7,475.4 571.7,475.4 572.7,475.1 573.7,474.7 574.7,474.9 575.7,475.2 576.7,475.0 577.7,474.5 578.7,474.0 579.7,473.9 580.7,473.9 581.7,473.8 582.7,473.6 583.7,473.4 584.7,473.5 585.7,473.6 586.7,473.3 587.7,472.8 588.7,472.3 589.7,472.1 590.7,472.0 591.7,471.9 592.7,471.7 593.7,471.6 594.7,471.3 595.7,470.9 596.7,470.5 597.7,470.6 598.7,470.7 599.7,470.5 600.7,470.1 601.7,469.6 602.7,469.6 603.7,469.6 604.7,469.5 605.7,469.4 606.7,468.9 607.7,468.5 608.7,468.3 609.7,468.1 610.7,468.0 611.7,467.9 612.7,467.7 613.7,467.5 614.7,467.4 615.7,467.3 616.7,466.7 617.7,466.2 618.7,465.8 619.7,465.6 620.7,465.4 621.7,465.2 622.7,465.1 623.7,465.0 624.7,465.1 625.7,465.0 626.7,464.6 627.7,464.2 628.7,463.7 629.7,463.2 630.7,463.1 631.7,463.0 632.7,462.8 633.7,462.7 634.7,462.2 635.7,461.7 636.7,461.5 637.7,461.2 638.7,461.0 639.7,460.7 640.7,460.2 641.7,459.6 642.7,459.6 643.7,459.5 644.7,459.2 645.7,458.8 646.7,458.3 647.7,457.8 648.7,457.5 649.7,457.2 650.7,456.8 651.7,456.3 652.7,455.8 653.7,455.4 654.7,455.1 655.7,454.9 656.7,454.6 657.7,454.4 658.7,454.1 659.7,453.9 660.7,453.5 661.7,453.0 662.7,452.3 663.7,451.9 664.7,451.7 665.7,451.4 666.7,451.0 667.7,450.6 668.7,450.0 669.7,449.5 670.7,449.0 671.7,448.7 672.7,448.4 673.7,448.2 674.7,447.9 675.7,447.5 676.7,446.9 677.7,446.3 678.7,445.8 679.7,445.4 680.7,444.9 681.7,444.3 682.7,443.8 683.7,443.3 684.7,442.9 685.7,442.5 686.7,441.9 687.7,441.5 688.7,441.2 689.7,440.8 690.7,440.1 691.7,439.4 692.7,438.9 693.7,438.3 694.7,437.9 695.7,437.5 696.6,437.1" stroke="#1f4e9e" stroke-width="1.5" fill="none" stroke-linejoin="round"/>
<g fill="#0b7439"><circle cx="422.7" cy="490.5" r="2.45"/><circle cx="423.7" cy="491.1" r="2.45"/><circle cx="424.7" cy="491.9" r="2.45"/><circle cx="425.1" cy="488.8" r="2.45"/><circle cx="425.7" cy="488.4" r="2.45"/><circle cx="426.5" cy="488.9" r="2.45"/><circle cx="427.5" cy="489.1" r="2.45"/><circle cx="428.0" cy="490.5" r="2.45"/><circle cx="429.0" cy="489.3" r="2.45"/><circle cx="429.8" cy="493.2" r="2.45"/><circle cx="430.2" cy="486.8" r="2.45"/><circle cx="431.1" cy="487.7" r="2.45"/><circle cx="431.7" cy="492.5" r="2.45"/><circle cx="432.8" cy="486.7" r="2.45"/><circle cx="433.7" cy="492.2" r="2.45"/><circle cx="434.0" cy="487.4" r="2.45"/><circle cx="435.1" cy="491.9" r="2.45"/><circle cx="435.5" cy="490.3" r="2.45"/><circle cx="436.3" cy="492.3" r="2.45"/><circle cx="437.1" cy="488.0" r="2.45"/><circle cx="438.1" cy="488.1" r="2.45"/><circle cx="438.9" cy="487.8" r="2.45"/><circle cx="439.4" cy="488.7" r="2.45"/><circle cx="440.4" cy="488.1" r="2.45"/><circle cx="440.8" cy="492.5" r="2.45"/><circle cx="441.5" cy="491.1" r="2.45"/><circle cx="442.7" cy="490.2" r="2.45"/><circle cx="443.3" cy="487.6" r="2.45"/><circle cx="443.6" cy="490.1" r="2.45"/><circle cx="444.5" cy="490.1" r="2.45"/><circle cx="445.4" cy="487.8" r="2.45"/><circle cx="446.0" cy="486.5" r="2.45"/><circle cx="446.8" cy="492.6" r="2.45"/><circle cx="447.7" cy="485.4" r="2.45"/><circle cx="448.3" cy="486.7" r="2.45"/><circle cx="449.3" cy="488.1" r="2.45"/><circle cx="449.7" cy="490.7" r="2.45"/><circle cx="450.5" cy="491.1" r="2.45"/><circle cx="451.1" cy="491.1" r="2.45"/><circle cx="452.0" cy="489.0" r="2.45"/><circle cx="452.9" cy="489.8" r="2.45"/><circle cx="453.9" cy="490.0" r="2.45"/><circle cx="454.4" cy="488.2" r="2.45"/><circle cx="454.9" cy="483.4" r="2.45"/><circle cx="456.1" cy="491.1" r="2.45"/><circle cx="456.4" cy="493.4" r="2.45"/><circle cx="457.5" cy="488.3" r="2.45"/><circle cx="458.1" cy="487.7" r="2.45"/><circle cx="458.7" cy="485.9" r="2.45"/><circle cx="459.6" cy="486.4" r="2.45"/><circle cx="460.6" cy="491.8" r="2.45"/><circle cx="461.1" cy="489.4" r="2.45"/><circle cx="461.7" cy="486.9" r="2.45"/><circle cx="462.7" cy="490.4" r="2.45"/><circle cx="463.5" cy="486.7" r="2.45"/><circle cx="464.0" cy="487.8" r="2.45"/><circle cx="465.2" cy="486.8" r="2.45"/><circle cx="465.4" cy="486.9" r="2.45"/><circle cx="466.1" cy="485.9" r="2.45"/><circle cx="467.3" cy="487.3" r="2.45"/><circle cx="468.1" cy="488.5" r="2.45"/><circle cx="468.8" cy="488.6" r="2.45"/><circle cx="469.7" cy="488.0" r="2.45"/><circle cx="469.9" cy="486.0" r="2.45"/><circle cx="470.6" cy="487.9" r="2.45"/><circle cx="471.7" cy="485.1" r="2.45"/><circle cx="472.3" cy="486.5" r="2.45"/><circle cx="473.1" cy="486.6" r="2.45"/><circle cx="473.9" cy="486.0" r="2.45"/><circle cx="474.5" cy="489.7" r="2.45"/><circle cx="475.1" cy="487.9" r="2.45"/><circle cx="476.2" cy="487.2" r="2.45"/><circle cx="477.0" cy="490.6" r="2.45"/><circle cx="477.8" cy="487.1" r="2.45"/><circle cx="478.5" cy="484.1" r="2.45"/><circle cx="478.9" cy="486.2" r="2.45"/><circle cx="479.7" cy="488.0" r="2.45"/><circle cx="480.6" cy="485.8" r="2.45"/><circle cx="481.3" cy="485.8" r="2.45"/><circle cx="482.2" cy="484.8" r="2.45"/><circle cx="483.0" cy="484.9" r="2.45"/><circle cx="483.9" cy="483.1" r="2.45"/><circle cx="484.2" cy="485.5" r="2.45"/><circle cx="485.1" cy="485.6" r="2.45"/><circle cx="485.7" cy="484.1" r="2.45"/><circle cx="486.8" cy="482.7" r="2.45"/><circle cx="487.4" cy="484.0" r="2.45"/><circle cx="488.4" cy="481.5" r="2.45"/><circle cx="488.7" cy="482.4" r="2.45"/><circle cx="489.9" cy="482.4" r="2.45"/><circle cx="490.5" cy="480.6" r="2.45"/><circle cx="491.4" cy="481.0" r="2.45"/><circle cx="491.7" cy="481.8" r="2.45"/><circle cx="492.7" cy="481.5" r="2.45"/><circle cx="493.1" cy="480.0" r="2.45"/><circle cx="494.4" cy="484.1" r="2.45"/><circle cx="495.1" cy="486.5" r="2.45"/><circle cx="495.9" cy="483.8" r="2.45"/><circle cx="496.5" cy="482.7" r="2.45"/><circle cx="496.9" cy="485.6" r="2.45"/><circle cx="498.1" cy="486.6" r="2.45"/><circle cx="498.9" cy="484.4" r="2.45"/><circle cx="499.1" cy="482.3" r="2.45"/><circle cx="500.4" cy="487.8" r="2.45"/><circle cx="500.6" cy="484.4" r="2.45"/><circle cx="501.9" cy="485.8" r="2.45"/><circle cx="502.2" cy="486.4" r="2.45"/><circle cx="503.4" cy="483.2" r="2.45"/><circle cx="503.6" cy="486.2" r="2.45"/><circle cx="504.9" cy="485.1" r="2.45"/><circle cx="505.3" cy="483.6" r="2.45"/><circle cx="506.0" cy="485.7" r="2.45"/><circle cx="506.9" cy="484.5" r="2.45"/><circle cx="507.7" cy="481.3" r="2.45"/><circle cx="508.6" cy="486.8" r="2.45"/><circle cx="509.3" cy="483.6" r="2.45"/><circle cx="509.8" cy="482.2" r="2.45"/><circle cx="510.4" cy="486.2" r="2.45"/><circle cx="511.5" cy="484.3" r="2.45"/><circle cx="512.3" cy="485.3" r="2.45"/><circle cx="512.6" cy="486.4" r="2.45"/><circle cx="461.9" cy="483.6" r="2.45"/><circle cx="505.5" cy="474.0" r="2.45"/><circle cx="507.0" cy="477.0" r="2.45"/><circle cx="509.3" cy="480.4" r="2.45"/><circle cx="511.8" cy="486.7" r="2.45"/><circle cx="513.5" cy="484.0" r="2.45"/><circle cx="515.7" cy="490.0" r="2.45"/><circle cx="517.6" cy="490.6" r="2.45"/><circle cx="516.5" cy="494.0" r="2.45"/><circle cx="518.2" cy="498.2" r="2.45"/><circle cx="519.5" cy="501.0" r="2.45"/><circle cx="521.4" cy="503.3" r="2.45"/><circle cx="523.0" cy="500.0" r="2.45"/><circle cx="525.2" cy="496.9" r="2.45"/><circle cx="528.4" cy="491.2" r="2.45"/><circle cx="530.5" cy="492.0" r="2.45"/><circle cx="533.5" cy="492.5" r="2.45"/><circle cx="534.8" cy="484.2" r="2.45"/></g>
<path d="M422.9,492.2 424.4,491.6 425.9,491.3 427.4,491.4 428.9,491.8 430.4,491.3 431.9,491.1 433.4,491.3 434.9,490.3 436.4,490.6 437.9,490.5 439.4,490.0 440.9,489.5 442.4,489.8 443.9,490.2 445.4,490.1 446.9,489.7 448.4,489.1 449.9,488.9 451.4,488.9 452.9,489.0 454.4,489.6 455.9,489.3 457.4,489.5 458.9,488.0 460.4,488.4 461.9,488.1 463.4,488.2 464.9,488.4 466.4,488.0 467.9,487.8 469.4,487.7 470.9,487.5 472.4,487.4 473.9,487.2 475.4,486.9 476.9,486.6 478.4,486.5 479.9,486.3 481.4,486.1 482.9,486.2 484.4,485.5 485.9,485.4 487.4,485.4 488.9,484.9 490.4,485.3 491.9,485.4 493.4,484.9 494.9,485.2 496.4,484.4 497.9,484.6 499.4,483.3 500.9,483.7 502.4,483.7 503.9,483.3 505.4,482.8 506.9,483.0 508.4,483.4 509.9,483.2 511.4,482.9 512.9,482.7 513.7,482.9 520.8,502.0 527.1,493.8 534.8,487.4 538.6,481.6 542.4,465.0 547.3,453.6 551.4,465.0 556.5,472.1 562.8,474.6 568.0,475.3 578.0,474.0 579.0,473.9 580.0,473.8 581.0,473.7 582.0,473.5 583.0,473.2 584.0,473.1 585.0,473.2 586.0,473.3 587.0,473.2 588.0,472.9 589.0,472.4 590.0,471.9 591.0,471.5 592.0,471.4 593.0,471.3 594.0,471.5 595.0,471.7 596.0,471.6 597.0,471.3 598.0,471.0 599.0,470.6 600.0,470.2 601.0,469.9 602.0,469.9 603.0,469.8 604.0,469.6 605.0,469.5 606.0,469.5 607.0,469.5 608.0,468.9 609.0,468.4 610.0,468.1 611.0,468.1 612.0,467.9 613.0,467.7 614.0,467.5 615.0,467.2 616.0,466.9 617.0,466.7 618.0,466.4 619.0,466.2 620.0,465.9 621.0,465.6 622.0,465.3 623.0,465.0 624.0,464.8 625.0,464.7 626.0,464.6 627.0,464.3 628.0,463.9 629.0,463.5 630.0,463.3 631.0,463.1 632.0,462.9 633.0,462.5 634.0,462.2 635.0,462.0 636.0,461.8 637.0,461.4 638.0,461.1 639.0,460.7 640.0,460.2 641.0,459.8 642.0,459.5 643.0,459.2 644.0,458.9 645.0,458.7 646.0,458.5 647.0,458.3 648.0,458.0 649.0,457.7 650.0,457.3 651.0,456.9 652.0,456.5 653.0,456.1 654.0,455.7 655.0,455.2 656.0,454.8 657.0,454.4 658.0,454.2 659.0,454.1 660.0,453.8 661.0,453.1 662.0,452.5 663.0,452.0 664.0,451.7 665.0,451.3 666.0,451.0 667.0,450.7 668.0,450.3 669.0,449.6 670.0,448.9 671.0,448.8 672.0,448.6 673.0,448.4 674.0,448.1 675.0,447.9 676.0,447.3 677.0,446.6 678.0,446.0 679.0,445.4 680.0,444.9 681.0,444.5 682.0,444.4 683.0,444.1 684.0,443.2 685.0,442.6 686.0,442.4 687.0,442.0 688.0,441.3 689.0,440.7 690.0,440.2 691.0,439.8 692.0,439.3 693.0,438.9 694.0,438.4 695.0,437.7 696.0,437.1 696.6,436.8" stroke="#ee2a24" stroke-width="1.5" fill="none" stroke-linejoin="round"/>
<path d="M422.90,307.20V521.30M415.30,513.70H696.60M415.30,513.70H422.90M415.30,479.28H422.90M415.30,444.87H422.90M415.30,410.45H422.90M415.30,376.03H422.90M415.30,341.62H422.90M415.30,307.20H422.90M514.13,513.70V521.30M605.37,513.70V521.30M696.60,513.70V521.30" stroke="#231f20" stroke-width="1.25" fill="none"/>
<g font-family="Liberation Sans, sans-serif" font-size="14" fill="#3a3a3a"><text x="413.90" y="518.70" text-anchor="end" font-size="14.5">0</text><text x="413.90" y="484.28" text-anchor="end" font-size="14.5">500</text><text x="413.90" y="449.87" text-anchor="end" font-size="14.5">1000</text><text x="413.90" y="415.45" text-anchor="end" font-size="14.5">1500</text><text x="413.90" y="381.03" text-anchor="end" font-size="14.5">2000</text><text x="413.90" y="346.62" text-anchor="end" font-size="14.5">2500</text><text x="413.90" y="312.20" text-anchor="end" font-size="14.5">3000</text><text x="422.90" y="535.10" text-anchor="middle" font-size="14.5">2015</text><text x="514.13" y="535.10" text-anchor="middle" font-size="14.5">2020</text><text x="605.37" y="535.10" text-anchor="middle" font-size="14.5">2025</text><text x="696.60" y="535.10" text-anchor="middle" font-size="14.5">2030</text><text x="559.75" y="561.30" text-anchor="middle" textLength="26.5" lengthAdjust="spacingAndGlyphs">Year</text></g>
<text x="414.00" y="287.60" font-family="Liberation Sans, sans-serif" font-size="17.5" fill="#231f20" text-anchor="end" stroke="#231f20" stroke-width="0.55">D</text>
<text x="424.50" y="287.60" font-family="Liberation Sans, sans-serif" font-size="14" fill="#231f20" stroke="#231f20" stroke-width="0.4" textLength="53.5" lengthAdjust="spacingAndGlyphs">Prostate</text>
<clipPath id="cs4"><path d="M74.2,790.0 75.2,789.6 76.2,788.7 76.2,788.7 77.2,787.8 77.4,787.8 78.2,788.4 78.8,788.8 79.2,789.2 80.2,789.6 80.5,789.6 81.2,789.2 81.4,789.0 82.2,788.2 83.2,787.0 83.7,787.1 84.2,787.5 84.5,787.9 85.2,788.5 86.2,789.0 86.5,789.1 87.2,788.5 87.7,788.1 88.2,787.6 88.4,787.4 89.2,788.0 90.2,788.6 90.5,788.8 90.6,788.9 91.2,788.3 92.2,787.9 92.8,787.7 93.2,787.8 93.9,787.9 94.2,788.0 95.2,788.1 95.7,788.2 96.2,787.9 96.7,787.8 97.2,787.8 98.2,787.6 98.5,787.6 98.6,787.6 99.2,787.9 100.2,788.2 100.5,788.2 101.1,787.9 101.2,787.9 102.2,787.4 103.0,787.0 103.2,787.0 103.7,787.1 104.2,787.2 105.2,787.5 105.9,787.6 106.2,787.3 106.3,787.2 107.2,786.3 108.2,785.2 108.3,785.1 109.2,784.2 109.2,784.2 110.2,785.5 110.4,785.8 111.2,786.6 111.7,786.8 112.2,786.6 113.2,785.7 113.3,785.6 114.2,784.5 114.7,783.8 115.2,784.0 115.5,784.3 116.2,785.0 116.6,785.4 117.2,784.9 117.4,784.7 118.2,784.5 119.2,785.1 120.0,784.6 120.2,784.6 120.8,785.0 121.2,785.2 122.2,785.7 122.7,785.9 123.2,785.6 124.2,784.7 125.2,784.0 125.7,783.7 126.2,783.8 127.2,784.2 127.4,784.3 128.2,784.6 128.4,784.7 129.2,784.4 130.2,783.2 130.4,783.0 130.4,782.9 131.2,782.7 132.2,783.1 132.7,783.3 133.2,783.1 133.9,783.2 134.2,783.2 135.2,783.1 135.6,783.1 136.2,783.4 137.2,783.0 137.4,782.9 138.0,782.6 138.2,782.3 139.2,781.6 140.1,782.0 140.2,782.1 140.4,782.6 141.2,782.9 142.2,783.0 142.3,783.0 143.2,782.4 143.8,782.0 144.2,781.8 145.2,781.5 145.6,781.4 145.8,781.6 146.2,781.7 147.2,782.0 148.1,782.4 148.2,782.4 148.5,782.5 149.2,782.1 150.2,781.6 150.9,780.9 151.2,781.0 151.4,781.0 152.2,781.3 153.2,781.8 153.7,782.0 154.0,782.1 154.2,781.9 155.2,780.9 156.2,780.5 156.7,780.5 157.2,780.4 157.5,780.2 158.2,780.4 159.2,780.5 159.7,780.5 160.2,780.8 160.3,780.9 161.2,780.6 162.0,779.6 162.2,781.3 162.4,781.9 163.1,783.6 163.2,783.9 164.2,786.2 164.6,788.1 165.2,790.5 165.8,792.7 166.2,794.1 167.1,797.1 167.2,797.4 167.6,798.5 168.2,800.1 168.3,800.3 168.3,800.4 169.2,798.2 170.2,795.8 170.2,795.8 171.2,795.1 171.2,795.1 172.2,793.6 173.2,791.5 173.4,790.9 173.5,790.9 174.2,789.1 175.0,787.3 175.2,786.9 175.8,785.8 176.2,786.5 176.2,786.5 176.9,787.8 177.2,788.1 178.2,789.2 179.0,789.8 179.2,790.0 179.3,790.0 180.2,790.9 181.2,791.8 181.5,792.1 181.8,792.1 182.2,792.1 183.2,792.3 184.0,793.2 184.2,789.5 184.3,786.9 184.8,777.8 185.2,770.1 185.3,768.1 186.2,751.0 186.9,738.8 187.2,732.9 187.4,729.3 187.6,729.2 188.2,729.0 188.8,728.8 189.2,728.3 189.4,727.9 190.2,726.4 190.5,726.0 191.2,725.1 191.5,724.7 191.9,724.1 192.2,723.7 192.8,721.7 193.2,720.4 194.1,717.7 194.2,717.4 194.7,715.8 194.9,715.3 195.0,716.4 195.2,718.5 196.1,728.0 196.2,729.1 197.0,737.3 197.1,737.6 197.2,737.9 198.2,741.0 199.1,743.7 199.2,744.0 199.3,744.4 200.2,748.1 201.2,751.8 201.7,752.3 202.2,751.9 202.3,752.1 202.4,752.1 203.2,753.0 204.2,754.2 204.7,755.2 205.2,756.1 205.3,756.3 205.5,756.6 206.2,757.8 207.2,759.3 207.4,759.6 208.1,760.6 208.2,760.7 209.2,762.1 209.9,763.0 210.2,763.4 210.4,763.7 211.1,764.0 211.2,764.0 212.2,764.4 212.6,764.5 213.2,764.3 214.2,763.8 214.4,763.9 215.2,764.3 215.4,764.4 216.2,765.0 216.7,765.4 217.2,765.8 218.0,765.3 218.2,765.1 218.3,765.0 219.1,764.8 219.2,764.8 220.2,764.6 221.2,764.3 221.3,764.3 221.4,764.3 222.2,764.4 223.2,764.0 223.9,763.6 224.1,763.5 224.2,763.5 225.2,764.0 225.8,764.4 225.9,764.4 226.0,764.3 226.2,764.0 227.2,762.7 227.9,762.6 228.2,762.5 228.9,761.9 229.2,761.5 230.2,759.9 230.3,759.7 231.2,759.7 231.4,759.7 232.2,759.7 233.2,758.5 233.8,757.8 234.1,757.6 234.2,757.6 235.2,758.0 236.0,757.8 236.2,757.7 236.9,757.4 237.0,757.3 237.2,757.4 238.2,756.2 239.1,755.2 239.2,755.4 239.5,755.7 240.2,756.3 241.0,755.9 241.2,755.8 241.8,755.5 242.2,755.4 243.2,755.4 243.7,755.2 244.1,754.9 244.2,754.8 245.0,754.3 245.2,754.6 245.7,754.5 246.2,754.4 247.2,753.6 247.2,753.5 248.0,753.6 248.2,753.6 249.2,753.2 249.2,753.1 250.0,752.7 250.2,752.6 251.2,751.0 251.2,751.0 252.2,750.7 253.0,751.0 253.2,751.2 253.8,751.1 254.2,750.6 254.9,749.6 255.2,749.3 256.2,747.4 257.1,745.5 257.1,745.5 257.2,745.5 258.2,746.1 259.0,746.9 259.2,746.7 259.4,746.5 260.2,745.5 261.2,744.2 262.1,743.1 262.2,743.1 262.6,743.3 263.2,743.4 264.2,743.5 264.2,743.5 264.8,742.3 265.2,741.2 266.1,739.1 266.2,739.1 267.2,738.5 267.7,738.6 268.2,738.7 269.2,739.3 269.4,739.5 270.2,738.5 271.1,736.3 271.2,736.1 272.2,733.4 272.9,731.2 273.2,730.9 273.4,730.7 274.2,731.6 275.2,732.8 275.7,733.3 276.2,733.1 276.2,733.1 277.2,732.2 277.7,731.2 278.2,730.8 278.9,730.7 279.2,730.8 280.2,730.9 280.4,730.9 281.2,729.3 281.9,728.0 282.2,727.3 283.2,725.6 283.9,724.1 283.9,724.1 284.2,724.1 285.2,724.1 285.9,724.0 286.2,723.4 286.8,722.3 287.2,721.6 288.2,719.9 288.4,719.5 289.2,719.4 290.1,719.0 290.2,719.0 290.5,718.8 291.2,716.2 292.2,712.0 293.1,711.2 293.2,711.1 293.3,711.0 294.2,712.0 295.2,712.7 295.6,712.7 296.2,710.9 296.4,710.4 297.2,707.2 298.1,704.2 298.2,704.2 298.6,704.1 299.2,704.2 300.2,706.1 300.6,706.9 300.9,706.6 301.2,705.5 302.2,702.4 302.4,701.9 303.2,702.9 303.5,703.2 304.2,703.8 304.9,703.7 305.2,702.4 305.7,701.2 306.2,700.3 307.2,696.9 307.8,694.7 308.2,694.5 308.7,694.9 309.2,696.0 310.2,698.0 310.5,697.9 311.2,694.8 311.8,692.2 312.2,690.7 312.6,689.2 313.2,689.0 314.2,692.3 314.6,691.8 315.2,690.6 315.6,689.8 316.2,687.2 317.2,686.8 317.3,686.7 317.6,686.6 318.2,687.5 319.2,688.9 320.2,688.5 320.5,688.3 320.5,688.3 321.2,686.3 322.2,683.7 322.9,681.3 323.2,680.7 323.2,680.7 324.2,678.6 325.2,679.3 326.2,681.1 326.7,679.2 327.2,677.1 328.2,673.3 329.2,669.7 329.3,669.2 330.1,669.4 330.2,669.4 331.2,669.6 331.9,669.7 332.2,669.8 332.4,669.8 333.2,667.0 334.2,663.0 334.4,662.3 334.8,662.1 335.2,662.0 336.2,661.7 337.2,658.6 337.6,658.1 338.0,657.4 338.2,656.9 339.1,654.9 339.1,771.0 338.2,770.7 338.0,770.8 337.6,771.3 337.2,771.9 336.2,773.3 335.2,773.2 334.8,773.1 334.4,773.0 334.2,773.0 333.2,772.6 332.4,772.4 332.2,772.3 331.9,772.1 331.2,772.6 330.2,773.8 330.1,774.0 329.3,773.8 329.2,773.8 328.2,773.3 327.2,772.7 326.7,772.5 326.2,772.8 325.2,774.1 324.2,776.0 323.2,776.6 323.2,776.6 322.9,776.4 322.2,775.7 321.2,774.3 320.5,773.9 320.5,773.9 320.2,774.3 319.2,775.5 318.2,776.1 317.6,776.0 317.3,776.0 317.2,775.8 316.2,775.2 315.6,775.3 315.2,775.4 314.6,775.6 314.2,775.4 313.2,775.1 312.6,776.0 312.2,776.6 311.8,777.1 311.2,777.3 310.5,776.1 310.2,775.7 309.2,775.3 308.7,775.3 308.2,775.5 307.8,775.6 307.2,775.7 306.2,776.2 305.7,776.6 305.2,776.4 304.9,776.2 304.2,776.0 303.5,775.9 303.2,776.2 302.4,776.3 302.2,776.3 301.2,776.3 300.9,776.5 300.6,776.6 300.2,776.6 299.2,776.3 298.6,775.9 298.2,776.0 298.1,776.1 297.2,776.6 296.4,777.5 296.2,777.4 295.6,777.7 295.2,777.9 294.2,778.0 293.3,777.7 293.2,777.6 293.1,777.5 292.2,777.2 291.2,777.6 290.5,778.4 290.2,778.7 290.1,778.8 289.2,778.9 288.4,778.2 288.2,778.0 287.2,777.4 286.8,777.3 286.2,777.5 285.9,777.7 285.2,778.0 284.2,778.5 283.9,778.6 283.9,778.6 283.2,778.5 282.2,778.2 281.9,778.2 281.2,778.6 280.4,779.0 280.2,779.2 279.2,779.7 278.9,779.9 278.2,779.9 277.7,780.0 277.2,780.0 276.2,779.9 276.2,779.9 275.7,780.1 275.2,780.4 274.2,781.0 273.4,781.6 273.2,781.5 272.9,781.4 272.2,781.2 271.2,780.6 271.1,780.5 270.2,780.5 269.4,781.0 269.2,781.1 268.2,781.5 267.7,781.7 267.2,781.6 266.2,781.5 266.1,781.5 265.2,781.4 264.8,781.4 264.2,781.8 264.2,781.9 263.2,782.4 262.6,782.6 262.2,782.6 262.1,782.5 261.2,782.4 260.2,782.4 259.4,782.3 259.2,782.4 259.0,782.4 258.2,782.6 257.2,783.2 257.1,783.2 257.1,783.2 256.2,783.0 255.2,782.7 254.9,782.6 254.2,783.0 253.8,783.3 253.2,783.7 253.0,783.8 252.2,783.6 251.2,783.0 251.2,783.0 250.2,782.7 250.0,782.6 249.2,783.1 249.2,783.2 248.2,784.0 248.0,784.2 247.2,783.9 247.2,783.9 246.2,783.4 245.7,783.2 245.2,783.4 245.0,784.9 244.2,784.6 244.1,784.6 243.7,784.5 243.2,784.7 242.2,785.4 241.8,785.8 241.2,785.8 241.0,785.5 240.2,784.5 239.5,783.6 239.2,783.7 239.1,783.8 238.2,784.4 237.2,784.9 237.0,785.0 236.9,785.0 236.2,785.1 236.0,785.0 235.2,784.5 234.2,784.3 234.1,784.4 233.8,784.5 233.2,784.8 232.2,784.7 231.4,784.8 231.2,785.0 230.3,785.6 230.2,785.7 229.2,785.9 228.9,785.9 228.2,785.7 227.9,785.6 227.2,785.3 226.2,786.3 226.0,786.5 225.9,786.6 225.8,786.7 225.2,786.7 224.2,786.5 224.1,786.5 223.9,786.5 223.2,786.7 222.2,787.3 221.4,787.5 221.3,787.4 221.2,787.3 220.2,786.4 219.2,785.4 219.1,785.3 218.3,785.9 218.2,786.0 218.0,786.4 217.2,787.8 216.7,787.5 216.2,787.1 215.4,786.5 215.2,786.4 214.4,786.6 214.2,786.7 213.2,787.1 212.6,787.4 212.2,787.6 211.2,787.6 211.1,787.6 210.4,787.6 210.2,787.7 209.9,787.7 209.2,787.9 208.2,788.1 208.1,788.1 207.4,788.4 207.2,788.5 206.2,789.2 205.5,789.0 205.3,788.8 205.2,788.7 204.7,788.3 204.2,788.0 203.2,788.2 202.4,788.6 202.3,788.6 202.2,788.8 201.7,789.6 201.2,789.7 200.2,788.6 199.3,788.5 199.2,788.5 199.1,788.6 198.2,789.3 197.2,790.1 197.1,790.2 197.0,790.2 196.2,790.6 196.1,790.6 195.2,790.5 195.0,790.5 194.9,790.9 194.7,791.6 194.2,793.7 194.1,794.2 193.2,797.5 192.8,799.0 192.2,801.9 191.9,803.1 191.5,805.2 191.2,807.4 190.5,812.8 190.2,815.1 189.4,821.0 189.2,820.5 188.8,819.4 188.2,817.9 187.6,817.6 187.4,817.5 187.2,817.4 186.9,817.0 186.2,815.7 185.3,813.8 185.2,813.6 184.8,812.8 184.3,811.8 184.2,811.7 184.0,811.6 183.2,810.9 182.2,810.4 181.8,810.5 181.5,810.5 181.2,810.6 180.2,809.4 179.3,808.2 179.2,808.1 179.0,808.1 178.2,808.2 177.2,807.7 176.9,807.4 176.2,806.7 176.2,806.6 175.8,806.2 175.2,805.7 175.0,805.6 174.2,807.0 173.5,808.3 173.4,808.3 173.2,808.8 172.2,810.9 171.2,813.2 171.2,813.2 170.2,814.6 170.2,814.7 169.2,816.4 168.3,818.3 168.3,818.3 168.2,818.5 167.6,819.8 167.2,818.1 167.1,817.8 166.2,813.8 165.8,811.4 165.2,808.4 164.6,805.4 164.2,803.4 163.2,799.0 163.1,798.1 162.4,794.2 162.2,792.9 162.0,792.2 161.2,792.9 160.3,793.8 160.2,793.7 159.7,793.5 159.2,793.1 158.2,793.1 157.5,793.0 157.2,793.0 156.7,792.8 156.2,792.9 155.2,793.3 154.2,793.8 154.0,793.9 153.7,794.0 153.2,793.9 152.2,793.4 151.4,793.1 151.2,793.2 150.9,793.4 150.2,793.8 149.2,794.1 148.5,794.1 148.2,794.1 148.1,794.1 147.2,794.0 146.2,794.0 145.8,793.9 145.6,794.0 145.2,794.1 144.2,794.4 143.8,794.6 143.2,794.5 142.3,794.5 142.2,794.5 141.2,794.5 140.4,794.4 140.2,794.5 140.1,794.5 139.2,795.0 138.2,795.6 138.0,795.6 137.4,795.8 137.2,795.7 136.2,795.6 135.6,795.5 135.2,795.5 134.2,795.2 133.9,795.1 133.2,795.4 132.7,795.7 132.2,795.9 131.2,796.5 130.4,796.9 130.4,796.9 130.2,796.9 129.2,796.6 128.4,796.3 128.2,796.3 127.4,796.3 127.2,796.3 126.2,796.7 125.7,796.7 125.2,796.6 124.2,796.8 123.2,796.6 122.7,796.7 122.2,796.7 121.2,796.7 120.8,796.6 120.2,796.7 120.0,796.8 119.2,796.9 118.2,797.2 117.4,797.6 117.2,797.7 116.6,797.5 116.2,797.4 115.5,797.2 115.2,797.3 114.7,797.7 114.2,798.2 113.3,798.5 113.2,798.5 112.2,798.3 111.7,798.2 111.2,798.0 110.4,797.7 110.2,797.7 109.2,798.0 109.2,798.0 108.3,798.3 108.2,798.3 107.2,798.1 106.3,798.3 106.2,798.4 105.9,798.6 105.2,798.8 104.2,798.9 103.7,798.9 103.2,798.9 103.0,798.8 102.2,798.7 101.2,798.5 101.1,798.5 100.5,798.8 100.2,798.9 99.2,799.3 98.6,799.6 98.5,799.6 98.2,799.5 97.2,799.2 96.7,799.0 96.2,799.1 95.7,799.3 95.2,799.5 94.2,799.9 93.9,800.0 93.2,799.9 92.8,799.9 92.2,799.8 91.2,799.7 90.6,799.6 90.5,799.6 90.2,799.7 89.2,800.2 88.4,800.3 88.2,800.3 87.7,800.5 87.2,800.5 86.5,800.5 86.2,800.5 85.2,799.9 84.5,799.8 84.2,800.0 83.7,800.2 83.2,800.4 82.2,800.4 81.4,800.5 81.2,800.5 80.5,800.5 80.2,800.5 79.2,800.5 78.8,800.5 78.2,800.7 77.4,801.0 77.2,801.0 76.2,801.4 76.2,801.4 75.2,801.3 74.2,801.1Z"/></clipPath>
<path d="M74.2,790.0 75.2,789.6 76.2,788.7 76.2,788.7 77.2,787.8 77.4,787.8 78.2,788.4 78.8,788.8 79.2,789.2 80.2,789.6 80.5,789.6 81.2,789.2 81.4,789.0 82.2,788.2 83.2,787.0 83.7,787.1 84.2,787.5 84.5,787.9 85.2,788.5 86.2,789.0 86.5,789.1 87.2,788.5 87.7,788.1 88.2,787.6 88.4,787.4 89.2,788.0 90.2,788.6 90.5,788.8 90.6,788.9 91.2,788.3 92.2,787.9 92.8,787.7 93.2,787.8 93.9,787.9 94.2,788.0 95.2,788.1 95.7,788.2 96.2,787.9 96.7,787.8 97.2,787.8 98.2,787.6 98.5,787.6 98.6,787.6 99.2,787.9 100.2,788.2 100.5,788.2 101.1,787.9 101.2,787.9 102.2,787.4 103.0,787.0 103.2,787.0 103.7,787.1 104.2,787.2 105.2,787.5 105.9,787.6 106.2,787.3 106.3,787.2 107.2,786.3 108.2,785.2 108.3,785.1 109.2,784.2 109.2,784.2 110.2,785.5 110.4,785.8 111.2,786.6 111.7,786.8 112.2,786.6 113.2,785.7 113.3,785.6 114.2,784.5 114.7,783.8 115.2,784.0 115.5,784.3 116.2,785.0 116.6,785.4 117.2,784.9 117.4,784.7 118.2,784.5 119.2,785.1 120.0,784.6 120.2,784.6 120.8,785.0 121.2,785.2 122.2,785.7 122.7,785.9 123.2,785.6 124.2,784.7 125.2,784.0 125.7,783.7 126.2,783.8 127.2,784.2 127.4,784.3 128.2,784.6 128.4,784.7 129.2,784.4 130.2,783.2 130.4,783.0 130.4,782.9 131.2,782.7 132.2,783.1 132.7,783.3 133.2,783.1 133.9,783.2 134.2,783.2 135.2,783.1 135.6,783.1 136.2,783.4 137.2,783.0 137.4,782.9 138.0,782.6 138.2,782.3 139.2,781.6 140.1,782.0 140.2,782.1 140.4,782.6 141.2,782.9 142.2,783.0 142.3,783.0 143.2,782.4 143.8,782.0 144.2,781.8 145.2,781.5 145.6,781.4 145.8,781.6 146.2,781.7 147.2,782.0 148.1,782.4 148.2,782.4 148.5,782.5 149.2,782.1 150.2,781.6 150.9,780.9 151.2,781.0 151.4,781.0 152.2,781.3 153.2,781.8 153.7,782.0 154.0,782.1 154.2,781.9 155.2,780.9 156.2,780.5 156.7,780.5 157.2,780.4 157.5,780.2 158.2,780.4 159.2,780.5 159.7,780.5 160.2,780.8 160.3,780.9 161.2,780.6 162.0,779.6 162.2,781.3 162.4,781.9 163.1,783.6 163.2,783.9 164.2,786.2 164.6,788.1 165.2,790.5 165.8,792.7 166.2,794.1 167.1,797.1 167.2,797.4 167.6,798.5 168.2,800.1 168.3,800.3 168.3,800.4 169.2,798.2 170.2,795.8 170.2,795.8 171.2,795.1 171.2,795.1 172.2,793.6 173.2,791.5 173.4,790.9 173.5,790.9 174.2,789.1 175.0,787.3 175.2,786.9 175.8,785.8 176.2,786.5 176.2,786.5 176.9,787.8 177.2,788.1 178.2,789.2 179.0,789.8 179.2,790.0 179.3,790.0 180.2,790.9 181.2,791.8 181.5,792.1 181.8,792.1 182.2,792.1 183.2,792.3 184.0,793.2 184.2,789.5 184.3,786.9 184.8,777.8 185.2,770.1 185.3,768.1 186.2,751.0 186.9,738.8 187.2,732.9 187.4,729.3 187.6,729.2 188.2,729.0 188.8,728.8 189.2,728.3 189.4,727.9 190.2,726.4 190.5,726.0 191.2,725.1 191.5,724.7 191.9,724.1 192.2,723.7 192.8,721.7 193.2,720.4 194.1,717.7 194.2,717.4 194.7,715.8 194.9,715.3 195.0,716.4 195.2,718.5 196.1,728.0 196.2,729.1 197.0,737.3 197.1,737.6 197.2,737.9 198.2,741.0 199.1,743.7 199.2,744.0 199.3,744.4 200.2,748.1 201.2,751.8 201.7,752.3 202.2,751.9 202.3,752.1 202.4,752.1 203.2,753.0 204.2,754.2 204.7,755.2 205.2,756.1 205.3,756.3 205.5,756.6 206.2,757.8 207.2,759.3 207.4,759.6 208.1,760.6 208.2,760.7 209.2,762.1 209.9,763.0 210.2,763.4 210.4,763.7 211.1,764.0 211.2,764.0 212.2,764.4 212.6,764.5 213.2,764.3 214.2,763.8 214.4,763.9 215.2,764.3 215.4,764.4 216.2,765.0 216.7,765.4 217.2,765.8 218.0,765.3 218.2,765.1 218.3,765.0 219.1,764.8 219.2,764.8 220.2,764.6 221.2,764.3 221.3,764.3 221.4,764.3 222.2,764.4 223.2,764.0 223.9,763.6 224.1,763.5 224.2,763.5 225.2,764.0 225.8,764.4 225.9,764.4 226.0,764.3 226.2,764.0 227.2,762.7 227.9,762.6 228.2,762.5 228.9,761.9 229.2,761.5 230.2,759.9 230.3,759.7 231.2,759.7 231.4,759.7 232.2,759.7 233.2,758.5 233.8,757.8 234.1,757.6 234.2,757.6 235.2,758.0 236.0,757.8 236.2,757.7 236.9,757.4 237.0,757.3 237.2,757.4 238.2,756.2 239.1,755.2 239.2,755.4 239.5,755.7 240.2,756.3 241.0,755.9 241.2,755.8 241.8,755.5 242.2,755.4 243.2,755.4 243.7,755.2 244.1,754.9 244.2,754.8 245.0,754.3 245.2,754.6 245.7,754.5 246.2,754.4 247.2,753.6 247.2,753.5 248.0,753.6 248.2,753.6 249.2,753.2 249.2,753.1 250.0,752.7 250.2,752.6 251.2,751.0 251.2,751.0 252.2,750.7 253.0,751.0 253.2,751.2 253.8,751.1 254.2,750.6 254.9,749.6 255.2,749.3 256.2,747.4 257.1,745.5 257.1,745.5 257.2,745.5 258.2,746.1 259.0,746.9 259.2,746.7 259.4,746.5 260.2,745.5 261.2,744.2 262.1,743.1 262.2,743.1 262.6,743.3 263.2,743.4 264.2,743.5 264.2,743.5 264.8,742.3 265.2,741.2 266.1,739.1 266.2,739.1 267.2,738.5 267.7,738.6 268.2,738.7 269.2,739.3 269.4,739.5 270.2,738.5 271.1,736.3 271.2,736.1 272.2,733.4 272.9,731.2 273.2,730.9 273.4,730.7 274.2,731.6 275.2,732.8 275.7,733.3 276.2,733.1 276.2,733.1 277.2,732.2 277.7,731.2 278.2,730.8 278.9,730.7 279.2,730.8 280.2,730.9 280.4,730.9 281.2,729.3 281.9,728.0 282.2,727.3 283.2,725.6 283.9,724.1 283.9,724.1 284.2,724.1 285.2,724.1 285.9,724.0 286.2,723.4 286.8,722.3 287.2,721.6 288.2,719.9 288.4,719.5 289.2,719.4 290.1,719.0 290.2,719.0 290.5,718.8 291.2,716.2 292.2,712.0 293.1,711.2 293.2,711.1 293.3,711.0 294.2,712.0 295.2,712.7 295.6,712.7 296.2,710.9 296.4,710.4 297.2,707.2 298.1,704.2 298.2,704.2 298.6,704.1 299.2,704.2 300.2,706.1 300.6,706.9 300.9,706.6 301.2,705.5 302.2,702.4 302.4,701.9 303.2,702.9 303.5,703.2 304.2,703.8 304.9,703.7 305.2,702.4 305.7,701.2 306.2,700.3 307.2,696.9 307.8,694.7 308.2,694.5 308.7,694.9 309.2,696.0 310.2,698.0 310.5,697.9 311.2,694.8 311.8,692.2 312.2,690.7 312.6,689.2 313.2,689.0 314.2,692.3 314.6,691.8 315.2,690.6 315.6,689.8 316.2,687.2 317.2,686.8 317.3,686.7 317.6,686.6 318.2,687.5 319.2,688.9 320.2,688.5 320.5,688.3 320.5,688.3 321.2,686.3 322.2,683.7 322.9,681.3 323.2,680.7 323.2,680.7 324.2,678.6 325.2,679.3 326.2,681.1 326.7,679.2 327.2,677.1 328.2,673.3 329.2,669.7 329.3,669.2 330.1,669.4 330.2,669.4 331.2,669.6 331.9,669.7 332.2,669.8 332.4,669.8 333.2,667.0 334.2,663.0 334.4,662.3 334.8,662.1 335.2,662.0 336.2,661.7 337.2,658.6 337.6,658.1 338.0,657.4 338.2,656.9 339.1,654.9 339.1,771.0 338.2,770.7 338.0,770.8 337.6,771.3 337.2,771.9 336.2,773.3 335.2,773.2 334.8,773.1 334.4,773.0 334.2,773.0 333.2,772.6 332.4,772.4 332.2,772.3 331.9,772.1 331.2,772.6 330.2,773.8 330.1,774.0 329.3,773.8 329.2,773.8 328.2,773.3 327.2,772.7 326.7,772.5 326.2,772.8 325.2,774.1 324.2,776.0 323.2,776.6 323.2,776.6 322.9,776.4 322.2,775.7 321.2,774.3 320.5,773.9 320.5,773.9 320.2,774.3 319.2,775.5 318.2,776.1 317.6,776.0 317.3,776.0 317.2,775.8 316.2,775.2 315.6,775.3 315.2,775.4 314.6,775.6 314.2,775.4 313.2,775.1 312.6,776.0 312.2,776.6 311.8,777.1 311.2,777.3 310.5,776.1 310.2,775.7 309.2,775.3 308.7,775.3 308.2,775.5 307.8,775.6 307.2,775.7 306.2,776.2 305.7,776.6 305.2,776.4 304.9,776.2 304.2,776.0 303.5,775.9 303.2,776.2 302.4,776.3 302.2,776.3 301.2,776.3 300.9,776.5 300.6,776.6 300.2,776.6 299.2,776.3 298.6,775.9 298.2,776.0 298.1,776.1 297.2,776.6 296.4,777.5 296.2,777.4 295.6,777.7 295.2,777.9 294.2,778.0 293.3,777.7 293.2,777.6 293.1,777.5 292.2,777.2 291.2,777.6 290.5,778.4 290.2,778.7 290.1,778.8 289.2,778.9 288.4,778.2 288.2,778.0 287.2,777.4 286.8,777.3 286.2,777.5 285.9,777.7 285.2,778.0 284.2,778.5 283.9,778.6 283.9,778.6 283.2,778.5 282.2,778.2 281.9,778.2 281.2,778.6 280.4,779.0 280.2,779.2 279.2,779.7 278.9,779.9 278.2,779.9 277.7,780.0 277.2,780.0 276.2,779.9 276.2,779.9 275.7,780.1 275.2,780.4 274.2,781.0 273.4,781.6 273.2,781.5 272.9,781.4 272.2,781.2 271.2,780.6 271.1,780.5 270.2,780.5 269.4,781.0 269.2,781.1 268.2,781.5 267.7,781.7 267.2,781.6 266.2,781.5 266.1,781.5 265.2,781.4 264.8,781.4 264.2,781.8 264.2,781.9 263.2,782.4 262.6,782.6 262.2,782.6 262.1,782.5 261.2,782.4 260.2,782.4 259.4,782.3 259.2,782.4 259.0,782.4 258.2,782.6 257.2,783.2 257.1,783.2 257.1,783.2 256.2,783.0 255.2,782.7 254.9,782.6 254.2,783.0 253.8,783.3 253.2,783.7 253.0,783.8 252.2,783.6 251.2,783.0 251.2,783.0 250.2,782.7 250.0,782.6 249.2,783.1 249.2,783.2 248.2,784.0 248.0,784.2 247.2,783.9 247.2,783.9 246.2,783.4 245.7,783.2 245.2,783.4 245.0,784.9 244.2,784.6 244.1,784.6 243.7,784.5 243.2,784.7 242.2,785.4 241.8,785.8 241.2,785.8 241.0,785.5 240.2,784.5 239.5,783.6 239.2,783.7 239.1,783.8 238.2,784.4 237.2,784.9 237.0,785.0 236.9,785.0 236.2,785.1 236.0,785.0 235.2,784.5 234.2,784.3 234.1,784.4 233.8,784.5 233.2,784.8 232.2,784.7 231.4,784.8 231.2,785.0 230.3,785.6 230.2,785.7 229.2,785.9 228.9,785.9 228.2,785.7 227.9,785.6 227.2,785.3 226.2,786.3 226.0,786.5 225.9,786.6 225.8,786.7 225.2,786.7 224.2,786.5 224.1,786.5 223.9,786.5 223.2,786.7 222.2,787.3 221.4,787.5 221.3,787.4 221.2,787.3 220.2,786.4 219.2,785.4 219.1,785.3 218.3,785.9 218.2,786.0 218.0,786.4 217.2,787.8 216.7,787.5 216.2,787.1 215.4,786.5 215.2,786.4 214.4,786.6 214.2,786.7 213.2,787.1 212.6,787.4 212.2,787.6 211.2,787.6 211.1,787.6 210.4,787.6 210.2,787.7 209.9,787.7 209.2,787.9 208.2,788.1 208.1,788.1 207.4,788.4 207.2,788.5 206.2,789.2 205.5,789.0 205.3,788.8 205.2,788.7 204.7,788.3 204.2,788.0 203.2,788.2 202.4,788.6 202.3,788.6 202.2,788.8 201.7,789.6 201.2,789.7 200.2,788.6 199.3,788.5 199.2,788.5 199.1,788.6 198.2,789.3 197.2,790.1 197.1,790.2 197.0,790.2 196.2,790.6 196.1,790.6 195.2,790.5 195.0,790.5 194.9,790.9 194.7,791.6 194.2,793.7 194.1,794.2 193.2,797.5 192.8,799.0 192.2,801.9 191.9,803.1 191.5,805.2 191.2,807.4 190.5,812.8 190.2,815.1 189.4,821.0 189.2,820.5 188.8,819.4 188.2,817.9 187.6,817.6 187.4,817.5 187.2,817.4 186.9,817.0 186.2,815.7 185.3,813.8 185.2,813.6 184.8,812.8 184.3,811.8 184.2,811.7 184.0,811.6 183.2,810.9 182.2,810.4 181.8,810.5 181.5,810.5 181.2,810.6 180.2,809.4 179.3,808.2 179.2,808.1 179.0,808.1 178.2,808.2 177.2,807.7 176.9,807.4 176.2,806.7 176.2,806.6 175.8,806.2 175.2,805.7 175.0,805.6 174.2,807.0 173.5,808.3 173.4,808.3 173.2,808.8 172.2,810.9 171.2,813.2 171.2,813.2 170.2,814.6 170.2,814.7 169.2,816.4 168.3,818.3 168.3,818.3 168.2,818.5 167.6,819.8 167.2,818.1 167.1,817.8 166.2,813.8 165.8,811.4 165.2,808.4 164.6,805.4 164.2,803.4 163.2,799.0 163.1,798.1 162.4,794.2 162.2,792.9 162.0,792.2 161.2,792.9 160.3,793.8 160.2,793.7 159.7,793.5 159.2,793.1 158.2,793.1 157.5,793.0 157.2,793.0 156.7,792.8 156.2,792.9 155.2,793.3 154.2,793.8 154.0,793.9 153.7,794.0 153.2,793.9 152.2,793.4 151.4,793.1 151.2,793.2 150.9,793.4 150.2,793.8 149.2,794.1 148.5,794.1 148.2,794.1 148.1,794.1 147.2,794.0 146.2,794.0 145.8,793.9 145.6,794.0 145.2,794.1 144.2,794.4 143.8,794.6 143.2,794.5 142.3,794.5 142.2,794.5 141.2,794.5 140.4,794.4 140.2,794.5 140.1,794.5 139.2,795.0 138.2,795.6 138.0,795.6 137.4,795.8 137.2,795.7 136.2,795.6 135.6,795.5 135.2,795.5 134.2,795.2 133.9,795.1 133.2,795.4 132.7,795.7 132.2,795.9 131.2,796.5 130.4,796.9 130.4,796.9 130.2,796.9 129.2,796.6 128.4,796.3 128.2,796.3 127.4,796.3 127.2,796.3 126.2,796.7 125.7,796.7 125.2,796.6 124.2,796.8 123.2,796.6 122.7,796.7 122.2,796.7 121.2,796.7 120.8,796.6 120.2,796.7 120.0,796.8 119.2,796.9 118.2,797.2 117.4,797.6 117.2,797.7 116.6,797.5 116.2,797.4 115.5,797.2 115.2,797.3 114.7,797.7 114.2,798.2 113.3,798.5 113.2,798.5 112.2,798.3 111.7,798.2 111.2,798.0 110.4,797.7 110.2,797.7 109.2,798.0 109.2,798.0 108.3,798.3 108.2,798.3 107.2,798.1 106.3,798.3 106.2,798.4 105.9,798.6 105.2,798.8 104.2,798.9 103.7,798.9 103.2,798.9 103.0,798.8 102.2,798.7 101.2,798.5 101.1,798.5 100.5,798.8 100.2,798.9 99.2,799.3 98.6,799.6 98.5,799.6 98.2,799.5 97.2,799.2 96.7,799.0 96.2,799.1 95.7,799.3 95.2,799.5 94.2,799.9 93.9,800.0 93.2,799.9 92.8,799.9 92.2,799.8 91.2,799.7 90.6,799.6 90.5,799.6 90.2,799.7 89.2,800.2 88.4,800.3 88.2,800.3 87.7,800.5 87.2,800.5 86.5,800.5 86.2,800.5 85.2,799.9 84.5,799.8 84.2,800.0 83.7,800.2 83.2,800.4 82.2,800.4 81.4,800.5 81.2,800.5 80.5,800.5 80.2,800.5 79.2,800.5 78.8,800.5 78.2,800.7 77.4,801.0 77.2,801.0 76.2,801.4 76.2,801.4 75.2,801.3 74.2,801.1Z" fill="#fad0bc"/>
<path d="M74.2,790.0 75.2,789.6 76.2,788.7 76.2,788.7 77.2,787.8 77.4,787.8 78.2,788.4 78.8,788.8 79.2,789.2 80.2,789.6 80.5,789.6 81.2,789.2 81.4,789.0 82.2,788.2 83.2,787.0 83.7,787.1 84.2,787.5 84.5,787.9 85.2,788.5 86.2,789.0 86.5,789.1 87.2,788.5 87.7,788.1 88.2,787.6 88.4,787.4 89.2,788.0 90.2,788.6 90.5,788.8 90.6,788.9 91.2,788.3 92.2,787.9 92.8,787.7 93.2,787.8 93.9,787.9 94.2,788.0 95.2,788.1 95.7,788.2 96.2,787.9 96.7,787.8 97.2,787.8 98.2,787.6 98.5,787.6 98.6,787.6 99.2,787.9 100.2,788.2 100.5,788.2 101.1,787.9 101.2,787.9 102.2,787.4 103.0,787.0 103.2,787.0 103.7,787.1 104.2,787.2 105.2,787.5 105.9,787.6 106.2,787.3 106.3,787.2 107.2,786.3 108.2,785.2 108.3,785.1 109.2,784.2 109.2,784.2 110.2,785.5 110.4,785.8 111.2,786.6 111.7,786.8 112.2,786.6 113.2,785.7 113.3,785.6 114.2,784.5 114.7,783.8 115.2,784.0 115.5,784.3 116.2,785.0 116.6,785.4 117.2,784.9 117.4,784.7 118.2,784.5 119.2,785.1 120.0,784.6 120.2,784.6 120.8,785.0 121.2,785.2 122.2,785.7 122.7,785.9 123.2,785.6 124.2,784.7 125.2,784.0 125.7,783.7 126.2,783.8 127.2,784.2 127.4,784.3 128.2,784.6 128.4,784.7 129.2,784.4 130.2,783.2 130.4,783.0 130.4,782.9 131.2,782.7 132.2,783.1 132.7,783.3 133.2,783.1 133.9,783.2 134.2,783.2 135.2,783.1 135.6,783.1 136.2,783.4 137.2,783.0 137.4,782.9 138.0,782.6 138.2,782.3 139.2,781.6 140.1,782.0 140.2,782.1 140.4,782.6 141.2,782.9 142.2,783.0 142.3,783.0 143.2,782.4 143.8,782.0 144.2,781.8 145.2,781.5 145.6,781.4 145.8,781.6 146.2,781.7 147.2,782.0 148.1,782.4 148.2,782.4 148.5,782.5 149.2,782.1 150.2,781.6 150.9,780.9 151.2,781.0 151.4,781.0 152.2,781.3 153.2,781.8 153.7,782.0 154.0,782.1 154.2,781.9 155.2,780.9 156.2,780.5 156.7,780.5 157.2,780.4 157.5,780.2 158.2,780.4 159.2,780.5 159.7,780.5 160.2,780.8 160.3,780.9 161.2,780.6 162.0,779.6 162.2,779.4 162.4,779.1 163.1,779.5 163.2,779.6 164.2,780.7 164.6,780.6 165.2,780.0 165.8,779.4 166.2,779.1 167.1,778.5 167.2,778.6 167.6,778.8 168.2,779.1 168.3,779.1 168.3,779.1 169.2,779.5 170.2,779.5 170.2,779.5 171.2,778.6 171.2,778.6 172.2,778.3 173.2,777.9 173.4,777.7 173.5,777.7 174.2,777.7 175.0,777.8 175.2,777.8 175.8,777.9 176.2,777.9 176.2,777.9 176.9,777.6 177.2,777.9 178.2,778.0 179.0,777.2 179.2,777.2 179.3,777.2 180.2,777.2 181.2,777.3 181.5,777.5 181.8,777.5 182.2,777.5 183.2,777.5 184.0,777.1 184.2,777.0 184.3,776.9 184.8,776.9 185.2,776.9 185.3,776.9 186.2,777.0 186.9,777.0 187.2,777.0 187.4,777.0 187.6,777.0 188.2,776.6 188.8,776.2 189.2,776.0 189.4,775.9 190.2,775.7 190.5,775.6 191.2,775.7 191.5,775.7 191.9,775.7 192.2,775.7 192.8,775.7 193.2,775.3 194.1,774.4 194.2,774.2 194.7,773.5 194.9,773.4 195.0,773.4 195.2,773.3 196.1,773.7 196.2,773.8 197.0,774.4 197.1,774.4 197.2,774.4 198.2,773.8 199.1,773.2 199.2,773.1 199.3,773.0 200.2,772.7 201.2,772.5 201.7,772.5 202.2,772.6 202.3,772.7 202.4,772.7 203.2,772.2 204.2,770.8 204.7,770.6 205.2,770.9 205.3,771.0 205.5,771.1 206.2,770.8 207.2,770.4 207.4,770.5 208.1,769.7 208.2,769.6 209.2,768.8 209.9,768.5 210.2,768.6 210.4,768.6 211.1,768.6 211.2,768.6 212.2,768.7 212.6,769.1 213.2,768.7 214.2,768.0 214.4,767.7 215.2,766.8 215.4,766.4 216.2,765.6 216.7,765.2 217.2,765.9 218.0,767.1 218.2,767.3 218.3,767.4 219.1,767.3 219.2,767.2 220.2,766.5 221.2,766.0 221.3,765.9 221.4,765.9 222.2,765.9 223.2,765.2 223.9,765.2 224.1,765.2 224.2,765.1 225.2,764.8 225.8,763.7 225.9,763.6 226.0,763.6 226.2,763.4 227.2,763.4 227.9,763.7 228.2,763.4 228.9,762.9 229.2,762.8 230.2,761.7 230.3,761.5 231.2,761.0 231.4,760.9 232.2,760.7 233.2,761.0 233.8,761.9 234.1,762.0 234.2,762.1 235.2,761.2 236.0,760.3 236.2,760.1 236.9,759.4 237.0,759.4 237.2,759.4 238.2,759.3 239.1,759.4 239.2,759.4 239.5,759.5 240.2,758.8 241.0,758.0 241.2,757.7 241.8,756.6 242.2,756.0 243.2,756.0 243.7,756.6 244.1,757.1 244.2,757.0 245.0,755.9 245.2,755.6 245.7,755.0 246.2,754.4 247.2,753.2 247.2,753.2 248.0,753.8 248.2,753.9 249.2,754.2 249.2,754.1 250.0,752.9 250.2,752.6 251.2,751.0 251.2,751.0 252.2,751.0 253.0,751.0 253.2,751.0 253.8,751.0 254.2,750.6 254.9,749.7 255.2,749.3 256.2,747.9 257.1,746.5 257.1,746.5 257.2,746.5 258.2,747.1 259.0,747.5 259.2,747.2 259.4,746.9 260.2,745.9 261.2,744.6 262.1,743.4 262.2,743.4 262.6,743.4 263.2,743.2 264.2,742.6 264.2,742.6 264.8,740.7 265.2,739.1 266.1,737.6 266.2,737.7 267.2,738.8 267.7,739.2 268.2,739.6 269.2,740.2 269.4,740.2 270.2,738.7 271.1,736.9 271.2,736.7 272.2,734.8 272.9,733.3 273.2,733.3 273.4,733.3 274.2,733.2 275.2,733.7 275.7,734.3 276.2,734.0 276.2,733.9 277.2,732.5 277.7,731.7 278.2,731.6 278.9,731.2 279.2,731.0 280.2,730.1 280.4,729.9 281.2,727.6 281.9,726.1 282.2,725.8 283.2,724.9 283.9,724.2 283.9,724.1 284.2,724.0 285.2,723.5 285.9,723.4 286.2,722.7 286.8,721.5 287.2,720.7 288.2,718.6 288.4,718.1 289.2,718.1 290.1,718.6 290.2,718.7 290.5,718.5 291.2,716.6 292.2,714.2 293.1,711.8 293.2,711.4 293.3,711.1 294.2,710.6 295.2,711.2 295.6,711.4 296.2,710.2 296.4,709.9 297.2,708.2 298.1,706.5 298.2,706.5 298.6,706.8 299.2,707.2 300.2,707.4 300.6,707.3 300.9,706.5 301.2,705.1 302.2,698.9 302.4,698.2 303.2,700.9 303.5,702.2 304.2,703.0 304.9,703.3 305.2,702.4 305.7,701.0 306.2,699.5 307.2,696.8 307.8,695.6 308.2,696.3 308.7,695.9 309.2,695.5 310.2,694.7 310.5,695.1 311.2,693.4 311.8,691.9 312.2,691.0 312.6,690.0 313.2,690.6 314.2,691.4 314.6,691.7 315.2,692.1 315.6,692.4 316.2,691.4 317.2,689.7 317.3,689.5 317.6,689.1 318.2,689.2 319.2,689.0 320.2,688.7 320.5,688.4 320.5,688.4 321.2,685.9 322.2,683.0 322.9,681.5 323.2,681.5 323.2,681.5 324.2,679.7 325.2,678.8 326.2,679.0 326.7,676.2 327.2,673.1 328.2,669.7 329.2,668.6 329.3,668.5 330.1,669.4 330.2,669.4 331.2,669.8 331.9,670.0 332.2,670.0 332.4,669.9 333.2,667.2 334.2,663.8 334.4,663.2 334.8,662.9 335.2,662.5 336.2,661.5 337.2,660.6 337.6,660.4 338.0,659.2 338.2,658.4 339.1,655.4 339.1,771.0 338.2,771.3 338.0,771.3 337.6,771.7 337.2,772.1 336.2,772.4 335.2,772.5 334.8,772.9 334.4,773.0 334.2,773.1 333.2,773.0 332.4,772.0 332.2,771.7 331.9,771.8 331.2,773.1 330.2,775.0 330.1,775.1 329.3,774.4 329.2,774.3 328.2,773.5 327.2,772.8 326.7,772.6 326.2,773.2 325.2,774.5 324.2,775.3 323.2,775.7 323.2,775.7 322.9,775.4 322.2,774.7 321.2,774.1 320.5,773.6 320.5,773.6 320.2,773.8 319.2,774.6 318.2,775.3 317.6,775.7 317.3,775.8 317.2,775.7 316.2,774.8 315.6,774.5 315.2,774.5 314.6,774.6 314.2,774.8 313.2,775.5 312.6,775.9 312.2,776.1 311.8,776.3 311.2,775.9 310.5,775.7 310.2,775.7 309.2,775.6 308.7,775.3 308.2,775.6 307.8,775.8 307.2,776.1 306.2,776.4 305.7,776.6 305.2,776.2 304.9,776.1 304.2,775.9 303.5,775.7 303.2,775.9 302.4,775.9 302.2,775.9 301.2,776.1 300.9,776.2 300.6,776.1 300.2,776.0 299.2,776.0 298.6,776.0 298.2,776.2 298.1,776.2 297.2,776.8 296.4,777.6 296.2,777.6 295.6,777.6 295.2,777.3 294.2,776.7 293.3,776.2 293.2,776.1 293.1,776.1 292.2,776.6 291.2,777.2 290.5,777.6 290.2,777.7 290.1,777.8 289.2,777.8 288.4,777.7 288.2,777.7 287.2,777.5 286.8,777.3 286.2,777.5 285.9,777.6 285.2,777.9 284.2,778.8 283.9,779.1 283.9,779.1 283.2,778.8 282.2,778.2 281.9,778.1 281.2,778.6 280.4,779.4 280.2,779.6 279.2,780.7 278.9,780.7 278.2,780.1 277.7,779.7 277.2,779.6 276.2,779.4 276.2,779.4 275.7,779.8 275.2,780.5 274.2,781.8 273.4,781.9 273.2,781.7 272.9,781.4 272.2,780.9 271.2,780.4 271.1,780.4 270.2,780.7 269.4,780.9 269.2,780.9 268.2,781.4 267.7,781.7 267.2,781.8 266.2,781.7 266.1,781.7 265.2,781.8 264.8,781.9 264.2,782.4 264.2,782.4 263.2,782.6 262.6,782.7 262.2,782.5 262.1,782.5 261.2,782.4 260.2,782.3 259.4,782.5 259.2,782.7 259.0,782.8 258.2,783.2 257.2,783.6 257.1,783.6 257.1,783.6 256.2,783.1 255.2,782.5 254.9,782.4 254.2,782.8 253.8,783.1 253.2,783.4 253.0,783.6 252.2,783.3 251.2,783.0 251.2,783.0 250.2,782.7 250.0,782.8 249.2,783.6 249.2,783.6 248.2,784.2 248.0,784.2 247.2,783.5 247.2,783.5 246.2,783.3 245.7,783.3 245.2,783.5 245.0,783.6 244.2,784.0 244.1,784.0 243.7,784.4 243.2,784.3 242.2,783.9 241.8,783.7 241.2,783.4 241.0,783.3 240.2,783.8 239.5,784.2 239.2,784.4 239.1,784.5 238.2,784.3 237.2,784.1 237.0,784.1 236.9,784.1 236.2,783.9 236.0,783.9 235.2,784.1 234.2,784.4 234.1,784.5 233.8,784.5 233.2,784.4 232.2,784.7 231.4,784.7 231.2,784.7 230.3,784.8 230.2,784.8 229.2,785.5 228.9,785.7 228.2,785.8 227.9,785.7 227.2,785.5 226.2,785.1 226.0,785.1 225.9,785.1 225.8,785.2 225.2,785.7 224.2,786.5 224.1,786.6 223.9,786.5 223.2,786.2 222.2,785.9 221.4,785.6 221.3,785.6 221.2,785.7 220.2,786.2 219.2,786.7 219.1,786.8 218.3,786.5 218.2,786.5 218.0,786.5 217.2,786.3 216.7,786.1 216.2,786.3 215.4,786.6 215.2,786.6 214.4,786.8 214.2,786.8 213.2,786.7 212.6,786.5 212.2,786.4 211.2,786.2 211.1,786.2 210.4,786.6 210.2,786.7 209.9,786.8 209.2,787.0 208.2,787.1 208.1,787.1 207.4,787.0 207.2,787.0 206.2,787.7 205.5,787.6 205.3,787.5 205.2,787.5 204.7,787.6 204.2,787.5 203.2,787.4 202.4,787.5 202.3,787.5 202.2,787.6 201.7,787.8 201.2,787.9 200.2,788.0 199.3,787.5 199.2,787.4 199.1,787.3 198.2,787.6 197.2,788.1 197.1,788.1 197.0,788.2 196.2,788.4 196.1,788.5 195.2,788.0 195.0,787.9 194.9,787.9 194.7,787.8 194.2,787.6 194.1,787.6 193.2,787.9 192.8,788.0 192.2,788.2 191.9,788.3 191.5,788.3 191.2,788.3 190.5,788.2 190.2,788.2 189.4,788.3 189.2,788.3 188.8,788.3 188.2,788.6 187.6,788.9 187.4,788.9 187.2,789.0 186.9,789.1 186.2,789.0 185.3,788.8 185.2,788.7 184.8,788.6 184.3,788.8 184.2,788.9 184.0,789.0 183.2,789.4 182.2,789.8 181.8,789.9 181.5,789.9 181.2,789.8 180.2,789.6 179.3,789.5 179.2,789.5 179.0,789.6 178.2,789.9 177.2,790.2 176.9,790.3 176.2,790.3 176.2,790.3 175.8,790.3 175.2,790.3 175.0,790.3 174.2,790.4 173.5,790.5 173.4,790.5 173.2,790.7 172.2,791.1 171.2,791.4 171.2,791.4 170.2,791.3 170.2,791.3 169.2,791.4 168.3,791.3 168.3,791.3 168.2,791.3 167.6,791.4 167.2,791.6 167.1,791.6 166.2,792.1 165.8,792.4 165.2,792.5 164.6,792.3 164.2,792.1 163.2,791.8 163.1,791.8 162.4,792.1 162.2,792.1 162.0,792.2 161.2,792.9 160.3,793.8 160.2,793.7 159.7,793.5 159.2,793.1 158.2,793.1 157.5,793.0 157.2,793.0 156.7,792.8 156.2,792.9 155.2,793.3 154.2,793.8 154.0,793.9 153.7,794.0 153.2,793.9 152.2,793.4 151.4,793.1 151.2,793.2 150.9,793.4 150.2,793.8 149.2,794.1 148.5,794.1 148.2,794.1 148.1,794.1 147.2,794.0 146.2,794.0 145.8,793.9 145.6,794.0 145.2,794.1 144.2,794.4 143.8,794.6 143.2,794.5 142.3,794.5 142.2,794.5 141.2,794.5 140.4,794.4 140.2,794.5 140.1,794.5 139.2,795.0 138.2,795.6 138.0,795.6 137.4,795.8 137.2,795.7 136.2,795.6 135.6,795.5 135.2,795.5 134.2,795.2 133.9,795.1 133.2,795.4 132.7,795.7 132.2,795.9 131.2,796.5 130.4,796.9 130.4,796.9 130.2,796.9 129.2,796.6 128.4,796.3 128.2,796.3 127.4,796.3 127.2,796.3 126.2,796.7 125.7,796.7 125.2,796.6 124.2,796.8 123.2,796.6 122.7,796.7 122.2,796.7 121.2,796.7 120.8,796.6 120.2,796.7 120.0,796.8 119.2,796.9 118.2,797.2 117.4,797.6 117.2,797.7 116.6,797.5 116.2,797.4 115.5,797.2 115.2,797.3 114.7,797.7 114.2,798.2 113.3,798.5 113.2,798.5 112.2,798.3 111.7,798.2 111.2,798.0 110.4,797.7 110.2,797.7 109.2,798.0 109.2,798.0 108.3,798.3 108.2,798.3 107.2,798.1 106.3,798.3 106.2,798.4 105.9,798.6 105.2,798.8 104.2,798.9 103.7,798.9 103.2,798.9 103.0,798.8 102.2,798.7 101.2,798.5 101.1,798.5 100.5,798.8 100.2,798.9 99.2,799.3 98.6,799.6 98.5,799.6 98.2,799.5 97.2,799.2 96.7,799.0 96.2,799.1 95.7,799.3 95.2,799.5 94.2,799.9 93.9,800.0 93.2,799.9 92.8,799.9 92.2,799.8 91.2,799.7 90.6,799.6 90.5,799.6 90.2,799.7 89.2,800.2 88.4,800.3 88.2,800.3 87.7,800.5 87.2,800.5 86.5,800.5 86.2,800.5 85.2,799.9 84.5,799.8 84.2,800.0 83.7,800.2 83.2,800.4 82.2,800.4 81.4,800.5 81.2,800.5 80.5,800.5 80.2,800.5 79.2,800.5 78.8,800.5 78.2,800.7 77.4,801.0 77.2,801.0 76.2,801.4 76.2,801.4 75.2,801.3 74.2,801.1Z" fill="#c7cfec"/>
<path d="M74.2,790.0 75.2,789.6 76.2,788.7 76.2,788.7 77.2,787.8 77.4,787.8 78.2,788.4 78.8,788.8 79.2,789.2 80.2,789.6 80.5,789.6 81.2,789.2 81.4,789.0 82.2,788.2 83.2,787.0 83.7,787.1 84.2,787.5 84.5,787.9 85.2,788.5 86.2,789.0 86.5,789.1 87.2,788.5 87.7,788.1 88.2,787.6 88.4,787.4 89.2,788.0 90.2,788.6 90.5,788.8 90.6,788.9 91.2,788.3 92.2,787.9 92.8,787.7 93.2,787.8 93.9,787.9 94.2,788.0 95.2,788.1 95.7,788.2 96.2,787.9 96.7,787.8 97.2,787.8 98.2,787.6 98.5,787.6 98.6,787.6 99.2,787.9 100.2,788.2 100.5,788.2 101.1,787.9 101.2,787.9 102.2,787.4 103.0,787.0 103.2,787.0 103.7,787.1 104.2,787.2 105.2,787.5 105.9,787.6 106.2,787.3 106.3,787.2 107.2,786.3 108.2,785.2 108.3,785.1 109.2,784.2 109.2,784.2 110.2,785.5 110.4,785.8 111.2,786.6 111.7,786.8 112.2,786.6 113.2,785.7 113.3,785.6 114.2,784.5 114.7,783.8 115.2,784.0 115.5,784.3 116.2,785.0 116.6,785.4 117.2,784.9 117.4,784.7 118.2,784.5 119.2,785.1 120.0,784.6 120.2,784.6 120.8,785.0 121.2,785.2 122.2,785.7 122.7,785.9 123.2,785.6 124.2,784.7 125.2,784.0 125.7,783.7 126.2,783.8 127.2,784.2 127.4,784.3 128.2,784.6 128.4,784.7 129.2,784.4 130.2,783.2 130.4,783.0 130.4,782.9 131.2,782.7 132.2,783.1 132.7,783.3 133.2,783.1 133.9,783.2 134.2,783.2 135.2,783.1 135.6,783.1 136.2,783.4 137.2,783.0 137.4,782.9 138.0,782.6 138.2,782.3 139.2,781.6 140.1,782.0 140.2,782.1 140.4,782.6 141.2,782.9 142.2,783.0 142.3,783.0 143.2,782.4 143.8,782.0 144.2,781.8 145.2,781.5 145.6,781.4 145.8,781.6 146.2,781.7 147.2,782.0 148.1,782.4 148.2,782.4 148.5,782.5 149.2,782.1 150.2,781.6 150.9,780.9 151.2,781.0 151.4,781.0 152.2,781.3 153.2,781.8 153.7,782.0 154.0,782.1 154.2,781.9 155.2,780.9 156.2,780.5 156.7,780.5 157.2,780.4 157.5,780.2 158.2,780.4 159.2,780.5 159.7,780.5 160.2,780.8 160.3,780.9 161.2,780.6 162.0,779.6 162.2,779.4 162.4,779.1 163.1,779.5 163.2,779.6 164.2,780.7 164.6,780.6 165.2,780.0 165.8,779.4 166.2,779.1 167.1,778.5 167.2,778.6 167.6,778.8 168.2,779.1 168.3,779.1 168.3,779.1 169.2,779.5 170.2,779.5 170.2,779.5 171.2,778.6 171.2,778.6 172.2,778.3 173.2,777.9 173.4,777.7 173.5,777.7 174.2,777.7 175.0,777.8 175.2,777.8 175.8,777.9 176.2,777.9 176.2,777.9 176.9,777.6 177.2,777.9 178.2,778.0 179.0,777.2 179.2,777.2 179.3,777.2 180.2,777.2 181.2,777.3 181.5,777.5 181.8,777.5 182.2,777.5 183.2,777.5 184.0,777.1 184.2,777.0 184.3,776.9 184.8,776.9 185.2,776.9 185.3,776.9 186.2,777.0 186.9,777.0 187.2,777.0 187.4,777.0 187.6,777.0 188.2,776.6 188.8,776.2 189.2,776.0 189.4,775.9 190.2,775.7 190.5,775.6 191.2,775.7 191.5,775.7 191.9,775.7 192.2,775.7 192.8,775.7 193.2,775.3 194.1,774.4 194.2,774.2 194.7,773.5 194.9,773.4 195.0,773.4 195.2,773.3 196.1,773.7 196.2,773.8 197.0,774.4 197.1,774.4 197.2,774.4 198.2,773.8 199.1,773.2 199.2,773.1 199.3,773.0 200.2,772.7 201.2,772.5 201.7,772.5 202.2,772.6 202.3,772.7 202.4,772.7 203.2,772.2 204.2,770.8 204.7,770.6 205.2,770.9 205.3,771.0 205.5,771.1 206.2,770.8 207.2,770.4 207.4,770.5 208.1,769.7 208.2,769.6 209.2,768.8 209.9,768.5 210.2,768.6 210.4,768.6 211.1,768.6 211.2,768.6 212.2,768.7 212.6,769.1 213.2,768.7 214.2,768.0 214.4,767.7 215.2,766.8 215.4,766.4 216.2,765.6 216.7,765.2 217.2,765.9 218.0,767.1 218.2,767.3 218.3,767.4 219.1,767.3 219.2,767.2 220.2,766.5 221.2,766.0 221.3,765.9 221.4,765.9 222.2,765.9 223.2,765.2 223.9,765.2 224.1,765.2 224.2,765.1 225.2,764.8 225.8,763.7 225.9,763.6 226.0,763.6 226.2,763.4 227.2,763.4 227.9,763.7 228.2,763.4 228.9,762.9 229.2,762.8 230.2,761.7 230.3,761.5 231.2,761.0 231.4,760.9 232.2,760.7 233.2,761.0 233.8,761.9 234.1,762.0 234.2,762.1 235.2,761.2 236.0,760.3 236.2,760.1 236.9,759.4 237.0,759.4 237.2,759.4 238.2,759.3 239.1,759.4 239.2,759.4 239.5,759.5 240.2,758.8 241.0,758.0 241.2,757.7 241.8,756.6 242.2,756.0 243.2,756.0 243.7,756.6 244.1,757.1 244.2,757.0 245.0,755.9 245.2,755.6 245.7,755.0 246.2,754.4 247.2,753.2 247.2,753.2 248.0,753.8 248.2,753.9 249.2,754.2 249.2,754.1 250.0,752.9 250.2,752.6 251.2,751.0 251.2,751.0 252.2,751.0 253.0,751.0 253.2,751.0 253.8,751.0 254.2,750.6 254.9,749.7 255.2,749.3 256.2,747.9 257.1,746.5 257.1,746.5 257.2,746.5 258.2,747.1 259.0,747.5 259.2,747.2 259.4,746.9 260.2,745.9 261.2,744.6 262.1,743.4 262.2,743.4 262.6,743.4 263.2,743.2 264.2,742.6 264.2,742.6 264.8,740.7 265.2,739.1 266.1,737.6 266.2,737.7 267.2,738.8 267.7,739.2 268.2,739.6 269.2,740.2 269.4,740.2 270.2,738.7 271.1,736.9 271.2,736.7 272.2,734.8 272.9,733.3 273.2,733.3 273.4,733.3 274.2,733.2 275.2,733.7 275.7,734.3 276.2,734.0 276.2,733.9 277.2,732.5 277.7,731.7 278.2,731.6 278.9,731.2 279.2,731.0 280.2,730.1 280.4,729.9 281.2,727.6 281.9,726.1 282.2,725.8 283.2,724.9 283.9,724.2 283.9,724.1 284.2,724.0 285.2,723.5 285.9,723.4 286.2,722.7 286.8,721.5 287.2,720.7 288.2,718.6 288.4,718.1 289.2,718.1 290.1,718.6 290.2,718.7 290.5,718.5 291.2,716.6 292.2,714.2 293.1,711.8 293.2,711.4 293.3,711.1 294.2,710.6 295.2,711.2 295.6,711.4 296.2,710.2 296.4,709.9 297.2,708.2 298.1,706.5 298.2,706.5 298.6,706.8 299.2,707.2 300.2,707.4 300.6,707.3 300.9,706.5 301.2,705.1 302.2,698.9 302.4,698.2 303.2,700.9 303.5,702.2 304.2,703.0 304.9,703.3 305.2,702.4 305.7,701.0 306.2,699.5 307.2,696.8 307.8,695.6 308.2,696.3 308.7,695.9 309.2,695.5 310.2,694.7 310.5,695.1 311.2,693.4 311.8,691.9 312.2,691.0 312.6,690.0 313.2,690.6 314.2,691.4 314.6,691.7 315.2,692.1 315.6,692.4 316.2,691.4 317.2,689.7 317.3,689.5 317.6,689.1 318.2,689.2 319.2,689.0 320.2,688.7 320.5,688.4 320.5,688.4 321.2,685.9 322.2,683.0 322.9,681.5 323.2,681.5 323.2,681.5 324.2,679.7 325.2,678.8 326.2,679.0 326.7,676.2 327.2,673.1 328.2,669.7 329.2,668.6 329.3,668.5 330.1,669.4 330.2,669.4 331.2,669.8 331.9,670.0 332.2,670.0 332.4,669.9 333.2,667.2 334.2,663.8 334.4,663.2 334.8,662.9 335.2,662.5 336.2,661.5 337.2,660.6 337.6,660.4 338.0,659.2 338.2,658.4 339.1,655.4 339.1,771.0 338.2,771.3 338.0,771.3 337.6,771.7 337.2,772.1 336.2,772.4 335.2,772.5 334.8,772.9 334.4,773.0 334.2,773.1 333.2,773.0 332.4,772.0 332.2,771.7 331.9,771.8 331.2,773.1 330.2,775.0 330.1,775.1 329.3,774.4 329.2,774.3 328.2,773.5 327.2,772.8 326.7,772.6 326.2,773.2 325.2,774.5 324.2,775.3 323.2,775.7 323.2,775.7 322.9,775.4 322.2,774.7 321.2,774.1 320.5,773.6 320.5,773.6 320.2,773.8 319.2,774.6 318.2,775.3 317.6,775.7 317.3,775.8 317.2,775.7 316.2,774.8 315.6,774.5 315.2,774.5 314.6,774.6 314.2,774.8 313.2,775.5 312.6,775.9 312.2,776.1 311.8,776.3 311.2,775.9 310.5,775.7 310.2,775.7 309.2,775.6 308.7,775.3 308.2,775.6 307.8,775.8 307.2,776.1 306.2,776.4 305.7,776.6 305.2,776.2 304.9,776.1 304.2,775.9 303.5,775.7 303.2,775.9 302.4,775.9 302.2,775.9 301.2,776.1 300.9,776.2 300.6,776.1 300.2,776.0 299.2,776.0 298.6,776.0 298.2,776.2 298.1,776.2 297.2,776.8 296.4,777.6 296.2,777.6 295.6,777.6 295.2,777.3 294.2,776.7 293.3,776.2 293.2,776.1 293.1,776.1 292.2,776.6 291.2,777.2 290.5,777.6 290.2,777.7 290.1,777.8 289.2,777.8 288.4,777.7 288.2,777.7 287.2,777.5 286.8,777.3 286.2,777.5 285.9,777.6 285.2,777.9 284.2,778.8 283.9,779.1 283.9,779.1 283.2,778.8 282.2,778.2 281.9,778.1 281.2,778.6 280.4,779.4 280.2,779.6 279.2,780.7 278.9,780.7 278.2,780.1 277.7,779.7 277.2,779.6 276.2,779.4 276.2,779.4 275.7,779.8 275.2,780.5 274.2,781.8 273.4,781.9 273.2,781.7 272.9,781.4 272.2,780.9 271.2,780.4 271.1,780.4 270.2,780.7 269.4,780.9 269.2,780.9 268.2,781.4 267.7,781.7 267.2,781.8 266.2,781.7 266.1,781.7 265.2,781.8 264.8,781.9 264.2,782.4 264.2,782.4 263.2,782.6 262.6,782.7 262.2,782.5 262.1,782.5 261.2,782.4 260.2,782.3 259.4,782.5 259.2,782.7 259.0,782.8 258.2,783.2 257.2,783.6 257.1,783.6 257.1,783.6 256.2,783.1 255.2,782.5 254.9,782.4 254.2,782.8 253.8,783.1 253.2,783.4 253.0,783.6 252.2,783.3 251.2,783.0 251.2,783.0 250.2,782.7 250.0,782.8 249.2,783.6 249.2,783.6 248.2,784.2 248.0,784.2 247.2,783.5 247.2,783.5 246.2,783.3 245.7,783.3 245.2,783.5 245.0,783.6 244.2,784.0 244.1,784.0 243.7,784.4 243.2,784.3 242.2,783.9 241.8,783.7 241.2,783.4 241.0,783.3 240.2,783.8 239.5,784.2 239.2,784.4 239.1,784.5 238.2,784.3 237.2,784.1 237.0,784.1 236.9,784.1 236.2,783.9 236.0,783.9 235.2,784.1 234.2,784.4 234.1,784.5 233.8,784.5 233.2,784.4 232.2,784.7 231.4,784.7 231.2,784.7 230.3,784.8 230.2,784.8 229.2,785.5 228.9,785.7 228.2,785.8 227.9,785.7 227.2,785.5 226.2,785.1 226.0,785.1 225.9,785.1 225.8,785.2 225.2,785.7 224.2,786.5 224.1,786.6 223.9,786.5 223.2,786.2 222.2,785.9 221.4,785.6 221.3,785.6 221.2,785.7 220.2,786.2 219.2,786.7 219.1,786.8 218.3,786.5 218.2,786.5 218.0,786.5 217.2,786.3 216.7,786.1 216.2,786.3 215.4,786.6 215.2,786.6 214.4,786.8 214.2,786.8 213.2,786.7 212.6,786.5 212.2,786.4 211.2,786.2 211.1,786.2 210.4,786.6 210.2,786.7 209.9,786.8 209.2,787.0 208.2,787.1 208.1,787.1 207.4,787.0 207.2,787.0 206.2,787.7 205.5,787.6 205.3,787.5 205.2,787.5 204.7,787.6 204.2,787.5 203.2,787.4 202.4,787.5 202.3,787.5 202.2,787.6 201.7,787.8 201.2,787.9 200.2,788.0 199.3,787.5 199.2,787.4 199.1,787.3 198.2,787.6 197.2,788.1 197.1,788.1 197.0,788.2 196.2,788.4 196.1,788.5 195.2,788.0 195.0,787.9 194.9,787.9 194.7,787.8 194.2,787.6 194.1,787.6 193.2,787.9 192.8,788.0 192.2,788.2 191.9,788.3 191.5,788.3 191.2,788.3 190.5,788.2 190.2,788.2 189.4,788.3 189.2,788.3 188.8,788.3 188.2,788.6 187.6,788.9 187.4,788.9 187.2,789.0 186.9,789.1 186.2,789.0 185.3,788.8 185.2,788.7 184.8,788.6 184.3,788.8 184.2,788.9 184.0,789.0 183.2,789.4 182.2,789.8 181.8,789.9 181.5,789.9 181.2,789.8 180.2,789.6 179.3,789.5 179.2,789.5 179.0,789.6 178.2,789.9 177.2,790.2 176.9,790.3 176.2,790.3 176.2,790.3 175.8,790.3 175.2,790.3 175.0,790.3 174.2,790.4 173.5,790.5 173.4,790.5 173.2,790.7 172.2,791.1 171.2,791.4 171.2,791.4 170.2,791.3 170.2,791.3 169.2,791.4 168.3,791.3 168.3,791.3 168.2,791.3 167.6,791.4 167.2,791.6 167.1,791.6 166.2,792.1 165.8,792.4 165.2,792.5 164.6,792.3 164.2,792.1 163.2,791.8 163.1,791.8 162.4,792.1 162.2,792.1 162.0,792.2 161.2,792.9 160.3,793.8 160.2,793.7 159.7,793.5 159.2,793.1 158.2,793.1 157.5,793.0 157.2,793.0 156.7,792.8 156.2,792.9 155.2,793.3 154.2,793.8 154.0,793.9 153.7,794.0 153.2,793.9 152.2,793.4 151.4,793.1 151.2,793.2 150.9,793.4 150.2,793.8 149.2,794.1 148.5,794.1 148.2,794.1 148.1,794.1 147.2,794.0 146.2,794.0 145.8,793.9 145.6,794.0 145.2,794.1 144.2,794.4 143.8,794.6 143.2,794.5 142.3,794.5 142.2,794.5 141.2,794.5 140.4,794.4 140.2,794.5 140.1,794.5 139.2,795.0 138.2,795.6 138.0,795.6 137.4,795.8 137.2,795.7 136.2,795.6 135.6,795.5 135.2,795.5 134.2,795.2 133.9,795.1 133.2,795.4 132.7,795.7 132.2,795.9 131.2,796.5 130.4,796.9 130.4,796.9 130.2,796.9 129.2,796.6 128.4,796.3 128.2,796.3 127.4,796.3 127.2,796.3 126.2,796.7 125.7,796.7 125.2,796.6 124.2,796.8 123.2,796.6 122.7,796.7 122.2,796.7 121.2,796.7 120.8,796.6 120.2,796.7 120.0,796.8 119.2,796.9 118.2,797.2 117.4,797.6 117.2,797.7 116.6,797.5 116.2,797.4 115.5,797.2 115.2,797.3 114.7,797.7 114.2,798.2 113.3,798.5 113.2,798.5 112.2,798.3 111.7,798.2 111.2,798.0 110.4,797.7 110.2,797.7 109.2,798.0 109.2,798.0 108.3,798.3 108.2,798.3 107.2,798.1 106.3,798.3 106.2,798.4 105.9,798.6 105.2,798.8 104.2,798.9 103.7,798.9 103.2,798.9 103.0,798.8 102.2,798.7 101.2,798.5 101.1,798.5 100.5,798.8 100.2,798.9 99.2,799.3 98.6,799.6 98.5,799.6 98.2,799.5 97.2,799.2 96.7,799.0 96.2,799.1 95.7,799.3 95.2,799.5 94.2,799.9 93.9,800.0 93.2,799.9 92.8,799.9 92.2,799.8 91.2,799.7 90.6,799.6 90.5,799.6 90.2,799.7 89.2,800.2 88.4,800.3 88.2,800.3 87.7,800.5 87.2,800.5 86.5,800.5 86.2,800.5 85.2,799.9 84.5,799.8 84.2,800.0 83.7,800.2 83.2,800.4 82.2,800.4 81.4,800.5 81.2,800.5 80.5,800.5 80.2,800.5 79.2,800.5 78.8,800.5 78.2,800.7 77.4,801.0 77.2,801.0 76.2,801.4 76.2,801.4 75.2,801.3 74.2,801.1Z" fill="#c4bccf" clip-path="url(#cs4)"/>
<path d="M162.1,787.5 163.1,787.3 164.1,787.0 165.1,786.8 166.1,786.6 167.1,786.4 168.1,786.4 169.1,786.4 170.1,786.4 171.1,786.4 172.1,786.2 173.1,786.0 174.1,785.8 175.1,785.6 176.1,785.4 177.1,785.1 178.1,785.0 179.1,784.9 180.1,784.8 181.1,784.8 182.1,784.7 183.1,784.4 184.1,784.2 185.1,784.0 186.1,783.8 187.1,783.6 188.1,783.5 189.1,783.3 190.1,783.3 191.1,783.2 192.1,783.3 193.1,783.5 194.1,783.2 195.1,782.7 196.1,782.1 197.1,782.0 198.1,782.0 199.1,782.0 200.1,782.0 201.1,782.0 202.1,782.1 203.1,781.9 204.1,781.8 205.1,781.6 206.1,781.4 207.1,781.3 208.1,781.0 209.1,780.6 210.1,780.2 211.1,779.9 212.1,779.6 213.1,779.7 214.1,779.9 215.1,779.6 216.1,779.4 217.1,779.2 218.1,779.1 219.1,778.9 220.1,778.8 221.1,778.6 222.1,778.4 223.1,778.2 224.1,778.1 225.1,778.0 226.1,777.6 227.1,777.2 228.1,776.8 229.1,776.8 230.1,776.8 231.1,776.7 232.1,776.5 233.1,776.2 234.1,775.8 235.1,775.6 236.1,775.5 237.1,775.5 238.1,775.4 239.1,775.2 240.1,775.0 241.1,774.7 242.1,774.4 243.1,773.8 244.1,773.4 245.1,773.4 246.1,773.4 247.1,773.3 248.1,773.2 249.1,773.1 250.1,773.1 251.1,772.6 252.1,772.2 253.1,771.8 254.1,771.3 255.1,771.1 256.1,771.1 257.1,771.0 258.1,770.6 259.1,770.0 260.1,769.7 261.1,769.6 262.1,769.4 263.1,769.2 264.1,769.0 265.1,768.7 266.1,768.4 267.1,768.1 268.1,767.8 269.1,767.5 270.1,767.2 271.1,766.8 272.1,766.4 273.1,766.1 274.1,766.0 275.1,765.8 276.1,765.7 277.1,765.6 278.1,765.3 279.1,765.0 280.1,764.7 281.1,764.5 282.1,764.1 283.1,763.8 284.1,763.3 285.1,762.7 286.1,762.2 287.1,761.7 288.1,761.3 289.1,760.9 290.1,760.8 291.1,760.6 292.1,760.4 293.1,759.7 294.1,758.9 295.1,758.7 296.1,758.5 297.1,758.3 298.1,757.9 299.1,757.4 300.1,756.9 301.1,756.7 302.1,756.6 303.1,756.4 304.1,756.2 305.1,755.8 306.1,755.5 307.1,755.0 308.1,754.4 309.1,753.7 310.1,753.3 311.1,753.1 312.1,752.8 313.1,752.4 314.1,751.7 315.1,751.0 316.1,750.7 317.1,750.4 318.1,750.0 319.1,749.6 320.1,749.1 321.1,748.4 322.1,747.9 323.1,747.8 324.1,747.2 325.1,746.4 326.1,745.9 327.1,745.5 328.1,745.2 329.1,744.8 330.1,744.3 331.1,743.9 332.1,743.5 333.1,743.0 334.1,742.1 335.1,741.4 336.1,741.0 337.1,740.6 338.1,740.1 339.1,739.4" stroke="#1f4e9e" stroke-width="1.5" fill="none" stroke-linejoin="round"/>
<g fill="#0b7439"><circle cx="74.2" cy="791.7" r="2.45"/><circle cx="77.0" cy="785.4" r="2.45"/><circle cx="77.0" cy="794.2" r="2.45"/><circle cx="79.8" cy="797.3" r="2.45"/><circle cx="82.6" cy="798.0" r="2.45"/><circle cx="85.1" cy="799.4" r="2.45"/><circle cx="87.2" cy="792.4" r="2.45"/><circle cx="89.3" cy="796.6" r="2.45"/><circle cx="92.5" cy="794.9" r="2.45"/><circle cx="94.6" cy="786.4" r="2.45"/><circle cx="97.4" cy="796.6" r="2.45"/><circle cx="100.2" cy="797.7" r="2.45"/><circle cx="103.0" cy="794.2" r="2.45"/><circle cx="105.8" cy="795.6" r="2.45"/><circle cx="107.9" cy="792.0" r="2.45"/><circle cx="109.0" cy="785.0" r="2.45"/><circle cx="110.7" cy="797.0" r="2.45"/><circle cx="112.8" cy="785.0" r="2.45"/><circle cx="115.3" cy="786.1" r="2.45"/><circle cx="113.9" cy="790.3" r="2.45"/><circle cx="116.7" cy="794.5" r="2.45"/><circle cx="119.2" cy="781.5" r="2.45"/><circle cx="116.7" cy="786.1" r="2.45"/><circle cx="117.4" cy="794.5" r="2.45"/><circle cx="121.6" cy="788.9" r="2.45"/><circle cx="123.7" cy="785.4" r="2.45"/><circle cx="125.8" cy="796.6" r="2.45"/><circle cx="127.2" cy="782.6" r="2.45"/><circle cx="129.0" cy="792.4" r="2.45"/><circle cx="131.8" cy="788.2" r="2.45"/><circle cx="133.9" cy="794.5" r="2.45"/><circle cx="135.7" cy="798.7" r="2.45"/><circle cx="137.4" cy="784.7" r="2.45"/><circle cx="139.2" cy="798.0" r="2.45"/><circle cx="140.2" cy="780.4" r="2.45"/><circle cx="142.7" cy="791.3" r="2.45"/><circle cx="144.8" cy="777.6" r="2.45"/><circle cx="145.5" cy="788.2" r="2.45"/><circle cx="147.6" cy="793.4" r="2.45"/><circle cx="150.4" cy="791.7" r="2.45"/><circle cx="153.6" cy="786.4" r="2.45"/><circle cx="155.0" cy="789.6" r="2.45"/><circle cx="156.7" cy="796.6" r="2.45"/><circle cx="159.5" cy="793.1" r="2.45"/><circle cx="160.9" cy="786.1" r="2.45"/><circle cx="163.0" cy="795.9" r="2.45"/><circle cx="164.5" cy="801.5" r="2.45"/><circle cx="165.5" cy="808.5" r="2.45"/><circle cx="160.0" cy="785.9" r="2.45"/><circle cx="159.4" cy="793.4" r="2.45"/><circle cx="163.5" cy="796.1" r="2.45"/><circle cx="165.5" cy="800.9" r="2.45"/><circle cx="166.9" cy="808.4" r="2.45"/><circle cx="168.3" cy="813.2" r="2.45"/><circle cx="170.3" cy="804.3" r="2.45"/><circle cx="173.0" cy="805.7" r="2.45"/><circle cx="175.1" cy="792.0" r="2.45"/><circle cx="177.8" cy="797.5" r="2.45"/><circle cx="180.6" cy="795.4" r="2.45"/><circle cx="182.6" cy="799.5" r="2.45"/></g>
<path d="M74.9,796.3 75.4,795.8 75.9,795.4 76.4,795.2 76.9,795.3 77.4,795.5 77.9,795.7 78.4,795.6 78.9,795.4 79.4,795.3 79.9,795.1 80.4,795.0 80.9,795.0 81.4,795.0 81.9,795.0 82.4,795.1 82.9,795.1 83.4,795.2 83.9,795.2 84.4,795.2 84.9,795.1 85.4,795.1 85.9,795.1 86.4,795.1 86.9,795.1 87.4,795.1 87.9,795.1 88.4,795.1 88.9,795.0 89.4,794.6 89.9,794.4 90.4,794.1 90.9,793.9 91.4,793.8 91.9,793.9 92.4,794.1 92.9,794.2 93.4,794.2 93.9,794.3 94.4,794.3 94.9,794.2 95.4,794.1 95.9,794.0 96.4,793.8 96.9,793.6 97.4,793.4 97.9,793.3 98.4,793.2 98.9,793.1 99.4,793.2 99.9,793.3 100.4,793.4 100.9,793.4 101.4,793.5 101.9,793.5 102.4,793.4 102.9,793.3 103.4,793.2 103.9,793.1 104.4,793.0 104.9,793.0 105.4,793.0 105.9,793.1 106.4,793.2 106.9,793.2 107.4,793.2 107.9,793.2 108.4,793.1 108.9,792.8 109.4,792.6 109.9,792.5 110.4,792.5 110.9,792.4 111.4,792.2 111.9,791.9 112.4,791.8 112.9,791.9 113.4,792.0 113.9,792.1 114.4,792.1 114.9,792.2 115.4,792.2 115.9,792.2 116.4,792.2 116.9,792.2 117.4,792.1 117.9,791.9 118.4,791.7 118.9,791.7 119.4,791.7 119.9,791.6 120.4,791.5 120.9,791.3 121.4,791.2 121.9,791.1 122.4,791.0 122.9,791.0 123.4,791.0 123.9,791.0 124.4,791.1 124.9,791.2 125.4,791.3 125.9,791.3 126.4,791.3 126.9,791.3 127.4,791.2 127.9,791.1 128.4,790.9 128.9,790.8 129.4,790.8 129.9,790.9 130.4,790.9 130.9,790.9 131.4,790.9 131.9,790.9 132.4,790.7 132.9,790.1 133.4,789.8 133.9,789.7 134.4,789.6 134.9,789.6 135.4,789.6 135.9,789.7 136.4,789.7 136.9,789.6 137.4,789.5 137.9,789.5 138.4,789.5 138.9,789.7 139.4,789.7 139.9,789.6 140.4,789.3 140.9,789.1 141.4,789.2 141.9,789.2 142.4,789.3 142.9,789.3 143.4,789.2 143.9,789.2 144.4,789.1 144.9,789.1 145.4,789.0 145.9,788.9 146.4,788.9 146.9,788.8 147.4,788.6 147.9,788.3 148.4,788.1 148.9,788.1 149.4,788.0 149.9,788.0 150.4,788.0 150.9,788.0 151.4,788.1 151.9,788.1 152.4,788.2 152.9,788.3 153.4,788.3 153.9,788.2 154.4,788.2 154.9,788.2 155.4,788.1 155.9,788.1 156.4,788.0 156.9,787.9 157.4,787.8 157.9,787.9 158.4,788.0 158.9,788.1 159.4,788.0 159.9,787.8 160.4,787.6 160.9,787.3 161.4,787.1 161.9,787.2 162.4,787.8 162.9,788.7 163.4,789.9 163.9,791.2 164.4,792.6 164.9,794.5 165.4,796.9 165.9,799.6 166.4,802.3 166.9,804.8 167.4,806.8 167.9,808.1 168.4,808.4 168.9,808.0 169.4,807.2 169.9,806.1 170.4,804.8 170.9,803.5 171.4,802.2 171.9,801.2 172.4,800.1 172.9,798.9 173.4,797.6 173.9,796.5 174.4,795.4 174.9,794.6 175.4,794.1 175.9,794.0 176.4,794.0 176.9,794.1 177.4,794.3 177.9,794.4 178.4,794.6 178.9,794.9 179.4,795.1 179.9,795.4 180.4,795.8 180.9,796.5 181.4,797.4 181.9,798.3 182.4,799.2 182.9,800.0 183.4,800.6 183.9,800.9 184.4,800.7 184.9,800.0 185.4,798.9 185.9,797.4 186.4,795.8 186.9,793.8 187.4,790.5 187.9,786.0 188.4,781.1 188.9,776.5 189.4,772.9 189.9,770.1 190.4,767.4 190.9,765.0 191.4,763.0 191.9,761.3 192.4,760.2 192.9,759.2 193.4,758.3 193.9,757.6 194.4,757.2 194.9,757.4 195.4,758.2 195.9,759.6 196.4,761.2 196.9,762.8 197.4,764.3 197.9,765.3 198.4,766.3 198.9,767.2 199.4,768.2 199.9,769.0 200.4,769.8 200.9,770.5 201.4,771.2 201.9,771.7 202.4,772.2 202.9,772.6 203.4,773.0 203.9,773.4 204.4,773.8 204.9,774.1 205.4,774.4 205.9,774.8 206.4,775.2 206.9,775.5 207.4,775.9 207.9,776.2 208.4,776.4 208.9,776.6 209.4,776.7 209.9,776.7 210.4,776.8 210.9,776.8 211.4,776.9 211.9,776.9 212.4,777.0 212.9,777.0 213.4,777.1 213.9,777.1 214.4,777.1 214.9,777.2 215.4,777.2 215.9,777.2 216.4,777.2 216.9,777.3 217.4,777.3 217.9,777.3 218.4,777.3 218.9,777.3 219.4,777.3 219.9,777.3 220.4,777.3 220.9,777.3 221.4,777.2 221.9,777.2 222.4,777.1 222.9,777.1 223.4,777.0 223.9,777.0 224.4,776.9 224.9,776.8 225.4,776.8 225.9,776.7 226.4,776.6 226.9,776.6 227.4,776.5 227.9,776.4 228.4,776.3 228.9,776.2 229.4,776.1 229.9,776.0 230.4,775.9 230.9,775.8 231.4,775.7 231.9,775.6 232.4,775.5 232.9,775.4 233.4,775.2 233.9,775.1 234.4,775.0 234.9,774.9 235.4,774.8 235.9,774.7 236.4,774.6 236.9,774.5 237.4,774.4 237.9,774.3 238.4,774.3 238.9,774.2 239.4,774.1 239.9,774.0 240.4,773.9 240.9,773.8 241.4,773.8 241.9,773.7 242.4,773.6 242.9,773.5 243.4,773.4 243.9,773.4 244.4,773.3 244.9,773.2 245.0,773.2 246.0,773.7 247.0,773.3 248.0,772.9 249.0,772.9 250.0,772.8 251.0,772.3 252.0,771.8 253.0,771.5 254.0,771.1 255.0,771.0 256.0,771.0 257.0,770.9 258.0,770.9 259.0,770.5 260.0,770.0 261.0,769.7 262.0,769.4 263.0,769.0 264.0,768.5 265.0,768.3 266.0,768.1 267.0,767.9 268.0,767.7 269.0,767.4 270.0,767.2 271.0,767.0 272.0,766.9 273.0,766.7 274.0,766.3 275.0,765.9 276.0,765.5 277.0,765.0 278.0,764.7 279.0,764.6 280.0,764.5 281.0,764.2 282.0,763.8 283.0,763.3 284.0,762.7 285.0,762.1 286.0,761.9 287.0,761.8 288.0,761.6 289.0,761.3 290.0,761.0 291.0,760.8 292.0,760.6 293.0,760.3 294.0,760.0 295.0,759.5 296.0,759.1 297.0,758.7 298.0,758.4 299.0,758.1 300.0,757.9 301.0,757.5 302.0,756.9 303.0,756.3 304.0,755.8 305.0,755.3 306.0,754.8 307.0,754.6 308.0,754.4 309.0,754.1 310.0,753.6 311.0,753.1 312.0,752.5 313.0,752.0 314.0,751.7 315.0,751.3 316.0,751.0 317.0,750.5 318.0,750.0 319.0,749.4 320.0,748.9 321.0,748.3 322.0,748.1 323.0,748.0 324.0,747.7 325.0,746.9 326.0,746.3 327.0,745.7 328.0,745.2 329.0,744.6 330.0,744.1 331.0,743.7 332.0,743.4 333.0,743.0 334.0,742.4 335.0,741.9 336.0,741.2 337.0,740.6 338.0,740.0 339.0,739.8 339.1,739.8" stroke="#ee2a24" stroke-width="1.5" fill="none" stroke-linejoin="round"/>
<path d="M74.20,622.40V836.90M66.60,829.30H339.10M66.60,829.30H74.20M66.60,794.82H74.20M66.60,760.33H74.20M66.60,725.85H74.20M66.60,691.37H74.20M66.60,656.88H74.20M66.60,622.40H74.20M162.50,829.30V836.90M250.80,829.30V836.90M339.10,829.30V836.90" stroke="#231f20" stroke-width="1.25" fill="none"/>
<g font-family="Liberation Sans, sans-serif" font-size="14" fill="#3a3a3a"><text x="65.20" y="834.30" text-anchor="end" font-size="14.5">0</text><text x="65.20" y="799.82" text-anchor="end" font-size="14.5">200</text><text x="65.20" y="765.33" text-anchor="end" font-size="14.5">400</text><text x="65.20" y="730.85" text-anchor="end" font-size="14.5">600</text><text x="65.20" y="696.37" text-anchor="end" font-size="14.5">800</text><text x="65.20" y="661.88" text-anchor="end" font-size="14.5">1000</text><text x="65.20" y="627.40" text-anchor="end" font-size="14.5">1200</text><text x="74.20" y="850.70" text-anchor="middle" font-size="14.5">2015</text><text x="162.50" y="850.70" text-anchor="middle" font-size="14.5">2020</text><text x="250.80" y="850.70" text-anchor="middle" font-size="14.5">2025</text><text x="339.10" y="850.70" text-anchor="middle" font-size="14.5">2030</text><text x="206.65" y="876.90" text-anchor="middle" textLength="26.5" lengthAdjust="spacingAndGlyphs">Year</text><text transform="translate(11.2,725.85) rotate(-90)" x="0" y="0" text-anchor="middle" textLength="99" lengthAdjust="spacingAndGlyphs">Cases diagnosed</text></g>
<text x="66.50" y="602.60" font-family="Liberation Sans, sans-serif" font-size="17.5" fill="#231f20" text-anchor="end" stroke="#231f20" stroke-width="0.55">E</text>
<text x="75.20" y="602.60" font-family="Liberation Sans, sans-serif" font-size="14" fill="#231f20" stroke="#231f20" stroke-width="0.4" textLength="56.5" lengthAdjust="spacingAndGlyphs">Stomach</text>
<path d="M231.3,180.8 L255.5,180.8" stroke="#ee2a24" stroke-width="1.8"/>
<path d="M231.3,199.8 L255.5,199.8" stroke="#1f4e9e" stroke-width="1.8"/>
<circle cx="243.4" cy="217.2" r="5.3" fill="#0b7439"/>
<g font-family="Liberation Sans, sans-serif" font-size="14" fill="#3a3a3a"><text x="259.3" y="185.2" textLength="60" lengthAdjust="spacingAndGlyphs">COVID-19</text><text x="259.3" y="204.4" textLength="81" lengthAdjust="spacingAndGlyphs">No COVID-19</text><text x="259.3" y="222.4" textLength="53" lengthAdjust="spacingAndGlyphs">GES data</text></g>
</svg></body></html>
